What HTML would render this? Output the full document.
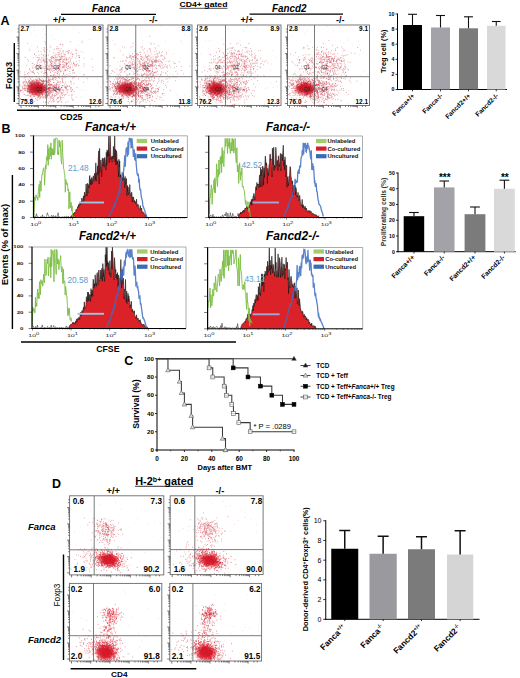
<!DOCTYPE html>
<html><head><meta charset="utf-8"><style>
html,body{margin:0;padding:0;background:#fff;overflow:hidden;}
svg{display:block;}
text{font-family:"Liberation Sans",sans-serif;}
</style></head><body>
<svg width="520" height="678" viewBox="0 0 520 678">
<defs><radialGradient id="rg"><stop offset="0" stop-color="#d0121e" stop-opacity=".95"/><stop offset=".55" stop-color="#d41a26" stop-opacity=".7"/><stop offset="1" stop-color="#e03038" stop-opacity="0"/></radialGradient></defs>
<rect width="520" height="678" fill="#fff"/>
<text x="0.5" y="24.5" font-size="12.5" font-weight="bold" text-anchor="start" fill="#000">A</text>
<text x="92" y="11.8" font-size="11" font-weight="bold" font-style="italic" text-anchor="start" fill="#000" textLength="28.3" lengthAdjust="spacingAndGlyphs">Fanca</text>
<line x1="61" y1="14.3" x2="156" y2="14.3" stroke="#000" stroke-width="1.3"/>
<text x="179.5" y="6.6" font-size="7" font-weight="bold" text-anchor="start" fill="#000" textLength="48" lengthAdjust="spacingAndGlyphs">CD4+ gated</text>
<line x1="179.5" y1="8.3" x2="227.5" y2="8.3" stroke="#000" stroke-width="0.7"/>
<text x="272" y="11.8" font-size="11" font-weight="bold" font-style="italic" text-anchor="start" fill="#000" textLength="34.5" lengthAdjust="spacingAndGlyphs">Fancd2</text>
<line x1="249.6" y1="14.1" x2="343" y2="14.1" stroke="#000" stroke-width="1.3"/>
<text x="53" y="22.5" font-size="9" font-weight="bold" text-anchor="start" fill="#000">+/+</text>
<text x="149" y="22.5" font-size="9" font-weight="bold" text-anchor="start" fill="#000">-/-</text>
<text x="240.5" y="22.5" font-size="9" font-weight="bold" text-anchor="start" fill="#000">+/+</text>
<text x="336" y="22.5" font-size="9" font-weight="bold" text-anchor="start" fill="#000">-/-</text>
<defs><clipPath id="s10"><rect x="19" y="25" width="84" height="80.5"/></clipPath></defs>
<g clip-path="url(#s10)">
<ellipse cx="36.9" cy="88.8" rx="11.5" ry="7.5" fill="url(#rg)" opacity="1.0"/>
<ellipse cx="36.9" cy="88.8" rx="6.5" ry="4.2" fill="url(#rg)" opacity="0.85"/>
<path d="M31.9 85.7h.8M33.4 88.8h.8M35.8 88.7h.8M40.7 91.5h.8M39.0 87.5h.8M33.5 85.7h.8M35.4 88.1h.8M32.5 84.6h.8M38.3 83.2h.8M36.1 89.6h.8M32.5 84.6h.8M33.5 89.9h.8M36.3 82.9h.8M35.0 91.2h.8M41.3 90.9h.8M35.8 82.9h.8M37.7 88.1h.8M37.2 93.1h.8M37.7 89.4h.8M39.6 88.1h.8M33.9 85.9h.8M40.4 90.4h.8M34.7 91.6h.8M37.7 84.7h.8M39.6 88.5h.8M30.9 89.2h.8M35.3 87.1h.8M39.6 82.4h.8M31.2 86.5h.8M38.0 86.7h.8M32.4 84.8h.8M36.4 90.4h.8M30.4 81.5h.8M35.6 87.2h.8M32.8 89.8h.8M40.5 87.3h.8M35.3 90.0h.8M35.0 84.1h.8M36.6 85.8h.8M38.4 87.2h.8M36.0 89.9h.8M36.3 86.6h.8M32.4 93.0h.8M41.9 84.7h.8M32.2 89.6h.8M34.3 88.2h.8M40.6 89.4h.8M36.3 87.0h.8M36.5 89.6h.8M44.7 92.7h.8M36.0 91.1h.8M37.4 84.2h.8M36.4 91.4h.8M34.2 90.9h.8M35.5 88.4h.8M31.5 93.9h.8M38.9 91.7h.8M34.9 83.9h.8M42.4 87.1h.8M44.3 89.0h.8M44.2 87.3h.8M29.0 89.5h.8M36.6 88.5h.8M41.6 86.5h.8M31.1 84.3h.8M29.3 82.2h.8M31.1 84.9h.8M34.8 84.7h.8M36.2 90.6h.8M35.8 89.5h.8M32.6 88.6h.8M38.7 86.6h.8M29.6 86.7h.8M36.4 92.3h.8M34.5 92.5h.8M25.5 85.6h.8M33.9 86.5h.8M33.7 87.4h.8M43.4 88.4h.8M41.3 88.3h.8M36.5 81.0h.8M36.4 89.6h.8M31.0 85.4h.8M32.2 93.4h.8M31.6 85.1h.8M23.9 81.6h.8M36.9 84.2h.8M23.7 85.3h.8M36.4 88.6h.8M37.6 86.2h.8M48.4 87.8h.8M37.9 84.3h.8M33.2 82.9h.8M36.9 86.7h.8M31.5 81.3h.8M38.4 90.4h.8M39.7 88.0h.8M39.1 90.8h.8M38.3 92.3h.8M35.3 88.3h.8M29.3 93.0h.8M32.8 88.4h.8M39.0 86.0h.8M36.0 89.9h.8M35.8 87.1h.8M34.9 85.8h.8M35.5 89.0h.8M38.4 91.5h.8M36.6 86.6h.8M40.1 89.6h.8M40.9 89.3h.8M38.8 89.6h.8M39.7 85.7h.8M36.0 88.6h.8M44.1 89.0h.8M38.5 87.9h.8M27.3 90.6h.8M39.5 92.2h.8M30.4 88.2h.8M37.3 83.7h.8M38.6 86.7h.8M38.7 83.6h.8M32.6 85.6h.8M29.7 87.4h.8M42.3 88.9h.8M39.3 92.8h.8M39.0 87.4h.8M28.0 88.1h.8M35.0 86.7h.8M39.7 90.2h.8M29.5 88.0h.8M35.1 90.5h.8M36.4 90.9h.8M33.6 86.6h.8M34.1 87.4h.8M35.4 91.5h.8M32.1 87.9h.8M31.3 83.3h.8M33.9 83.5h.8M37.3 86.2h.8M34.1 89.2h.8M43.5 87.6h.8M27.8 85.9h.8M36.5 91.5h.8M36.4 85.6h.8M40.7 92.0h.8M35.7 89.0h.8M38.2 96.0h.8M34.0 86.7h.8M36.2 90.4h.8M35.4 89.7h.8M40.7 94.6h.8M36.0 87.4h.8M35.2 82.8h.8M31.5 88.1h.8M37.4 96.0h.8M42.3 91.4h.8M43.3 87.4h.8M34.2 85.9h.8M36.0 94.6h.8M35.6 86.4h.8M36.9 90.9h.8M38.9 91.2h.8M31.4 85.2h.8M35.8 88.6h.8M42.9 85.5h.8M39.7 88.1h.8M39.6 86.9h.8M30.6 91.1h.8M38.1 82.9h.8M39.9 85.9h.8M36.4 88.3h.8M30.8 90.9h.8M34.5 92.9h.8M39.0 90.2h.8M38.0 94.4h.8M32.2 85.5h.8M33.9 91.4h.8M41.5 89.3h.8M38.0 83.8h.8M43.5 88.7h.8M37.4 87.6h.8M39.8 88.2h.8M37.4 88.8h.8M34.6 86.4h.8M38.6 89.8h.8M40.2 93.2h.8M31.3 82.3h.8M35.1 92.0h.8M36.7 83.1h.8M44.0 90.9h.8M30.2 85.2h.8M37.3 86.9h.8M36.3 89.9h.8M36.9 92.6h.8M36.0 92.7h.8M34.3 84.7h.8M27.5 84.7h.8M37.3 91.4h.8M21.5 86.3h.8M32.5 90.0h.8M34.6 89.1h.8M45.0 89.9h.8M36.1 91.3h.8M38.2 88.1h.8M29.7 86.5h.8M29.4 88.1h.8M39.4 89.0h.8M45.1 86.2h.8M38.7 88.8h.8M31.6 89.2h.8M40.5 92.2h.8M36.1 90.2h.8M33.9 92.4h.8M44.9 90.0h.8M37.9 85.5h.8M37.0 87.4h.8M37.9 84.5h.8M44.8 90.1h.8M41.8 90.6h.8M35.6 94.0h.8M41.9 84.8h.8M36.8 87.8h.8M33.3 94.4h.8M31.5 92.2h.8M29.2 91.5h.8M34.6 81.6h.8M38.2 90.1h.8M32.9 91.2h.8M29.4 90.8h.8M39.6 94.1h.8M35.2 90.9h.8M34.4 90.6h.8M38.1 91.1h.8M31.3 89.2h.8M38.7 93.2h.8M35.5 87.9h.8M39.9 90.5h.8M25.7 86.3h.8M40.8 88.1h.8M28.7 86.4h.8M36.9 85.7h.8M37.3 85.4h.8M36.1 88.6h.8M44.9 90.6h.8M42.6 89.9h.8M31.8 84.4h.8M40.4 84.3h.8M29.8 90.2h.8M33.2 84.6h.8M44.3 86.9h.8M39.6 88.7h.8M37.5 88.7h.8M41.4 93.4h.8M32.7 92.4h.8M35.9 87.8h.8M39.9 87.3h.8M32.7 92.3h.8M34.3 81.9h.8M22.1 87.4h.8M36.2 93.4h.8M31.6 84.2h.8M37.0 92.4h.8M43.2 89.4h.8M34.0 88.5h.8M43.7 89.2h.8M34.9 89.5h.8M37.8 88.9h.8M46.2 91.7h.8M37.4 87.6h.8M35.7 89.9h.8M40.2 87.1h.8M34.6 87.4h.8M32.8 91.2h.8M32.9 88.5h.8M41.4 86.3h.8M33.1 87.6h.8M39.2 89.4h.8M37.2 92.2h.8M34.4 86.2h.8M39.9 89.3h.8M41.2 92.3h.8M32.1 81.8h.8M39.5 88.8h.8M38.2 86.1h.8M40.6 88.4h.8M39.4 91.6h.8M37.5 88.4h.8M33.9 96.0h.8M30.9 89.8h.8M30.3 85.3h.8M43.3 87.3h.8M41.7 88.1h.8M40.9 84.9h.8M31.9 92.1h.8M38.4 85.7h.8M34.8 80.1h.8M35.5 84.4h.8M32.5 92.3h.8M34.4 86.3h.8M31.9 89.7h.8M39.3 86.3h.8M29.4 86.8h.8M37.4 82.7h.8M41.9 86.4h.8M37.2 86.2h.8M33.3 90.7h.8M37.2 84.0h.8M38.3 91.0h.8M36.0 91.4h.8M32.6 90.6h.8M37.7 89.0h.8M42.9 91.3h.8M35.3 89.7h.8M33.7 89.5h.8M42.7 92.7h.8M33.6 87.3h.8M39.6 90.5h.8M33.4 88.6h.8M38.5 93.1h.8M37.8 88.3h.8M31.9 83.7h.8M40.9 89.1h.8M34.7 91.0h.8M38.9 88.4h.8M40.0 87.6h.8M40.0 89.9h.8M34.8 87.0h.8M33.5 90.6h.8M36.2 85.3h.8M40.0 90.2h.8M36.8 89.0h.8M35.1 86.5h.8M40.6 85.6h.8M29.9 83.6h.8M40.6 85.7h.8M35.5 86.1h.8M32.1 87.2h.8M36.1 94.0h.8M35.2 88.9h.8M45.7 93.7h.8M39.5 91.4h.8M36.6 90.8h.8M38.0 86.2h.8M44.6 89.5h.8M39.4 87.3h.8M31.4 82.6h.8M22.1 88.2h.8M29.0 85.8h.8M36.8 84.0h.8M34.4 89.2h.8M35.7 89.9h.8M24.9 88.5h.8M40.6 85.0h.8M40.2 87.7h.8M35.6 89.9h.8M30.1 89.9h.8M33.5 90.2h.8M36.4 89.2h.8M33.1 87.8h.8M31.5 85.7h.8M30.5 87.3h.8M32.3 94.6h.8M32.8 81.5h.8M41.7 87.9h.8M38.9 88.8h.8M33.2 86.1h.8M31.9 91.8h.8M39.6 84.9h.8M41.1 90.6h.8M29.4 84.9h.8M38.4 89.4h.8M45.8 89.5h.8M40.9 87.4h.8M36.1 88.2h.8M36.4 88.8h.8M37.0 83.6h.8M39.7 85.4h.8M40.3 90.7h.8M39.7 87.0h.8M39.2 92.0h.8M32.7 80.4h.8M50.7 88.8h.8M33.0 82.8h.8M27.2 73.9h.8M28.4 81.8h.8M30.0 96.8h.8M36.1 86.2h.8M37.7 84.6h.8M47.5 95.7h.8M31.2 92.5h.8M43.3 102.2h.8M47.4 82.9h.8M34.1 92.1h.8M42.0 95.2h.8M36.3 89.6h.8M49.2 92.9h.8M37.2 100.2h.8M36.9 89.3h.8M30.7 89.1h.8M23.7 94.4h.8M19.8 90.6h.8M30.7 89.5h.8M49.5 90.1h.8M41.4 85.9h.8M34.9 94.2h.8M31.5 92.1h.8M38.9 86.7h.8M45.1 84.8h.8M40.0 82.3h.8M35.4 81.9h.8M38.8 93.1h.8M45.4 91.6h.8M39.2 86.5h.8M34.3 83.4h.8M53.8 90.0h.8M36.2 88.9h.8M30.7 95.6h.8M33.7 83.1h.8M51.5 96.1h.8M42.6 86.8h.8M48.9 89.9h.8M39.4 94.3h.8M38.6 86.3h.8M20.0 91.8h.8M19.1 82.2h.8M29.6 84.4h.8M33.3 89.7h.8M33.7 73.7h.8M36.1 81.7h.8M32.7 80.8h.8M34.9 85.9h.8M42.3 90.4h.8M43.6 81.3h.8M47.0 86.4h.8M39.5 91.2h.8M42.2 87.7h.8M25.1 90.3h.8M46.6 94.9h.8M45.8 97.0h.8M44.2 87.0h.8M42.7 83.5h.8M36.4 88.6h.8M45.7 87.7h.8M35.1 85.2h.8M40.6 80.1h.8M18.8 93.9h.8M46.5 92.4h.8M39.6 85.4h.8M24.7 88.6h.8M27.8 91.4h.8M38.7 81.4h.8M38.7 79.7h.8M31.0 91.9h.8M31.1 85.9h.8M31.6 84.8h.8M44.4 91.2h.8M40.9 81.2h.8M35.0 84.4h.8M38.3 83.6h.8M45.0 102.4h.8M38.6 86.0h.8M43.8 81.5h.8M33.4 92.3h.8M34.7 88.1h.8M48.5 91.2h.8M42.2 84.6h.8M54.6 89.0h.8M41.4 89.6h.8M37.4 82.8h.8M35.8 89.1h.8M48.9 91.1h.8M34.6 89.5h.8M39.4 88.7h.8M40.1 97.1h.8M38.1 82.8h.8M33.8 87.0h.8M32.4 89.0h.8M45.5 80.5h.8M29.4 85.6h.8M43.1 80.9h.8M45.9 97.3h.8M47.4 91.3h.8M27.8 85.3h.8M33.0 88.9h.8M45.2 92.7h.8M31.1 92.8h.8M47.4 85.6h.8M30.6 85.8h.8M40.8 84.5h.8M47.5 91.1h.8M44.6 87.2h.8M31.3 90.3h.8M54.5 95.1h.8M49.2 88.6h.8M34.0 88.8h.8M43.4 90.2h.8M29.2 80.6h.8M40.5 88.7h.8M59.8 89.0h.8M30.7 91.5h.8M35.5 88.8h.8M45.8 84.9h.8M34.0 85.0h.8M32.0 84.6h.8M35.0 94.8h.8M36.0 83.4h.8M36.2 85.0h.8M38.0 88.2h.8M31.1 86.2h.8M41.9 95.4h.8M36.6 95.0h.8M45.7 83.1h.8M33.3 72.2h.8M28.6 86.1h.8M30.2 87.6h.8M34.1 89.5h.8M33.1 89.8h.8M38.1 89.6h.8M44.5 85.6h.8M51.5 90.4h.8M40.3 88.2h.8M34.5 81.9h.8M34.1 81.4h.8M27.6 94.8h.8M37.7 87.3h.8M29.6 87.5h.8M37.5 91.5h.8M36.2 89.1h.8M47.0 92.2h.8M45.8 81.6h.8M35.1 94.0h.8M38.7 95.6h.8M35.2 93.9h.8M22.7 83.0h.8M38.8 83.0h.8M21.2 90.5h.8M51.5 91.7h.8M26.8 86.9h.8M26.6 76.9h.8M41.7 91.6h.8M37.9 82.0h.8M16.7 88.5h.8M36.4 93.1h.8M24.1 74.8h.8M44.3 96.6h.8M45.3 92.2h.8M38.1 91.4h.8M31.9 98.0h.8M49.6 80.9h.8M46.6 77.8h.8M39.1 86.5h.8M48.6 90.0h.8M34.8 93.7h.8M30.3 83.2h.8M47.8 91.7h.8M37.8 85.1h.8M35.6 85.9h.8M39.3 89.2h.8M35.7 87.6h.8M48.7 92.8h.8M40.0 87.9h.8M39.2 88.2h.8M38.6 90.4h.8M31.5 84.0h.8M17.1 79.8h.8M37.2 97.9h.8M53.3 88.8h.8M12.3 86.2h.8M39.5 95.3h.8M30.2 85.7h.8M34.5 87.7h.8M26.7 88.5h.8M31.1 87.8h.8M35.9 76.7h.8M38.3 82.1h.8M28.0 81.9h.8M25.3 85.1h.8M14.6 81.5h.8M37.1 89.5h.8M44.8 94.2h.8M44.6 87.9h.8M30.1 78.5h.8M31.8 87.6h.8M33.4 82.8h.8M43.7 98.0h.8M34.5 94.3h.8M41.4 83.9h.8M37.8 85.2h.8M46.7 95.4h.8M40.9 87.2h.8M41.1 90.5h.8M47.1 95.3h.8M43.5 83.0h.8M42.4 94.2h.8M34.2 83.3h.8M43.2 83.1h.8M32.7 86.1h.8M29.0 77.6h.8M51.0 88.2h.8M25.7 95.5h.8M38.4 95.3h.8M49.7 85.5h.8M43.1 92.9h.8M30.2 82.8h.8M46.2 90.5h.8M28.6 83.4h.8M37.2 84.9h.8M52.7 101.2h.8M44.4 87.1h.8M28.6 84.8h.8M57.0 98.3h.8M31.4 86.4h.8M46.9 88.5h.8M35.2 91.5h.8M45.5 90.5h.8M56.7 92.3h.8M36.3 80.1h.8M29.8 87.6h.8M36.6 82.2h.8M60.6 94.6h.8M40.8 88.6h.8M36.7 78.8h.8M38.5 83.8h.8M27.2 95.6h.8M38.2 90.6h.8M37.0 86.4h.8M28.2 91.4h.8M29.8 81.9h.8M28.2 89.5h.8M41.8 92.7h.8M36.7 87.9h.8M48.3 82.9h.8M43.1 90.3h.8M33.7 83.9h.8M25.2 79.7h.8M28.2 85.7h.8M54.0 87.4h.8M36.1 86.2h.8M26.0 82.5h.8M49.5 90.2h.8M25.5 76.9h.8M48.4 88.4h.8M26.6 90.9h.8M35.5 85.1h.8M37.0 95.3h.8M29.9 91.5h.8M38.5 86.0h.8M50.0 88.4h.8M38.8 86.4h.8M27.0 88.8h.8M28.9 96.1h.8M49.9 87.3h.8M32.8 83.9h.8M51.3 84.4h.8M28.5 82.7h.8M30.3 94.9h.8M34.4 89.1h.8M36.0 87.5h.8M53.4 99.4h.8M41.7 85.9h.8M56.1 91.4h.8M30.1 83.6h.8M37.8 92.1h.8M15.0 87.6h.8M36.9 91.1h.8M30.4 92.5h.8M33.6 93.6h.8M56.2 92.2h.8M40.4 90.4h.8M23.9 89.1h.8M25.4 74.6h.8M37.0 91.8h.8M30.6 79.5h.8M48.2 81.9h.8M45.9 88.1h.8M28.3 88.7h.8M17.4 82.2h.8M36.9 87.8h.8M48.0 84.5h.8M41.4 87.9h.8M43.1 90.9h.8M46.2 88.8h.8M48.5 89.8h.8M31.3 87.9h.8M38.4 96.0h.8M28.0 87.4h.8M27.2 91.7h.8M44.4 92.5h.8M26.0 81.7h.8M36.6 90.2h.8M43.1 86.9h.8M38.5 86.8h.8M33.4 86.3h.8M28.7 92.1h.8M48.6 92.8h.8M33.8 95.3h.8M29.7 93.1h.8M45.1 95.4h.8M23.5 88.5h.8M33.4 91.9h.8M38.9 78.3h.8M42.7 98.1h.8M41.4 92.8h.8M39.0 91.4h.8M33.5 96.4h.8M56.4 87.7h.8M41.9 87.5h.8M51.1 91.9h.8M45.1 89.1h.8M47.1 94.2h.8M41.3 92.4h.8M26.8 92.0h.8M30.3 85.4h.8M38.7 92.9h.8M45.4 91.5h.8M40.3 92.9h.8M31.8 88.5h.8M32.9 80.0h.8M28.9 93.2h.8M33.3 80.3h.8M38.2 85.9h.8M34.1 86.7h.8M40.0 90.0h.8M36.6 89.6h.8M37.0 90.4h.8M43.5 89.2h.8M53.6 86.0h.8M34.0 87.5h.8M48.6 95.3h.8M41.3 85.7h.8M42.0 89.5h.8M36.1 95.0h.8M50.7 92.5h.8M33.7 90.0h.8M30.9 81.1h.8M23.8 85.9h.8M35.3 84.7h.8M33.3 86.4h.8M28.8 89.1h.8M49.7 88.8h.8M23.7 86.3h.8M38.7 91.5h.8M45.7 93.4h.8M45.8 89.3h.8M40.4 85.6h.8M33.8 91.9h.8M35.7 81.3h.8M22.1 90.0h.8M34.4 85.5h.8M31.0 89.6h.8M36.5 87.0h.8M34.9 87.2h.8M44.3 90.2h.8M47.5 80.5h.8M31.6 91.6h.8M31.5 86.8h.8M34.4 88.5h.8M39.7 98.1h.8M45.1 90.2h.8M41.5 91.5h.8M37.3 85.5h.8M40.9 92.1h.8M32.0 87.3h.8M40.7 90.8h.8M50.7 89.0h.8M32.0 90.1h.8M29.5 86.5h.8M22.7 88.7h.8M55.4 88.7h.8M34.6 90.9h.8M45.1 81.7h.8M35.4 88.7h.8M37.5 89.8h.8M35.9 87.0h.8M28.6 95.4h.8M37.4 93.8h.8M36.7 88.9h.8M36.1 91.1h.8M37.6 81.1h.8M57.8 92.0h.8M31.8 80.6h.8M31.1 86.5h.8M30.1 90.4h.8M25.6 87.6h.8M39.3 83.8h.8M29.0 83.4h.8M38.2 86.8h.8M34.2 89.3h.8M46.1 86.6h.8M28.1 86.6h.8M36.4 94.2h.8M44.3 90.3h.8M32.2 94.4h.8M33.5 90.8h.8M42.5 94.2h.8M33.6 96.5h.8M46.9 89.5h.8M37.6 80.6h.8M41.4 92.7h.8M32.2 88.8h.8M30.5 100.6h.8M34.1 89.2h.8M42.5 88.1h.8M41.7 94.0h.8M54.0 96.6h.8M56.0 86.1h.8M32.6 83.2h.8M38.2 86.8h.8M34.8 89.0h.8M40.4 85.2h.8M39.2 89.0h.8M36.7 94.7h.8M24.3 84.9h.8M33.7 86.2h.8M34.2 84.8h.8M33.2 90.8h.8M41.6 83.2h.8M23.4 83.8h.8M24.2 87.9h.8M39.6 79.9h.8M41.6 88.5h.8M29.0 92.6h.8M54.9 90.4h.8M39.9 84.3h.8M41.6 87.5h.8M43.1 88.9h.8M40.8 87.0h.8M27.2 89.6h.8M51.9 79.6h.8M40.5 84.7h.8M27.3 88.8h.8M37.3 89.7h.8M41.0 80.5h.8M49.8 97.0h.8M33.2 88.2h.8M28.5 88.8h.8M38.5 90.0h.8M36.0 91.2h.8M38.4 88.0h.8M39.9 91.9h.8M43.1 91.4h.8M48.4 88.5h.8M47.9 88.1h.8M35.0 86.8h.8M45.0 87.7h.8M30.1 89.9h.8M31.8 86.9h.8M37.5 89.0h.8M45.6 89.0h.8M27.4 91.1h.8M31.6 82.5h.8M34.3 91.6h.8M26.9 83.5h.8M45.1 97.7h.8M37.7 92.7h.8M39.3 88.7h.8M29.8 88.3h.8M33.4 86.9h.8M38.3 90.2h.8M30.5 85.2h.8M42.8 96.9h.8M38.1 92.3h.8M43.5 87.1h.8M43.4 86.0h.8M27.2 84.8h.8M40.8 85.3h.8M44.1 86.2h.8M42.1 88.3h.8M48.1 88.4h.8M36.8 88.0h.8M29.8 89.7h.8M30.9 83.8h.8M34.8 86.5h.8M48.3 87.8h.8M48.0 79.4h.8M42.7 88.4h.8M51.4 85.1h.8M37.0 88.7h.8M18.6 85.3h.8" stroke="#c81c2a" stroke-width=".8" stroke-opacity=".6"/>
<path d="M70.3 89.8h.8M49.5 87.3h.8M56.4 84.0h.8M30.3 91.9h.8M27.9 87.3h.8M20.0 90.4h.8M35.8 87.8h.8M42.0 89.4h.8M36.1 83.7h.8M49.2 95.2h.8M24.6 82.2h.8M36.1 83.1h.8M50.7 87.8h.8M37.2 89.5h.8M54.7 75.7h.8M46.1 86.6h.8M36.6 86.8h.8M19.6 85.7h.8M44.2 85.2h.8M27.3 82.3h.8M48.7 98.2h.8M40.9 91.9h.8M54.0 90.5h.8M31.5 89.1h.8M59.0 84.9h.8M36.4 80.1h.8M42.4 81.9h.8M49.6 93.6h.8M35.1 85.4h.8M41.4 81.1h.8M35.0 98.6h.8M41.2 68.0h.8M55.1 88.8h.8M40.9 96.6h.8M55.2 95.7h.8M55.1 77.8h.8M50.3 84.1h.8M39.5 94.0h.8M51.3 90.4h.8M34.9 94.2h.8M37.0 88.6h.8M43.5 90.5h.8M30.4 91.3h.8M46.1 84.6h.8M45.0 95.7h.8M27.9 85.8h.8M31.7 83.9h.8M49.4 86.1h.8M33.4 94.0h.8M46.2 93.1h.8M65.2 87.4h.8M22.5 99.5h.8M41.0 89.0h.8M49.7 91.9h.8M28.2 80.9h.8M30.2 82.8h.8M41.7 91.5h.8M47.8 82.1h.8M40.4 83.3h.8M36.2 91.9h.8M42.5 82.0h.8M46.2 90.9h.8M45.4 87.9h.8M41.9 94.1h.8M38.3 90.3h.8M34.6 92.2h.8M56.3 88.2h.8M43.8 89.8h.8M39.9 97.7h.8M43.3 80.5h.8M51.9 85.3h.8M51.4 75.6h.8M53.1 82.5h.8M37.7 89.1h.8M46.9 81.6h.8M47.7 93.1h.8M41.0 88.2h.8M53.6 85.3h.8M47.5 89.6h.8M40.8 83.8h.8M29.5 90.3h.8M48.0 93.4h.8M39.8 89.4h.8M42.6 90.5h.8M39.9 95.8h.8M36.8 80.0h.8M40.6 85.9h.8M62.5 85.7h.8M30.9 94.7h.8M60.9 102.4h.8M34.7 82.7h.8M70.4 88.4h.8M28.7 91.4h.8M17.7 74.3h.8M37.6 90.9h.8M40.2 89.7h.8M52.6 98.8h.8M32.6 82.8h.8M44.2 85.1h.8M32.7 86.0h.8M29.6 88.1h.8M49.4 87.3h.8M35.1 79.3h.8M32.3 81.7h.8M58.2 101.7h.8M37.7 89.6h.8M64.5 84.0h.8M64.9 86.7h.8M33.3 101.8h.8M36.8 90.4h.8M51.9 89.4h.8M31.9 85.1h.8M50.6 98.4h.8M49.4 79.2h.8M47.7 85.3h.8M56.4 95.1h.8M36.7 82.0h.8M35.8 89.2h.8M49.0 83.7h.8M41.7 97.5h.8M57.1 84.9h.8M59.7 96.6h.8M45.7 94.1h.8M32.7 89.1h.8M46.6 92.8h.8M32.7 95.3h.8M42.6 82.0h.8M60.1 98.5h.8M42.8 84.8h.8M45.9 81.3h.8M20.2 98.7h.8M71.6 94.3h.8M45.6 84.1h.8M29.1 81.1h.8M49.4 88.2h.8M40.7 93.0h.8M38.3 94.2h.8M13.8 85.9h.8M52.5 100.1h.8M48.6 94.6h.8M15.0 89.6h.8M42.1 81.3h.8M41.8 88.3h.8M37.6 91.5h.8M56.5 93.4h.8M48.5 82.8h.8M46.2 89.4h.8M45.6 95.4h.8M43.4 82.4h.8M48.9 84.5h.8M38.9 85.9h.8M41.3 72.3h.8M31.7 86.9h.8M40.7 86.4h.8M42.2 89.8h.8M30.3 96.4h.8M38.9 88.4h.8M38.9 79.2h.8M26.9 85.7h.8M57.6 82.2h.8M43.8 80.9h.8M41.7 81.3h.8M27.6 79.4h.8M32.5 86.4h.8M36.3 82.2h.8M45.7 90.7h.8M39.1 91.6h.8M39.6 80.0h.8M53.0 86.5h.8M36.4 100.0h.8M25.0 81.0h.8M32.3 94.3h.8M49.6 92.8h.8M33.6 83.4h.8M29.7 92.3h.8M31.1 83.4h.8M24.9 90.0h.8M38.1 97.5h.8M46.9 82.7h.8M23.7 78.2h.8M42.0 85.2h.8M36.3 88.2h.8M24.5 77.1h.8M33.2 83.5h.8M24.5 94.3h.8M35.7 76.2h.8M42.3 92.7h.8M66.8 86.1h.8M42.1 81.0h.8M30.9 71.9h.8M36.1 88.4h.8M22.6 92.1h.8M73.9 76.7h.8M42.1 83.9h.8M39.4 85.7h.8M59.8 91.0h.8M45.0 97.7h.8M39.3 98.9h.8M31.7 82.3h.8M43.8 86.7h.8M39.7 85.2h.8M20.5 90.1h.8M37.1 89.2h.8M36.7 88.9h.8M22.5 82.1h.8M35.0 86.7h.8M52.8 92.0h.8M57.7 98.4h.8M39.1 95.4h.8M47.7 76.5h.8M38.6 96.9h.8M61.0 87.3h.8M33.2 90.4h.8M40.9 85.7h.8M44.0 77.2h.8M47.8 94.8h.8M39.0 82.0h.8M43.3 91.3h.8M36.6 89.1h.8M27.9 72.7h.8M47.7 88.9h.8M44.1 73.8h.8M33.1 90.7h.8M23.0 82.0h.8M24.0 90.2h.8M42.4 94.7h.8M19.5 84.3h.8M30.9 98.1h.8M41.5 86.4h.8M36.0 80.7h.8M29.0 83.5h.8M43.3 81.2h.8M55.0 89.8h.8M40.5 92.4h.8M40.1 80.0h.8M64.4 69.1h.8M39.9 91.3h.8M43.0 80.0h.8M34.7 83.0h.8M37.5 84.8h.8M48.6 85.5h.8M29.1 89.7h.8M46.7 97.1h.8M25.5 83.2h.8M29.2 86.5h.8M32.4 92.4h.8M40.6 84.0h.8M47.2 88.2h.8M47.7 102.4h.8M33.1 83.5h.8M57.6 86.9h.8M72.3 99.9h.8M65.5 102.7h.8M50.9 85.9h.8M57.5 89.8h.8M57.5 101.6h.8M70.7 91.2h.8M48.1 78.8h.8M64.8 105.4h.8M61.7 87.7h.8M51.5 84.2h.8M61.1 87.8h.8M67.7 75.3h.8M52.1 93.1h.8M52.1 86.6h.8M57.7 89.7h.8M43.9 88.5h.8M50.0 90.9h.8M41.8 88.3h.8M41.8 78.8h.8M53.3 86.9h.8M71.9 90.0h.8M67.5 101.4h.8M46.1 93.2h.8M56.7 80.4h.8M55.7 85.0h.8M39.3 91.6h.8M58.5 89.2h.8M53.5 89.4h.8M59.5 76.2h.8M62.9 82.6h.8M65.6 88.4h.8M53.4 88.1h.8M71.5 98.7h.8M52.8 88.5h.8M60.2 88.2h.8M55.6 85.3h.8M70.3 81.1h.8M41.3 81.0h.8M50.0 87.8h.8M50.7 97.5h.8M42.8 83.4h.8M66.0 87.6h.8M57.7 97.5h.8M50.4 91.0h.8M49.9 79.2h.8M49.3 88.1h.8M65.6 94.7h.8M61.7 93.3h.8M53.6 89.2h.8M53.2 90.3h.8M73.6 91.5h.8M56.4 94.6h.8M57.5 82.4h.8M54.3 95.6h.8M59.3 88.8h.8M49.9 84.4h.8M52.8 89.5h.8M47.5 91.2h.8M63.8 66.6h.8M66.7 92.4h.8M57.6 93.9h.8M45.3 92.7h.8M44.6 87.9h.8M50.3 93.3h.8M59.1 90.9h.8M60.1 97.7h.8M60.2 89.6h.8M65.8 89.1h.8M51.8 94.5h.8M61.2 97.5h.8M48.0 84.5h.8M52.7 95.5h.8M68.5 95.3h.8M55.0 85.4h.8M49.1 70.1h.8M58.3 77.5h.8M44.8 85.2h.8M65.5 87.5h.8M59.5 100.6h.8M55.9 83.5h.8M64.8 94.7h.8M51.0 102.1h.8M52.1 90.8h.8M58.6 82.3h.8M49.2 88.3h.8M63.4 94.4h.8M59.1 78.0h.8M56.9 89.5h.8M67.2 90.1h.8M71.5 95.5h.8M58.5 86.3h.8M58.1 85.2h.8M62.2 78.4h.8M51.8 88.1h.8M38.7 89.9h.8M61.6 92.6h.8M56.4 84.4h.8M48.5 89.2h.8M62.9 89.9h.8M40.3 86.0h.8M52.5 90.8h.8M48.4 88.6h.8M56.2 87.3h.8M67.4 92.1h.8M62.4 85.7h.8M58.3 76.4h.8M70.3 87.7h.8M62.1 81.6h.8M70.8 81.8h.8M48.9 87.4h.8M53.5 82.5h.8M52.9 97.5h.8M57.9 97.5h.8M66.1 90.1h.8M59.4 91.0h.8M48.3 90.0h.8M61.3 87.4h.8M57.7 81.8h.8M65.7 86.8h.8M44.2 94.7h.8M63.5 90.6h.8M60.7 93.3h.8M55.8 90.9h.8M56.1 99.8h.8M54.3 77.6h.8M53.7 101.1h.8M48.4 80.7h.8M53.5 101.6h.8M45.8 89.3h.8M35.1 87.9h.8M46.5 98.2h.8M41.2 85.8h.8M47.0 96.5h.8M69.4 86.5h.8M57.2 88.9h.8M60.6 83.2h.8M36.2 86.4h.8M49.7 84.4h.8M49.4 80.2h.8M59.2 90.4h.8M53.8 86.5h.8M50.0 81.5h.8M62.6 97.6h.8M46.6 84.5h.8M41.3 89.6h.8M67.7 89.6h.8M63.3 73.9h.8M35.5 97.1h.8M45.9 85.1h.8M50.1 100.1h.8M48.8 80.2h.8M71.9 89.5h.8M55.1 79.5h.8M63.1 92.1h.8M54.2 84.8h.8M62.1 89.9h.8M52.2 78.3h.8M57.4 102.3h.8M54.8 93.4h.8M55.3 88.1h.8M61.6 85.6h.8M48.5 80.4h.8M60.4 99.5h.8M41.9 87.5h.8M49.3 87.5h.8M55.7 88.9h.8M59.6 90.0h.8M59.9 81.8h.8M63.8 85.9h.8M53.7 89.3h.8M52.0 87.8h.8M62.3 95.8h.8M59.5 92.3h.8M43.0 90.0h.8M38.5 78.0h.8M45.0 107.2h.8M53.4 80.2h.8M64.1 95.7h.8M57.9 93.2h.8M46.5 95.3h.8M41.7 83.9h.8M52.3 79.2h.8M49.3 101.5h.8M42.7 96.4h.8M41.4 84.1h.8M71.4 97.1h.8M45.2 96.7h.8M51.8 95.0h.8M61.4 90.2h.8M56.0 86.2h.8M71.0 87.7h.8M46.8 91.7h.8M46.6 87.8h.8M59.0 86.7h.8M47.6 89.1h.8M54.5 86.4h.8M48.0 94.4h.8M65.6 88.3h.8M48.8 87.4h.8M44.8 86.1h.8M54.9 87.2h.8M53.5 86.1h.8M69.0 85.8h.8M48.2 103.2h.8M37.7 96.4h.8M52.2 98.2h.8M75.9 97.2h.8M49.8 85.1h.8M44.6 90.7h.8M65.9 85.0h.8M76.6 87.4h.8M38.8 96.3h.8M61.9 95.2h.8M43.9 89.7h.8M51.9 96.2h.8M64.2 87.3h.8M56.8 76.7h.8M51.9 88.4h.8M59.4 95.9h.8M45.6 88.1h.8M72.9 100.0h.8M67.4 86.4h.8M44.8 88.7h.8M49.9 91.6h.8M60.9 101.3h.8M50.3 96.4h.8M71.2 91.6h.8M56.9 71.6h.8M61.3 93.0h.8" stroke="#c42838" stroke-width=".8" stroke-opacity=".6"/>
<path d="M46.8 69.0h.8M63.6 65.1h.8M64.0 56.7h.8M67.9 62.5h.8M66.3 59.8h.8M60.8 57.9h.8M66.7 68.2h.8M58.4 66.9h.8M55.0 57.6h.8M73.8 72.9h.8M68.0 66.0h.8M67.5 86.3h.8M34.7 67.2h.8M70.0 60.5h.8M58.6 65.0h.8M75.8 61.6h.8M56.8 75.2h.8M61.6 56.8h.8M45.5 80.2h.8M63.4 71.3h.8M59.2 65.8h.8M43.0 73.5h.8M44.4 52.0h.8M48.2 68.8h.8M54.7 77.3h.8M45.0 72.8h.8M56.8 57.3h.8M59.4 69.6h.8M54.4 72.5h.8M62.5 67.0h.8M45.9 58.2h.8M44.5 59.5h.8M66.4 74.6h.8M43.6 47.5h.8M62.6 62.3h.8M47.0 69.6h.8M50.9 57.2h.8M55.3 61.4h.8M74.6 66.1h.8M65.9 58.9h.8M43.4 75.9h.8M78.8 61.0h.8M43.5 49.4h.8M50.4 47.3h.8M75.5 50.3h.8M64.6 62.5h.8M43.2 59.8h.8M68.8 57.6h.8M62.5 51.6h.8M53.4 59.4h.8M56.0 78.2h.8M51.3 56.8h.8M54.6 56.3h.8M62.0 76.7h.8M97.3 76.4h.8M53.2 79.0h.8M39.2 82.5h.8M48.9 59.4h.8M51.6 69.0h.8M50.9 66.3h.8M64.5 62.6h.8M63.0 61.5h.8M83.8 74.6h.8M63.2 53.1h.8M63.8 55.0h.8M50.1 75.5h.8M59.5 54.3h.8M70.9 83.8h.8M42.9 58.0h.8M56.2 68.5h.8M53.2 57.4h.8M49.7 70.1h.8M51.1 67.8h.8M47.0 62.1h.8M41.1 54.1h.8M58.4 63.5h.8M52.8 74.3h.8M73.5 63.4h.8M46.0 55.2h.8M50.8 63.5h.8M63.1 73.7h.8M65.7 76.9h.8M56.2 49.0h.8M53.0 68.5h.8M75.6 65.2h.8M69.4 67.3h.8M81.7 42.4h.8M49.4 60.9h.8M66.3 63.1h.8M50.9 61.9h.8M62.0 60.8h.8M41.5 57.1h.8M48.1 69.7h.8M50.6 64.9h.8M61.3 59.6h.8M61.7 67.0h.8M83.6 58.1h.8M58.6 70.4h.8M53.4 58.2h.8M55.4 72.2h.8M91.5 59.0h.8M36.0 65.7h.8M46.6 49.6h.8M45.3 43.8h.8M78.1 78.8h.8M72.3 73.0h.8M61.6 58.7h.8M45.2 66.1h.8M83.2 82.4h.8M56.5 72.9h.8M57.0 73.5h.8M56.5 54.6h.8M42.6 65.9h.8M65.5 63.4h.8M43.9 51.0h.8M46.3 75.1h.8M33.0 57.8h.8M52.6 61.9h.8M46.1 70.1h.8M59.3 59.2h.8M56.1 61.5h.8M59.3 56.6h.8M38.6 55.3h.8M64.3 58.8h.8M46.5 72.7h.8M44.0 70.9h.8M32.6 65.8h.8M83.5 74.9h.8M51.5 63.3h.8M64.6 70.7h.8M60.3 44.1h.8M63.4 64.3h.8M49.9 61.2h.8M49.0 81.9h.8M48.4 77.2h.8M92.3 67.1h.8M72.4 54.8h.8M83.8 64.0h.8M62.3 67.2h.8M39.0 57.7h.8M72.4 67.0h.8M67.7 52.9h.8M44.3 66.7h.8M59.5 61.0h.8M56.4 57.3h.8M67.6 59.6h.8M60.1 64.3h.8M55.7 68.8h.8M49.6 61.8h.8M71.0 63.1h.8M79.0 57.5h.8M56.3 60.3h.8M53.0 70.6h.8M43.2 55.2h.8M78.5 65.7h.8M79.0 57.0h.8M77.0 63.9h.8M58.9 73.9h.8M57.3 52.7h.8M65.4 52.0h.8M58.2 68.1h.8M64.2 59.6h.8M65.8 64.6h.8M61.5 55.7h.8M49.7 45.9h.8M52.2 57.3h.8M72.9 69.4h.8M54.1 49.4h.8M68.4 52.1h.8M58.0 67.9h.8M60.2 51.1h.8M44.0 48.1h.8M55.8 70.2h.8M58.9 67.7h.8M74.2 64.7h.8M55.3 60.2h.8M51.5 58.0h.8M48.9 65.8h.8M46.1 60.6h.8M68.3 68.2h.8M76.3 56.0h.8M58.2 52.7h.8M52.1 71.4h.8M49.5 60.2h.8M66.0 67.4h.8M35.5 55.8h.8M72.0 78.4h.8M62.1 80.9h.8M66.2 65.3h.8M52.0 61.7h.8M57.5 49.2h.8M55.3 63.9h.8M60.1 59.4h.8M81.3 51.7h.8M46.0 87.8h.8M53.3 66.8h.8M53.7 55.3h.8M51.5 58.4h.8M39.9 67.7h.8M62.9 59.5h.8M59.8 72.0h.8M63.0 66.8h.8M65.3 70.7h.8M58.1 72.2h.8M68.4 50.7h.8M50.1 68.7h.8M60.1 62.2h.8M46.8 76.1h.8M54.2 61.0h.8M62.2 44.5h.8M76.1 64.5h.8M59.2 59.6h.8M66.5 51.2h.8M50.1 75.5h.8M56.6 46.5h.8M57.9 54.4h.8M43.6 68.5h.8M53.0 77.9h.8M49.6 67.9h.8M43.5 50.9h.8M65.5 57.4h.8M62.2 64.6h.8M66.2 63.0h.8M55.7 64.2h.8M62.8 67.2h.8M53.6 77.9h.8M50.7 59.4h.8M36.8 57.6h.8M60.0 71.5h.8M62.0 75.7h.8M69.7 61.6h.8M86.6 78.4h.8M75.5 53.1h.8M68.0 53.2h.8M62.4 80.1h.8M31.8 63.7h.8M70.2 59.0h.8M52.0 56.6h.8M64.5 70.3h.8M73.2 63.3h.8M78.5 57.6h.8M45.5 56.1h.8M42.8 55.1h.8M56.7 69.7h.8M69.4 68.8h.8M67.3 51.4h.8M62.0 82.0h.8M53.6 64.8h.8M58.7 69.3h.8M62.5 45.2h.8M53.1 57.5h.8M61.6 56.8h.8M49.9 64.7h.8M63.4 77.0h.8M50.9 84.9h.8M61.0 78.8h.8M62.0 62.1h.8M67.3 63.7h.8M68.4 58.2h.8M46.1 72.1h.8M34.0 64.7h.8M47.6 67.2h.8M55.4 59.7h.8M56.1 59.3h.8M72.5 70.3h.8M50.5 57.7h.8M78.0 65.4h.8M69.6 64.9h.8M58.7 55.1h.8M72.3 76.9h.8M47.0 68.5h.8M75.6 66.8h.8M54.8 55.9h.8M71.7 64.8h.8M62.9 56.7h.8M38.3 51.3h.8M51.5 64.8h.8M70.2 67.0h.8M56.5 66.5h.8M51.4 63.9h.8M45.5 64.9h.8M43.7 56.9h.8M57.0 66.1h.8M59.0 64.8h.8M63.7 65.4h.8M65.3 66.9h.8M60.7 48.7h.8M73.1 63.7h.8M50.2 72.6h.8M61.5 56.7h.8M54.9 67.3h.8M57.3 73.6h.8M59.7 44.5h.8M70.8 52.9h.8M34.0 54.2h.8M63.0 50.7h.8M49.5 70.0h.8M72.3 70.6h.8M50.9 63.3h.8M69.1 62.9h.8M66.1 64.6h.8M34.0 54.3h.8M66.1 59.5h.8M46.2 67.0h.8M50.3 72.0h.8M48.9 66.3h.8M51.0 70.3h.8M50.1 62.6h.8M51.8 65.8h.8M56.9 67.8h.8M56.6 59.6h.8M70.2 67.9h.8M72.1 56.7h.8M74.4 64.7h.8M55.3 54.0h.8M44.1 63.9h.8M65.9 64.7h.8M65.2 54.7h.8M59.4 61.1h.8M72.1 54.1h.8M44.5 62.3h.8M58.5 60.5h.8M59.5 67.1h.8M52.2 76.8h.8M44.5 68.4h.8M29.3 68.6h.8M47.1 63.7h.8M57.8 55.9h.8M54.6 57.9h.8M52.9 68.8h.8M39.6 66.3h.8M49.1 68.1h.8M60.5 68.2h.8M56.5 65.5h.8M54.8 62.8h.8M63.0 73.0h.8M63.3 60.2h.8M41.4 58.8h.8M58.4 60.9h.8M69.6 73.7h.8M60.7 54.1h.8M60.3 59.6h.8M38.9 59.2h.8M51.6 66.1h.8M37.1 47.0h.8M59.2 75.2h.8M59.0 63.9h.8M59.9 58.8h.8M37.8 60.0h.8M53.1 52.3h.8M78.2 55.7h.8M65.1 82.3h.8M57.0 59.9h.8M51.6 68.4h.8M60.1 64.4h.8M32.5 63.3h.8M54.8 67.4h.8M44.5 61.2h.8M59.4 66.0h.8M64.1 54.3h.8M67.1 69.0h.8M44.4 62.2h.8M59.3 62.6h.8M37.0 63.1h.8M69.2 50.6h.8M62.0 79.2h.8M53.4 75.1h.8M83.4 66.3h.8M69.8 75.6h.8M52.5 65.7h.8M69.2 71.5h.8M58.4 59.9h.8M73.7 83.5h.8M66.6 70.3h.8M48.1 55.0h.8M52.5 68.3h.8M67.8 66.3h.8M53.9 63.1h.8M63.5 61.5h.8M51.0 79.3h.8M46.9 61.8h.8M75.6 65.1h.8M72.7 70.3h.8M51.1 61.1h.8M47.7 66.2h.8M65.6 58.2h.8M65.0 60.1h.8M27.3 43.3h.8M64.6 75.5h.8M78.7 55.3h.8M66.2 63.3h.8M57.3 48.1h.8M67.1 63.7h.8M58.2 70.7h.8M61.2 53.3h.8M75.8 49.7h.8M57.6 59.8h.8M75.3 58.0h.8M40.7 65.4h.8M44.6 41.7h.8M45.6 61.5h.8M47.2 76.8h.8M46.3 55.5h.8M51.2 65.3h.8M66.3 60.1h.8M58.5 48.5h.8M67.7 66.5h.8M59.8 70.4h.8M61.5 56.8h.8M52.0 66.6h.8M69.9 53.7h.8M59.2 52.8h.8M73.7 72.9h.8M46.0 74.0h.8M46.7 59.0h.8M64.7 77.7h.8M45.5 72.4h.8M58.7 59.8h.8M53.9 62.8h.8M55.0 59.7h.8M59.8 59.5h.8M73.6 77.6h.8M64.7 65.8h.8M71.4 58.2h.8M63.7 67.1h.8M76.2 53.7h.8M63.4 74.2h.8M57.7 66.9h.8M58.8 50.8h.8M47.4 65.0h.8M76.5 50.9h.8M54.4 74.7h.8M60.1 65.0h.8M58.9 56.9h.8M38.9 67.1h.8M69.9 82.3h.8M70.3 41.8h.8M60.0 57.2h.8M61.6 70.0h.8M44.6 68.8h.8M60.8 71.4h.8M64.9 69.8h.8M46.2 62.5h.8M67.8 61.7h.8M72.5 54.2h.8M58.8 69.5h.8M73.4 62.2h.8M92.6 70.4h.8M49.4 51.2h.8M47.8 59.8h.8M50.8 60.4h.8M39.7 62.4h.8M29.8 92.7h.8M36.6 80.4h.8M20.1 71.9h.8M34.0 73.3h.8M36.7 66.7h.8M39.0 64.8h.8M41.6 71.3h.8M46.7 68.3h.8M39.4 67.7h.8M37.7 57.5h.8M33.0 70.5h.8M45.0 67.4h.8M44.5 54.8h.8M42.6 67.2h.8M37.4 65.3h.8M35.1 68.2h.8M44.7 72.4h.8M41.7 60.6h.8M28.6 76.0h.8M26.9 59.6h.8M31.9 67.7h.8M36.2 64.8h.8M29.5 50.0h.8M47.2 74.2h.8M36.2 69.4h.8M32.7 72.5h.8M48.4 69.7h.8M25.1 57.4h.8M53.2 75.7h.8M28.7 73.3h.8M26.6 65.3h.8M31.9 71.8h.8M43.5 60.5h.8M38.1 73.7h.8M53.9 70.4h.8M43.3 60.9h.8M37.4 81.8h.8M42.5 68.3h.8M38.7 80.5h.8M37.7 60.3h.8M36.1 69.5h.8M41.2 61.8h.8M44.8 70.5h.8M46.8 69.6h.8M27.9 61.1h.8M43.0 59.4h.8M38.6 59.6h.8M37.6 83.1h.8M24.3 72.2h.8M50.7 65.7h.8M44.4 72.6h.8M37.6 61.3h.8M30.0 70.6h.8M46.6 65.4h.8M32.0 71.9h.8M35.0 66.6h.8M44.5 61.0h.8M40.7 51.5h.8M46.0 68.9h.8M29.0 69.7h.8M38.7 66.9h.8M31.7 77.5h.8M32.6 68.1h.8M40.0 60.0h.8M40.7 69.0h.8M37.1 72.6h.8M36.6 63.0h.8M53.4 67.0h.8" stroke="#c83848" stroke-width=".8" stroke-opacity=".6"/>
<path d="M96.9 79.0h.7M71.3 52.0h.7M97.8 83.2h.7M29.3 48.1h.7M79.8 89.7h.7M53.4 53.6h.7M33.4 96.3h.7M33.7 27.4h.7M83.6 52.8h.7M87.0 79.7h.7M43.1 29.1h.7M89.3 39.5h.7M82.3 40.7h.7M72.9 28.0h.7M58.8 61.7h.7M44.9 41.7h.7M25.5 67.2h.7M42.9 61.0h.7M51.6 54.2h.7M50.3 68.3h.7M20.7 96.3h.7M22.8 89.9h.7M64.6 98.4h.7M51.6 35.2h.7M72.5 50.7h.7M62.3 68.2h.7M95.8 96.4h.7M78.5 45.2h.7M24.3 57.0h.7M33.9 30.6h.7M31.2 98.8h.7M64.1 93.8h.7M100.1 87.4h.7M42.8 37.4h.7M36.0 37.0h.7M45.6 26.2h.7M55.9 48.5h.7M34.2 101.5h.7M29.4 49.8h.7M53.7 39.4h.7M78.9 32.5h.7M50.0 64.5h.7M66.5 34.2h.7M47.9 100.2h.7M39.0 81.8h.7M31.6 45.7h.7M80.8 96.7h.7M81.1 41.4h.7M79.7 71.8h.7M36.9 57.6h.7M52.6 87.2h.7M83.8 90.0h.7M76.3 75.8h.7M31.4 33.4h.7M28.8 80.0h.7M70.3 56.4h.7M45.4 34.6h.7M45.3 57.6h.7M28.8 88.5h.7M57.0 29.1h.7" stroke="#e08080" stroke-width=".7" stroke-opacity=".45"/>
</g>
<rect x="19" y="25" width="84" height="80.5" fill="none" stroke="#6a6a6a" stroke-width="0.9"/>
<line x1="46.4" y1="25" x2="46.4" y2="105.5" stroke="#5a5a5a" stroke-width="0.8"/>
<line x1="19" y1="76.7" x2="103" y2="76.7" stroke="#5a5a5a" stroke-width="0.8"/>
<path d="M19.0 103.5h-2.6M19.0 98.5h-1.5M19.0 95.6h-1.5M19.0 93.5h-1.5M19.0 91.9h-1.5M19.0 90.6h-1.5M19.0 89.4h-1.5M19.0 88.5h-1.5M19.0 87.6h-1.5M19.0 86.9h-2.6M19.0 81.9h-1.5M19.0 78.9h-1.5M19.0 76.9h-1.5M19.0 75.2h-1.5M19.0 73.9h-1.5M19.0 72.8h-1.5M19.0 71.9h-1.5M19.0 71.0h-1.5M19.0 70.2h-2.6M19.0 65.2h-1.5M19.0 62.3h-1.5M19.0 60.2h-1.5M19.0 58.6h-1.5M19.0 57.3h-1.5M19.0 56.2h-1.5M19.0 55.2h-1.5M19.0 54.4h-1.5M19.0 53.6h-2.6M19.0 48.6h-1.5M19.0 45.7h-1.5M19.0 43.6h-1.5M19.0 42.0h-1.5M19.0 40.7h-1.5M19.0 39.6h-1.5M19.0 38.6h-1.5M19.0 37.7h-1.5M19.0 37.0h-2.6M19.0 32.0h-1.5M19.0 29.0h-1.5M21.0 105.5v2.6M26.2 105.5v1.5M29.3 105.5v1.5M31.5 105.5v1.5M33.2 105.5v1.5M34.5 105.5v1.5M35.7 105.5v1.5M36.7 105.5v1.5M37.6 105.5v1.5M38.4 105.5v2.6M43.6 105.5v1.5M46.7 105.5v1.5M48.9 105.5v1.5M50.5 105.5v1.5M51.9 105.5v1.5M53.1 105.5v1.5M54.1 105.5v1.5M55.0 105.5v1.5M55.8 105.5v2.6M61.0 105.5v1.5M64.1 105.5v1.5M66.3 105.5v1.5M67.9 105.5v1.5M69.3 105.5v1.5M70.5 105.5v1.5M71.5 105.5v1.5M72.4 105.5v1.5M73.2 105.5v2.6M78.4 105.5v1.5M81.5 105.5v1.5M83.6 105.5v1.5M85.3 105.5v1.5M86.7 105.5v1.5M87.9 105.5v1.5M88.9 105.5v1.5M89.8 105.5v1.5M90.6 105.5v2.6M95.8 105.5v1.5M98.9 105.5v1.5" stroke="#3a3a3a" stroke-width=".65"/>
<text x="20.5" y="31.1" font-size="6.4" font-weight="bold" text-anchor="start" fill="#000">2.7</text>
<text x="101.5" y="31.1" font-size="6.4" font-weight="bold" text-anchor="end" fill="#000">8.9</text>
<text x="20.5" y="104.0" font-size="6.4" font-weight="bold" text-anchor="start" fill="#000">75.8</text>
<text x="101.5" y="104.0" font-size="6.4" font-weight="bold" text-anchor="end" fill="#000">12.6</text>
<text x="38.699999999999996" y="68.7" font-size="4.6" text-anchor="middle" fill="#222">Q1</text>
<text x="56.4" y="68.7" font-size="4.6" text-anchor="middle" fill="#222">Q2</text>
<text x="38.699999999999996" y="90.5" font-size="4.6" text-anchor="middle" fill="#222">Q3</text>
<text x="56.4" y="90.5" font-size="4.6" text-anchor="middle" fill="#222">Q4</text>
<defs><clipPath id="s11"><rect x="108" y="25" width="84" height="80.5"/></clipPath></defs>
<g clip-path="url(#s11)">
<ellipse cx="126.2" cy="88.8" rx="11.5" ry="7.5" fill="url(#rg)" opacity="1.0"/>
<ellipse cx="126.2" cy="88.8" rx="6.5" ry="4.2" fill="url(#rg)" opacity="0.85"/>
<path d="M126.4 92.5h.8M131.8 87.7h.8M124.9 86.8h.8M128.8 88.7h.8M129.6 83.5h.8M133.3 89.2h.8M129.3 88.5h.8M124.5 89.6h.8M130.0 88.4h.8M125.6 90.4h.8M122.3 83.5h.8M128.0 86.8h.8M117.6 85.0h.8M124.1 84.7h.8M119.5 87.7h.8M130.3 88.4h.8M122.9 89.2h.8M129.5 88.0h.8M128.7 91.9h.8M125.3 86.0h.8M127.8 89.4h.8M131.2 85.4h.8M123.3 85.6h.8M118.4 87.8h.8M128.6 86.6h.8M132.5 91.7h.8M129.1 90.1h.8M130.6 85.2h.8M129.0 90.6h.8M118.3 88.5h.8M125.1 90.6h.8M124.3 88.2h.8M127.8 86.1h.8M128.9 88.6h.8M128.5 87.3h.8M131.1 90.9h.8M125.4 90.3h.8M131.9 94.5h.8M119.2 90.2h.8M128.3 88.5h.8M121.7 91.6h.8M120.6 89.4h.8M132.1 84.6h.8M124.9 84.5h.8M127.3 93.1h.8M135.4 84.5h.8M123.7 90.2h.8M133.4 90.7h.8M122.9 88.9h.8M126.2 87.9h.8M122.9 89.2h.8M127.6 88.4h.8M125.3 84.6h.8M124.1 91.8h.8M125.4 84.2h.8M132.3 90.9h.8M135.7 89.9h.8M124.2 84.0h.8M132.2 96.8h.8M122.6 86.1h.8M128.9 86.4h.8M125.0 87.3h.8M127.1 91.8h.8M126.3 91.2h.8M124.4 89.2h.8M116.6 83.0h.8M129.8 87.2h.8M128.9 90.4h.8M132.2 91.7h.8M130.8 88.8h.8M123.1 85.9h.8M124.1 84.9h.8M123.8 87.9h.8M127.4 87.7h.8M117.6 87.1h.8M127.3 91.8h.8M128.9 87.0h.8M123.0 94.0h.8M129.7 94.3h.8M135.8 87.4h.8M128.0 90.1h.8M128.8 90.4h.8M127.2 89.1h.8M119.5 87.1h.8M122.9 88.4h.8M124.1 90.0h.8M129.9 89.9h.8M127.7 89.0h.8M124.2 87.7h.8M124.0 89.3h.8M126.3 90.2h.8M120.3 90.3h.8M122.8 85.9h.8M125.4 86.7h.8M127.6 87.0h.8M121.4 85.4h.8M132.2 89.4h.8M121.0 87.8h.8M119.2 92.8h.8M119.4 89.0h.8M128.7 84.6h.8M127.6 91.6h.8M128.4 89.5h.8M130.5 89.5h.8M127.8 88.3h.8M129.1 86.1h.8M129.8 87.5h.8M121.3 88.9h.8M133.9 92.3h.8M123.9 90.2h.8M124.2 87.9h.8M126.7 81.7h.8M127.1 85.6h.8M123.1 83.7h.8M119.4 84.8h.8M130.0 93.9h.8M126.1 91.7h.8M125.1 82.7h.8M126.9 89.9h.8M124.3 89.1h.8M128.8 86.3h.8M119.6 87.0h.8M125.3 87.3h.8M130.7 94.2h.8M124.4 90.3h.8M130.5 91.2h.8M131.0 88.0h.8M129.6 94.9h.8M129.9 87.2h.8M129.0 92.6h.8M127.9 87.1h.8M133.2 85.8h.8M128.5 88.8h.8M120.9 91.4h.8M127.8 85.3h.8M129.0 87.6h.8M117.7 85.3h.8M127.4 90.5h.8M127.0 88.7h.8M128.4 88.2h.8M131.5 89.6h.8M127.6 90.3h.8M121.5 85.8h.8M133.1 90.4h.8M125.0 89.3h.8M124.1 89.0h.8M123.3 88.9h.8M119.2 91.5h.8M123.9 83.5h.8M125.2 87.3h.8M126.9 85.2h.8M128.0 99.4h.8M120.5 88.7h.8M124.9 88.9h.8M118.1 84.0h.8M128.3 88.7h.8M133.6 87.4h.8M127.0 97.2h.8M122.8 85.4h.8M126.1 88.3h.8M130.0 89.4h.8M122.8 88.7h.8M138.1 93.8h.8M113.7 86.4h.8M122.3 89.8h.8M125.5 94.1h.8M130.4 91.7h.8M127.1 88.5h.8M127.8 92.5h.8M128.7 87.8h.8M132.0 89.8h.8M125.9 86.1h.8M123.7 86.3h.8M113.7 89.8h.8M128.8 88.2h.8M131.0 90.4h.8M127.9 81.4h.8M125.2 89.9h.8M133.5 94.9h.8M132.7 85.9h.8M116.4 88.9h.8M126.4 91.3h.8M125.7 89.1h.8M119.5 88.9h.8M124.2 89.3h.8M128.3 88.4h.8M127.7 88.7h.8M129.7 90.4h.8M123.8 86.4h.8M134.1 89.2h.8M130.7 90.3h.8M123.7 86.0h.8M126.8 89.3h.8M129.0 85.1h.8M123.6 87.9h.8M133.5 82.5h.8M128.2 87.2h.8M128.2 87.3h.8M127.9 93.3h.8M127.8 90.0h.8M127.9 86.5h.8M128.7 88.2h.8M122.6 87.9h.8M125.2 90.6h.8M126.1 86.9h.8M132.8 92.3h.8M132.0 91.0h.8M125.8 87.2h.8M125.0 91.1h.8M126.8 84.2h.8M126.1 84.3h.8M127.0 85.1h.8M120.6 88.1h.8M125.9 83.6h.8M129.6 95.3h.8M119.6 93.0h.8M123.2 86.6h.8M125.4 84.1h.8M132.1 90.7h.8M122.9 87.2h.8M119.4 86.6h.8M130.5 84.0h.8M124.3 88.7h.8M131.0 93.1h.8M124.2 86.0h.8M128.3 87.7h.8M124.9 91.5h.8M133.9 90.3h.8M125.4 90.1h.8M117.8 87.3h.8M121.5 94.9h.8M129.5 89.3h.8M125.4 81.0h.8M129.5 93.7h.8M123.0 90.1h.8M129.5 84.4h.8M130.5 93.0h.8M127.3 88.5h.8M129.8 84.4h.8M126.7 91.7h.8M120.7 90.7h.8M124.4 82.1h.8M125.8 85.6h.8M127.7 85.2h.8M131.0 87.0h.8M127.9 87.0h.8M124.8 91.8h.8M127.2 87.5h.8M120.6 91.2h.8M129.5 88.0h.8M127.3 85.6h.8M121.7 85.5h.8M127.8 89.6h.8M122.9 90.2h.8M129.8 89.5h.8M130.9 88.3h.8M125.7 89.8h.8M126.1 90.8h.8M120.6 91.9h.8M122.7 87.5h.8M120.1 89.4h.8M132.0 92.4h.8M130.0 84.4h.8M122.7 86.7h.8M122.0 91.2h.8M127.1 88.5h.8M128.4 86.0h.8M122.2 85.4h.8M128.5 89.8h.8M128.9 92.0h.8M120.1 86.0h.8M126.9 84.6h.8M123.9 91.2h.8M131.2 92.3h.8M126.4 87.9h.8M131.1 88.1h.8M127.8 92.6h.8M124.6 86.5h.8M126.2 90.3h.8M128.4 89.2h.8M128.8 84.1h.8M122.4 88.5h.8M122.1 84.0h.8M120.8 85.1h.8M125.4 85.4h.8M127.3 93.6h.8M125.6 92.2h.8M127.5 85.4h.8M125.1 85.5h.8M129.7 85.6h.8M132.2 91.0h.8M117.1 89.6h.8M133.2 87.1h.8M130.7 83.8h.8M127.4 83.8h.8M128.4 83.5h.8M114.4 88.1h.8M136.5 88.1h.8M130.0 89.3h.8M124.8 90.1h.8M133.6 85.9h.8M128.8 89.9h.8M119.8 92.4h.8M135.0 86.9h.8M134.1 89.7h.8M125.5 92.8h.8M127.3 89.6h.8M133.1 93.2h.8M130.3 84.9h.8M119.2 90.9h.8M122.1 88.4h.8M121.4 87.3h.8M120.5 92.5h.8M121.7 87.5h.8M125.4 91.9h.8M119.9 87.6h.8M125.3 89.9h.8M128.4 87.4h.8M127.3 87.5h.8M128.4 88.5h.8M123.3 88.0h.8M127.9 95.4h.8M124.0 89.1h.8M132.8 83.3h.8M118.4 84.0h.8M125.7 95.6h.8M128.0 92.3h.8M125.3 81.1h.8M115.8 90.1h.8M127.1 84.8h.8M131.3 84.6h.8M131.4 93.4h.8M122.8 84.8h.8M130.0 85.8h.8M130.1 85.5h.8M129.9 89.3h.8M124.3 85.6h.8M127.3 83.1h.8M125.0 87.2h.8M129.3 85.2h.8M134.0 88.6h.8M121.1 91.9h.8M133.7 88.9h.8M122.2 88.0h.8M123.1 87.2h.8M133.3 90.6h.8M126.9 89.6h.8M126.0 90.9h.8M130.2 87.9h.8M126.7 95.7h.8M128.1 88.2h.8M135.5 89.8h.8M121.3 89.8h.8M122.2 86.5h.8M127.7 88.3h.8M122.8 86.4h.8M123.6 91.6h.8M123.0 86.4h.8M135.4 88.1h.8M133.0 93.3h.8M125.6 84.2h.8M128.3 90.7h.8M130.6 89.3h.8M131.7 93.3h.8M121.5 92.1h.8M127.0 86.9h.8M124.8 93.8h.8M130.7 83.8h.8M126.6 88.1h.8M125.5 86.9h.8M119.7 90.2h.8M122.0 86.8h.8M123.5 86.0h.8M129.6 90.1h.8M123.2 85.3h.8M124.1 91.1h.8M126.8 89.3h.8M124.8 87.5h.8M127.2 83.2h.8M133.5 87.2h.8M122.2 94.5h.8M128.5 88.9h.8M122.1 80.3h.8M128.2 94.5h.8M119.6 94.3h.8M117.7 83.8h.8M130.8 89.0h.8M132.3 85.6h.8M118.5 78.3h.8M117.1 82.0h.8M115.3 88.6h.8M121.4 78.1h.8M146.6 86.9h.8M116.7 93.3h.8M136.1 84.0h.8M115.0 82.1h.8M135.8 88.1h.8M120.3 87.6h.8M136.4 82.9h.8M123.7 81.3h.8M144.1 99.6h.8M134.4 88.8h.8M132.0 78.9h.8M129.0 82.2h.8M116.2 83.7h.8M123.9 91.0h.8M132.4 90.5h.8M119.2 90.9h.8M125.8 94.2h.8M119.4 74.0h.8M122.9 98.6h.8M130.5 88.0h.8M133.8 91.8h.8M130.4 86.4h.8M127.4 89.6h.8M121.6 82.4h.8M127.9 93.4h.8M131.9 91.6h.8M130.8 101.7h.8M128.8 93.9h.8M142.4 90.7h.8M128.9 93.9h.8M140.3 91.7h.8M129.7 89.3h.8M117.1 92.8h.8M124.7 79.8h.8M125.6 79.9h.8M118.7 87.6h.8M119.4 92.9h.8M115.0 88.4h.8M131.3 96.3h.8M134.2 90.6h.8M127.5 88.3h.8M135.9 86.5h.8M131.0 88.6h.8M128.8 87.5h.8M143.9 87.5h.8M128.9 90.2h.8M131.7 91.4h.8M130.2 93.8h.8M114.8 87.1h.8M117.0 88.5h.8M117.4 82.7h.8M126.4 95.4h.8M131.5 90.6h.8M138.1 85.3h.8M110.1 84.4h.8M124.6 94.3h.8M144.0 84.2h.8M146.7 98.7h.8M133.6 91.2h.8M146.3 91.4h.8M123.1 88.8h.8M115.9 89.5h.8M126.0 90.1h.8M129.7 83.8h.8M137.4 84.9h.8M134.0 81.7h.8M129.8 84.9h.8M127.2 85.4h.8M109.4 80.9h.8M127.4 91.7h.8M115.1 76.7h.8M119.9 86.7h.8M121.8 84.0h.8M133.7 94.2h.8M132.8 84.7h.8M127.5 87.7h.8M115.5 91.5h.8M127.6 86.3h.8M138.2 93.8h.8M133.7 95.3h.8M132.6 83.1h.8M123.8 93.1h.8M120.7 88.0h.8M130.0 96.0h.8M137.3 94.3h.8M125.4 92.9h.8M131.1 88.3h.8M137.7 92.4h.8M120.8 94.0h.8M124.8 91.2h.8M114.7 87.0h.8M119.3 82.9h.8M111.6 97.2h.8M125.6 89.6h.8M135.7 89.1h.8M130.9 82.4h.8M128.4 86.7h.8M130.8 89.9h.8M115.7 78.1h.8M118.7 91.1h.8M130.2 90.9h.8M110.7 73.4h.8M121.8 86.3h.8M122.0 89.7h.8M125.4 82.6h.8M119.8 88.4h.8M127.4 88.2h.8M144.9 89.5h.8M127.7 83.8h.8M123.9 90.7h.8M131.3 88.3h.8M129.9 89.2h.8M111.7 70.6h.8M145.2 94.9h.8M126.3 79.9h.8M116.5 93.9h.8M104.4 84.1h.8M133.7 90.1h.8M132.8 88.6h.8M145.9 85.9h.8M115.9 88.5h.8M138.2 89.7h.8M135.1 86.9h.8M117.3 94.2h.8M139.3 97.6h.8M123.2 82.4h.8M117.4 86.2h.8M131.4 91.6h.8M115.3 88.0h.8M126.9 89.0h.8M126.6 87.5h.8M131.5 89.7h.8M128.6 85.3h.8M129.9 88.3h.8M109.8 88.8h.8M124.6 92.8h.8M125.5 87.9h.8M128.4 88.7h.8M123.2 79.3h.8M141.5 82.6h.8M124.0 91.4h.8M129.8 91.7h.8M132.9 95.5h.8M129.1 103.0h.8M118.6 88.6h.8M123.9 85.5h.8M129.0 95.9h.8M121.1 84.3h.8M132.5 91.9h.8M142.4 95.5h.8M128.6 87.1h.8M128.5 87.9h.8M115.8 87.2h.8M125.3 87.2h.8M123.3 96.4h.8M132.3 93.8h.8M121.9 82.9h.8M124.5 89.4h.8M124.0 87.2h.8M134.4 90.9h.8M118.9 85.4h.8M121.5 88.7h.8M117.4 86.5h.8M132.3 89.3h.8M119.4 84.6h.8M127.7 91.0h.8M133.4 88.6h.8M116.2 94.2h.8M129.1 90.8h.8M129.2 83.7h.8M124.2 89.4h.8M135.0 89.8h.8M101.8 84.2h.8M129.6 95.2h.8M132.4 101.4h.8M138.1 96.5h.8M134.3 82.7h.8M133.5 92.3h.8M122.5 90.8h.8M130.1 86.6h.8M125.8 87.1h.8M128.6 86.7h.8M131.1 79.7h.8M124.5 80.0h.8M122.9 90.5h.8M126.9 88.0h.8M127.3 96.3h.8M117.9 91.7h.8M114.6 84.7h.8M128.1 84.5h.8M128.4 92.3h.8M117.2 86.9h.8M123.7 78.6h.8M125.3 84.4h.8M137.5 85.5h.8M140.3 87.6h.8M142.3 93.1h.8M130.4 92.9h.8M134.0 96.3h.8M140.6 88.5h.8M116.7 74.2h.8M123.7 91.8h.8M129.8 89.4h.8M123.9 85.0h.8M124.5 90.1h.8M112.6 90.3h.8M115.1 86.3h.8M121.7 86.1h.8M118.4 81.8h.8M124.9 82.9h.8M146.4 88.9h.8M121.5 85.1h.8M118.1 75.4h.8M124.6 89.7h.8M114.7 87.0h.8M117.0 87.1h.8M129.6 91.2h.8M130.2 85.4h.8M133.7 87.1h.8M129.5 92.3h.8M124.3 81.9h.8M131.6 83.6h.8M119.6 82.2h.8M133.4 88.5h.8M108.7 89.8h.8M143.2 99.3h.8M122.1 88.3h.8M130.7 93.3h.8M127.0 83.1h.8M132.7 92.2h.8M116.0 85.3h.8M128.8 88.7h.8M130.9 92.9h.8M131.0 88.4h.8M115.9 90.1h.8M137.9 99.5h.8M126.4 88.2h.8M138.2 96.9h.8M129.4 92.3h.8M120.6 90.5h.8M120.0 86.9h.8M125.7 86.0h.8M109.7 82.3h.8M129.3 88.5h.8M123.5 90.1h.8M132.1 93.3h.8M120.2 87.7h.8M124.0 83.8h.8M114.6 86.4h.8M119.6 98.1h.8M125.8 87.2h.8M123.4 97.2h.8M119.1 86.7h.8M120.5 87.0h.8M126.3 93.7h.8M115.3 86.9h.8M139.5 87.5h.8M125.2 83.9h.8M105.7 85.3h.8M136.0 87.3h.8M111.8 87.9h.8M127.2 93.4h.8M133.9 88.0h.8M129.8 80.0h.8M135.5 90.4h.8M135.3 94.7h.8M124.3 87.4h.8M119.6 77.4h.8M125.6 89.0h.8M117.9 90.8h.8M127.4 90.7h.8M120.5 79.0h.8M132.8 92.2h.8M125.7 86.2h.8M124.4 87.5h.8M122.5 78.0h.8M132.9 81.9h.8M124.0 86.6h.8M128.7 80.8h.8M136.3 92.8h.8M132.8 95.4h.8M120.3 72.3h.8M129.3 95.2h.8M136.0 87.0h.8M125.9 89.8h.8M112.2 83.4h.8M121.6 95.6h.8M121.5 95.5h.8M126.8 80.3h.8M144.5 85.9h.8M131.7 97.5h.8M122.5 81.9h.8M135.1 89.9h.8M116.9 82.0h.8M123.6 92.8h.8M124.5 91.4h.8M140.0 96.4h.8M138.3 96.0h.8M113.9 92.9h.8M129.4 88.2h.8M118.1 79.6h.8M117.9 87.3h.8M117.3 83.3h.8M121.8 91.1h.8M124.4 87.5h.8M137.4 88.3h.8M131.5 83.9h.8M129.4 89.4h.8M128.2 86.4h.8M118.5 86.0h.8M123.0 93.1h.8M134.0 83.5h.8M131.8 86.8h.8M130.4 86.6h.8M115.0 92.0h.8M130.4 82.9h.8M111.6 84.0h.8M117.3 85.5h.8M131.7 96.3h.8M123.9 94.9h.8M136.1 87.5h.8M113.4 91.0h.8M131.6 100.6h.8M138.2 93.8h.8M140.3 85.1h.8M128.3 87.4h.8M140.7 93.0h.8M102.3 92.2h.8M119.5 91.4h.8M123.0 89.3h.8M131.9 90.2h.8M119.2 94.5h.8M130.0 88.9h.8M132.5 86.7h.8M142.0 91.6h.8M129.8 90.7h.8M119.6 81.9h.8M128.6 90.6h.8M137.7 92.2h.8M118.2 90.1h.8M133.5 94.4h.8M129.6 83.0h.8M136.2 86.2h.8M131.5 81.5h.8M133.0 85.5h.8M135.6 98.3h.8M136.3 84.1h.8M119.3 83.4h.8M132.2 91.0h.8M128.2 90.3h.8M131.5 92.4h.8M140.4 90.0h.8M128.5 79.7h.8M116.3 83.9h.8M117.4 88.5h.8M135.2 87.5h.8M122.9 85.6h.8M127.9 86.0h.8M130.2 90.4h.8M129.6 92.6h.8M127.0 89.3h.8M140.9 90.1h.8M133.2 89.6h.8M123.1 85.8h.8M120.2 87.7h.8M121.9 85.8h.8M136.5 89.1h.8M135.9 90.9h.8M133.6 86.4h.8M127.9 101.5h.8M133.3 94.2h.8M128.6 92.9h.8M117.4 83.1h.8M130.1 92.9h.8M123.4 87.1h.8M123.8 87.2h.8M117.1 80.2h.8M126.0 79.8h.8M118.8 84.2h.8M118.2 88.5h.8M123.1 87.6h.8M118.5 83.7h.8M130.7 90.7h.8M122.9 89.7h.8M128.1 89.3h.8M139.3 88.0h.8M129.9 90.8h.8M124.6 82.4h.8M132.0 90.3h.8M126.9 88.5h.8M126.6 83.9h.8M128.8 79.7h.8M126.2 80.9h.8M123.6 91.4h.8M124.3 85.6h.8M130.5 87.4h.8M123.1 85.9h.8M138.4 93.0h.8M130.2 82.8h.8M131.3 82.5h.8M130.1 83.2h.8M141.9 81.9h.8M136.1 93.3h.8M112.1 85.2h.8M137.8 95.2h.8M113.0 83.9h.8M116.9 81.9h.8M121.1 96.5h.8M127.3 87.2h.8M123.6 91.1h.8M131.8 84.3h.8M138.0 84.3h.8M124.0 90.0h.8M139.9 88.1h.8M128.5 94.8h.8M131.2 94.3h.8M134.5 90.4h.8M131.3 93.2h.8M126.0 95.9h.8M110.3 81.6h.8M137.8 91.7h.8M121.1 89.3h.8M134.9 86.5h.8M132.4 88.3h.8M125.3 87.7h.8M135.1 83.7h.8M123.3 91.0h.8M116.5 79.2h.8M130.8 88.7h.8M125.1 88.7h.8M118.5 101.4h.8M118.4 85.0h.8M114.9 84.7h.8M138.5 89.7h.8M131.0 86.4h.8M140.7 90.7h.8M116.3 90.7h.8M123.3 90.7h.8M127.4 89.6h.8M127.3 83.8h.8M114.2 91.4h.8M125.2 89.4h.8M122.5 77.7h.8M116.0 93.7h.8M120.0 85.5h.8M114.5 84.1h.8M123.3 86.7h.8M125.6 84.9h.8M121.6 87.5h.8M128.8 87.7h.8M140.2 90.9h.8M127.5 85.0h.8M134.4 84.1h.8M113.3 81.7h.8M131.1 83.1h.8M136.5 89.3h.8M114.1 85.4h.8M140.5 85.7h.8M115.7 89.3h.8M136.6 94.4h.8M123.6 88.7h.8M128.8 94.2h.8M143.4 89.7h.8M136.6 87.7h.8M130.9 84.1h.8M120.1 89.3h.8M119.0 91.5h.8M121.8 87.9h.8M125.5 86.4h.8M127.2 93.5h.8M151.0 85.4h.8M128.6 87.5h.8M118.9 88.6h.8M119.1 86.8h.8M136.1 79.4h.8M128.2 90.5h.8M118.5 89.7h.8M129.0 86.7h.8M135.9 82.9h.8M131.3 87.6h.8M117.7 86.2h.8M123.4 91.7h.8M114.2 85.6h.8M122.5 95.3h.8M117.2 92.1h.8M112.1 88.0h.8M125.1 89.8h.8M120.5 77.8h.8" stroke="#c81c2a" stroke-width=".8" stroke-opacity=".6"/>
<path d="M112.9 94.9h.8M132.2 82.0h.8M139.8 83.2h.8M121.7 79.1h.8M142.8 100.9h.8M119.2 88.6h.8M140.5 101.7h.8M103.4 86.7h.8M136.9 78.2h.8M134.2 88.9h.8M137.7 84.0h.8M134.3 83.7h.8M136.4 88.7h.8M125.6 77.9h.8M147.8 95.6h.8M139.4 83.6h.8M125.8 97.9h.8M137.9 82.3h.8M130.2 88.3h.8M127.5 81.1h.8M143.5 92.0h.8M127.6 77.0h.8M123.3 87.0h.8M139.3 85.5h.8M142.0 89.0h.8M121.6 68.9h.8M116.9 77.0h.8M128.2 89.5h.8M145.2 88.3h.8M117.1 101.9h.8M133.3 86.0h.8M127.0 78.6h.8M136.9 90.3h.8M147.4 95.6h.8M139.5 96.2h.8M126.9 84.5h.8M129.5 79.4h.8M128.5 85.3h.8M137.4 87.9h.8M109.1 86.5h.8M145.7 76.6h.8M121.8 87.2h.8M115.5 83.2h.8M130.8 79.1h.8M133.4 90.5h.8M116.2 87.0h.8M142.1 87.2h.8M135.0 92.1h.8M127.7 93.9h.8M134.5 81.5h.8M136.0 93.6h.8M139.2 84.1h.8M135.4 96.9h.8M132.9 95.6h.8M144.7 88.4h.8M137.7 86.3h.8M142.2 87.9h.8M124.4 87.3h.8M129.7 90.2h.8M135.6 80.6h.8M123.3 89.7h.8M135.8 88.7h.8M159.5 96.8h.8M129.7 92.5h.8M145.3 91.1h.8M111.4 87.4h.8M131.2 101.8h.8M110.5 96.8h.8M129.0 93.9h.8M127.5 88.9h.8M143.2 89.3h.8M142.4 88.2h.8M126.3 86.4h.8M125.3 87.0h.8M145.8 81.4h.8M112.6 86.9h.8M149.4 96.0h.8M145.5 97.1h.8M122.9 88.4h.8M101.7 82.5h.8M137.6 78.5h.8M108.3 78.4h.8M133.4 95.9h.8M159.5 99.1h.8M114.4 72.2h.8M132.8 95.2h.8M113.3 83.8h.8M126.2 88.2h.8M129.3 91.6h.8M142.9 89.5h.8M139.6 101.8h.8M120.1 81.0h.8M137.0 100.8h.8M133.3 95.6h.8M128.1 94.2h.8M124.6 92.5h.8M135.9 91.3h.8M146.8 96.4h.8M125.1 93.9h.8M113.0 93.9h.8M162.0 93.9h.8M137.4 89.4h.8M141.0 86.4h.8M139.3 87.5h.8M127.3 89.3h.8M131.4 77.6h.8M154.9 91.1h.8M113.4 94.7h.8M131.8 90.2h.8M139.9 83.6h.8M99.7 86.3h.8M134.8 95.5h.8M123.8 86.7h.8M136.5 87.1h.8M129.4 90.4h.8M121.2 98.5h.8M122.0 88.5h.8M128.5 84.1h.8M138.0 95.8h.8M148.1 93.6h.8M127.2 94.2h.8M116.2 88.2h.8M137.8 92.8h.8M119.4 78.4h.8M150.3 86.6h.8M113.9 79.7h.8M132.1 96.4h.8M131.9 96.5h.8M134.4 91.9h.8M142.7 86.9h.8M135.1 86.4h.8M124.8 92.5h.8M122.7 88.6h.8M123.0 87.5h.8M125.9 95.3h.8M132.5 89.1h.8M149.7 70.9h.8M119.2 70.0h.8M131.3 91.3h.8M138.5 90.5h.8M121.7 99.1h.8M134.6 86.8h.8M118.9 90.3h.8M125.8 85.1h.8M133.4 89.8h.8M122.1 95.8h.8M120.1 80.3h.8M134.5 89.2h.8M131.8 85.6h.8M131.5 84.6h.8M112.9 91.8h.8M119.8 86.0h.8M139.0 88.8h.8M161.1 80.9h.8M122.7 88.2h.8M145.9 87.4h.8M115.2 94.6h.8M120.8 86.2h.8M140.6 84.3h.8M125.9 90.9h.8M128.6 89.8h.8M120.5 86.7h.8M118.8 77.3h.8M150.2 92.1h.8M140.9 82.4h.8M130.5 86.7h.8M115.2 90.6h.8M122.9 86.3h.8M114.1 93.5h.8M139.1 91.1h.8M120.8 84.0h.8M144.2 87.0h.8M133.7 89.1h.8M118.5 97.2h.8M109.0 88.2h.8M129.8 77.5h.8M134.4 91.6h.8M131.4 82.7h.8M135.7 95.5h.8M133.2 99.3h.8M140.2 93.6h.8M146.1 84.7h.8M125.1 91.0h.8M136.5 98.1h.8M143.4 89.9h.8M133.2 86.4h.8M126.8 84.9h.8M140.8 85.6h.8M127.0 88.9h.8M125.3 86.3h.8M106.9 89.1h.8M127.6 89.2h.8M135.1 76.5h.8M157.6 90.9h.8M133.3 77.0h.8M138.4 91.6h.8M127.8 90.1h.8M146.0 87.5h.8M122.2 96.9h.8M135.2 88.0h.8M157.6 91.6h.8M130.5 90.7h.8M128.0 90.2h.8M134.0 84.9h.8M129.5 90.8h.8M136.5 93.0h.8M140.9 91.1h.8M137.9 86.8h.8M129.4 95.5h.8M110.4 90.0h.8M166.8 78.9h.8M148.5 78.4h.8M135.9 99.4h.8M148.1 83.7h.8M117.3 78.4h.8M139.4 86.4h.8M131.5 90.1h.8M135.9 92.1h.8M132.7 78.1h.8M147.3 71.5h.8M144.9 85.2h.8M129.1 84.8h.8M127.2 87.9h.8M128.1 81.0h.8M140.5 85.1h.8M145.9 88.2h.8M123.4 90.6h.8M140.9 82.9h.8M128.0 97.3h.8M120.2 82.1h.8M133.0 80.5h.8M104.0 75.9h.8M135.3 92.7h.8M137.7 91.2h.8M117.6 91.8h.8M143.8 84.5h.8M141.5 86.5h.8M133.3 90.8h.8M114.8 96.8h.8M121.8 87.1h.8M125.8 90.9h.8M135.9 88.7h.8M146.7 91.0h.8M126.8 69.4h.8M128.1 86.2h.8M121.6 82.2h.8M137.7 95.4h.8M152.0 96.9h.8M123.4 89.5h.8M116.2 92.1h.8M135.8 104.9h.8M137.8 83.8h.8M150.7 86.3h.8M124.0 87.4h.8M136.0 85.3h.8M130.4 82.6h.8M143.2 88.3h.8M134.7 83.9h.8M136.9 89.4h.8M143.1 80.7h.8M150.1 84.4h.8M147.8 82.9h.8M146.9 88.0h.8M144.8 91.9h.8M148.1 89.8h.8M145.7 80.5h.8M143.6 74.5h.8M124.3 85.9h.8M142.2 98.1h.8M150.1 95.9h.8M141.5 91.4h.8M154.6 92.4h.8M147.5 89.5h.8M136.2 82.7h.8M131.7 90.9h.8M142.0 84.3h.8M147.6 85.2h.8M153.7 101.4h.8M148.5 84.5h.8M131.2 101.2h.8M148.5 81.4h.8M154.1 78.5h.8M140.6 87.2h.8M141.3 81.4h.8M165.9 87.1h.8M148.0 89.2h.8M130.3 84.8h.8M146.4 94.9h.8M141.5 91.1h.8M141.6 92.6h.8M122.5 92.0h.8M139.1 85.0h.8M119.2 81.1h.8M150.1 104.0h.8M138.3 84.4h.8M149.0 90.9h.8M139.4 87.7h.8M141.2 92.8h.8M151.8 100.5h.8M152.9 93.5h.8M146.1 95.0h.8M135.9 102.6h.8M147.2 98.2h.8M137.6 95.4h.8M148.3 87.9h.8M138.7 83.1h.8M160.8 97.5h.8M145.8 90.3h.8M138.2 76.9h.8M128.7 84.5h.8M143.4 81.4h.8M151.9 92.6h.8M146.2 77.7h.8M142.8 88.7h.8M133.4 74.4h.8M161.9 93.6h.8M141.3 99.2h.8M154.7 92.3h.8M146.8 94.1h.8M157.9 89.9h.8M142.7 92.7h.8M119.4 88.7h.8M141.1 88.8h.8M143.1 91.1h.8M145.7 89.5h.8M143.6 91.9h.8M140.2 95.2h.8M129.6 89.8h.8M148.8 80.9h.8M140.9 97.5h.8M143.6 83.2h.8M117.9 90.2h.8M145.7 93.0h.8M163.2 89.6h.8M146.0 84.6h.8M144.2 88.8h.8M151.5 92.8h.8M137.9 85.7h.8M157.2 83.2h.8M151.5 99.8h.8M150.6 90.9h.8M157.0 91.7h.8M144.7 87.7h.8M155.1 93.9h.8M158.7 87.3h.8M141.9 86.1h.8M147.3 84.6h.8M153.1 91.5h.8M135.9 69.4h.8M128.3 97.7h.8M144.2 89.9h.8M140.9 91.4h.8M127.4 75.4h.8M130.0 88.9h.8M151.1 92.3h.8M143.6 80.6h.8M151.9 87.4h.8M144.5 88.5h.8M140.5 84.1h.8M139.4 80.4h.8M146.9 87.9h.8M153.9 77.5h.8M155.3 88.9h.8M143.2 83.7h.8M137.4 79.0h.8M152.8 87.9h.8M151.2 94.6h.8M140.2 87.3h.8M141.6 95.5h.8M145.9 90.1h.8M151.2 88.7h.8M163.1 83.6h.8M156.0 98.5h.8M134.5 94.2h.8M147.3 94.7h.8M133.9 90.2h.8M135.9 86.5h.8M157.5 88.6h.8M124.5 79.2h.8M134.5 95.2h.8M138.5 78.7h.8M154.8 91.0h.8M147.8 83.9h.8M157.6 88.7h.8M127.0 81.0h.8M137.2 87.7h.8M151.6 84.5h.8M139.3 103.1h.8M145.5 85.6h.8M145.0 80.9h.8M149.6 95.5h.8M139.5 95.3h.8M142.1 90.8h.8M138.1 83.6h.8M131.3 89.9h.8M142.2 87.3h.8M134.6 81.1h.8M139.1 91.8h.8M147.5 84.7h.8M147.4 100.5h.8M145.7 102.2h.8M148.7 97.8h.8M140.0 96.4h.8M134.1 90.2h.8M141.7 75.9h.8M132.5 95.9h.8M149.2 97.6h.8M146.5 70.2h.8M147.0 85.4h.8M140.2 85.9h.8M137.8 82.5h.8M155.9 92.3h.8M138.8 86.0h.8M153.5 91.8h.8M146.5 81.1h.8M140.8 81.5h.8M127.4 94.1h.8M141.7 86.2h.8M136.0 93.6h.8M163.5 93.4h.8M153.0 81.2h.8M146.3 90.4h.8M158.1 89.5h.8M136.2 88.2h.8M140.8 98.2h.8M150.7 91.4h.8M146.3 94.5h.8M140.2 82.8h.8M127.7 96.0h.8M149.2 93.3h.8M145.0 99.7h.8M135.8 96.4h.8M137.0 85.7h.8M133.7 89.1h.8M142.0 91.6h.8M139.3 79.6h.8M149.7 97.4h.8M151.2 88.8h.8M148.2 78.0h.8M141.5 96.3h.8M148.7 83.5h.8M152.3 88.3h.8M151.1 79.9h.8M139.8 90.8h.8M147.3 92.5h.8M144.4 87.6h.8M148.8 94.6h.8M130.9 86.3h.8M142.7 89.8h.8M153.6 80.6h.8M149.3 77.8h.8M137.8 85.2h.8M142.1 84.8h.8M139.9 86.5h.8M142.1 76.8h.8M132.0 85.6h.8M149.3 95.5h.8M170.1 90.5h.8M137.5 89.8h.8M150.7 90.0h.8M135.1 87.9h.8M144.2 79.7h.8M133.7 96.2h.8M124.6 89.2h.8M142.2 97.7h.8M150.0 83.5h.8M155.8 85.6h.8M162.4 100.2h.8M143.9 93.8h.8M146.2 83.1h.8M154.1 92.0h.8M152.2 96.1h.8M157.3 96.0h.8M143.8 89.5h.8M148.3 88.3h.8M142.6 100.9h.8M149.1 101.3h.8M137.8 88.4h.8M140.8 86.3h.8M142.1 88.1h.8" stroke="#c42838" stroke-width=".8" stroke-opacity=".6"/>
<path d="M152.6 59.5h.8M147.5 62.2h.8M141.7 75.0h.8M182.9 74.0h.8M160.3 66.6h.8M144.9 82.7h.8M144.7 67.4h.8M147.4 69.3h.8M148.2 69.4h.8M134.8 62.5h.8M163.8 56.8h.8M141.4 75.4h.8M153.2 73.8h.8M124.1 63.7h.8M134.7 51.5h.8M153.2 74.8h.8M132.2 53.7h.8M142.3 62.8h.8M134.0 82.4h.8M155.1 61.8h.8M142.9 83.6h.8M173.3 62.1h.8M152.5 75.3h.8M135.6 58.3h.8M163.5 59.6h.8M143.8 52.5h.8M140.2 69.4h.8M139.5 52.4h.8M141.6 78.7h.8M150.4 59.6h.8M150.2 68.1h.8M149.8 48.9h.8M151.7 62.6h.8M157.7 53.3h.8M160.0 60.8h.8M129.5 74.0h.8M142.6 66.8h.8M146.5 73.2h.8M160.5 74.5h.8M156.2 50.9h.8M129.7 64.3h.8M137.7 67.2h.8M150.1 52.1h.8M136.8 53.4h.8M138.4 61.5h.8M155.8 76.0h.8M137.5 58.3h.8M165.5 72.9h.8M150.8 44.2h.8M137.0 64.5h.8M141.7 80.5h.8M149.2 66.5h.8M136.0 54.1h.8M140.8 58.1h.8M145.6 67.0h.8M150.8 72.7h.8M133.2 64.6h.8M150.9 77.7h.8M145.8 66.6h.8M139.1 66.9h.8M152.6 58.9h.8M143.3 63.3h.8M154.7 54.6h.8M158.0 61.9h.8M169.3 78.1h.8M143.7 58.3h.8M175.5 71.5h.8M154.5 60.8h.8M146.8 70.7h.8M155.1 57.4h.8M162.0 67.7h.8M137.6 71.7h.8M146.3 70.5h.8M142.1 66.6h.8M130.2 65.8h.8M131.3 64.1h.8M120.1 61.3h.8M156.3 68.7h.8M161.5 55.8h.8M165.6 79.0h.8M134.9 56.2h.8M141.9 63.3h.8M150.3 43.1h.8M154.8 62.3h.8M136.9 71.2h.8M144.4 73.4h.8M154.1 61.7h.8M161.2 71.8h.8M142.6 49.8h.8M142.1 68.8h.8M145.6 78.8h.8M151.1 65.8h.8M152.7 56.8h.8M146.8 58.2h.8M122.1 46.8h.8M156.4 60.8h.8M146.8 51.2h.8M141.7 70.1h.8M149.3 59.6h.8M165.2 64.7h.8M144.3 73.4h.8M128.9 67.2h.8M135.8 56.3h.8M140.6 64.5h.8M149.4 66.6h.8M150.5 76.1h.8M166.9 71.4h.8M156.6 61.4h.8M136.0 68.1h.8M148.6 71.3h.8M128.0 85.2h.8M134.1 63.2h.8M159.2 53.0h.8M142.1 46.3h.8M132.4 46.2h.8M149.4 66.6h.8M144.7 74.5h.8M163.6 65.1h.8M145.8 61.5h.8M143.2 74.7h.8M150.9 61.4h.8M145.7 68.4h.8M143.8 66.3h.8M147.8 75.5h.8M161.1 52.9h.8M146.5 69.9h.8M143.3 70.5h.8M152.0 69.4h.8M147.6 66.6h.8M154.1 51.9h.8M138.1 54.6h.8M166.9 68.0h.8M152.4 65.8h.8M142.5 57.2h.8M157.7 61.6h.8M165.8 67.1h.8M149.3 62.3h.8M147.5 64.3h.8M165.1 85.2h.8M135.5 65.2h.8M156.1 57.0h.8M141.3 59.6h.8M121.7 67.5h.8M147.8 63.2h.8M149.2 66.3h.8M173.9 67.6h.8M157.6 60.4h.8M152.2 61.7h.8M146.7 56.3h.8M139.3 67.3h.8M156.6 68.7h.8M141.0 66.2h.8M120.4 70.0h.8M148.0 66.4h.8M161.3 61.6h.8M159.0 61.2h.8M154.4 61.2h.8M151.8 76.8h.8M141.3 58.5h.8M144.9 66.5h.8M178.8 61.7h.8M126.0 56.9h.8M131.1 58.1h.8M148.7 56.1h.8M141.0 47.8h.8M150.6 58.1h.8M160.6 74.1h.8M139.0 60.4h.8M149.2 70.8h.8M130.2 62.3h.8M169.2 65.2h.8M151.1 64.5h.8M135.5 71.4h.8M151.6 66.0h.8M156.7 71.7h.8M127.8 66.9h.8M142.3 65.3h.8M140.8 56.5h.8M159.2 65.2h.8M145.6 61.8h.8M149.7 64.4h.8M122.7 55.1h.8M146.2 70.6h.8M163.9 57.8h.8M170.3 67.0h.8M154.3 60.5h.8M142.3 76.3h.8M146.6 63.6h.8M161.8 80.3h.8M132.6 61.8h.8M149.0 80.1h.8M176.3 66.4h.8M153.3 72.5h.8M161.9 63.1h.8M158.7 59.7h.8M119.8 50.9h.8M151.7 71.7h.8M124.4 47.7h.8M149.0 36.3h.8M155.6 74.2h.8M116.6 69.0h.8M147.4 76.9h.8M152.7 63.3h.8M150.9 73.2h.8M151.7 65.7h.8M133.8 68.1h.8M150.1 80.9h.8M149.6 64.5h.8M142.9 70.9h.8M147.5 59.2h.8M167.5 81.8h.8M144.8 56.3h.8M162.3 59.2h.8M181.0 66.6h.8M160.5 55.2h.8M149.5 74.6h.8M154.7 61.2h.8M177.0 73.8h.8M147.4 60.1h.8M146.9 76.7h.8M141.4 65.0h.8M140.9 75.4h.8M148.1 72.6h.8M156.2 61.0h.8M157.7 74.0h.8M137.3 70.4h.8M189.3 66.0h.8M157.0 54.6h.8M155.0 60.8h.8M158.5 65.7h.8M136.9 73.8h.8M147.6 56.6h.8M150.7 57.3h.8M154.3 65.2h.8M145.9 70.8h.8M135.8 72.6h.8M127.7 77.4h.8M152.0 63.4h.8M141.8 69.5h.8M148.2 63.8h.8M161.4 62.6h.8M147.3 68.9h.8M161.9 65.1h.8M151.7 66.0h.8M158.2 78.8h.8M139.6 63.5h.8M149.4 70.5h.8M166.7 66.6h.8M152.3 75.3h.8M136.1 57.8h.8M144.9 65.0h.8M152.5 61.2h.8M169.5 60.9h.8M147.7 74.6h.8M158.5 66.0h.8M154.1 72.7h.8M149.8 70.9h.8M139.7 65.2h.8M131.6 56.3h.8M137.1 75.1h.8M144.7 67.5h.8M139.5 62.8h.8M146.7 57.7h.8M159.3 51.7h.8M156.7 88.6h.8M140.5 64.8h.8M132.2 63.6h.8M130.2 69.0h.8M144.0 48.8h.8M135.0 50.2h.8M146.2 72.0h.8M144.9 54.4h.8M139.9 65.1h.8M121.9 67.7h.8M153.6 43.9h.8M162.3 51.5h.8M146.5 74.5h.8M130.5 47.2h.8M136.3 54.1h.8M147.2 59.8h.8M143.2 59.8h.8M146.7 56.8h.8M152.4 64.6h.8M137.3 79.2h.8M134.4 69.6h.8M140.3 66.9h.8M154.6 72.3h.8M164.7 58.4h.8M180.9 70.5h.8M139.7 52.1h.8M175.2 80.8h.8M148.8 71.2h.8M163.8 66.6h.8M144.3 64.0h.8M158.5 65.6h.8M135.3 70.2h.8M129.7 56.7h.8M163.0 67.8h.8M151.7 65.8h.8M160.7 65.2h.8M127.2 65.1h.8M114.6 44.3h.8M166.9 75.1h.8M143.8 63.6h.8M150.0 73.4h.8M140.4 56.4h.8M142.0 65.3h.8M152.0 61.5h.8M157.6 56.5h.8M148.2 58.6h.8M137.7 74.4h.8M145.4 55.7h.8M149.5 56.0h.8M155.7 72.5h.8M160.6 56.4h.8M147.4 80.5h.8M146.6 75.4h.8M166.2 54.1h.8M162.7 72.3h.8M158.9 80.1h.8M154.3 65.8h.8M156.0 62.3h.8M154.7 47.7h.8M168.5 61.6h.8M155.2 67.9h.8M150.2 65.8h.8M149.8 50.6h.8M142.9 74.5h.8M137.6 54.7h.8M172.8 77.0h.8M166.6 65.9h.8M152.1 71.5h.8M155.4 64.4h.8M132.6 57.0h.8M132.1 76.9h.8M144.5 62.7h.8M152.1 64.9h.8M154.8 59.6h.8M131.8 78.3h.8M140.8 59.8h.8M139.9 59.0h.8M149.0 70.9h.8M136.9 66.0h.8M141.2 74.1h.8M134.9 64.2h.8M156.6 53.3h.8M149.9 65.7h.8M139.7 61.8h.8M159.7 67.2h.8M143.9 62.1h.8M153.5 75.5h.8M157.4 71.2h.8M166.0 52.3h.8M132.5 43.5h.8M157.8 45.3h.8M148.0 70.6h.8M132.9 57.3h.8M145.5 70.1h.8M131.5 65.5h.8M156.1 65.9h.8M150.1 74.9h.8M150.8 64.1h.8M144.6 69.3h.8M145.1 69.4h.8M149.4 73.8h.8M139.6 64.0h.8M152.2 67.9h.8M160.8 68.4h.8M158.3 81.5h.8M157.6 55.8h.8M132.5 68.5h.8M144.1 66.2h.8M146.4 75.0h.8M161.5 55.5h.8M151.3 61.7h.8M133.8 68.4h.8M146.7 67.7h.8M175.6 77.4h.8M160.5 61.5h.8M135.2 73.6h.8M144.9 64.1h.8M144.1 64.5h.8M174.8 63.4h.8M145.2 65.5h.8M151.4 54.1h.8M128.7 57.5h.8M145.9 57.1h.8M137.1 55.1h.8M143.8 62.5h.8M130.1 57.8h.8M152.0 63.1h.8M133.1 59.6h.8M147.8 70.3h.8M130.1 68.2h.8M142.9 65.1h.8M155.5 57.0h.8M139.1 62.1h.8M155.9 59.7h.8M132.4 56.6h.8M152.1 73.8h.8M142.3 60.5h.8M145.9 62.3h.8M137.4 59.1h.8M150.1 64.7h.8M148.0 55.1h.8M141.7 57.1h.8M159.3 76.7h.8M151.5 77.3h.8M144.6 60.9h.8M133.6 64.5h.8M142.8 64.0h.8M153.1 62.0h.8M135.5 62.3h.8M147.0 63.8h.8M155.2 62.4h.8M144.9 78.0h.8M159.6 63.8h.8M137.7 59.2h.8M152.1 71.1h.8M174.2 63.7h.8M149.7 61.0h.8M148.9 60.7h.8M136.4 71.5h.8M149.5 74.8h.8M142.7 65.7h.8M155.3 48.8h.8M133.8 69.1h.8M149.3 48.7h.8M140.2 54.6h.8M143.0 76.5h.8M142.1 80.5h.8M145.6 57.7h.8M165.4 73.3h.8M163.4 81.5h.8M160.0 75.3h.8M129.8 55.9h.8M153.3 66.3h.8M156.4 60.9h.8M160.7 82.1h.8M155.0 71.8h.8M154.2 72.6h.8M151.1 60.4h.8M150.9 65.5h.8M132.2 65.1h.8M149.1 66.2h.8M142.8 68.0h.8M155.6 59.1h.8M152.3 71.2h.8M156.8 57.3h.8M137.6 63.7h.8M124.7 79.5h.8M132.4 61.8h.8M123.9 72.1h.8M131.5 62.8h.8M134.1 57.1h.8M124.5 79.0h.8M109.7 65.6h.8M134.6 66.0h.8M122.3 60.8h.8M113.3 57.8h.8M128.2 63.0h.8M127.7 66.0h.8M129.7 55.5h.8M125.6 64.6h.8M125.6 60.8h.8M112.5 71.4h.8M133.4 83.4h.8M132.8 78.4h.8M131.9 64.4h.8M131.2 58.9h.8M129.4 66.2h.8M120.4 75.5h.8M135.5 70.2h.8M133.4 78.4h.8M126.8 57.6h.8M121.2 71.8h.8M129.4 56.7h.8M136.9 68.5h.8M139.0 74.9h.8M124.8 67.7h.8M122.7 61.2h.8M125.7 70.5h.8M137.3 60.9h.8M132.7 67.4h.8M126.3 74.9h.8M125.4 76.7h.8M125.6 60.7h.8M133.2 57.0h.8M119.7 65.9h.8M127.9 65.3h.8M114.2 57.9h.8M131.5 70.9h.8M120.9 69.1h.8M129.4 74.3h.8M122.9 77.4h.8M125.9 77.3h.8M134.4 60.2h.8M125.8 69.2h.8M135.1 57.6h.8M124.5 71.6h.8M131.3 59.9h.8M121.7 70.2h.8M120.9 68.9h.8M134.4 67.3h.8M109.3 75.4h.8M136.0 77.1h.8M134.0 55.5h.8M137.9 69.6h.8M134.5 66.1h.8M126.3 65.6h.8M139.1 69.2h.8M126.6 58.3h.8M131.3 67.3h.8M129.1 74.1h.8M133.0 67.3h.8M129.5 67.9h.8M133.0 72.1h.8M129.0 61.3h.8M133.9 73.5h.8M120.5 69.9h.8" stroke="#c83848" stroke-width=".8" stroke-opacity=".6"/>
<path d="M165.0 40.9h.7M158.8 46.8h.7M109.1 104.0h.7M154.2 69.1h.7M168.2 50.1h.7M163.6 95.6h.7M126.7 73.9h.7M147.9 49.1h.7M168.3 77.4h.7M183.0 28.0h.7M127.8 67.0h.7M156.0 67.3h.7M114.6 31.4h.7M123.4 77.8h.7M140.1 27.8h.7M110.4 41.2h.7M138.1 84.2h.7M180.4 57.5h.7M133.8 82.6h.7M121.4 68.3h.7M117.6 62.4h.7M154.3 72.5h.7M142.0 27.6h.7M160.3 26.2h.7M142.0 99.6h.7M152.2 80.2h.7M142.2 40.4h.7M132.6 80.4h.7M109.8 98.7h.7M132.2 91.7h.7M169.8 76.4h.7M137.3 67.2h.7M172.3 74.9h.7M112.4 40.3h.7M166.7 61.0h.7M176.7 94.8h.7M129.0 54.5h.7M140.1 47.0h.7M130.7 66.9h.7M144.8 89.8h.7M184.4 95.2h.7M166.1 104.4h.7M117.6 101.7h.7M190.7 34.5h.7M164.7 61.8h.7M175.7 69.4h.7M177.9 79.2h.7M184.4 34.7h.7M172.7 54.6h.7M131.1 55.5h.7M170.2 73.7h.7M163.8 55.0h.7M143.2 50.8h.7M180.3 40.6h.7M110.0 78.0h.7M150.4 50.2h.7M181.5 42.1h.7M152.6 97.5h.7M140.3 56.2h.7M117.9 48.4h.7" stroke="#e08080" stroke-width=".7" stroke-opacity=".45"/>
</g>
<rect x="108" y="25" width="84" height="80.5" fill="none" stroke="#6a6a6a" stroke-width="0.9"/>
<line x1="135.75" y1="25" x2="135.75" y2="105.5" stroke="#5a5a5a" stroke-width="0.8"/>
<line x1="108" y1="76.7" x2="192" y2="76.7" stroke="#5a5a5a" stroke-width="0.8"/>
<path d="M108.0 103.5h-2.6M108.0 98.5h-1.5M108.0 95.6h-1.5M108.0 93.5h-1.5M108.0 91.9h-1.5M108.0 90.6h-1.5M108.0 89.4h-1.5M108.0 88.5h-1.5M108.0 87.6h-1.5M108.0 86.9h-2.6M108.0 81.9h-1.5M108.0 78.9h-1.5M108.0 76.9h-1.5M108.0 75.2h-1.5M108.0 73.9h-1.5M108.0 72.8h-1.5M108.0 71.9h-1.5M108.0 71.0h-1.5M108.0 70.2h-2.6M108.0 65.2h-1.5M108.0 62.3h-1.5M108.0 60.2h-1.5M108.0 58.6h-1.5M108.0 57.3h-1.5M108.0 56.2h-1.5M108.0 55.2h-1.5M108.0 54.4h-1.5M108.0 53.6h-2.6M108.0 48.6h-1.5M108.0 45.7h-1.5M108.0 43.6h-1.5M108.0 42.0h-1.5M108.0 40.7h-1.5M108.0 39.6h-1.5M108.0 38.6h-1.5M108.0 37.7h-1.5M108.0 37.0h-2.6M108.0 32.0h-1.5M108.0 29.0h-1.5M110.0 105.5v2.6M115.2 105.5v1.5M118.3 105.5v1.5M120.5 105.5v1.5M122.2 105.5v1.5M123.5 105.5v1.5M124.7 105.5v1.5M125.7 105.5v1.5M126.6 105.5v1.5M127.4 105.5v2.6M132.6 105.5v1.5M135.7 105.5v1.5M137.9 105.5v1.5M139.5 105.5v1.5M140.9 105.5v1.5M142.1 105.5v1.5M143.1 105.5v1.5M144.0 105.5v1.5M144.8 105.5v2.6M150.0 105.5v1.5M153.1 105.5v1.5M155.3 105.5v1.5M156.9 105.5v1.5M158.3 105.5v1.5M159.5 105.5v1.5M160.5 105.5v1.5M161.4 105.5v1.5M162.2 105.5v2.6M167.4 105.5v1.5M170.5 105.5v1.5M172.6 105.5v1.5M174.3 105.5v1.5M175.7 105.5v1.5M176.9 105.5v1.5M177.9 105.5v1.5M178.8 105.5v1.5M179.6 105.5v2.6M184.8 105.5v1.5M187.9 105.5v1.5" stroke="#3a3a3a" stroke-width=".65"/>
<text x="109.5" y="31.1" font-size="6.4" font-weight="bold" text-anchor="start" fill="#000">2.8</text>
<text x="190.5" y="31.1" font-size="6.4" font-weight="bold" text-anchor="end" fill="#000">8.8</text>
<text x="109.5" y="104.0" font-size="6.4" font-weight="bold" text-anchor="start" fill="#000">76.6</text>
<text x="190.5" y="104.0" font-size="6.4" font-weight="bold" text-anchor="end" fill="#000">11.8</text>
<text x="128.05" y="68.7" font-size="4.6" text-anchor="middle" fill="#222">Q1</text>
<text x="145.75" y="68.7" font-size="4.6" text-anchor="middle" fill="#222">Q2</text>
<text x="128.05" y="90.5" font-size="4.6" text-anchor="middle" fill="#222">Q3</text>
<text x="145.75" y="90.5" font-size="4.6" text-anchor="middle" fill="#222">Q4</text>
<defs><clipPath id="s12"><rect x="197.5" y="25" width="83.5" height="80.5"/></clipPath></defs>
<g clip-path="url(#s12)">
<ellipse cx="216.0" cy="88.8" rx="11.5" ry="7.5" fill="url(#rg)" opacity="1.0"/>
<ellipse cx="216.0" cy="88.8" rx="6.5" ry="4.2" fill="url(#rg)" opacity="0.85"/>
<path d="M216.0 91.6h.8M219.3 91.1h.8M223.3 85.9h.8M213.2 84.2h.8M215.5 91.4h.8M215.9 89.9h.8M207.4 87.8h.8M211.9 93.2h.8M220.0 91.8h.8M215.7 90.3h.8M219.0 87.9h.8M213.8 87.9h.8M213.3 86.4h.8M214.7 86.2h.8M219.4 84.3h.8M219.7 87.2h.8M213.5 84.2h.8M215.4 87.7h.8M216.9 87.0h.8M216.4 93.9h.8M217.8 87.1h.8M220.3 88.7h.8M218.7 90.7h.8M214.2 82.6h.8M214.4 89.9h.8M214.3 89.6h.8M220.4 87.5h.8M221.5 94.0h.8M220.9 92.6h.8M220.9 95.8h.8M216.8 88.6h.8M218.7 86.2h.8M209.0 85.0h.8M217.7 90.1h.8M209.1 82.0h.8M214.6 87.8h.8M215.8 90.4h.8M221.5 89.9h.8M218.8 85.6h.8M210.7 88.5h.8M219.0 91.0h.8M218.7 91.2h.8M219.6 83.8h.8M212.7 89.4h.8M218.7 84.4h.8M221.3 87.9h.8M215.0 89.2h.8M219.4 84.7h.8M220.5 89.3h.8M212.5 87.2h.8M206.2 85.3h.8M216.8 86.5h.8M214.5 87.9h.8M216.2 91.5h.8M215.9 87.7h.8M218.4 94.9h.8M214.5 89.8h.8M208.9 91.5h.8M219.0 92.8h.8M215.7 85.4h.8M220.0 91.2h.8M212.1 83.7h.8M218.0 88.3h.8M227.8 88.3h.8M213.6 87.9h.8M208.5 84.9h.8M223.4 89.1h.8M213.3 84.4h.8M218.6 90.8h.8M217.2 87.5h.8M217.4 89.8h.8M212.9 89.9h.8M206.5 83.4h.8M214.6 88.0h.8M210.8 88.8h.8M220.8 90.5h.8M217.0 91.1h.8M217.8 85.4h.8M215.1 92.2h.8M210.9 88.0h.8M214.2 85.6h.8M211.4 88.2h.8M217.4 89.6h.8M209.5 86.8h.8M217.6 91.5h.8M219.0 91.3h.8M220.9 91.6h.8M212.3 88.2h.8M212.8 81.1h.8M208.4 93.6h.8M211.0 81.2h.8M213.4 92.6h.8M215.8 89.7h.8M214.8 88.1h.8M221.7 91.6h.8M215.6 91.1h.8M220.8 88.5h.8M217.2 89.4h.8M213.0 91.5h.8M215.2 86.6h.8M208.5 83.8h.8M222.9 86.1h.8M217.9 87.7h.8M218.3 90.6h.8M212.5 87.2h.8M216.4 88.9h.8M215.9 87.6h.8M218.8 92.7h.8M218.4 86.6h.8M217.8 88.9h.8M218.1 94.2h.8M215.0 88.3h.8M212.0 87.1h.8M213.4 92.9h.8M217.4 87.0h.8M224.7 85.8h.8M219.9 92.0h.8M218.6 88.1h.8M215.4 87.4h.8M219.5 82.1h.8M213.7 88.6h.8M213.4 82.8h.8M214.9 86.1h.8M219.6 93.1h.8M216.3 82.9h.8M215.1 85.7h.8M219.1 93.9h.8M217.4 94.7h.8M222.8 91.5h.8M212.1 88.6h.8M210.0 91.1h.8M217.1 93.0h.8M217.9 83.4h.8M219.5 92.1h.8M224.1 87.2h.8M212.5 88.7h.8M211.9 84.3h.8M211.7 96.0h.8M213.8 85.6h.8M214.5 88.6h.8M222.3 92.4h.8M220.0 89.5h.8M217.2 87.1h.8M209.7 93.9h.8M214.4 91.6h.8M215.0 88.4h.8M215.7 84.7h.8M216.1 89.9h.8M220.2 90.8h.8M221.0 90.3h.8M216.4 83.0h.8M214.0 93.1h.8M216.9 91.2h.8M215.4 86.7h.8M225.6 91.1h.8M223.1 91.3h.8M215.0 82.0h.8M216.8 84.2h.8M206.4 91.1h.8M219.6 91.1h.8M216.6 88.7h.8M218.3 89.5h.8M216.7 91.0h.8M205.3 89.9h.8M213.5 90.9h.8M221.6 87.0h.8M219.9 91.5h.8M213.0 86.7h.8M216.7 82.1h.8M214.1 88.8h.8M214.1 83.6h.8M214.3 92.8h.8M222.0 89.0h.8M212.4 88.0h.8M216.1 86.5h.8M214.5 90.2h.8M220.2 81.9h.8M220.4 89.5h.8M221.2 89.1h.8M218.0 93.6h.8M202.6 91.4h.8M216.9 83.3h.8M204.0 87.8h.8M211.4 90.8h.8M217.0 88.2h.8M220.5 89.7h.8M219.4 91.4h.8M217.5 91.0h.8M219.6 85.0h.8M214.8 88.0h.8M214.3 83.6h.8M213.5 89.2h.8M216.9 93.1h.8M213.3 86.9h.8M213.4 87.2h.8M213.3 82.6h.8M217.6 91.6h.8M221.0 86.0h.8M215.1 93.8h.8M215.5 89.5h.8M215.3 91.4h.8M220.4 95.9h.8M218.3 90.1h.8M210.5 86.6h.8M212.8 87.1h.8M210.1 91.3h.8M211.3 88.7h.8M210.3 88.8h.8M223.5 87.1h.8M217.6 88.5h.8M217.3 89.9h.8M213.1 87.6h.8M213.3 85.7h.8M210.5 90.6h.8M212.7 90.0h.8M218.5 85.9h.8M220.7 86.6h.8M218.8 93.2h.8M212.8 85.3h.8M211.8 94.7h.8M214.3 84.6h.8M219.7 88.5h.8M215.8 85.5h.8M206.0 85.0h.8M211.3 83.1h.8M211.1 85.0h.8M219.6 91.0h.8M218.3 87.2h.8M210.3 88.6h.8M218.0 91.7h.8M215.8 88.1h.8M217.3 85.9h.8M212.3 89.9h.8M210.3 87.5h.8M219.5 89.6h.8M217.9 85.5h.8M215.4 87.6h.8M218.7 90.1h.8M216.1 94.1h.8M218.5 88.0h.8M213.3 88.1h.8M213.5 93.0h.8M218.6 88.0h.8M213.1 85.0h.8M214.9 92.3h.8M219.9 88.9h.8M216.7 83.2h.8M219.5 88.4h.8M222.3 88.9h.8M214.0 89.0h.8M213.3 92.2h.8M217.5 89.9h.8M217.7 87.8h.8M218.4 89.5h.8M224.1 89.9h.8M217.9 87.6h.8M214.6 87.6h.8M222.1 89.8h.8M220.7 88.6h.8M214.7 82.9h.8M220.1 95.4h.8M215.4 92.9h.8M220.2 87.3h.8M219.9 86.7h.8M215.1 92.3h.8M217.2 85.5h.8M222.8 86.5h.8M215.7 87.7h.8M215.7 86.3h.8M209.1 93.3h.8M212.2 85.7h.8M205.5 87.6h.8M222.2 93.7h.8M228.9 94.9h.8M218.3 89.2h.8M222.9 89.6h.8M217.4 86.2h.8M216.9 94.7h.8M216.2 90.0h.8M205.7 91.4h.8M218.1 93.2h.8M217.5 86.5h.8M210.3 89.5h.8M216.2 85.9h.8M216.0 86.8h.8M219.5 87.9h.8M210.7 87.6h.8M213.6 92.6h.8M214.0 84.4h.8M215.8 87.7h.8M217.2 89.2h.8M211.3 87.6h.8M215.4 84.8h.8M213.3 88.6h.8M208.6 84.2h.8M213.6 87.7h.8M218.0 84.6h.8M217.0 90.2h.8M222.6 87.9h.8M211.5 83.1h.8M218.1 92.3h.8M212.5 89.1h.8M219.5 91.6h.8M213.9 90.0h.8M215.6 85.6h.8M217.1 89.7h.8M211.7 89.2h.8M225.0 85.3h.8M219.2 91.7h.8M216.3 89.6h.8M214.9 92.4h.8M211.8 87.6h.8M207.3 88.3h.8M217.6 83.8h.8M212.0 89.3h.8M213.7 84.5h.8M204.6 87.9h.8M224.5 88.2h.8M217.7 89.8h.8M215.4 88.5h.8M216.3 85.8h.8M227.0 97.8h.8M217.2 93.8h.8M212.1 87.2h.8M220.9 85.6h.8M209.9 88.5h.8M206.9 92.2h.8M219.2 89.5h.8M218.9 86.1h.8M211.7 90.3h.8M220.2 89.4h.8M215.7 86.9h.8M222.2 84.9h.8M212.1 86.4h.8M209.1 83.7h.8M211.3 90.8h.8M224.1 90.6h.8M208.7 85.7h.8M215.4 87.6h.8M214.3 89.8h.8M207.3 85.6h.8M217.0 90.7h.8M217.3 88.8h.8M215.4 86.5h.8M216.5 88.0h.8M212.9 91.7h.8M221.5 88.2h.8M218.9 92.5h.8M217.4 89.2h.8M218.4 84.1h.8M209.8 89.3h.8M217.4 92.8h.8M214.0 91.6h.8M221.0 95.1h.8M212.6 87.1h.8M217.5 89.6h.8M211.7 86.4h.8M210.4 94.7h.8M215.9 88.6h.8M213.5 88.4h.8M219.8 88.2h.8M216.1 95.0h.8M220.4 89.9h.8M214.3 88.4h.8M212.9 89.0h.8M213.2 86.1h.8M214.4 85.2h.8M217.0 96.1h.8M213.3 83.3h.8M220.4 88.8h.8M224.9 90.8h.8M220.2 86.8h.8M208.8 87.0h.8M218.9 86.3h.8M208.7 85.7h.8M213.8 87.1h.8M215.7 95.3h.8M215.9 86.9h.8M210.9 90.0h.8M208.6 91.6h.8M215.9 80.8h.8M217.5 87.7h.8M225.7 82.0h.8M217.6 88.2h.8M223.3 83.4h.8M209.7 96.9h.8M220.4 81.4h.8M218.5 84.5h.8M210.4 81.4h.8M223.7 86.4h.8M217.5 88.6h.8M203.8 82.9h.8M222.0 81.1h.8M217.9 87.8h.8M221.0 92.0h.8M222.5 89.2h.8M218.0 84.9h.8M211.6 91.9h.8M211.2 92.5h.8M223.9 85.2h.8M220.4 84.7h.8M218.7 84.7h.8M218.7 89.3h.8M207.7 97.1h.8M223.7 81.3h.8M218.8 86.4h.8M232.4 90.0h.8M219.2 87.7h.8M221.2 86.2h.8M209.0 84.9h.8M212.8 90.9h.8M216.9 86.2h.8M212.9 83.4h.8M217.2 78.5h.8M214.4 93.8h.8M213.3 84.7h.8M216.6 83.8h.8M210.2 90.9h.8M211.2 97.2h.8M220.5 88.3h.8M211.3 86.4h.8M198.1 87.2h.8M223.3 92.0h.8M212.8 90.9h.8M221.3 88.3h.8M219.0 93.7h.8M219.9 86.9h.8M216.3 89.1h.8M203.4 87.4h.8M215.2 77.6h.8M202.6 95.4h.8M217.1 95.0h.8M213.3 95.5h.8M220.8 85.6h.8M218.5 96.3h.8M235.4 93.3h.8M212.8 83.7h.8M221.8 94.4h.8M217.5 88.0h.8M223.0 91.7h.8M219.6 81.4h.8M213.8 97.4h.8M216.4 100.4h.8M219.6 87.5h.8M218.8 91.7h.8M210.8 89.0h.8M213.2 95.2h.8M212.9 88.6h.8M204.5 80.3h.8M215.8 83.9h.8M214.2 89.4h.8M221.0 82.2h.8M215.0 91.6h.8M211.1 81.4h.8M211.0 95.8h.8M216.7 96.2h.8M214.1 94.0h.8M205.0 85.8h.8M217.2 97.2h.8M220.3 94.5h.8M213.2 86.1h.8M226.7 96.8h.8M226.4 95.6h.8M212.4 98.6h.8M217.9 94.9h.8M222.6 80.7h.8M201.0 78.8h.8M216.2 94.0h.8M214.6 92.4h.8M206.7 84.3h.8M209.4 87.8h.8M207.3 86.9h.8M221.3 86.9h.8M209.4 85.4h.8M206.8 82.2h.8M223.0 91.0h.8M205.0 85.7h.8M220.2 92.9h.8M221.7 94.0h.8M216.2 88.4h.8M214.6 93.7h.8M223.4 98.1h.8M225.5 85.7h.8M204.7 80.2h.8M209.4 90.7h.8M205.3 77.2h.8M215.1 92.3h.8M222.7 97.5h.8M216.2 85.7h.8M214.0 81.6h.8M211.0 94.0h.8M233.2 96.7h.8M218.7 87.5h.8M218.3 79.3h.8M220.9 92.8h.8M215.2 88.3h.8M202.7 90.5h.8M222.6 75.5h.8M211.6 89.4h.8M229.6 85.7h.8M215.9 95.5h.8M220.1 87.7h.8M212.7 88.1h.8M209.9 92.5h.8M209.4 90.3h.8M223.9 95.4h.8M217.5 88.8h.8M219.5 89.5h.8M225.8 89.5h.8M232.5 104.6h.8M211.9 90.3h.8M207.8 91.5h.8M220.4 88.3h.8M208.7 88.0h.8M233.2 98.8h.8M220.1 86.2h.8M216.8 84.9h.8M206.1 82.8h.8M221.8 90.9h.8M218.3 83.5h.8M205.5 92.3h.8M213.9 94.2h.8M210.8 92.8h.8M218.7 86.8h.8M213.3 97.7h.8M224.3 88.3h.8M218.1 81.2h.8M230.6 97.3h.8M213.5 90.6h.8M194.6 90.7h.8M220.6 90.5h.8M223.4 91.0h.8M208.9 84.2h.8M215.2 92.8h.8M216.8 85.3h.8M219.4 82.8h.8M233.2 92.1h.8M208.6 88.3h.8M225.1 92.2h.8M232.9 83.5h.8M229.3 90.0h.8M223.6 97.8h.8M206.8 80.3h.8M213.4 79.9h.8M200.3 86.9h.8M225.9 87.3h.8M220.6 107.1h.8M219.2 87.4h.8M215.2 90.5h.8M214.3 91.7h.8M218.3 93.3h.8M217.8 88.3h.8M209.1 80.8h.8M214.3 86.4h.8M218.9 88.5h.8M213.5 99.3h.8M219.2 94.9h.8M208.4 92.5h.8M226.0 92.0h.8M209.5 93.9h.8M210.8 80.2h.8M203.6 87.3h.8M212.6 92.0h.8M222.0 96.0h.8M219.3 89.5h.8M216.6 84.7h.8M209.9 84.1h.8M218.4 84.6h.8M215.8 93.8h.8M197.3 81.8h.8M208.5 87.4h.8M204.4 83.6h.8M234.8 84.0h.8M215.6 89.3h.8M213.9 82.1h.8M224.3 79.9h.8M208.5 86.2h.8M211.1 93.4h.8M213.5 97.2h.8M215.9 95.7h.8M219.3 87.2h.8M213.5 92.8h.8M211.4 87.2h.8M209.4 77.1h.8M220.1 91.6h.8M206.0 89.1h.8M213.8 78.3h.8M208.2 90.3h.8M224.1 90.9h.8M238.3 92.5h.8M209.8 80.0h.8M227.9 87.2h.8M212.9 83.7h.8M209.4 85.5h.8M219.8 91.3h.8M218.9 93.3h.8M212.3 82.8h.8M215.8 78.1h.8M223.2 91.7h.8M220.6 83.6h.8M212.4 88.0h.8M208.2 82.0h.8M214.7 88.9h.8M211.0 92.8h.8M234.2 93.5h.8M214.9 86.7h.8M229.4 91.6h.8M221.3 90.2h.8M211.9 95.3h.8M214.5 89.0h.8M199.2 97.0h.8M222.5 88.7h.8M210.0 84.6h.8M202.7 89.0h.8M209.4 89.6h.8M220.0 98.3h.8M218.2 90.1h.8M220.5 85.9h.8M214.5 89.9h.8M225.9 93.4h.8M214.5 94.3h.8M213.6 80.8h.8M229.3 90.4h.8M213.1 82.4h.8M213.4 96.6h.8M216.5 99.7h.8M217.2 94.5h.8M217.3 86.7h.8M213.7 87.2h.8M207.4 81.6h.8M220.0 95.5h.8M218.4 89.4h.8M209.8 93.7h.8M225.6 84.4h.8M217.8 87.5h.8M205.2 95.5h.8M226.8 91.8h.8M228.6 88.0h.8M219.5 96.0h.8M214.9 90.3h.8M209.5 91.3h.8M226.6 85.4h.8M210.8 87.9h.8M228.4 87.9h.8M210.4 87.6h.8M226.2 82.5h.8M215.6 95.1h.8M216.7 87.4h.8M223.8 83.7h.8M233.4 93.2h.8M213.8 88.8h.8M216.3 87.2h.8M206.9 86.2h.8M202.9 93.6h.8M207.6 83.8h.8M210.2 91.3h.8M214.9 95.4h.8M212.8 88.8h.8M216.0 86.8h.8M225.5 95.7h.8M227.0 83.0h.8M219.3 83.3h.8M207.3 78.5h.8M208.9 90.5h.8M227.6 98.4h.8M209.2 84.5h.8M218.4 89.5h.8M218.2 80.1h.8M215.0 91.2h.8M218.6 88.2h.8M210.7 87.3h.8M229.3 92.5h.8M224.9 97.7h.8M207.8 90.7h.8M220.1 95.4h.8M214.5 87.1h.8M211.1 88.6h.8M214.1 87.3h.8M219.0 86.8h.8M208.9 85.4h.8M211.9 89.9h.8M226.2 87.9h.8M196.7 88.7h.8M215.7 83.6h.8M214.2 97.1h.8M204.3 81.1h.8M215.7 72.9h.8M212.5 92.6h.8M220.5 90.6h.8M213.5 87.1h.8M238.1 92.1h.8M227.0 83.5h.8M218.1 90.3h.8M217.4 77.8h.8M212.8 95.0h.8M220.6 85.0h.8M223.2 79.9h.8M220.8 90.5h.8M211.3 82.6h.8M202.9 85.5h.8M230.0 94.2h.8M219.4 93.2h.8M211.4 90.2h.8M192.8 82.9h.8M212.3 87.4h.8M214.7 90.9h.8M211.1 92.1h.8M214.1 92.2h.8M217.0 92.4h.8M219.7 85.6h.8M217.5 81.9h.8M216.4 90.0h.8M213.7 87.0h.8M223.8 95.0h.8M227.3 86.7h.8M212.5 91.5h.8M223.1 80.1h.8M231.8 95.7h.8M206.0 92.5h.8M212.7 87.1h.8M208.2 83.2h.8M213.0 88.3h.8M207.2 86.8h.8M210.4 84.9h.8M209.0 84.3h.8M228.9 81.9h.8M205.6 86.6h.8M212.1 82.6h.8M219.4 82.9h.8M216.1 92.8h.8M220.6 87.3h.8M216.1 89.0h.8M220.9 84.1h.8M226.2 93.1h.8M231.0 94.2h.8M224.3 74.8h.8M212.5 96.9h.8M219.2 86.3h.8M221.6 89.3h.8M219.3 85.1h.8M220.3 96.2h.8M218.0 90.6h.8M210.5 89.9h.8M212.8 81.1h.8M212.7 86.6h.8M220.5 93.4h.8M214.5 86.2h.8M221.2 84.4h.8M213.3 86.7h.8M214.7 85.1h.8M229.1 94.5h.8M214.7 81.0h.8M212.0 90.6h.8M200.4 98.4h.8M215.4 87.8h.8M221.1 81.8h.8M216.6 88.2h.8M221.8 83.9h.8M221.1 94.7h.8M218.5 85.8h.8M209.3 78.6h.8M211.5 90.1h.8M228.1 94.8h.8M225.7 87.1h.8M212.7 80.2h.8M210.7 82.0h.8M214.1 91.3h.8M215.2 86.5h.8M221.6 96.3h.8M224.8 81.0h.8M230.1 87.8h.8M204.6 85.0h.8M224.2 76.2h.8M226.6 90.6h.8M220.7 82.1h.8M211.7 82.1h.8M225.6 85.6h.8M219.2 85.4h.8M202.8 90.9h.8M225.7 96.9h.8M211.7 87.9h.8M221.7 90.6h.8M217.9 99.9h.8M212.8 92.2h.8M211.9 94.7h.8M214.1 83.2h.8M222.2 89.3h.8M213.1 86.8h.8M211.2 90.2h.8M218.8 96.8h.8M210.7 94.6h.8M220.6 81.9h.8M228.3 81.1h.8M220.3 79.6h.8M218.4 86.8h.8M214.1 78.6h.8M210.1 93.4h.8M221.4 88.7h.8M215.4 85.2h.8M228.2 89.8h.8M225.4 82.4h.8M204.2 93.8h.8M209.7 86.8h.8M220.6 93.7h.8M221.9 92.1h.8M229.9 91.7h.8M224.2 89.9h.8M218.2 98.3h.8M214.9 76.1h.8M217.5 89.8h.8M231.7 88.8h.8M207.6 88.2h.8M231.8 88.9h.8M227.1 92.5h.8M222.0 85.2h.8M217.3 84.7h.8M216.7 85.1h.8M225.5 87.0h.8M214.5 77.2h.8M208.4 99.4h.8M213.1 79.9h.8M216.1 87.1h.8M212.1 86.2h.8M212.3 92.4h.8M206.4 88.1h.8M222.9 84.6h.8M234.4 90.8h.8M215.3 85.3h.8M222.4 81.1h.8M220.8 99.7h.8M218.9 92.8h.8M208.9 91.3h.8M210.1 85.5h.8M216.4 97.9h.8M211.7 78.3h.8M217.6 92.5h.8M221.9 90.4h.8M227.7 94.4h.8M223.5 87.4h.8M205.0 95.2h.8M209.8 94.2h.8M226.4 84.2h.8M211.7 90.2h.8M224.8 85.1h.8M214.6 83.4h.8M207.1 88.0h.8M213.0 78.3h.8M220.1 87.2h.8M213.6 81.7h.8M222.6 90.9h.8M219.2 88.7h.8M219.6 96.9h.8M218.2 90.0h.8M213.1 91.5h.8M214.8 84.9h.8M225.9 89.0h.8M209.8 84.3h.8M212.5 82.8h.8M228.5 93.1h.8M205.8 93.1h.8M213.8 89.6h.8M213.7 90.4h.8M219.9 92.8h.8M223.4 76.8h.8M212.5 87.9h.8M214.7 81.0h.8M213.2 87.0h.8M199.6 81.8h.8M221.8 85.1h.8M214.4 87.8h.8M219.9 92.1h.8M224.4 89.7h.8M217.6 87.7h.8M217.7 87.9h.8M222.2 92.5h.8M205.1 75.7h.8M219.7 86.1h.8M203.8 91.4h.8M228.3 84.2h.8M208.5 83.9h.8" stroke="#c81c2a" stroke-width=".8" stroke-opacity=".6"/>
<path d="M211.1 86.3h.8M207.5 86.7h.8M215.4 94.1h.8M218.7 93.3h.8M236.4 91.9h.8M227.0 84.8h.8M219.9 102.4h.8M235.0 88.7h.8M215.4 86.3h.8M231.9 74.9h.8M222.5 79.1h.8M235.5 79.1h.8M229.9 86.2h.8M219.9 98.3h.8M219.7 92.0h.8M224.1 80.3h.8M219.4 93.9h.8M223.7 89.1h.8M212.0 97.3h.8M213.7 99.0h.8M222.1 92.4h.8M204.3 87.5h.8M209.5 87.6h.8M233.5 90.8h.8M222.9 94.3h.8M206.9 87.7h.8M213.5 94.6h.8M212.5 98.0h.8M243.0 75.5h.8M218.7 77.5h.8M234.2 83.1h.8M227.5 90.5h.8M210.2 77.5h.8M233.0 84.9h.8M223.6 97.5h.8M220.3 86.1h.8M209.2 90.4h.8M211.5 76.5h.8M214.1 83.6h.8M202.5 85.4h.8M229.6 92.3h.8M243.1 96.8h.8M223.5 74.9h.8M223.1 96.2h.8M217.6 97.3h.8M210.4 89.3h.8M230.0 99.8h.8M220.2 101.0h.8M216.8 76.1h.8M219.5 97.2h.8M216.9 98.8h.8M218.4 100.5h.8M195.9 101.8h.8M197.7 86.3h.8M207.3 89.4h.8M218.2 86.0h.8M227.8 94.9h.8M216.9 96.1h.8M201.0 79.8h.8M205.1 90.3h.8M230.9 85.8h.8M213.3 79.6h.8M228.2 96.1h.8M214.2 86.4h.8M215.9 87.6h.8M225.7 73.5h.8M214.4 93.1h.8M210.2 95.9h.8M236.6 82.7h.8M211.6 96.3h.8M201.9 79.9h.8M202.1 87.1h.8M224.6 91.6h.8M223.8 78.9h.8M234.0 88.4h.8M216.1 99.3h.8M222.0 90.5h.8M230.1 102.1h.8M220.4 92.6h.8M193.9 79.9h.8M244.0 102.7h.8M218.7 81.9h.8M204.9 79.0h.8M213.9 76.0h.8M219.2 86.7h.8M206.3 78.4h.8M207.0 83.9h.8M217.9 91.6h.8M200.4 84.4h.8M220.7 90.1h.8M230.1 85.8h.8M234.5 104.1h.8M225.5 98.7h.8M231.6 91.7h.8M218.2 89.7h.8M244.0 90.0h.8M212.0 84.3h.8M229.6 84.5h.8M231.2 93.7h.8M223.5 99.5h.8M206.1 83.7h.8M218.9 90.8h.8M205.6 83.5h.8M235.6 86.4h.8M231.2 87.2h.8M212.1 91.0h.8M235.4 88.6h.8M205.7 81.9h.8M215.3 85.9h.8M209.7 91.9h.8M208.3 93.7h.8M208.4 80.7h.8M233.0 93.4h.8M216.4 83.6h.8M217.7 88.0h.8M223.1 95.0h.8M210.9 87.4h.8M221.0 78.8h.8M233.5 99.8h.8M220.2 76.2h.8M211.0 93.5h.8M197.2 73.1h.8M214.3 90.5h.8M229.4 95.0h.8M193.2 82.2h.8M208.9 80.4h.8M228.7 90.9h.8M211.6 88.6h.8M222.3 96.2h.8M213.8 91.5h.8M212.0 90.1h.8M219.7 89.5h.8M220.1 97.7h.8M212.6 81.4h.8M214.3 90.7h.8M228.6 88.3h.8M213.5 85.2h.8M213.3 91.1h.8M220.8 89.8h.8M221.7 88.9h.8M233.6 86.0h.8M225.6 91.5h.8M213.1 98.3h.8M223.4 81.2h.8M231.2 92.4h.8M228.4 87.3h.8M216.9 88.9h.8M206.0 88.3h.8M221.4 93.8h.8M218.4 91.8h.8M205.3 82.3h.8M229.0 97.8h.8M230.2 79.1h.8M209.4 83.5h.8M233.8 84.9h.8M223.0 91.1h.8M225.4 87.4h.8M224.0 93.6h.8M222.3 87.8h.8M229.0 98.1h.8M247.1 82.4h.8M223.6 88.9h.8M208.8 85.6h.8M213.3 81.4h.8M214.0 91.6h.8M209.4 84.0h.8M219.0 81.6h.8M207.2 77.1h.8M212.2 96.3h.8M202.0 92.1h.8M210.3 81.3h.8M228.5 91.8h.8M227.0 88.1h.8M229.4 84.3h.8M223.9 94.1h.8M219.7 82.3h.8M238.1 87.4h.8M209.6 91.2h.8M233.9 92.2h.8M207.4 87.5h.8M223.6 92.1h.8M205.0 78.9h.8M222.4 88.1h.8M225.2 95.5h.8M205.6 79.8h.8M213.9 97.1h.8M218.0 93.9h.8M194.6 87.7h.8M230.2 97.4h.8M212.7 100.3h.8M211.6 96.8h.8M239.1 88.7h.8M206.2 101.3h.8M224.9 80.8h.8M226.1 81.7h.8M222.6 81.2h.8M195.9 90.9h.8M212.9 86.7h.8M221.6 86.9h.8M212.8 89.8h.8M227.0 89.8h.8M216.7 88.0h.8M237.0 96.8h.8M218.1 92.0h.8M227.4 92.5h.8M221.8 91.7h.8M217.8 92.9h.8M227.3 93.4h.8M228.8 92.7h.8M213.1 80.7h.8M223.1 86.3h.8M229.5 85.0h.8M216.4 79.7h.8M220.1 85.9h.8M233.7 89.6h.8M236.5 84.6h.8M204.1 94.4h.8M226.8 98.9h.8M214.2 77.2h.8M238.7 91.7h.8M215.6 102.3h.8M222.7 83.9h.8M226.5 86.1h.8M213.4 91.3h.8M222.8 88.0h.8M221.2 80.5h.8M230.1 101.8h.8M225.5 97.5h.8M243.9 89.1h.8M215.0 82.6h.8M217.2 93.9h.8M220.7 96.6h.8M215.4 99.3h.8M218.9 88.4h.8M223.0 87.7h.8M221.0 92.8h.8M221.0 91.8h.8M213.6 83.5h.8M206.9 92.7h.8M213.0 91.2h.8M223.1 89.8h.8M219.5 92.4h.8M227.3 99.7h.8M219.6 86.5h.8M209.1 102.1h.8M214.5 93.7h.8M230.3 81.8h.8M215.2 93.2h.8M221.9 80.8h.8M223.3 98.6h.8M243.7 87.0h.8M214.9 78.9h.8M225.8 86.6h.8M240.5 89.0h.8M236.6 97.7h.8M219.7 89.7h.8M239.9 97.3h.8M253.9 96.2h.8M224.5 92.2h.8M226.4 91.2h.8M228.5 85.1h.8M236.6 84.8h.8M234.9 88.4h.8M239.0 85.1h.8M223.7 76.8h.8M238.4 93.0h.8M224.7 76.3h.8M240.4 89.2h.8M241.3 89.3h.8M245.6 91.8h.8M233.6 95.2h.8M224.2 88.2h.8M235.4 86.9h.8M237.2 86.4h.8M219.4 100.9h.8M234.1 87.1h.8M221.6 88.6h.8M232.5 79.6h.8M244.8 95.4h.8M218.0 93.4h.8M227.7 93.8h.8M239.2 95.8h.8M239.6 98.8h.8M231.7 86.9h.8M231.8 86.2h.8M254.2 91.0h.8M246.3 91.3h.8M234.1 95.3h.8M229.1 93.5h.8M246.4 90.5h.8M236.5 86.9h.8M241.2 95.7h.8M244.6 87.2h.8M235.2 84.0h.8M238.5 94.0h.8M236.1 88.8h.8M238.4 91.2h.8M238.9 84.8h.8M227.3 85.7h.8M226.6 90.8h.8M252.4 90.3h.8M220.1 83.4h.8M225.7 91.9h.8M236.5 100.4h.8M235.4 88.1h.8M245.6 83.3h.8M234.3 96.3h.8M236.7 91.8h.8M226.3 78.8h.8M231.8 95.3h.8M229.6 81.8h.8M220.6 100.6h.8M220.5 84.5h.8M224.1 92.9h.8M219.3 79.4h.8M236.2 78.6h.8M239.1 96.7h.8M235.5 72.7h.8M228.7 87.1h.8M246.5 99.3h.8M243.6 89.7h.8M232.4 88.3h.8M228.9 86.0h.8M229.3 88.7h.8M246.0 80.8h.8M251.2 93.7h.8M242.7 89.1h.8M234.1 97.0h.8M231.1 83.0h.8M234.1 85.4h.8M246.7 90.6h.8M239.6 89.8h.8M234.8 96.8h.8M237.8 99.1h.8M218.7 91.8h.8M243.1 89.4h.8M219.1 88.7h.8M232.6 97.8h.8M245.8 96.8h.8M237.6 92.1h.8M237.9 97.0h.8M236.4 94.4h.8M244.1 90.2h.8M238.0 86.2h.8M226.6 86.1h.8M229.8 80.1h.8M237.5 95.8h.8M244.3 100.2h.8M234.1 104.6h.8M233.1 91.5h.8M248.1 80.3h.8M239.8 92.7h.8M255.3 87.1h.8M237.8 74.6h.8M236.1 80.0h.8M224.6 93.6h.8M229.9 81.0h.8M242.1 91.0h.8M231.8 79.5h.8M228.7 80.7h.8M232.5 86.9h.8M233.7 84.9h.8M232.2 94.9h.8M230.3 94.7h.8M241.7 94.3h.8M218.8 93.6h.8M235.7 91.9h.8M232.1 87.1h.8M224.5 80.7h.8M237.0 83.2h.8M229.9 94.6h.8M246.0 88.4h.8M216.6 90.4h.8M242.8 89.8h.8M231.3 81.8h.8M236.2 107.0h.8M240.5 87.4h.8M226.7 91.9h.8M222.6 85.6h.8M232.7 87.5h.8M238.7 89.2h.8M224.2 75.4h.8M236.0 72.0h.8M222.2 102.1h.8M228.1 98.2h.8M228.9 91.2h.8M240.9 96.8h.8M232.2 81.6h.8M234.5 79.2h.8M221.2 95.1h.8M226.9 96.7h.8M245.1 84.2h.8M230.8 87.5h.8M244.1 89.8h.8M245.8 89.8h.8M245.6 88.9h.8M247.6 95.8h.8M248.0 96.9h.8M220.9 101.8h.8M237.3 80.9h.8M230.7 83.9h.8M241.6 88.0h.8M235.9 96.3h.8M222.1 79.9h.8M237.3 80.0h.8M243.0 82.3h.8M226.5 94.3h.8M249.1 89.7h.8M231.0 80.2h.8M231.8 86.2h.8M224.8 85.7h.8M242.5 90.2h.8M211.9 98.9h.8M244.6 81.4h.8M245.8 81.8h.8M239.7 90.4h.8M226.2 91.2h.8M236.1 90.6h.8M223.3 93.7h.8M232.7 98.0h.8M242.5 94.0h.8M225.3 101.8h.8M238.2 89.3h.8M229.9 89.0h.8M244.8 76.6h.8M239.2 81.4h.8M226.9 92.0h.8M239.7 87.9h.8M238.0 99.1h.8M236.1 82.5h.8M232.1 86.9h.8M247.7 87.5h.8M219.9 80.2h.8M245.8 93.0h.8M224.8 79.8h.8M241.8 81.3h.8M232.7 94.2h.8M240.4 83.2h.8M239.4 78.8h.8M236.6 85.2h.8M217.3 96.4h.8M232.3 91.6h.8M230.1 107.0h.8M248.3 88.0h.8M252.3 95.6h.8M249.2 76.3h.8M237.1 82.1h.8M233.2 86.5h.8M236.9 75.9h.8M231.1 79.4h.8M243.7 91.0h.8M240.0 95.6h.8M241.2 85.0h.8M235.0 76.7h.8M230.1 86.2h.8M232.0 90.9h.8M234.2 100.1h.8M243.0 89.7h.8M232.0 85.5h.8M245.5 84.5h.8M242.9 82.2h.8M233.8 80.8h.8M238.7 90.6h.8M230.1 78.5h.8M210.0 84.5h.8M243.5 83.0h.8M236.4 82.8h.8M239.9 83.0h.8M245.7 83.4h.8M231.7 99.9h.8M237.0 89.7h.8M233.3 91.7h.8M225.7 81.5h.8M248.0 89.6h.8M236.6 89.1h.8M235.8 96.9h.8M236.6 88.6h.8M229.2 90.2h.8M245.1 86.3h.8M231.1 97.0h.8" stroke="#c42838" stroke-width=".8" stroke-opacity=".6"/>
<path d="M243.1 70.0h.8M253.1 84.1h.8M239.6 60.0h.8M238.5 61.0h.8M224.4 62.5h.8M228.7 74.4h.8M237.7 43.0h.8M227.6 66.8h.8M232.2 57.1h.8M232.3 56.7h.8M244.6 60.6h.8M228.0 70.1h.8M225.0 64.7h.8M226.8 59.3h.8M232.2 53.8h.8M231.1 75.4h.8M225.3 79.3h.8M246.4 77.4h.8M232.1 72.2h.8M239.7 80.9h.8M232.8 73.7h.8M231.1 74.9h.8M233.6 53.9h.8M222.6 57.6h.8M254.3 53.8h.8M229.1 61.9h.8M237.7 65.5h.8M255.0 63.1h.8M221.5 68.5h.8M232.8 61.3h.8M238.9 77.1h.8M251.1 65.1h.8M233.8 67.2h.8M229.3 48.1h.8M230.3 71.4h.8M230.2 58.9h.8M253.7 77.4h.8M254.1 58.6h.8M243.4 75.8h.8M249.2 61.6h.8M235.6 57.4h.8M232.0 66.6h.8M242.0 56.9h.8M245.1 66.1h.8M252.1 60.5h.8M240.4 45.2h.8M246.4 69.5h.8M247.4 65.1h.8M238.4 63.6h.8M251.7 57.0h.8M237.1 69.2h.8M234.3 56.1h.8M235.0 66.6h.8M255.5 61.2h.8M214.6 71.0h.8M238.3 69.3h.8M237.1 63.8h.8M217.1 67.2h.8M226.0 68.5h.8M217.1 72.2h.8M235.9 44.2h.8M238.9 64.6h.8M238.7 54.4h.8M261.9 61.3h.8M248.4 43.5h.8M244.2 68.2h.8M237.2 73.9h.8M230.9 66.8h.8M236.8 65.8h.8M226.8 68.2h.8M243.5 66.6h.8M240.9 60.6h.8M231.0 61.3h.8M241.7 53.9h.8M236.6 76.7h.8M245.6 56.6h.8M251.3 50.8h.8M235.7 73.0h.8M245.2 67.5h.8M226.7 49.4h.8M243.7 66.7h.8M256.2 60.4h.8M225.9 58.3h.8M217.8 59.1h.8M236.9 62.0h.8M257.0 80.6h.8M233.8 58.6h.8M251.3 73.6h.8M224.1 56.4h.8M229.0 52.2h.8M231.3 52.6h.8M245.7 68.3h.8M218.9 56.8h.8M231.1 74.9h.8M230.6 70.5h.8M255.3 57.7h.8M243.5 65.1h.8M247.5 53.1h.8M233.8 49.6h.8M245.8 48.0h.8M238.7 50.7h.8M229.7 56.4h.8M238.7 68.6h.8M250.6 76.5h.8M238.4 54.8h.8M251.6 54.6h.8M238.1 58.2h.8M231.3 65.2h.8M225.6 62.3h.8M237.1 72.9h.8M250.6 71.7h.8M238.8 78.8h.8M249.0 54.4h.8M241.7 68.4h.8M229.1 65.7h.8M234.8 56.4h.8M239.0 59.1h.8M224.9 63.4h.8M217.9 72.3h.8M234.5 64.7h.8M248.9 73.0h.8M235.1 66.8h.8M249.0 77.0h.8M229.6 66.1h.8M226.3 55.7h.8M237.3 62.3h.8M226.1 55.5h.8M237.1 51.7h.8M239.6 53.9h.8M253.3 66.5h.8M245.9 61.3h.8M249.9 69.1h.8M246.0 65.4h.8M244.7 63.5h.8M244.5 61.8h.8M234.3 64.9h.8M239.0 63.5h.8M229.3 60.9h.8M248.2 65.8h.8M241.6 59.8h.8M253.2 63.3h.8M243.9 64.2h.8M251.1 51.5h.8M215.0 59.1h.8M210.0 54.8h.8M229.5 60.7h.8M244.7 52.6h.8M243.2 74.6h.8M255.4 55.5h.8M233.7 79.7h.8M226.7 72.7h.8M242.0 69.0h.8M219.4 50.4h.8M228.1 68.4h.8M246.9 57.8h.8M241.2 65.4h.8M227.2 53.7h.8M216.2 52.2h.8M228.3 73.2h.8M246.6 62.4h.8M240.6 56.3h.8M211.1 63.2h.8M243.2 56.9h.8M250.2 73.0h.8M245.9 47.6h.8M237.3 68.4h.8M227.2 57.8h.8M246.3 81.3h.8M246.0 65.9h.8M231.5 53.6h.8M227.7 65.8h.8M231.8 74.4h.8M222.5 52.5h.8M236.8 65.3h.8M238.8 54.5h.8M229.5 71.2h.8M233.7 59.5h.8M245.0 68.0h.8M238.1 78.4h.8M223.1 66.1h.8M231.4 72.0h.8M227.5 68.8h.8M233.7 85.3h.8M240.7 83.0h.8M230.7 58.4h.8M242.1 49.9h.8M227.8 76.0h.8M250.3 63.2h.8M250.5 69.0h.8M243.3 56.4h.8M248.8 60.1h.8M254.6 56.6h.8M265.8 60.6h.8M223.1 53.4h.8M242.4 66.9h.8M230.6 70.0h.8M259.6 66.9h.8M246.7 72.4h.8M247.6 50.3h.8M255.0 65.3h.8M240.0 74.8h.8M209.3 69.1h.8M241.9 79.0h.8M242.9 76.5h.8M250.8 55.5h.8M238.2 58.5h.8M238.1 57.1h.8M222.0 62.2h.8M235.1 68.2h.8M256.9 62.8h.8M236.1 74.6h.8M249.3 51.7h.8M238.1 51.4h.8M228.6 59.0h.8M236.2 61.2h.8M240.0 66.6h.8M255.0 71.8h.8M225.9 74.3h.8M241.1 54.1h.8M226.8 63.2h.8M238.6 66.7h.8M220.8 59.5h.8M260.4 50.7h.8M222.7 62.7h.8M240.6 58.9h.8M239.0 62.7h.8M228.0 62.4h.8M233.8 66.1h.8M244.8 56.4h.8M236.2 54.4h.8M233.3 64.1h.8M245.0 57.3h.8M244.2 63.1h.8M234.4 61.2h.8M230.7 65.8h.8M223.5 66.1h.8M231.3 75.2h.8M231.7 65.6h.8M245.1 70.5h.8M254.4 78.6h.8M236.0 59.7h.8M253.3 68.5h.8M236.7 64.1h.8M247.6 71.6h.8M214.9 55.7h.8M232.2 55.1h.8M250.5 75.5h.8M236.8 76.2h.8M235.1 75.9h.8M247.5 67.4h.8M245.0 61.4h.8M251.8 63.1h.8M245.8 59.2h.8M231.3 66.0h.8M241.5 76.5h.8M237.9 68.4h.8M244.1 82.7h.8M241.6 56.3h.8M223.7 60.7h.8M239.9 55.0h.8M225.9 55.4h.8M237.8 69.0h.8M230.0 56.2h.8M251.4 79.4h.8M243.4 59.2h.8M231.1 68.8h.8M218.4 48.5h.8M247.3 51.9h.8M228.5 79.7h.8M231.6 74.0h.8M233.9 53.8h.8M241.8 62.7h.8M246.2 51.6h.8M242.8 65.7h.8M246.1 66.5h.8M226.8 73.9h.8M247.5 72.2h.8M244.4 67.3h.8M231.5 48.4h.8M220.6 61.0h.8M213.0 56.3h.8M246.6 56.3h.8M258.0 50.9h.8M244.6 47.6h.8M240.9 77.5h.8M233.7 52.5h.8M224.7 67.7h.8M246.5 67.3h.8M231.6 53.6h.8M227.8 53.6h.8M219.5 70.6h.8M250.7 75.1h.8M255.6 58.9h.8M216.5 63.2h.8M233.7 53.2h.8M241.4 59.4h.8M243.8 66.7h.8M227.2 62.0h.8M230.7 65.1h.8M235.7 54.4h.8M240.9 61.0h.8M234.5 63.4h.8M260.5 67.7h.8M234.1 57.0h.8M218.2 61.0h.8M236.5 58.0h.8M244.4 66.7h.8M243.8 61.2h.8M253.0 69.0h.8M229.8 62.5h.8M247.7 58.5h.8M250.7 60.6h.8M217.1 67.5h.8M231.3 62.9h.8M235.2 71.8h.8M236.8 70.2h.8M227.4 62.8h.8M230.3 62.3h.8M260.3 58.2h.8M240.8 60.2h.8M241.2 56.1h.8M230.6 47.9h.8M249.9 64.2h.8M239.2 52.0h.8M252.6 73.1h.8M232.5 64.7h.8M233.5 70.3h.8M212.7 62.5h.8M239.3 70.0h.8M225.4 55.7h.8M225.0 69.7h.8M241.3 72.2h.8M245.7 69.3h.8M224.6 60.7h.8M251.6 67.4h.8M227.0 55.8h.8M232.8 61.3h.8M238.9 64.0h.8M242.7 72.9h.8M244.7 55.9h.8M260.0 63.8h.8M230.7 72.5h.8M253.0 69.2h.8M252.2 63.9h.8M236.7 55.0h.8M249.5 66.8h.8M256.3 63.3h.8M250.8 66.5h.8M257.1 66.4h.8M254.2 57.7h.8M234.6 60.2h.8M250.4 48.5h.8M226.6 65.7h.8M238.5 64.4h.8M243.5 63.2h.8M246.0 75.9h.8M228.8 74.3h.8M230.4 53.1h.8M237.6 63.3h.8M241.2 54.9h.8M236.9 59.0h.8M249.5 65.2h.8M231.1 54.7h.8M237.5 79.7h.8M219.2 56.7h.8M250.8 73.1h.8M235.4 62.5h.8M233.0 56.0h.8M234.6 67.9h.8M241.7 51.8h.8M235.6 58.3h.8M251.0 53.6h.8M225.5 51.8h.8M276.2 81.4h.8M235.8 72.0h.8M219.6 60.8h.8M263.1 64.8h.8M223.9 57.9h.8M231.7 62.3h.8M236.4 59.9h.8M221.8 62.4h.8M237.7 50.7h.8M244.1 63.0h.8M256.8 69.5h.8M231.0 56.1h.8M257.4 75.4h.8M244.2 71.9h.8M223.7 73.0h.8M237.0 64.1h.8M249.9 70.2h.8M222.2 69.0h.8M237.0 74.5h.8M241.1 70.3h.8M228.9 57.5h.8M227.4 67.2h.8M229.7 62.1h.8M263.6 75.6h.8M267.4 62.9h.8M232.2 62.8h.8M248.9 61.0h.8M264.0 61.7h.8M257.1 60.1h.8M232.7 69.5h.8M241.4 64.1h.8M236.3 68.7h.8M234.9 81.7h.8M249.5 71.3h.8M230.0 89.3h.8M243.9 60.6h.8M230.1 43.6h.8M232.7 47.6h.8M223.0 74.8h.8M234.9 57.2h.8M257.1 60.3h.8M260.9 63.7h.8M242.7 61.6h.8M232.3 65.7h.8M253.6 66.5h.8M227.6 48.9h.8M251.9 59.5h.8M226.9 67.6h.8M244.0 70.1h.8M232.0 48.0h.8M244.8 64.7h.8M238.1 56.9h.8M244.5 65.5h.8M241.7 75.1h.8M236.0 61.4h.8M234.9 50.5h.8M234.0 72.1h.8M246.6 59.9h.8M224.5 66.6h.8M238.2 65.2h.8M254.0 63.2h.8M250.0 67.3h.8M247.0 58.5h.8M236.9 66.3h.8M236.0 64.2h.8M234.6 78.7h.8M213.0 68.6h.8M238.8 54.2h.8M230.8 50.6h.8M244.3 70.5h.8M242.4 78.1h.8M219.2 51.5h.8M232.9 69.5h.8M242.9 55.2h.8M238.0 70.3h.8M221.5 67.1h.8M247.7 73.6h.8M219.5 75.1h.8M210.7 62.3h.8M210.7 70.4h.8M207.4 71.3h.8M217.8 71.0h.8M223.9 74.4h.8M201.8 72.0h.8M226.0 65.0h.8M223.0 72.2h.8M223.5 60.3h.8M227.5 58.8h.8M222.2 72.7h.8M222.7 71.4h.8M229.5 73.5h.8M221.9 76.9h.8M209.3 65.7h.8M210.8 59.6h.8M225.9 69.5h.8M229.5 72.9h.8M197.7 65.5h.8M214.9 62.9h.8M229.8 63.6h.8M225.4 66.7h.8M216.9 63.0h.8M229.9 67.1h.8M210.6 68.3h.8M207.7 76.5h.8M209.3 62.5h.8M219.2 60.1h.8M228.0 67.0h.8M218.5 67.8h.8M217.6 68.1h.8M231.5 65.7h.8M210.7 76.1h.8M224.6 64.2h.8M214.7 76.3h.8M218.9 66.9h.8M216.8 62.7h.8M222.1 57.6h.8M209.5 54.4h.8M213.3 59.1h.8M219.4 61.9h.8M216.2 71.5h.8M218.0 62.4h.8M213.8 61.7h.8M217.9 67.7h.8M227.0 72.4h.8M220.3 62.9h.8M220.1 59.9h.8M204.2 70.5h.8M223.5 44.4h.8M224.3 55.1h.8M209.9 69.9h.8M215.6 66.1h.8M209.4 75.3h.8M216.0 65.1h.8M228.8 66.8h.8M221.5 72.5h.8M217.5 57.7h.8M221.6 62.3h.8M226.8 75.0h.8M195.9 81.4h.8M208.6 68.9h.8M220.5 66.7h.8M220.1 76.6h.8M219.9 66.0h.8M218.5 67.0h.8M216.7 66.9h.8M217.0 74.1h.8M213.6 60.2h.8" stroke="#c83848" stroke-width=".8" stroke-opacity=".6"/>
<path d="M228.8 95.9h.7M260.1 59.8h.7M238.0 70.5h.7M225.8 46.6h.7M275.0 57.6h.7M237.4 72.8h.7M218.8 72.8h.7M272.7 87.5h.7M271.1 64.2h.7M235.6 104.5h.7M241.4 73.8h.7M270.3 70.4h.7M208.3 48.4h.7M205.2 40.3h.7M279.9 58.7h.7M239.5 40.6h.7M200.6 53.8h.7M273.3 99.8h.7M219.2 77.5h.7M212.0 40.1h.7M238.4 80.8h.7M270.6 82.8h.7M246.8 26.2h.7M268.5 26.3h.7M246.7 59.8h.7M272.3 50.6h.7M229.7 91.2h.7M227.4 29.7h.7M228.4 28.1h.7M203.3 94.2h.7M209.3 40.9h.7M227.0 81.3h.7M220.3 57.2h.7M222.7 70.1h.7M211.3 89.6h.7M203.8 66.9h.7M249.4 98.4h.7M223.8 54.4h.7M221.9 39.1h.7M276.8 86.7h.7M242.9 29.9h.7M216.6 103.7h.7M243.2 31.6h.7M273.7 96.4h.7M206.6 86.0h.7M202.3 80.5h.7M264.4 104.2h.7M200.0 82.6h.7M256.7 28.7h.7M239.5 90.9h.7M243.5 47.2h.7M234.3 81.9h.7M245.6 91.5h.7M267.1 87.9h.7M234.7 89.1h.7M264.9 88.3h.7M234.5 100.8h.7M209.8 95.1h.7M258.8 83.6h.7M249.0 95.3h.7" stroke="#e08080" stroke-width=".7" stroke-opacity=".45"/>
</g>
<rect x="197.5" y="25" width="83.5" height="80.5" fill="none" stroke="#6a6a6a" stroke-width="0.9"/>
<line x1="225.5" y1="25" x2="225.5" y2="105.5" stroke="#5a5a5a" stroke-width="0.8"/>
<line x1="197.5" y1="76.7" x2="281" y2="76.7" stroke="#5a5a5a" stroke-width="0.8"/>
<path d="M197.5 103.5h-2.6M197.5 98.5h-1.5M197.5 95.6h-1.5M197.5 93.5h-1.5M197.5 91.9h-1.5M197.5 90.6h-1.5M197.5 89.4h-1.5M197.5 88.5h-1.5M197.5 87.6h-1.5M197.5 86.9h-2.6M197.5 81.9h-1.5M197.5 78.9h-1.5M197.5 76.9h-1.5M197.5 75.2h-1.5M197.5 73.9h-1.5M197.5 72.8h-1.5M197.5 71.9h-1.5M197.5 71.0h-1.5M197.5 70.2h-2.6M197.5 65.2h-1.5M197.5 62.3h-1.5M197.5 60.2h-1.5M197.5 58.6h-1.5M197.5 57.3h-1.5M197.5 56.2h-1.5M197.5 55.2h-1.5M197.5 54.4h-1.5M197.5 53.6h-2.6M197.5 48.6h-1.5M197.5 45.7h-1.5M197.5 43.6h-1.5M197.5 42.0h-1.5M197.5 40.7h-1.5M197.5 39.6h-1.5M197.5 38.6h-1.5M197.5 37.7h-1.5M197.5 37.0h-2.6M197.5 32.0h-1.5M197.5 29.0h-1.5M199.5 105.5v2.6M204.7 105.5v1.5M207.7 105.5v1.5M209.9 105.5v1.5M211.6 105.5v1.5M212.9 105.5v1.5M214.1 105.5v1.5M215.1 105.5v1.5M216.0 105.5v1.5M216.8 105.5v2.6M222.0 105.5v1.5M225.0 105.5v1.5M227.2 105.5v1.5M228.9 105.5v1.5M230.2 105.5v1.5M231.4 105.5v1.5M232.4 105.5v1.5M233.3 105.5v1.5M234.1 105.5v2.6M239.3 105.5v1.5M242.3 105.5v1.5M244.5 105.5v1.5M246.1 105.5v1.5M247.5 105.5v1.5M248.7 105.5v1.5M249.7 105.5v1.5M250.6 105.5v1.5M251.3 105.5v2.6M256.6 105.5v1.5M259.6 105.5v1.5M261.8 105.5v1.5M263.4 105.5v1.5M264.8 105.5v1.5M266.0 105.5v1.5M267.0 105.5v1.5M267.8 105.5v1.5M268.6 105.5v2.6M273.8 105.5v1.5M276.9 105.5v1.5" stroke="#3a3a3a" stroke-width=".65"/>
<text x="199.0" y="31.1" font-size="6.4" font-weight="bold" text-anchor="start" fill="#000">2.6</text>
<text x="279.5" y="31.1" font-size="6.4" font-weight="bold" text-anchor="end" fill="#000">8.9</text>
<text x="199.0" y="104.0" font-size="6.4" font-weight="bold" text-anchor="start" fill="#000">76.2</text>
<text x="279.5" y="104.0" font-size="6.4" font-weight="bold" text-anchor="end" fill="#000">12.3</text>
<text x="217.8" y="68.7" font-size="4.6" text-anchor="middle" fill="#222">Q1</text>
<text x="235.5" y="68.7" font-size="4.6" text-anchor="middle" fill="#222">Q2</text>
<text x="217.8" y="90.5" font-size="4.6" text-anchor="middle" fill="#222">Q3</text>
<text x="235.5" y="90.5" font-size="4.6" text-anchor="middle" fill="#222">Q4</text>
<defs><clipPath id="s13"><rect x="287.5" y="25" width="82.0" height="80.5"/></clipPath></defs>
<g clip-path="url(#s13)">
<ellipse cx="305.0" cy="88.8" rx="11.5" ry="7.5" fill="url(#rg)" opacity="1.0"/>
<ellipse cx="305.0" cy="88.8" rx="6.5" ry="4.2" fill="url(#rg)" opacity="0.85"/>
<path d="M313.2 80.5h.8M309.3 89.3h.8M310.9 90.4h.8M313.2 89.7h.8M302.7 89.9h.8M306.9 87.7h.8M303.9 90.5h.8M308.2 87.5h.8M303.3 83.0h.8M312.6 88.8h.8M311.0 90.5h.8M313.7 94.2h.8M306.4 93.0h.8M300.7 91.6h.8M298.3 88.6h.8M309.8 89.8h.8M303.3 85.9h.8M303.5 91.4h.8M309.0 88.3h.8M299.4 89.7h.8M298.5 86.1h.8M301.7 90.2h.8M306.1 90.0h.8M306.2 86.7h.8M307.4 93.0h.8M304.8 90.3h.8M304.4 91.4h.8M308.0 91.5h.8M306.6 93.5h.8M303.4 87.3h.8M302.3 89.9h.8M302.2 86.2h.8M308.3 92.4h.8M307.6 81.0h.8M300.7 84.8h.8M299.6 86.6h.8M313.2 88.7h.8M301.7 90.1h.8M305.3 88.9h.8M301.9 88.1h.8M307.0 83.1h.8M297.8 90.7h.8M308.8 87.5h.8M300.4 87.3h.8M299.6 86.8h.8M312.4 89.9h.8M310.2 88.5h.8M306.7 92.8h.8M299.0 86.7h.8M304.3 89.2h.8M312.0 91.4h.8M298.3 86.8h.8M301.0 85.3h.8M314.1 86.6h.8M306.1 86.5h.8M308.9 90.1h.8M305.6 88.4h.8M310.1 86.4h.8M301.7 84.8h.8M311.0 88.4h.8M300.3 86.6h.8M316.2 89.7h.8M308.8 90.4h.8M304.9 86.5h.8M303.5 87.3h.8M295.1 94.8h.8M309.2 89.4h.8M304.1 86.1h.8M309.3 88.5h.8M307.2 84.7h.8M306.7 94.6h.8M303.7 90.7h.8M305.2 91.8h.8M309.8 89.3h.8M302.5 89.0h.8M305.2 86.7h.8M307.1 90.0h.8M301.0 87.6h.8M318.1 92.7h.8M305.4 95.9h.8M303.0 80.9h.8M296.4 82.9h.8M306.2 91.5h.8M295.2 90.5h.8M299.5 88.5h.8M307.1 90.0h.8M305.0 89.0h.8M299.9 88.6h.8M309.4 91.8h.8M316.8 93.3h.8M308.3 93.8h.8M306.1 84.9h.8M294.9 90.9h.8M307.6 91.3h.8M303.5 89.3h.8M313.5 90.6h.8M300.0 86.6h.8M311.2 86.1h.8M293.4 80.2h.8M299.0 90.0h.8M305.4 86.3h.8M299.2 87.4h.8M304.3 86.7h.8M303.9 86.1h.8M313.1 82.6h.8M305.5 85.6h.8M308.2 88.2h.8M306.6 90.3h.8M305.9 91.5h.8M298.7 90.5h.8M304.0 89.5h.8M312.0 92.7h.8M313.9 83.1h.8M300.7 90.8h.8M299.9 87.3h.8M312.7 92.1h.8M300.7 89.3h.8M307.9 89.1h.8M304.5 88.9h.8M298.2 88.0h.8M300.6 89.1h.8M306.9 86.1h.8M307.8 89.9h.8M304.8 90.6h.8M303.6 87.5h.8M305.4 88.4h.8M310.1 82.2h.8M303.6 82.4h.8M302.6 88.9h.8M304.9 91.2h.8M306.3 80.5h.8M299.8 92.3h.8M311.8 89.6h.8M297.8 93.8h.8M295.3 87.9h.8M304.5 89.0h.8M299.4 86.4h.8M309.5 87.4h.8M298.4 87.3h.8M305.0 87.9h.8M301.1 89.3h.8M304.0 84.7h.8M305.6 88.2h.8M305.3 83.3h.8M301.1 89.1h.8M308.8 89.8h.8M305.4 90.5h.8M309.1 94.1h.8M306.9 86.9h.8M306.9 82.9h.8M305.1 87.1h.8M304.8 89.8h.8M305.1 84.2h.8M303.3 85.9h.8M304.8 89.5h.8M300.6 90.0h.8M310.8 88.5h.8M308.2 84.6h.8M302.5 91.0h.8M297.0 85.9h.8M300.9 91.3h.8M310.1 87.3h.8M305.5 80.9h.8M308.8 90.0h.8M310.9 82.3h.8M306.5 87.7h.8M293.2 84.9h.8M304.6 90.8h.8M305.9 87.1h.8M307.0 88.4h.8M302.0 85.1h.8M305.6 89.0h.8M313.3 88.3h.8M312.2 90.5h.8M310.3 86.5h.8M301.0 87.1h.8M309.0 89.5h.8M308.4 89.9h.8M309.6 89.7h.8M302.6 89.7h.8M305.4 93.7h.8M304.3 88.7h.8M303.6 91.7h.8M308.9 90.9h.8M299.4 83.3h.8M306.2 90.8h.8M311.7 84.1h.8M304.2 83.4h.8M300.7 87.3h.8M309.3 87.5h.8M301.8 87.1h.8M310.7 96.4h.8M298.1 86.8h.8M303.1 91.7h.8M307.0 93.3h.8M300.4 87.9h.8M303.0 85.0h.8M304.3 84.9h.8M314.8 91.0h.8M300.4 86.1h.8M312.8 88.1h.8M308.1 90.6h.8M309.9 91.0h.8M304.1 86.6h.8M297.0 87.3h.8M305.6 87.5h.8M304.4 84.8h.8M314.8 88.3h.8M300.3 86.1h.8M304.2 90.6h.8M294.1 88.6h.8M302.2 87.6h.8M309.6 91.4h.8M301.9 87.8h.8M313.4 93.6h.8M308.9 89.1h.8M309.3 90.3h.8M302.5 85.2h.8M307.4 90.0h.8M310.5 87.8h.8M311.3 88.3h.8M310.7 90.9h.8M302.4 85.4h.8M304.5 87.7h.8M309.2 87.0h.8M298.4 87.6h.8M313.7 94.5h.8M302.2 87.3h.8M306.5 86.8h.8M303.9 87.6h.8M300.3 86.1h.8M302.8 88.9h.8M299.7 88.1h.8M300.6 85.5h.8M300.0 99.6h.8M310.7 93.2h.8M308.7 88.3h.8M305.3 89.4h.8M307.0 90.5h.8M311.9 80.7h.8M302.5 90.2h.8M303.4 87.8h.8M311.7 90.0h.8M313.0 89.4h.8M306.1 85.5h.8M296.1 86.1h.8M305.3 87.5h.8M298.9 89.6h.8M305.3 88.6h.8M301.5 92.9h.8M311.7 90.3h.8M304.5 89.2h.8M312.6 97.8h.8M305.1 87.3h.8M296.8 95.6h.8M300.0 90.4h.8M307.3 92.7h.8M301.1 83.2h.8M305.7 89.8h.8M310.2 84.2h.8M303.0 87.5h.8M298.9 87.2h.8M308.6 88.9h.8M298.5 88.7h.8M308.9 90.6h.8M308.6 84.1h.8M307.1 90.6h.8M303.3 88.1h.8M301.5 91.7h.8M303.7 85.6h.8M305.9 89.0h.8M308.0 86.5h.8M302.0 89.2h.8M315.1 91.2h.8M298.9 88.2h.8M301.5 82.6h.8M301.9 86.4h.8M306.9 92.6h.8M310.1 91.6h.8M303.1 88.7h.8M304.8 92.6h.8M302.1 86.5h.8M311.8 91.1h.8M303.0 88.7h.8M305.7 89.2h.8M308.6 90.1h.8M304.2 86.9h.8M297.2 86.2h.8M310.2 89.9h.8M302.1 87.4h.8M301.2 88.9h.8M314.1 95.0h.8M310.4 91.5h.8M304.0 84.7h.8M305.1 87.2h.8M308.8 89.5h.8M302.5 89.5h.8M318.2 87.6h.8M310.2 91.0h.8M304.6 86.3h.8M305.2 89.2h.8M308.5 91.1h.8M306.5 86.7h.8M306.4 87.4h.8M300.4 90.6h.8M302.1 84.6h.8M305.4 82.9h.8M304.8 89.8h.8M303.2 89.0h.8M314.8 94.0h.8M309.2 90.9h.8M302.7 87.8h.8M303.7 88.4h.8M305.6 86.2h.8M312.3 86.4h.8M306.7 91.8h.8M304.9 86.5h.8M305.2 94.2h.8M307.8 88.0h.8M307.6 88.3h.8M296.6 88.1h.8M309.7 92.5h.8M304.7 84.3h.8M310.4 88.8h.8M308.3 92.3h.8M306.5 88.5h.8M302.2 86.8h.8M305.1 87.1h.8M306.6 83.0h.8M300.4 87.8h.8M301.8 86.5h.8M299.8 89.8h.8M312.3 86.5h.8M310.1 84.9h.8M305.6 82.6h.8M307.1 88.8h.8M305.5 92.1h.8M307.6 88.7h.8M301.2 88.1h.8M301.8 86.8h.8M311.5 91.9h.8M306.2 90.4h.8M298.4 87.8h.8M297.2 85.4h.8M306.5 89.7h.8M308.0 89.2h.8M305.0 88.4h.8M311.1 93.0h.8M298.2 87.8h.8M310.6 88.3h.8M305.7 86.7h.8M299.3 87.9h.8M302.8 87.5h.8M298.1 83.9h.8M304.0 86.8h.8M307.0 85.3h.8M307.7 90.2h.8M304.9 90.0h.8M304.0 87.4h.8M304.2 84.2h.8M304.2 90.3h.8M297.1 89.0h.8M301.4 86.5h.8M304.7 88.7h.8M310.4 88.3h.8M312.0 89.1h.8M306.5 90.2h.8M301.3 84.3h.8M304.8 90.1h.8M308.2 87.5h.8M312.3 88.7h.8M301.4 91.1h.8M310.1 86.1h.8M308.4 85.1h.8M304.9 95.0h.8M310.7 91.3h.8M307.8 86.4h.8M306.5 90.0h.8M300.4 88.5h.8M307.5 89.5h.8M309.1 88.0h.8M296.8 87.7h.8M290.4 83.3h.8M314.5 98.6h.8M309.1 77.4h.8M316.5 92.8h.8M304.4 92.3h.8M310.3 83.5h.8M295.5 92.6h.8M287.6 89.5h.8M308.5 93.9h.8M319.9 97.1h.8M318.4 94.5h.8M310.1 94.7h.8M306.0 84.5h.8M305.5 81.0h.8M301.7 98.5h.8M310.2 88.6h.8M301.3 79.6h.8M301.7 84.6h.8M306.0 89.3h.8M305.4 79.4h.8M317.5 92.4h.8M306.0 87.2h.8M309.4 95.3h.8M310.7 83.7h.8M295.8 75.9h.8M306.8 92.3h.8M315.4 90.5h.8M312.2 84.9h.8M309.8 88.5h.8M300.2 79.6h.8M314.8 78.6h.8M310.5 85.2h.8M310.3 86.4h.8M311.5 88.2h.8M297.1 84.9h.8M292.6 88.2h.8M313.8 91.6h.8M306.3 94.9h.8M296.1 90.0h.8M305.5 86.2h.8M309.9 83.4h.8M304.4 90.0h.8M296.2 86.2h.8M309.7 93.7h.8M297.9 91.9h.8M303.1 88.6h.8M301.1 91.8h.8M299.8 89.2h.8M308.5 92.6h.8M297.2 91.2h.8M305.7 95.6h.8M302.7 85.3h.8M305.0 86.9h.8M304.1 82.1h.8M288.8 79.2h.8M300.7 90.0h.8M302.9 83.4h.8M304.2 88.6h.8M327.5 97.5h.8M306.9 81.5h.8M304.0 86.8h.8M309.9 99.4h.8M304.9 78.7h.8M304.5 80.1h.8M312.1 94.7h.8M308.1 81.5h.8M304.0 94.2h.8M297.4 84.6h.8M307.5 91.2h.8M306.1 90.2h.8M307.1 85.9h.8M304.8 89.8h.8M296.8 88.4h.8M306.3 90.9h.8M308.3 83.7h.8M295.4 88.5h.8M304.3 88.8h.8M301.0 81.7h.8M307.6 88.1h.8M310.4 94.5h.8M314.2 94.4h.8M297.8 77.2h.8M300.6 81.9h.8M294.9 90.4h.8M292.6 91.3h.8M314.2 102.6h.8M313.7 99.8h.8M300.3 84.5h.8M313.3 83.0h.8M314.6 88.3h.8M289.7 95.6h.8M296.5 99.6h.8M293.6 82.8h.8M307.2 88.7h.8M292.8 87.4h.8M306.9 90.9h.8M292.6 83.9h.8M304.6 92.3h.8M306.8 86.9h.8M302.1 95.2h.8M298.9 89.1h.8M288.1 94.6h.8M309.1 80.3h.8M310.3 95.9h.8M312.0 89.7h.8M312.2 85.7h.8M303.4 86.5h.8M306.1 83.4h.8M316.5 89.2h.8M296.8 86.3h.8M308.4 89.1h.8M314.3 87.8h.8M299.3 90.2h.8M315.7 85.0h.8M292.8 83.7h.8M304.8 83.3h.8M306.7 84.4h.8M312.6 83.5h.8M298.1 87.9h.8M310.8 93.6h.8M299.9 87.8h.8M309.7 95.9h.8M298.3 81.4h.8M309.2 87.7h.8M316.2 89.9h.8M308.0 84.9h.8M307.6 94.7h.8M303.4 82.3h.8M312.4 87.8h.8M305.8 84.9h.8M312.9 85.7h.8M301.5 87.9h.8M303.7 77.2h.8M309.1 83.1h.8M307.4 86.7h.8M304.3 84.6h.8M296.8 88.0h.8M307.0 93.5h.8M309.6 85.5h.8M314.7 100.3h.8M311.0 88.1h.8M297.6 87.8h.8M293.8 90.8h.8M302.3 85.1h.8M307.3 82.5h.8M291.4 84.5h.8M315.0 85.4h.8M312.2 80.2h.8M304.7 90.8h.8M319.5 81.5h.8M304.7 83.8h.8M307.7 85.9h.8M306.1 84.7h.8M300.8 89.7h.8M317.2 90.8h.8M306.2 86.2h.8M317.8 80.4h.8M289.3 82.5h.8M308.8 93.4h.8M309.8 92.5h.8M306.5 86.2h.8M296.8 89.4h.8M297.7 89.4h.8M311.2 86.0h.8M301.7 85.2h.8M310.7 89.7h.8M299.9 88.9h.8M317.2 91.2h.8M306.2 86.5h.8M297.8 87.4h.8M305.8 86.9h.8M314.7 88.3h.8M304.0 89.1h.8M309.5 80.1h.8M307.3 94.7h.8M296.4 89.1h.8M301.2 83.0h.8M307.4 88.1h.8M288.7 83.4h.8M311.7 86.3h.8M299.4 85.8h.8M301.8 91.5h.8M298.5 81.8h.8M308.7 93.6h.8M310.9 93.1h.8M300.2 80.6h.8M299.7 87.6h.8M291.9 85.2h.8M309.9 85.6h.8M321.1 94.0h.8M295.7 81.7h.8M299.7 91.1h.8M309.0 86.1h.8M306.7 92.4h.8M309.5 81.1h.8M296.7 82.9h.8M291.7 90.8h.8M300.3 84.6h.8M298.7 89.0h.8M309.8 92.2h.8M315.2 85.1h.8M318.2 102.0h.8M301.2 86.1h.8M310.1 95.0h.8M303.2 84.2h.8M321.9 88.0h.8M283.6 88.3h.8M313.3 97.7h.8M319.5 105.2h.8M301.0 83.1h.8M293.9 95.3h.8M302.0 79.8h.8M289.0 87.0h.8M302.0 89.6h.8M298.6 84.0h.8M309.2 87.9h.8M310.0 88.4h.8M303.2 89.9h.8M302.8 89.0h.8M309.0 86.4h.8M304.5 88.8h.8M310.8 90.3h.8M307.4 91.0h.8M302.9 89.9h.8M299.6 78.8h.8M308.7 79.3h.8M304.2 95.8h.8M311.2 84.2h.8M311.3 90.3h.8M298.8 87.1h.8M301.2 86.4h.8M308.1 81.2h.8M312.1 99.1h.8M304.2 83.5h.8M302.2 94.0h.8M301.4 90.3h.8M323.6 87.2h.8M306.3 85.8h.8M302.5 88.7h.8M299.6 90.0h.8M306.9 94.4h.8M311.0 91.1h.8M317.5 89.1h.8M310.6 86.0h.8M317.0 86.5h.8M313.4 86.1h.8M307.5 83.7h.8M299.7 83.3h.8M309.3 91.8h.8M311.9 91.5h.8M304.3 91.9h.8M318.4 88.6h.8M300.2 91.0h.8M322.4 90.6h.8M303.6 83.8h.8M300.5 83.8h.8M298.6 93.2h.8M316.4 90.8h.8M307.2 93.2h.8M306.5 89.7h.8M311.2 89.6h.8M316.7 106.3h.8M306.5 90.6h.8M299.9 86.2h.8M307.2 91.4h.8M305.0 83.3h.8M309.6 87.1h.8M309.8 88.6h.8M305.5 88.8h.8M289.7 93.2h.8M299.3 90.1h.8M311.0 87.1h.8M295.8 90.7h.8M299.0 87.9h.8M310.2 87.4h.8M292.9 84.2h.8M310.4 85.7h.8M313.4 82.6h.8M298.7 79.6h.8M298.7 95.5h.8M310.8 88.3h.8M301.2 93.9h.8M305.1 84.0h.8M318.4 84.0h.8M307.5 92.2h.8M313.6 99.4h.8M312.6 86.3h.8M315.1 91.4h.8M296.2 82.3h.8M299.4 77.4h.8M309.2 91.9h.8M309.7 85.1h.8M305.3 94.4h.8M308.7 88.3h.8M299.8 87.7h.8M315.9 90.0h.8M324.0 102.7h.8M311.4 81.4h.8M303.6 94.6h.8M301.2 84.7h.8M305.8 101.7h.8M301.9 78.6h.8M307.9 90.8h.8M311.6 89.7h.8M308.4 86.6h.8M313.3 89.4h.8M309.7 85.5h.8M316.7 91.2h.8M302.2 88.4h.8M296.8 84.5h.8M312.2 92.3h.8M312.3 92.9h.8M303.3 88.8h.8M320.7 89.9h.8M293.3 86.9h.8M302.2 87.5h.8M305.6 83.4h.8M308.8 88.0h.8M310.1 85.5h.8M297.4 85.2h.8M318.5 81.1h.8M313.9 89.1h.8M314.4 87.5h.8M308.2 90.4h.8M322.1 89.7h.8M307.0 84.7h.8M307.5 84.8h.8M304.1 89.9h.8M309.5 84.3h.8M298.0 93.0h.8M300.8 88.5h.8M302.8 80.2h.8M304.2 87.5h.8M319.2 80.7h.8M300.8 90.7h.8M300.8 77.1h.8M310.0 89.6h.8M298.3 82.5h.8M299.6 88.4h.8M303.6 84.8h.8M307.7 93.6h.8M300.2 95.1h.8M305.2 91.1h.8M308.3 90.9h.8M306.8 77.3h.8M297.3 91.4h.8M296.5 87.5h.8M292.4 83.4h.8M317.0 90.7h.8M297.9 84.0h.8M291.3 88.5h.8M302.7 91.2h.8M310.9 87.2h.8M297.0 81.0h.8M301.3 87.4h.8M315.4 84.4h.8M308.0 83.1h.8M299.8 90.9h.8M308.5 85.6h.8M299.2 92.4h.8M302.9 86.0h.8M296.0 98.8h.8M319.0 92.1h.8M322.2 92.4h.8M301.9 90.2h.8M316.0 83.9h.8M314.6 95.0h.8M316.8 91.9h.8M313.8 80.8h.8M304.6 93.2h.8M309.5 90.1h.8M295.3 86.2h.8M291.4 85.4h.8M307.9 86.1h.8M309.1 88.8h.8M312.4 87.5h.8M292.5 80.6h.8M299.2 87.6h.8M306.1 84.9h.8M306.2 85.3h.8M310.5 82.6h.8M314.7 91.0h.8M302.3 82.9h.8M310.0 86.2h.8M310.8 98.2h.8M307.1 90.1h.8M310.2 86.7h.8M321.4 89.8h.8M311.6 91.3h.8M301.6 95.2h.8M309.4 86.4h.8M301.4 79.3h.8M298.1 92.4h.8M313.5 85.7h.8M311.8 94.8h.8M313.0 96.4h.8M291.7 88.6h.8M299.3 91.9h.8M301.0 89.3h.8M313.8 82.7h.8M301.6 85.4h.8M306.4 81.7h.8M312.9 99.5h.8M304.3 91.4h.8M285.2 80.6h.8M311.5 91.1h.8M311.5 96.1h.8M306.9 87.8h.8M302.3 88.9h.8M289.1 93.9h.8M288.6 78.9h.8M306.3 93.3h.8M310.1 96.5h.8M302.2 85.0h.8M310.0 83.7h.8M307.3 91.3h.8M307.9 78.9h.8M303.7 78.3h.8M312.3 87.2h.8M313.4 95.9h.8M294.7 91.6h.8M308.6 96.2h.8M295.4 81.0h.8M299.2 78.7h.8M306.5 85.1h.8M307.0 90.3h.8M312.1 82.8h.8M311.3 92.7h.8M297.5 84.4h.8M293.8 92.9h.8M316.0 85.6h.8M304.5 90.2h.8M310.9 88.7h.8M318.4 85.4h.8M312.1 89.6h.8M307.6 85.0h.8M291.5 84.1h.8M309.0 84.7h.8M291.8 85.8h.8M305.1 83.4h.8M304.3 90.2h.8M306.9 93.0h.8M314.7 89.3h.8M298.8 79.0h.8M313.2 91.0h.8M313.3 85.3h.8M306.2 84.5h.8M298.1 80.3h.8M303.4 90.4h.8M311.4 90.2h.8M303.0 97.8h.8M317.5 94.8h.8M306.4 94.6h.8M299.2 81.3h.8M310.2 89.8h.8M313.6 85.5h.8M307.6 83.5h.8M302.5 90.2h.8M304.7 83.6h.8M293.7 85.0h.8M297.9 80.3h.8M305.9 83.9h.8M315.4 99.7h.8M314.2 103.1h.8M295.5 78.7h.8M304.1 79.6h.8M306.4 92.8h.8M311.5 93.9h.8M303.6 87.8h.8M307.2 88.3h.8M312.7 87.3h.8M304.9 84.9h.8M312.9 89.9h.8M306.3 86.1h.8M291.1 84.3h.8M288.0 85.8h.8M295.4 93.3h.8M300.1 87.3h.8M301.3 82.2h.8M292.9 74.5h.8M300.0 77.7h.8M314.1 83.1h.8M300.3 87.5h.8M303.9 93.8h.8M304.6 85.8h.8M304.2 95.6h.8M311.4 79.5h.8M303.6 83.6h.8M305.3 91.4h.8M305.3 91.2h.8M318.6 81.5h.8M304.9 88.5h.8M308.8 89.2h.8M312.6 89.1h.8M308.7 81.2h.8M306.8 82.6h.8M309.9 97.5h.8M304.9 90.4h.8" stroke="#c81c2a" stroke-width=".8" stroke-opacity=".6"/>
<path d="M317.4 97.2h.8M318.0 96.4h.8M303.7 87.2h.8M293.5 101.3h.8M296.6 93.2h.8M311.3 88.9h.8M296.8 87.0h.8M310.5 90.8h.8M305.9 89.4h.8M299.1 95.2h.8M302.5 110.9h.8M306.2 83.8h.8M311.7 87.4h.8M321.7 96.8h.8M303.1 83.6h.8M301.8 90.9h.8M320.7 93.3h.8M308.5 88.5h.8M317.4 96.9h.8M309.8 96.0h.8M306.5 89.5h.8M322.5 83.6h.8M291.3 80.2h.8M308.6 81.7h.8M308.7 97.1h.8M306.2 96.7h.8M319.6 82.1h.8M320.6 94.5h.8M320.8 90.4h.8M313.1 85.0h.8M300.5 87.5h.8M317.9 85.0h.8M328.0 86.7h.8M313.8 80.1h.8M327.3 94.3h.8M324.6 81.7h.8M326.3 92.7h.8M303.9 85.8h.8M294.3 86.7h.8M320.5 83.9h.8M314.9 81.3h.8M281.6 85.9h.8M326.9 97.4h.8M303.3 96.4h.8M322.0 91.8h.8M306.6 94.7h.8M309.4 85.9h.8M321.8 84.7h.8M317.7 98.5h.8M302.7 89.1h.8M316.0 77.4h.8M304.6 84.4h.8M304.0 82.3h.8M324.0 83.2h.8M308.6 91.9h.8M326.9 78.8h.8M295.4 80.4h.8M306.3 93.9h.8M308.1 89.0h.8M326.5 87.0h.8M311.5 101.0h.8M318.3 84.7h.8M302.6 95.0h.8M297.2 81.7h.8M318.6 97.4h.8M328.2 83.0h.8M315.5 67.1h.8M300.6 106.7h.8M327.1 94.0h.8M299.9 79.7h.8M322.3 88.1h.8M301.2 92.6h.8M317.7 84.4h.8M305.4 102.5h.8M299.5 94.4h.8M302.5 82.5h.8M298.8 87.0h.8M310.0 93.3h.8M302.1 90.7h.8M304.1 83.4h.8M317.2 91.8h.8M293.5 88.5h.8M290.1 80.3h.8M327.9 97.9h.8M307.9 92.1h.8M323.9 100.3h.8M328.8 84.4h.8M309.3 88.9h.8M283.1 81.7h.8M314.0 86.9h.8M303.0 80.1h.8M303.2 87.5h.8M306.0 95.2h.8M318.5 80.2h.8M319.8 88.8h.8M317.9 84.2h.8M319.4 84.0h.8M320.7 88.5h.8M306.7 79.3h.8M291.8 92.5h.8M297.2 79.7h.8M313.9 88.4h.8M315.9 79.9h.8M286.2 80.8h.8M320.4 88.4h.8M314.3 91.6h.8M311.3 89.2h.8M307.2 89.3h.8M313.0 84.0h.8M316.1 88.4h.8M308.6 86.9h.8M319.2 87.6h.8M322.6 82.3h.8M315.8 78.4h.8M310.1 84.8h.8M304.5 81.0h.8M309.2 91.5h.8M289.4 86.0h.8M311.5 92.0h.8M313.4 81.3h.8M320.4 83.0h.8M314.9 89.5h.8M303.1 81.7h.8M307.1 97.1h.8M316.4 84.7h.8M317.4 99.1h.8M333.1 78.3h.8M317.4 93.8h.8M300.6 75.4h.8M323.3 85.8h.8M291.7 80.0h.8M317.5 102.5h.8M319.7 83.1h.8M323.4 76.8h.8M320.4 94.6h.8M329.2 95.5h.8M322.1 89.5h.8M305.9 88.1h.8M330.8 85.7h.8M309.1 85.1h.8M317.1 91.7h.8M332.1 103.5h.8M322.2 94.7h.8M308.3 78.5h.8M311.6 88.6h.8M297.4 88.9h.8M320.5 83.1h.8M319.6 91.5h.8M303.9 88.6h.8M318.1 87.5h.8M309.2 96.7h.8M316.0 92.1h.8M304.3 92.5h.8M326.4 83.1h.8M291.7 81.9h.8M308.4 81.6h.8M291.1 97.8h.8M305.2 82.6h.8M278.0 92.2h.8M292.6 95.7h.8M316.0 89.9h.8M307.4 94.3h.8M303.5 90.2h.8M304.2 85.8h.8M327.1 96.4h.8M299.4 81.9h.8M310.2 87.3h.8M315.2 86.0h.8M298.2 92.8h.8M307.3 92.5h.8M299.7 97.4h.8M312.8 90.0h.8M313.9 78.1h.8M317.5 85.2h.8M297.2 89.9h.8M328.9 84.7h.8M326.9 74.7h.8M313.0 84.4h.8M312.5 102.3h.8M317.2 78.8h.8M326.0 82.1h.8M303.3 81.8h.8M311.1 87.5h.8M327.9 91.5h.8M317.5 87.6h.8M322.3 82.1h.8M293.6 93.1h.8M318.2 89.0h.8M334.9 83.8h.8M325.7 99.2h.8M296.1 91.1h.8M318.7 87.9h.8M308.5 87.8h.8M300.3 78.7h.8M318.7 90.3h.8M310.3 91.8h.8M301.0 83.5h.8M319.0 88.8h.8M315.4 95.7h.8M329.4 83.5h.8M303.6 78.5h.8M302.2 91.1h.8M303.9 102.2h.8M305.1 76.3h.8M299.9 101.3h.8M299.9 87.2h.8M300.7 80.5h.8M322.8 81.2h.8M289.9 82.2h.8M302.5 90.7h.8M311.1 96.4h.8M307.5 90.9h.8M315.4 95.2h.8M296.3 85.3h.8M279.5 81.2h.8M296.3 81.7h.8M327.0 95.9h.8M293.0 98.9h.8M324.0 90.2h.8M308.6 87.2h.8M309.3 92.4h.8M306.7 94.4h.8M306.0 83.4h.8M308.1 90.1h.8M314.2 88.2h.8M292.7 78.2h.8M290.5 85.1h.8M317.1 88.6h.8M309.0 84.8h.8M305.7 83.4h.8M321.3 80.6h.8M299.7 90.6h.8M305.5 92.1h.8M304.4 90.5h.8M312.1 79.8h.8M315.7 96.6h.8M302.2 86.8h.8M316.7 98.5h.8M313.6 103.5h.8M305.3 100.4h.8M301.5 87.5h.8M299.7 94.0h.8M316.8 77.3h.8M280.8 100.4h.8M306.5 77.1h.8M299.8 84.6h.8M327.2 92.0h.8M310.2 82.0h.8M317.1 77.2h.8M322.1 95.2h.8M325.9 78.6h.8M335.2 86.3h.8M334.9 99.7h.8M313.7 102.2h.8M324.5 75.0h.8M326.2 90.8h.8M339.7 77.6h.8M296.1 87.6h.8M319.1 82.6h.8M323.5 100.7h.8M323.1 95.1h.8M317.0 80.1h.8M319.4 101.0h.8M335.9 94.7h.8M320.7 91.4h.8M329.3 79.4h.8M321.0 101.7h.8M311.3 90.2h.8M319.2 86.7h.8M332.5 84.1h.8M330.7 89.1h.8M333.7 83.8h.8M334.4 89.3h.8M318.7 84.0h.8M305.2 94.8h.8M316.4 96.7h.8M344.8 79.0h.8M326.0 84.3h.8M324.3 91.9h.8M311.8 95.3h.8M321.6 99.6h.8M323.5 90.2h.8M323.6 107.6h.8M319.0 73.1h.8M332.2 89.9h.8M331.3 97.1h.8M337.4 91.1h.8M327.7 96.6h.8M336.3 80.4h.8M341.0 82.3h.8M325.6 96.8h.8M319.0 85.5h.8M337.5 99.4h.8M310.6 88.3h.8M327.2 98.8h.8M327.5 95.4h.8M327.8 94.6h.8M347.8 94.4h.8M328.3 79.5h.8M314.3 79.7h.8M323.2 87.0h.8M316.9 93.4h.8M309.5 89.8h.8M322.0 83.6h.8M315.3 85.5h.8M330.7 95.4h.8M309.7 88.9h.8M317.3 95.1h.8M334.7 95.2h.8M328.5 93.7h.8M307.6 91.5h.8M326.4 88.1h.8M316.9 80.9h.8M316.1 84.8h.8M299.6 87.5h.8M325.5 99.6h.8M338.5 92.9h.8M324.4 89.4h.8M331.8 96.4h.8M309.6 93.8h.8M319.5 89.0h.8M320.6 91.5h.8M314.6 89.1h.8M310.3 95.4h.8M331.4 87.0h.8M322.8 85.1h.8M330.2 93.1h.8M319.9 87.9h.8M326.2 84.4h.8M326.5 92.7h.8M346.0 92.4h.8M317.9 97.4h.8M327.1 86.8h.8M331.8 86.1h.8M337.2 95.0h.8M321.4 89.3h.8M343.0 88.5h.8M320.8 94.1h.8M326.0 88.6h.8M330.4 76.9h.8M325.2 98.9h.8M336.5 85.1h.8M324.4 94.8h.8M321.9 92.9h.8M328.6 78.2h.8M330.9 90.0h.8M323.0 87.5h.8M304.5 88.0h.8M332.8 98.4h.8M325.6 88.4h.8M320.6 97.7h.8M343.0 90.4h.8M300.8 90.3h.8M338.1 81.2h.8M316.8 79.1h.8M325.9 104.5h.8M333.3 79.2h.8M312.0 92.4h.8M321.2 78.1h.8M326.7 83.7h.8M327.9 93.0h.8M326.5 82.3h.8M316.0 87.6h.8M318.2 95.6h.8M334.0 90.7h.8M331.7 99.2h.8M315.0 86.2h.8M341.0 88.6h.8M318.8 89.2h.8M328.0 79.6h.8M323.8 95.4h.8M319.8 85.8h.8M332.1 84.1h.8M312.2 87.4h.8M329.7 87.2h.8M299.4 83.1h.8M326.7 100.0h.8M322.4 105.0h.8M314.1 84.9h.8M324.1 94.0h.8M320.6 93.0h.8M320.7 92.0h.8M328.5 90.2h.8M325.4 87.4h.8M317.2 108.0h.8M315.6 97.9h.8M333.3 89.8h.8M323.5 84.5h.8M325.8 82.1h.8M323.9 102.4h.8M334.7 80.8h.8M325.4 86.9h.8M311.6 96.3h.8M307.8 92.0h.8M340.9 100.4h.8M313.0 87.5h.8M322.5 89.0h.8M332.5 94.1h.8M340.4 86.3h.8M328.2 98.0h.8M329.1 78.0h.8M325.7 91.3h.8M325.1 83.8h.8M331.2 90.6h.8M317.2 92.7h.8M323.5 86.2h.8M318.3 82.5h.8M324.6 85.8h.8M333.7 89.2h.8M330.7 84.4h.8M319.6 89.5h.8M330.4 95.4h.8M325.0 90.8h.8M329.0 94.5h.8M333.1 78.8h.8M331.6 89.1h.8M324.7 84.4h.8M330.8 97.4h.8M334.6 85.7h.8M310.1 97.3h.8M320.1 78.1h.8M332.5 75.9h.8M333.0 86.3h.8M340.7 90.2h.8M318.4 89.7h.8M316.2 85.1h.8M327.6 89.6h.8M312.8 86.1h.8M340.0 81.1h.8M328.9 105.7h.8M316.6 93.9h.8M324.2 83.0h.8M331.0 94.0h.8M323.4 84.2h.8M332.5 93.3h.8M321.1 83.3h.8M321.1 85.8h.8M318.4 97.0h.8M322.6 98.4h.8M334.3 95.9h.8M328.3 88.8h.8M323.1 102.1h.8M333.8 87.2h.8M330.2 86.0h.8M323.6 82.8h.8M315.3 82.0h.8M326.9 96.7h.8M323.7 91.6h.8M321.3 85.7h.8M326.3 81.6h.8M333.2 94.5h.8M327.0 89.3h.8M318.8 99.4h.8M321.8 85.3h.8M314.6 84.1h.8M321.9 86.7h.8M329.6 86.4h.8M316.3 92.3h.8M316.8 100.5h.8M312.0 87.7h.8M316.4 90.9h.8M335.7 86.5h.8M309.3 90.5h.8M324.3 93.3h.8M316.2 84.6h.8M316.7 85.2h.8M322.8 98.0h.8M327.6 86.8h.8M310.5 98.0h.8M329.6 98.4h.8M298.6 103.7h.8M314.8 81.6h.8M317.1 85.3h.8M335.9 74.5h.8M329.0 97.8h.8M333.9 93.9h.8M332.3 86.9h.8M317.1 84.6h.8M307.5 94.8h.8M323.1 91.4h.8" stroke="#c42838" stroke-width=".8" stroke-opacity=".6"/>
<path d="M322.0 51.0h.8M320.3 62.6h.8M349.3 80.3h.8M320.1 57.1h.8M312.1 66.2h.8M321.2 69.6h.8M327.9 59.6h.8M316.1 49.7h.8M333.6 53.4h.8M334.9 50.7h.8M299.1 62.0h.8M320.6 71.4h.8M327.1 63.5h.8M336.7 59.3h.8M334.2 85.5h.8M329.7 56.6h.8M326.8 57.4h.8M323.5 78.0h.8M316.4 53.0h.8M333.0 61.3h.8M325.5 58.9h.8M330.0 76.9h.8M334.4 61.3h.8M323.5 56.3h.8M317.7 71.5h.8M333.3 68.7h.8M332.9 59.5h.8M327.3 68.8h.8M345.1 68.0h.8M328.3 57.9h.8M338.9 63.2h.8M330.4 68.0h.8M319.1 66.3h.8M340.0 58.0h.8M322.0 57.2h.8M328.7 82.2h.8M331.2 75.3h.8M330.3 61.2h.8M327.8 66.6h.8M325.6 63.9h.8M328.6 59.4h.8M344.3 69.5h.8M326.4 59.7h.8M331.7 58.4h.8M314.1 60.4h.8M341.3 63.9h.8M329.6 56.6h.8M333.2 60.4h.8M321.4 57.5h.8M326.1 55.5h.8M323.1 62.5h.8M317.1 47.3h.8M332.3 54.3h.8M306.2 62.8h.8M326.9 73.6h.8M341.4 47.0h.8M321.2 66.1h.8M312.8 72.8h.8M331.2 59.0h.8M321.7 66.6h.8M350.4 82.2h.8M311.8 68.2h.8M311.4 62.0h.8M316.6 61.1h.8M322.6 67.0h.8M319.2 69.6h.8M326.1 56.6h.8M343.3 68.3h.8M325.1 64.9h.8M335.1 63.8h.8M320.8 62.6h.8M321.4 59.4h.8M345.0 72.2h.8M341.9 61.2h.8M308.2 59.6h.8M333.1 60.6h.8M329.4 56.5h.8M332.8 61.1h.8M327.4 69.9h.8M319.4 54.8h.8M318.5 68.4h.8M323.7 72.9h.8M333.1 74.0h.8M329.3 74.5h.8M335.3 48.8h.8M342.8 72.8h.8M323.0 53.9h.8M307.2 64.0h.8M318.1 53.9h.8M316.7 49.9h.8M337.7 57.9h.8M327.2 65.7h.8M331.5 63.4h.8M336.5 60.0h.8M350.7 52.9h.8M335.0 83.4h.8M317.0 75.5h.8M349.8 62.3h.8M344.2 60.9h.8M330.8 62.8h.8M316.9 54.4h.8M321.2 51.3h.8M329.5 65.7h.8M339.6 68.8h.8M325.7 61.6h.8M354.5 53.5h.8M312.9 82.2h.8M339.3 66.9h.8M333.5 73.4h.8M311.5 60.6h.8M335.5 70.8h.8M339.9 67.6h.8M323.8 59.3h.8M334.6 65.1h.8M333.1 77.0h.8M341.5 55.2h.8M340.7 57.6h.8M310.0 81.3h.8M331.2 60.1h.8M323.5 72.3h.8M350.2 77.8h.8M325.8 55.1h.8M327.0 73.6h.8M333.8 54.4h.8M329.7 70.4h.8M318.1 71.8h.8M344.4 74.1h.8M319.0 62.1h.8M327.6 62.1h.8M337.8 66.6h.8M328.4 67.9h.8M323.5 53.5h.8M329.6 62.4h.8M335.6 67.6h.8M325.4 74.0h.8M328.1 54.3h.8M345.2 76.1h.8M328.0 51.8h.8M317.3 72.3h.8M327.3 62.0h.8M333.1 60.5h.8M322.6 74.7h.8M333.9 71.9h.8M334.7 74.3h.8M337.3 59.1h.8M326.2 78.7h.8M330.2 79.8h.8M325.0 53.3h.8M329.3 61.0h.8M320.8 58.3h.8M306.3 67.9h.8M326.7 57.2h.8M310.6 69.2h.8M328.5 70.7h.8M332.3 71.6h.8M327.8 52.8h.8M329.9 72.6h.8M312.7 60.0h.8M343.7 55.8h.8M342.6 58.2h.8M310.2 59.0h.8M321.1 71.9h.8M304.8 54.7h.8M317.2 54.4h.8M328.1 59.4h.8M326.7 61.6h.8M338.4 59.2h.8M326.9 70.8h.8M332.2 64.3h.8M335.7 68.1h.8M331.8 65.0h.8M337.8 73.9h.8M321.0 68.5h.8M332.2 70.6h.8M319.9 54.1h.8M325.6 73.7h.8M317.0 72.1h.8M328.3 66.4h.8M330.1 62.2h.8M325.5 70.0h.8M344.7 67.8h.8M332.8 58.4h.8M326.8 73.7h.8M340.1 63.6h.8M327.6 61.3h.8M318.9 68.4h.8M323.5 77.0h.8M304.4 47.9h.8M313.8 63.6h.8M325.4 57.4h.8M292.7 62.9h.8M309.4 74.3h.8M328.5 58.0h.8M324.2 77.2h.8M323.2 54.2h.8M299.0 60.4h.8M318.6 72.8h.8M328.5 73.1h.8M322.3 56.5h.8M337.3 63.4h.8M319.0 62.5h.8M338.0 59.5h.8M348.2 69.9h.8M314.0 53.9h.8M326.4 61.1h.8M322.9 62.5h.8M329.9 62.1h.8M321.2 47.7h.8M344.9 66.4h.8M333.2 66.0h.8M340.9 65.3h.8M340.6 60.4h.8M324.5 68.3h.8M333.5 74.5h.8M320.8 67.5h.8M321.4 51.7h.8M337.7 64.3h.8M316.3 56.9h.8M332.7 64.4h.8M325.7 69.4h.8M326.6 48.9h.8M336.0 60.6h.8M322.9 43.5h.8M291.5 61.5h.8M321.7 63.4h.8M329.8 71.5h.8M341.3 75.2h.8M316.1 56.5h.8M328.2 75.9h.8M339.2 60.6h.8M314.0 65.4h.8M325.0 69.5h.8M335.7 67.5h.8M317.5 53.2h.8M324.1 67.9h.8M326.4 69.9h.8M322.8 72.9h.8M331.0 61.8h.8M319.3 62.4h.8M328.2 77.5h.8M328.3 69.9h.8M305.0 70.8h.8M326.5 56.5h.8M302.7 55.3h.8M344.9 72.5h.8M335.9 60.9h.8M334.0 69.9h.8M330.9 56.8h.8M320.7 61.1h.8M360.1 50.2h.8M345.1 77.2h.8M329.6 71.2h.8M331.2 69.1h.8M320.8 47.2h.8M356.5 81.1h.8M311.9 72.5h.8M322.8 67.7h.8M315.9 54.3h.8M347.5 61.8h.8M326.2 69.9h.8M343.3 61.3h.8M333.9 71.0h.8M320.6 58.8h.8M333.8 63.6h.8M344.3 50.4h.8M332.8 63.3h.8M311.9 62.0h.8M311.6 60.1h.8M339.0 59.1h.8M333.8 67.1h.8M321.7 61.4h.8M329.5 67.0h.8M321.7 62.4h.8M335.6 56.4h.8M314.3 65.8h.8M332.2 45.2h.8M328.3 75.9h.8M336.2 61.8h.8M331.3 50.7h.8M334.1 67.2h.8M336.7 63.6h.8M334.5 61.1h.8M339.0 68.9h.8M307.7 48.8h.8M333.1 72.9h.8M341.2 61.0h.8M329.6 61.9h.8M320.2 61.7h.8M340.9 61.6h.8M346.9 54.9h.8M323.8 68.5h.8M333.1 65.9h.8M309.3 60.7h.8M343.0 71.2h.8M333.3 68.5h.8M326.5 64.1h.8M321.2 75.4h.8M332.4 68.1h.8M329.3 62.5h.8M311.7 63.0h.8M320.0 59.1h.8M329.6 75.6h.8M316.2 63.6h.8M344.9 55.3h.8M333.2 61.1h.8M335.6 78.3h.8M326.7 72.6h.8M331.0 80.8h.8M290.3 54.0h.8M326.4 65.3h.8M345.9 75.5h.8M323.6 52.1h.8M340.4 67.8h.8M324.8 71.6h.8M347.3 69.1h.8M343.4 50.7h.8M337.3 85.2h.8M341.3 60.8h.8M315.6 67.0h.8M318.6 59.6h.8M308.7 54.8h.8M333.9 58.6h.8M318.5 52.5h.8M325.8 67.2h.8M328.5 40.5h.8M327.3 56.2h.8M326.1 54.8h.8M339.6 81.2h.8M337.3 79.7h.8M329.9 62.1h.8M304.9 57.0h.8M322.4 77.0h.8M316.8 64.0h.8M334.3 65.3h.8M327.1 73.2h.8M317.8 63.8h.8M329.9 78.0h.8M342.4 70.3h.8M336.8 47.3h.8M330.6 60.1h.8M310.5 68.5h.8M322.7 58.0h.8M308.1 64.0h.8M340.5 66.4h.8M335.1 73.0h.8M326.8 60.8h.8M320.2 60.9h.8M320.9 64.0h.8M321.6 72.8h.8M317.3 76.7h.8M321.8 59.6h.8M334.2 58.3h.8M306.3 69.3h.8M342.6 48.8h.8M332.6 59.6h.8M324.4 76.9h.8M311.9 58.3h.8M340.6 67.0h.8M331.9 58.7h.8M318.1 56.7h.8M329.3 60.3h.8M331.5 86.3h.8M307.3 64.5h.8M325.7 54.7h.8M328.8 56.4h.8M311.8 62.6h.8M343.9 63.2h.8M331.2 58.4h.8M318.4 50.7h.8M326.3 67.5h.8M307.4 45.9h.8M332.0 58.1h.8M308.8 67.5h.8M323.8 59.6h.8M326.0 57.7h.8M357.2 47.5h.8M320.5 67.6h.8M330.5 53.6h.8M322.5 62.2h.8M341.2 78.3h.8M344.4 66.5h.8M341.7 69.8h.8M324.3 61.1h.8M334.7 67.4h.8M321.2 55.7h.8M316.6 75.1h.8M324.4 64.9h.8M343.3 78.4h.8M336.9 68.6h.8M322.3 64.3h.8M330.0 70.3h.8M320.6 70.5h.8M338.5 68.1h.8M312.1 47.4h.8M334.7 50.1h.8M329.3 88.2h.8M325.7 52.6h.8M336.8 61.1h.8M326.1 49.5h.8M320.0 75.0h.8M324.1 57.8h.8M326.5 65.5h.8M337.4 70.3h.8M337.3 53.8h.8M323.0 47.3h.8M343.4 60.0h.8M322.6 78.6h.8M336.3 61.9h.8M324.0 60.1h.8M336.1 89.8h.8M311.5 74.9h.8M340.5 61.0h.8M330.3 66.5h.8M319.1 58.1h.8M342.9 69.1h.8M322.9 56.4h.8M326.2 64.6h.8M336.4 78.1h.8M327.8 56.8h.8M331.5 66.0h.8M321.4 70.0h.8M326.4 67.2h.8M327.4 68.3h.8M334.0 56.7h.8M337.4 65.4h.8M309.3 60.2h.8M341.0 77.6h.8M320.7 66.4h.8M313.6 67.3h.8M303.2 48.3h.8M332.1 69.0h.8M320.5 68.0h.8M344.7 64.6h.8M334.0 58.2h.8M313.2 78.3h.8M329.1 59.3h.8M308.6 68.1h.8M337.2 76.9h.8M325.1 72.0h.8M328.0 56.8h.8M327.0 59.4h.8M317.7 58.3h.8M336.9 65.6h.8M319.2 62.4h.8M325.8 63.2h.8M329.4 58.2h.8M342.9 56.0h.8M320.9 52.3h.8M323.1 59.6h.8M329.8 52.2h.8M317.1 76.8h.8M310.6 61.4h.8M294.1 73.2h.8M294.7 65.0h.8M305.6 61.7h.8M307.3 73.4h.8M316.7 63.9h.8M296.9 65.4h.8M298.9 59.9h.8M308.1 74.6h.8M307.5 68.8h.8M314.5 71.4h.8M298.3 62.8h.8M303.5 77.0h.8M297.0 65.5h.8M286.8 63.0h.8M299.7 59.6h.8M310.6 60.5h.8M315.6 67.7h.8M304.2 59.0h.8M318.2 67.5h.8M318.7 84.1h.8M306.5 72.2h.8M316.2 67.2h.8M295.1 74.2h.8M302.8 58.9h.8M302.2 77.0h.8M299.5 63.0h.8M298.9 75.7h.8M311.7 78.8h.8M313.7 71.1h.8M317.4 75.0h.8M309.1 72.8h.8M321.2 72.6h.8M295.3 52.5h.8M300.3 75.2h.8M310.6 73.0h.8M306.4 66.3h.8M303.3 66.1h.8M306.0 65.8h.8M298.3 56.9h.8M315.4 67.8h.8M309.2 62.4h.8M306.2 70.0h.8M303.5 60.2h.8M309.8 70.6h.8M296.9 59.4h.8M314.4 59.7h.8M299.1 59.8h.8M306.9 65.0h.8M311.1 58.1h.8M300.9 66.1h.8M305.1 59.0h.8M302.9 60.3h.8M303.9 57.6h.8M313.0 64.4h.8M303.0 47.3h.8M300.4 68.6h.8M311.9 57.8h.8M318.4 82.1h.8M300.4 74.2h.8M299.1 69.1h.8M308.7 73.6h.8M308.5 64.9h.8M307.2 71.6h.8M303.1 71.9h.8M301.8 68.7h.8M313.4 62.8h.8M308.8 48.8h.8M302.6 81.8h.8" stroke="#c83848" stroke-width=".8" stroke-opacity=".6"/>
<path d="M337.3 47.4h.7M305.0 78.4h.7M314.9 32.1h.7M346.9 103.6h.7M321.3 88.0h.7M292.8 26.8h.7M358.4 41.4h.7M313.6 73.3h.7M292.4 78.8h.7M316.6 68.3h.7M348.3 90.5h.7M344.3 59.6h.7M311.3 93.0h.7M301.7 75.9h.7M293.0 55.5h.7M347.2 40.3h.7M337.6 65.7h.7M295.2 70.9h.7M304.2 89.0h.7M321.2 77.0h.7M337.6 77.3h.7M326.9 26.5h.7M359.6 44.7h.7M315.0 88.5h.7M364.3 71.3h.7M359.4 54.5h.7M339.5 89.9h.7M310.3 41.7h.7M346.9 38.1h.7M315.5 59.9h.7M359.7 75.2h.7M306.6 30.9h.7M344.7 90.1h.7M342.1 51.9h.7M338.7 90.6h.7M324.7 93.6h.7M341.8 58.5h.7M346.0 54.8h.7M359.6 61.3h.7M307.4 55.2h.7M342.1 72.3h.7M360.5 83.8h.7M293.0 92.8h.7M292.3 36.5h.7M301.0 48.9h.7M303.8 33.2h.7M332.9 30.7h.7M352.5 45.0h.7M360.9 97.9h.7M332.9 37.4h.7M339.8 100.4h.7M312.6 65.8h.7M308.4 54.6h.7M335.7 81.6h.7M366.8 74.5h.7M343.6 43.4h.7M302.3 92.4h.7M308.4 85.4h.7M363.1 51.9h.7M324.9 91.5h.7" stroke="#e08080" stroke-width=".7" stroke-opacity=".45"/>
</g>
<rect x="287.5" y="25" width="82.0" height="80.5" fill="none" stroke="#6a6a6a" stroke-width="0.9"/>
<line x1="314.5" y1="25" x2="314.5" y2="105.5" stroke="#5a5a5a" stroke-width="0.8"/>
<line x1="287.5" y1="76.7" x2="369.5" y2="76.7" stroke="#5a5a5a" stroke-width="0.8"/>
<path d="M287.5 103.5h-2.6M287.5 98.5h-1.5M287.5 95.6h-1.5M287.5 93.5h-1.5M287.5 91.9h-1.5M287.5 90.6h-1.5M287.5 89.4h-1.5M287.5 88.5h-1.5M287.5 87.6h-1.5M287.5 86.9h-2.6M287.5 81.9h-1.5M287.5 78.9h-1.5M287.5 76.9h-1.5M287.5 75.2h-1.5M287.5 73.9h-1.5M287.5 72.8h-1.5M287.5 71.9h-1.5M287.5 71.0h-1.5M287.5 70.2h-2.6M287.5 65.2h-1.5M287.5 62.3h-1.5M287.5 60.2h-1.5M287.5 58.6h-1.5M287.5 57.3h-1.5M287.5 56.2h-1.5M287.5 55.2h-1.5M287.5 54.4h-1.5M287.5 53.6h-2.6M287.5 48.6h-1.5M287.5 45.7h-1.5M287.5 43.6h-1.5M287.5 42.0h-1.5M287.5 40.7h-1.5M287.5 39.6h-1.5M287.5 38.6h-1.5M287.5 37.7h-1.5M287.5 37.0h-2.6M287.5 32.0h-1.5M287.5 29.0h-1.5M289.5 105.5v2.6M294.6 105.5v1.5M297.6 105.5v1.5M299.7 105.5v1.5M301.4 105.5v1.5M302.7 105.5v1.5M303.8 105.5v1.5M304.8 105.5v1.5M305.7 105.5v1.5M306.5 105.5v2.6M311.6 105.5v1.5M314.5 105.5v1.5M316.7 105.5v1.5M318.3 105.5v1.5M319.7 105.5v1.5M320.8 105.5v1.5M321.8 105.5v1.5M322.6 105.5v1.5M323.4 105.5v2.6M328.5 105.5v1.5M331.5 105.5v1.5M333.6 105.5v1.5M335.3 105.5v1.5M336.6 105.5v1.5M337.7 105.5v1.5M338.7 105.5v1.5M339.6 105.5v1.5M340.4 105.5v2.6M345.5 105.5v1.5M348.5 105.5v1.5M350.6 105.5v1.5M352.2 105.5v1.5M353.6 105.5v1.5M354.7 105.5v1.5M355.7 105.5v1.5M356.6 105.5v1.5M357.3 105.5v2.6M362.4 105.5v1.5M365.4 105.5v1.5" stroke="#3a3a3a" stroke-width=".65"/>
<text x="289.0" y="31.1" font-size="6.4" font-weight="bold" text-anchor="start" fill="#000">2.8</text>
<text x="368.0" y="31.1" font-size="6.4" font-weight="bold" text-anchor="end" fill="#000">9.1</text>
<text x="289.0" y="104.0" font-size="6.4" font-weight="bold" text-anchor="start" fill="#000">76.0</text>
<text x="368.0" y="104.0" font-size="6.4" font-weight="bold" text-anchor="end" fill="#000">12.1</text>
<text x="306.8" y="68.7" font-size="4.6" text-anchor="middle" fill="#222">Q1</text>
<text x="324.5" y="68.7" font-size="4.6" text-anchor="middle" fill="#222">Q2</text>
<text x="306.8" y="90.5" font-size="4.6" text-anchor="middle" fill="#222">Q3</text>
<text x="324.5" y="90.5" font-size="4.6" text-anchor="middle" fill="#222">Q4</text>
<text transform="translate(12,75.5) rotate(-90)" font-size="8.8" font-weight="bold" text-anchor="middle" fill="#000" textLength="27.5" lengthAdjust="spacingAndGlyphs">Foxp3</text>
<line x1="14.3" y1="43" x2="14.3" y2="102" stroke="#000" stroke-width="1.4"/>
<line x1="17" y1="110.3" x2="121" y2="110.3" stroke="#000" stroke-width="1.4"/>
<text x="60" y="119.5" font-size="9" font-weight="bold" text-anchor="start" fill="#000" textLength="22.5" lengthAdjust="spacingAndGlyphs">CD25</text>
<line x1="397.5" y1="13.5" x2="397.5" y2="90.1" stroke="#000" stroke-width="1.0"/>
<line x1="397.0" y1="89.5" x2="507" y2="89.5" stroke="#000" stroke-width="1.0"/>
<line x1="395.5" y1="89.5" x2="397.5" y2="89.5" stroke="#000" stroke-width="0.8"/>
<text x="394.3" y="91.372" font-size="5.2" font-weight="bold" text-anchor="end" fill="#000">0</text>
<line x1="395.5" y1="74.4" x2="397.5" y2="74.4" stroke="#000" stroke-width="0.8"/>
<text x="394.3" y="76.272" font-size="5.2" font-weight="bold" text-anchor="end" fill="#000">2</text>
<line x1="395.5" y1="59.3" x2="397.5" y2="59.3" stroke="#000" stroke-width="0.8"/>
<text x="394.3" y="61.172" font-size="5.2" font-weight="bold" text-anchor="end" fill="#000">4</text>
<line x1="395.5" y1="44.2" x2="397.5" y2="44.2" stroke="#000" stroke-width="0.8"/>
<text x="394.3" y="46.072" font-size="5.2" font-weight="bold" text-anchor="end" fill="#000">6</text>
<line x1="395.5" y1="29.099999999999994" x2="397.5" y2="29.099999999999994" stroke="#000" stroke-width="0.8"/>
<text x="394.3" y="30.971999999999994" font-size="5.2" font-weight="bold" text-anchor="end" fill="#000">8</text>
<line x1="395.5" y1="14.0" x2="397.5" y2="14.0" stroke="#000" stroke-width="0.8"/>
<text x="394.3" y="15.872" font-size="5.2" font-weight="bold" text-anchor="end" fill="#000">10</text>
<rect x="403" y="25" width="19" height="64.5" fill="#000" stroke="none" stroke-width="1"/>
<line x1="412.5" y1="25" x2="412.5" y2="14.3" stroke="#111" stroke-width="1.1"/>
<line x1="408.035" y1="14.3" x2="416.965" y2="14.3" stroke="#111" stroke-width="1.1"/>
<line x1="412.5" y1="89.5" x2="412.5" y2="91.3" stroke="#000" stroke-width="0.8"/>
<rect x="431" y="27.5" width="19" height="62.0" fill="#a2a2a8" stroke="none" stroke-width="1"/>
<line x1="440.5" y1="27.5" x2="440.5" y2="15.5" stroke="#111" stroke-width="1.1"/>
<line x1="436.035" y1="15.5" x2="444.965" y2="15.5" stroke="#111" stroke-width="1.1"/>
<line x1="440.5" y1="89.5" x2="440.5" y2="91.3" stroke="#000" stroke-width="0.8"/>
<rect x="459" y="28.3" width="19" height="61.2" fill="#7b7b7b" stroke="none" stroke-width="1"/>
<line x1="468.5" y1="28.3" x2="468.5" y2="16.8" stroke="#111" stroke-width="1.1"/>
<line x1="464.035" y1="16.8" x2="472.965" y2="16.8" stroke="#111" stroke-width="1.1"/>
<line x1="468.5" y1="89.5" x2="468.5" y2="91.3" stroke="#000" stroke-width="0.8"/>
<rect x="487" y="25.8" width="18.5" height="63.7" fill="#d9d9d9" stroke="none" stroke-width="1"/>
<line x1="496.25" y1="25.8" x2="496.25" y2="21.5" stroke="#111" stroke-width="1.1"/>
<line x1="491.9025" y1="21.5" x2="500.5975" y2="21.5" stroke="#111" stroke-width="1.1"/>
<line x1="496.25" y1="89.5" x2="496.25" y2="91.3" stroke="#000" stroke-width="0.8"/>
<text transform="translate(385.6,51.3) rotate(-90)" font-size="7.4" font-weight="bold" text-anchor="middle" fill="#000" textLength="43.5" lengthAdjust="spacingAndGlyphs">Treg cell (%)</text>
<text transform="translate(415.0,96.2) rotate(-45)" font-size="6.6" font-weight="bold" text-anchor="end" fill="#000">Fanca+/+</text>
<text transform="translate(443.0,96.2) rotate(-45)" font-size="6.6" font-weight="bold" text-anchor="end" fill="#000">Fanca-/-</text>
<text transform="translate(471.0,96.2) rotate(-45)" font-size="6.6" font-weight="bold" text-anchor="end" fill="#000">Fancd2+/+</text>
<text transform="translate(498.8,96.2) rotate(-45)" font-size="6.6" font-weight="bold" text-anchor="end" fill="#000">Fancd2-/-</text>
<text x="1.5" y="133" font-size="12.5" font-weight="bold" text-anchor="start" fill="#000">B</text>
<defs><clipPath id="c1"><rect x="33.5" y="135.8" width="153.9" height="82.19999999999999"/></clipPath></defs>
<g clip-path="url(#c1)">
<polyline points="33.5,217.1 34.1,216.6 34.7,217.1 35.3,216.1 35.9,216.5 36.5,213.7 37.1,216.9 37.7,216.9 38.3,217.1 38.9,217.2 39.5,217.5 40.1,216.9 40.7,216.7 41.3,217.3 41.9,217.0 42.5,214.8 43.1,217.5 43.7,217.2 44.3,216.7 44.9,217.2 45.5,217.5 46.1,217.2 46.7,216.1 47.3,212.8 47.9,214.6 48.5,215.5 49.1,217.3 49.7,217.1 50.3,217.3 50.9,217.3 51.5,215.3 52.1,216.3 52.7,217.1 53.3,215.3 53.9,216.8 54.5,216.8 55.1,217.0 55.7,215.7 56.3,217.3 56.9,217.4 57.5,216.2 58.1,212.7 58.7,217.4 59.3,216.5 59.9,217.4 60.5,217.4 61.1,217.5 61.7,217.0 62.3,216.9 62.9,216.6 63.5,217.2 64.1,216.6 64.7,216.7 65.3,217.0 65.9,216.6 66.5,216.4 67.1,216.5 67.7,217.5 68.3,216.2 68.9,217.2 69.5,217.4 70.1,217.2 70.7,216.5 71.3,216.3 71.9,217.3 72.5,217.0 73.1,217.2 73.7,216.7 74.3,215.7" fill="none" stroke="#222" stroke-width=".5"/>
<polygon points="70.6,217.5 70.6,216.7 71.0,216.6 71.4,215.8 71.9,215.7 72.3,214.9 72.7,215.0 73.1,213.6 73.5,214.2 74.0,212.9 74.4,213.2 74.8,212.0 75.2,212.4 75.6,211.4 76.1,209.5 76.5,210.1 76.9,209.0 77.3,208.5 77.7,206.6 78.2,207.6 78.6,204.6 79.0,206.3 79.4,203.3 79.8,203.2 80.3,201.8 80.7,204.7 81.1,202.7 81.5,200.7 81.9,198.0 82.4,200.7 82.8,203.1 83.2,197.7 83.6,195.8 84.0,200.5 84.5,192.2 84.9,197.1 85.3,196.1 85.7,193.1 86.1,184.0 86.6,191.0 87.0,196.0 87.4,183.2 87.8,190.8 88.2,193.0 88.7,184.4 89.1,188.1 89.5,176.0 89.9,175.5 90.3,184.4 90.8,179.1 91.2,185.1 91.6,177.5 92.0,177.9 92.4,183.8 92.9,178.0 93.3,175.8 93.7,179.3 94.1,181.4 94.5,173.4 95.0,173.7 95.4,179.4 95.8,162.9 96.2,181.1 96.6,172.7 97.1,171.7 97.5,165.8 97.9,175.1 98.3,159.1 98.7,150.9 99.2,184.1 99.6,148.4 100.0,172.3 100.4,171.8 100.8,160.0 101.3,166.1 101.7,176.8 102.1,160.1 102.5,157.9 102.9,166.0 103.4,164.2 103.8,158.3 104.2,167.2 104.6,157.5 105.0,158.8 105.5,164.5 105.9,170.0 106.3,152.3 106.7,165.5 107.1,149.8 107.6,156.7 108.0,150.7 108.4,155.9 108.8,135.8 109.2,162.6 109.7,150.1 110.1,135.8 110.5,146.0 110.9,159.6 111.3,156.5 111.8,160.4 112.2,162.0 112.6,156.0 113.0,159.1 113.4,146.4 113.9,157.5 114.3,156.7 114.7,135.8 115.1,161.9 115.5,149.3 116.0,164.8 116.4,150.7 116.8,153.7 117.2,164.5 117.6,160.8 118.1,165.4 118.5,176.9 118.9,159.3 119.3,167.1 119.7,160.9 120.2,177.0 120.6,174.8 121.0,174.9 121.4,180.6 121.8,180.8 122.3,177.2 122.7,180.9 123.1,173.1 123.5,173.2 123.9,179.6 124.4,178.6 124.8,187.7 125.2,176.5 125.6,184.2 126.0,182.7 126.5,178.5 126.9,195.5 127.3,185.3 127.7,191.4 128.1,186.9 128.6,194.6 129.0,192.6 129.4,191.1 129.8,184.6 130.2,192.5 130.7,196.3 131.1,196.5 131.5,192.2 131.9,192.8 132.3,202.0 132.8,196.9 133.2,198.7 133.6,197.2 134.0,202.0 134.4,200.3 134.9,202.9 135.3,201.6 135.7,203.9 136.1,202.4 136.5,199.2 137.0,206.2 137.4,205.8 137.8,204.1 138.2,204.6 138.6,207.3 139.1,208.9 139.5,208.9 139.9,208.4 140.3,205.5 140.7,210.0 141.2,209.8 141.6,208.0 142.0,212.3 142.4,212.7 142.8,211.6 143.3,212.4 143.7,213.1 144.1,213.2 144.5,214.7 144.9,214.5 145.4,214.9 145.8,215.0 146.2,216.4 146.6,215.6 146.6,217.5" fill="#dc2229" stroke="none"/>
<polyline points="70.6,216.7 71.0,216.6 71.4,215.8 71.9,215.7 72.3,214.9 72.7,215.0 73.1,213.6 73.5,214.2 74.0,212.9 74.4,213.2 74.8,212.0 75.2,212.4 75.6,211.4 76.1,209.5 76.5,210.1 76.9,209.0 77.3,208.5 77.7,206.6 78.2,207.6 78.6,204.6 79.0,206.3 79.4,203.3 79.8,203.2 80.3,201.8 80.7,204.7 81.1,202.7 81.5,200.7 81.9,198.0 82.4,200.7 82.8,203.1 83.2,197.7 83.6,195.8 84.0,200.5 84.5,192.2 84.9,197.1 85.3,196.1 85.7,193.1 86.1,184.0 86.6,191.0 87.0,196.0 87.4,183.2 87.8,190.8 88.2,193.0 88.7,184.4 89.1,188.1 89.5,176.0 89.9,175.5 90.3,184.4 90.8,179.1 91.2,185.1 91.6,177.5 92.0,177.9 92.4,183.8 92.9,178.0 93.3,175.8 93.7,179.3 94.1,181.4 94.5,173.4 95.0,173.7 95.4,179.4 95.8,162.9 96.2,181.1 96.6,172.7 97.1,171.7 97.5,165.8 97.9,175.1 98.3,159.1 98.7,150.9 99.2,184.1 99.6,148.4 100.0,172.3 100.4,171.8 100.8,160.0 101.3,166.1 101.7,176.8 102.1,160.1 102.5,157.9 102.9,166.0 103.4,164.2 103.8,158.3 104.2,167.2 104.6,157.5 105.0,158.8 105.5,164.5 105.9,170.0 106.3,152.3 106.7,165.5 107.1,149.8 107.6,156.7 108.0,150.7 108.4,155.9 108.8,135.8 109.2,162.6 109.7,150.1 110.1,135.8 110.5,146.0 110.9,159.6 111.3,156.5 111.8,160.4 112.2,162.0 112.6,156.0 113.0,159.1 113.4,146.4 113.9,157.5 114.3,156.7 114.7,135.8 115.1,161.9 115.5,149.3 116.0,164.8 116.4,150.7 116.8,153.7 117.2,164.5 117.6,160.8 118.1,165.4 118.5,176.9 118.9,159.3 119.3,167.1 119.7,160.9 120.2,177.0 120.6,174.8 121.0,174.9 121.4,180.6 121.8,180.8 122.3,177.2 122.7,180.9 123.1,173.1 123.5,173.2 123.9,179.6 124.4,178.6 124.8,187.7 125.2,176.5 125.6,184.2 126.0,182.7 126.5,178.5 126.9,195.5 127.3,185.3 127.7,191.4 128.1,186.9 128.6,194.6 129.0,192.6 129.4,191.1 129.8,184.6 130.2,192.5 130.7,196.3 131.1,196.5 131.5,192.2 131.9,192.8 132.3,202.0 132.8,196.9 133.2,198.7 133.6,197.2 134.0,202.0 134.4,200.3 134.9,202.9 135.3,201.6 135.7,203.9 136.1,202.4 136.5,199.2 137.0,206.2 137.4,205.8 137.8,204.1 138.2,204.6 138.6,207.3 139.1,208.9 139.5,208.9 139.9,208.4 140.3,205.5 140.7,210.0 141.2,209.8 141.6,208.0 142.0,212.3 142.4,212.7 142.8,211.6 143.3,212.4 143.7,213.1 144.1,213.2 144.5,214.7 144.9,214.5 145.4,214.9 145.8,215.0 146.2,216.4 146.6,215.6" fill="none" stroke="#111" stroke-width=".6"/>
<polyline points="33.8,217.5 34.2,212.6 34.7,196.7 35.2,200.5 35.6,197.4 36.1,194.9 36.5,196.7 37.0,198.2 37.4,197.2 37.9,200.3 38.3,190.9 38.8,187.8 39.2,184.2 39.7,197.5 40.1,180.8 40.6,184.2 41.0,191.3 41.5,180.5 41.9,174.5 42.4,174.8 42.8,171.9 43.3,168.9 43.7,167.7 44.2,172.4 44.6,185.1 45.1,174.3 45.5,164.8 46.0,169.2 46.4,159.0 46.9,156.5 47.3,160.5 47.8,144.7 48.2,165.4 48.7,148.6 49.1,158.3 49.6,159.3 50.0,146.9 50.5,156.1 50.9,142.9 51.4,159.2 51.8,148.2 52.3,155.0 52.7,149.0 53.2,149.4 53.6,155.2 54.1,138.7 54.5,154.7 55.0,151.6 55.4,138.3 55.9,138.3 56.3,138.3 56.8,138.3 57.2,138.3 57.7,154.3 58.1,151.5 58.6,155.0 59.0,140.1 59.5,146.8 59.9,141.3 60.4,144.0 60.8,155.3 61.3,161.5 61.7,164.2 62.2,140.3 62.6,152.7 63.1,158.4 63.5,168.0 64.0,169.7 64.4,173.4 64.9,175.9 65.3,192.2 65.8,179.5 66.2,184.0 66.7,182.2 67.1,185.1 67.6,183.7 68.0,191.0 68.5,189.0 68.9,208.9 69.4,203.5 69.8,191.8 70.3,207.8 70.7,205.0 71.2,202.3 71.6,211.1 72.1,205.9 72.5,216.6 73.0,217.5 73.4,217.5 73.9,217.5 74.3,216.6 74.8,217.5" fill="none" stroke="#7cbd45" stroke-width=".9"/>
<polyline points="108.6,217.5 109.0,216.7 109.5,215.3 110.0,214.8 110.4,213.8 110.9,212.7 111.3,212.1 111.8,211.4 112.2,210.1 112.7,208.6 113.1,207.8 113.6,206.6 114.0,207.0 114.5,206.3 114.9,202.6 115.4,204.0 115.8,202.2 116.3,200.8 116.7,197.8 117.2,199.9 117.6,196.6 118.1,194.6 118.5,192.4 119.0,195.1 119.4,188.0 119.9,193.1 120.3,183.0 120.8,180.3 121.2,178.0 121.7,181.6 122.1,172.3 122.6,175.9 123.0,174.7 123.5,171.3 123.9,168.2 124.4,161.2 124.8,155.4 125.3,166.8 125.7,156.6 126.2,147.8 126.6,150.0 127.1,147.0 127.5,156.7 128.0,141.7 128.4,154.7 128.9,143.2 129.3,138.3 129.8,138.3 130.2,140.0 130.7,138.4 131.1,147.6 131.6,147.3 132.0,138.3 132.5,145.5 132.9,148.0 133.4,157.0 133.8,150.6 134.3,150.2 134.7,159.5 135.2,160.1 135.6,153.2 136.1,162.6 136.5,167.4 137.0,173.5 137.4,174.3 137.9,175.8 138.3,173.5 138.8,182.6 139.2,178.8 139.7,188.6 140.1,189.7 140.6,189.6 141.0,194.3 141.5,197.8 141.9,199.1 142.4,200.8 142.8,205.8 143.3,206.5 143.7,207.7 144.2,209.3 144.6,209.9 145.1,212.0 145.5,213.2 146.0,214.4 146.4,215.7 146.9,217.1" fill="none" stroke="#3c6cc0" stroke-width="1.3" stroke-opacity=".85"/>
</g>
<line x1="33.5" y1="135.8" x2="187.4" y2="135.8" stroke="#8a8a8a" stroke-width="0.7"/>
<line x1="187.4" y1="135.8" x2="187.4" y2="217.5" stroke="#8a8a8a" stroke-width="0.7"/>
<line x1="33.5" y1="135.5" x2="33.5" y2="218.0" stroke="#000" stroke-width="1.2"/>
<line x1="33.0" y1="217.5" x2="187.4" y2="217.5" stroke="#000" stroke-width="1.0"/>
<path d="M30.0 217.5h3.5M30.0 201.2h3.5M30.0 184.8h3.5M30.0 168.5h3.5M30.0 152.1h3.5M30.0 135.8h3.5M34.5 217.5v2M45.9 217.5v1M52.6 217.5v1M57.4 217.5v1M61.1 217.5v1M64.1 217.5v1M66.6 217.5v1M68.8 217.5v1M70.8 217.5v1M72.5 217.5v2M83.9 217.5v1M90.6 217.5v1M95.4 217.5v1M99.1 217.5v1M102.1 217.5v1M104.6 217.5v1M106.8 217.5v1M108.8 217.5v1M110.5 217.5v2M121.9 217.5v1M128.6 217.5v1M133.4 217.5v1M137.1 217.5v1M140.1 217.5v1M142.6 217.5v1M144.8 217.5v1M146.8 217.5v1M148.5 217.5v2M159.9 217.5v1M166.6 217.5v1M171.4 217.5v1M175.1 217.5v1M178.1 217.5v1M180.6 217.5v1M182.8 217.5v1M184.8 217.5v1" stroke="#000" stroke-width=".5"/>
<text x="25.0" y="218.9" font-size="4" font-weight="bold" text-anchor="end" fill="#222" textLength="3.4" lengthAdjust="spacingAndGlyphs">0</text>
<text x="25.0" y="202.6" font-size="4" font-weight="bold" text-anchor="end" fill="#222" textLength="6.8" lengthAdjust="spacingAndGlyphs">20</text>
<text x="25.0" y="186.2" font-size="4" font-weight="bold" text-anchor="end" fill="#222" textLength="6.8" lengthAdjust="spacingAndGlyphs">40</text>
<text x="25.0" y="169.9" font-size="4" font-weight="bold" text-anchor="end" fill="#222" textLength="6.8" lengthAdjust="spacingAndGlyphs">60</text>
<text x="25.0" y="153.5" font-size="4" font-weight="bold" text-anchor="end" fill="#222" textLength="6.8" lengthAdjust="spacingAndGlyphs">80</text>
<text x="25.0" y="137.2" font-size="4" font-weight="bold" text-anchor="end" fill="#222" textLength="10.2" lengthAdjust="spacingAndGlyphs">100</text>
<text x="30.3" y="225.8" font-size="4.4" fill="#222" textLength="11" lengthAdjust="spacingAndGlyphs">10<tspan dy="-2.2" font-size="3.6">0</tspan></text>
<text x="68.3" y="225.8" font-size="4.4" fill="#222" textLength="11" lengthAdjust="spacingAndGlyphs">10<tspan dy="-2.2" font-size="3.6">1</tspan></text>
<text x="106.3" y="225.8" font-size="4.4" fill="#222" textLength="11" lengthAdjust="spacingAndGlyphs">10<tspan dy="-2.2" font-size="3.6">2</tspan></text>
<text x="144.3" y="225.8" font-size="4.4" fill="#222" textLength="11" lengthAdjust="spacingAndGlyphs">10<tspan dy="-2.2" font-size="3.6">3</tspan></text>
<text x="67.9" y="171.2" font-size="8.3" text-anchor="start" fill="#5d9ccf">21.48</text>
<line x1="79" y1="202.5" x2="104" y2="202.5" stroke="#9cc6e4" stroke-width="1.9"/>
<rect x="136.7" y="138.9" width="10.5" height="4.2" fill="#a3cd6b" stroke="none" stroke-width="1"/>
<text x="150.8" y="143.05" font-size="5.85" font-weight="bold" text-anchor="start" fill="#111">Unlabeled</text>
<rect x="136.7" y="146.5" width="10.5" height="4.2" fill="#d21f2a" stroke="none" stroke-width="1"/>
<text x="150.8" y="150.65" font-size="5.85" font-weight="bold" text-anchor="start" fill="#111">Co-cultured</text>
<rect x="136.7" y="154.1" width="10.5" height="4.2" fill="#3b6bb6" stroke="none" stroke-width="1"/>
<text x="150.8" y="158.25" font-size="5.85" font-weight="bold" text-anchor="start" fill="#111">Uncultured</text>
<defs><clipPath id="c2"><rect x="208.75" y="136" width="153.75" height="82.0"/></clipPath></defs>
<g clip-path="url(#c2)">
<polyline points="208.8,217.3 209.3,216.9 209.9,217.1 210.5,214.9 211.1,215.6 211.7,216.3 212.3,217.2 212.9,214.2 213.5,217.2 214.1,216.9 214.7,216.5 215.3,217.2 215.9,217.2 216.5,216.7 217.1,217.0 217.7,217.4 218.3,216.9 218.9,216.9 219.5,217.4 220.1,216.6 220.7,216.6 221.3,217.3 221.9,217.1 222.5,214.8 223.1,216.4 223.7,216.7 224.3,215.3 224.9,214.1 225.5,215.7 226.1,212.1 226.7,216.6 227.3,217.4 227.9,213.2 228.5,216.7 229.1,217.3 229.7,217.2 230.3,212.6 230.9,216.6 231.5,216.3 232.1,217.1 232.7,213.3 233.3,215.6 233.9,216.7 234.5,216.4 235.1,216.9 235.7,216.5 236.3,217.3 236.9,216.1 237.5,215.5 238.1,213.4 238.7,216.4 239.3,216.0 239.9,217.3 240.5,212.2 241.1,217.4 241.7,216.4 242.3,215.0" fill="none" stroke="#222" stroke-width=".5"/>
<polygon points="238.4,217.5 238.4,216.8 238.8,214.7 239.2,214.8 239.6,214.0 240.1,213.1 240.5,212.9 240.9,214.0 241.3,212.2 241.7,212.5 242.2,213.1 242.6,210.9 243.0,212.6 243.4,210.4 243.8,210.0 244.3,211.8 244.7,209.3 245.1,208.0 245.5,208.4 245.9,208.1 246.4,208.0 246.8,206.2 247.2,207.9 247.6,209.1 248.0,206.5 248.5,206.8 248.9,207.7 249.3,205.9 249.7,205.0 250.1,201.7 250.6,203.1 251.0,204.6 251.4,199.5 251.8,205.2 252.2,198.9 252.7,200.6 253.1,196.0 253.5,195.8 253.9,193.4 254.3,195.4 254.8,200.0 255.2,196.4 255.6,188.9 256.0,186.4 256.4,190.0 256.9,182.5 257.3,185.5 257.7,184.1 258.1,184.7 258.5,184.2 259.0,187.6 259.4,176.9 259.8,174.9 260.2,186.8 260.6,167.5 261.1,175.8 261.5,169.6 261.9,186.7 262.3,173.9 262.7,166.1 263.2,170.2 263.6,185.1 264.0,167.6 264.4,177.6 264.8,167.6 265.3,156.1 265.7,159.8 266.1,165.1 266.5,162.9 266.9,165.8 267.4,183.4 267.8,168.3 268.2,173.0 268.6,175.6 269.0,165.3 269.5,163.5 269.9,154.4 270.3,154.0 270.7,160.2 271.1,159.0 271.6,172.9 272.0,176.9 272.4,148.2 272.8,157.7 273.2,164.6 273.7,147.2 274.1,170.6 274.5,165.0 274.9,166.5 275.3,168.3 275.8,147.3 276.2,153.7 276.6,166.2 277.0,165.9 277.4,160.3 277.9,170.6 278.3,155.8 278.7,156.1 279.1,161.4 279.5,166.5 280.0,162.9 280.4,153.3 280.8,170.8 281.2,166.0 281.6,154.2 282.1,154.3 282.5,160.6 282.9,151.0 283.3,145.2 283.7,165.6 284.2,159.9 284.6,170.0 285.0,156.8 285.4,164.0 285.8,177.0 286.3,165.3 286.7,165.2 287.1,187.3 287.5,177.5 287.9,176.6 288.4,185.8 288.8,182.0 289.2,175.8 289.6,175.5 290.0,166.6 290.5,167.4 290.9,176.2 291.3,178.0 291.7,183.4 292.1,183.9 292.6,180.8 293.0,194.8 293.4,191.4 293.8,185.7 294.2,184.9 294.7,189.4 295.1,185.4 295.5,194.9 295.9,187.5 296.3,189.8 296.8,197.2 297.2,195.7 297.6,196.8 298.0,192.3 298.4,195.8 298.9,200.6 299.3,199.3 299.7,195.3 300.1,199.6 300.5,204.6 301.0,205.2 301.4,205.9 301.8,203.6 302.2,199.4 302.6,208.1 303.1,204.6 303.5,206.0 303.9,206.1 304.3,207.7 304.7,208.9 305.2,206.2 305.6,210.1 306.0,209.9 306.4,208.0 306.8,210.6 307.3,211.6 307.7,211.7 308.1,210.3 308.5,211.9 308.9,211.6 309.4,212.4 309.8,210.4 310.2,212.3 310.6,212.1 311.0,211.2 311.5,213.1 311.9,214.3 312.3,214.5 312.7,213.0 313.1,213.4 313.6,213.8 314.0,214.3 314.4,214.6 314.8,214.6 315.2,214.6 315.7,215.4 316.1,214.7 316.5,215.9 316.9,215.7 317.3,216.2 317.8,215.9 318.2,216.8 318.6,216.8 319.0,215.5 319.0,217.5" fill="#dc2229" stroke="none"/>
<polyline points="238.4,216.8 238.8,214.7 239.2,214.8 239.6,214.0 240.1,213.1 240.5,212.9 240.9,214.0 241.3,212.2 241.7,212.5 242.2,213.1 242.6,210.9 243.0,212.6 243.4,210.4 243.8,210.0 244.3,211.8 244.7,209.3 245.1,208.0 245.5,208.4 245.9,208.1 246.4,208.0 246.8,206.2 247.2,207.9 247.6,209.1 248.0,206.5 248.5,206.8 248.9,207.7 249.3,205.9 249.7,205.0 250.1,201.7 250.6,203.1 251.0,204.6 251.4,199.5 251.8,205.2 252.2,198.9 252.7,200.6 253.1,196.0 253.5,195.8 253.9,193.4 254.3,195.4 254.8,200.0 255.2,196.4 255.6,188.9 256.0,186.4 256.4,190.0 256.9,182.5 257.3,185.5 257.7,184.1 258.1,184.7 258.5,184.2 259.0,187.6 259.4,176.9 259.8,174.9 260.2,186.8 260.6,167.5 261.1,175.8 261.5,169.6 261.9,186.7 262.3,173.9 262.7,166.1 263.2,170.2 263.6,185.1 264.0,167.6 264.4,177.6 264.8,167.6 265.3,156.1 265.7,159.8 266.1,165.1 266.5,162.9 266.9,165.8 267.4,183.4 267.8,168.3 268.2,173.0 268.6,175.6 269.0,165.3 269.5,163.5 269.9,154.4 270.3,154.0 270.7,160.2 271.1,159.0 271.6,172.9 272.0,176.9 272.4,148.2 272.8,157.7 273.2,164.6 273.7,147.2 274.1,170.6 274.5,165.0 274.9,166.5 275.3,168.3 275.8,147.3 276.2,153.7 276.6,166.2 277.0,165.9 277.4,160.3 277.9,170.6 278.3,155.8 278.7,156.1 279.1,161.4 279.5,166.5 280.0,162.9 280.4,153.3 280.8,170.8 281.2,166.0 281.6,154.2 282.1,154.3 282.5,160.6 282.9,151.0 283.3,145.2 283.7,165.6 284.2,159.9 284.6,170.0 285.0,156.8 285.4,164.0 285.8,177.0 286.3,165.3 286.7,165.2 287.1,187.3 287.5,177.5 287.9,176.6 288.4,185.8 288.8,182.0 289.2,175.8 289.6,175.5 290.0,166.6 290.5,167.4 290.9,176.2 291.3,178.0 291.7,183.4 292.1,183.9 292.6,180.8 293.0,194.8 293.4,191.4 293.8,185.7 294.2,184.9 294.7,189.4 295.1,185.4 295.5,194.9 295.9,187.5 296.3,189.8 296.8,197.2 297.2,195.7 297.6,196.8 298.0,192.3 298.4,195.8 298.9,200.6 299.3,199.3 299.7,195.3 300.1,199.6 300.5,204.6 301.0,205.2 301.4,205.9 301.8,203.6 302.2,199.4 302.6,208.1 303.1,204.6 303.5,206.0 303.9,206.1 304.3,207.7 304.7,208.9 305.2,206.2 305.6,210.1 306.0,209.9 306.4,208.0 306.8,210.6 307.3,211.6 307.7,211.7 308.1,210.3 308.5,211.9 308.9,211.6 309.4,212.4 309.8,210.4 310.2,212.3 310.6,212.1 311.0,211.2 311.5,213.1 311.9,214.3 312.3,214.5 312.7,213.0 313.1,213.4 313.6,213.8 314.0,214.3 314.4,214.6 314.8,214.6 315.2,214.6 315.7,215.4 316.1,214.7 316.5,215.9 316.9,215.7 317.3,216.2 317.8,215.9 318.2,216.8 318.6,216.8 319.0,215.5" fill="none" stroke="#111" stroke-width=".6"/>
<polyline points="209.1,214.4 209.5,211.7 209.9,198.2 210.4,196.9 210.8,192.3 211.3,184.8 211.7,188.5 212.2,204.3 212.6,189.3 213.1,189.6 213.5,186.8 214.0,179.8 214.4,192.5 214.9,177.9 215.3,193.1 215.8,181.2 216.2,177.6 216.7,163.8 217.1,181.5 217.6,186.6 218.0,169.3 218.5,176.9 218.9,160.0 219.4,174.3 219.8,174.0 220.3,157.2 220.7,164.1 221.2,155.7 221.6,172.5 222.1,147.5 222.5,163.2 223.0,150.6 223.4,163.6 223.9,166.6 224.3,154.6 224.8,149.6 225.2,138.4 225.7,146.4 226.1,142.6 226.6,142.3 227.0,138.4 227.5,153.5 227.9,138.4 228.4,146.3 228.8,142.0 229.3,148.4 229.7,138.4 230.2,153.3 230.6,153.3 231.1,142.5 231.5,150.9 232.0,138.4 232.4,138.4 232.9,151.2 233.3,139.2 233.8,153.1 234.2,149.2 234.7,150.1 235.1,138.4 235.6,153.0 236.0,161.7 236.5,163.1 236.9,147.7 237.4,171.9 237.8,164.7 238.3,166.1 238.7,183.4 239.2,171.0 239.6,162.8 240.1,170.4 240.5,180.3 241.0,171.9 241.4,175.1 241.9,167.8 242.3,187.0 242.8,186.8 243.2,186.2 243.7,189.2 244.1,190.0 244.6,193.0 245.0,198.0 245.5,204.3 245.9,200.4 246.4,206.1 246.8,205.9 247.3,205.0 247.7,201.7 248.2,201.9 248.6,211.9 249.1,208.1 249.5,208.5 250.0,214.2 250.4,217.5" fill="none" stroke="#7cbd45" stroke-width=".9"/>
<polyline points="283.4,217.5 283.9,216.3 284.3,215.1 284.8,214.1 285.2,213.5 285.7,211.3 286.1,210.2 286.6,209.8 287.0,208.8 287.5,209.1 287.9,205.8 288.4,206.9 288.8,203.5 289.3,202.3 289.7,201.9 290.2,198.9 290.6,200.3 291.1,197.9 291.5,196.4 292.0,196.1 292.4,196.2 292.9,192.1 293.3,191.9 293.8,191.2 294.2,189.2 294.7,186.5 295.1,178.9 295.6,182.6 296.0,181.6 296.5,182.2 296.9,181.0 297.4,181.5 297.8,172.2 298.3,171.0 298.7,173.1 299.2,173.2 299.6,166.7 300.1,165.7 300.5,167.5 301.0,158.2 301.4,157.0 301.9,156.1 302.3,150.0 302.8,155.5 303.2,142.8 303.7,154.3 304.1,144.9 304.6,143.2 305.0,147.4 305.5,142.9 305.9,151.5 306.4,152.0 306.8,144.8 307.3,149.2 307.7,142.9 308.2,147.4 308.6,145.5 309.1,148.5 309.5,150.5 310.0,152.4 310.4,156.3 310.9,159.3 311.3,150.2 311.8,170.0 312.2,165.6 312.7,163.4 313.1,168.5 313.6,167.6 314.0,173.4 314.5,181.9 314.9,181.5 315.4,186.9 315.8,183.0 316.3,184.5 316.7,191.4 317.2,191.8 317.6,196.1 318.1,200.1 318.5,200.9 319.0,204.4 319.4,204.5 319.9,205.0 320.3,206.0 320.8,207.0 321.2,209.6 321.7,210.7 322.1,212.0 322.6,213.4 323.0,215.5 323.5,216.4" fill="none" stroke="#3c6cc0" stroke-width="1.3" stroke-opacity=".85"/>
</g>
<line x1="208.75" y1="136" x2="362.5" y2="136" stroke="#8a8a8a" stroke-width="0.7"/>
<line x1="362.5" y1="136" x2="362.5" y2="217.5" stroke="#8a8a8a" stroke-width="0.7"/>
<line x1="208.75" y1="135.7" x2="208.75" y2="218.0" stroke="#000" stroke-width="1.2"/>
<line x1="208.25" y1="217.5" x2="362.5" y2="217.5" stroke="#000" stroke-width="1.0"/>
<path d="M205.2 217.5h3.5M205.2 201.2h3.5M205.2 184.9h3.5M205.2 168.6h3.5M205.2 152.3h3.5M205.2 136.0h3.5M209.5 217.5v2M221.1 217.5v1M227.9 217.5v1M232.7 217.5v1M236.4 217.5v1M239.5 217.5v1M242.0 217.5v1M244.3 217.5v1M246.2 217.5v1M248.0 217.5v2M259.6 217.5v1M266.4 217.5v1M271.2 217.5v1M274.9 217.5v1M278.0 217.5v1M280.5 217.5v1M282.8 217.5v1M284.7 217.5v1M286.5 217.5v2M298.1 217.5v1M304.9 217.5v1M309.7 217.5v1M313.4 217.5v1M316.5 217.5v1M319.0 217.5v1M321.3 217.5v1M323.2 217.5v1M325.0 217.5v2M336.6 217.5v1M343.4 217.5v1M348.2 217.5v1M351.9 217.5v1M355.0 217.5v1M357.5 217.5v1M359.8 217.5v1M361.7 217.5v1" stroke="#000" stroke-width=".5"/>
<text x="205.3" y="225.8" font-size="4.4" fill="#222" textLength="11" lengthAdjust="spacingAndGlyphs">10<tspan dy="-2.2" font-size="3.6">0</tspan></text>
<text x="243.8" y="225.8" font-size="4.4" fill="#222" textLength="11" lengthAdjust="spacingAndGlyphs">10<tspan dy="-2.2" font-size="3.6">1</tspan></text>
<text x="282.3" y="225.8" font-size="4.4" fill="#222" textLength="11" lengthAdjust="spacingAndGlyphs">10<tspan dy="-2.2" font-size="3.6">2</tspan></text>
<text x="320.8" y="225.8" font-size="4.4" fill="#222" textLength="11" lengthAdjust="spacingAndGlyphs">10<tspan dy="-2.2" font-size="3.6">3</tspan></text>
<text x="241.4" y="168.2" font-size="8.3" text-anchor="start" fill="#5d9ccf">42.52</text>
<line x1="252.5" y1="202.5" x2="279" y2="202.5" stroke="#a3a7d6" stroke-width="1.9"/>
<rect x="316" y="138.9" width="10.5" height="4.2" fill="#a3cd6b" stroke="none" stroke-width="1"/>
<text x="327.5" y="143.05" font-size="5.85" font-weight="bold" text-anchor="start" fill="#111">Unlabeled</text>
<rect x="316" y="146.5" width="10.5" height="4.2" fill="#d21f2a" stroke="none" stroke-width="1"/>
<text x="327.5" y="150.65" font-size="5.85" font-weight="bold" text-anchor="start" fill="#111">Co-cultured</text>
<rect x="316" y="154.1" width="10.5" height="4.2" fill="#3b6bb6" stroke="none" stroke-width="1"/>
<text x="327.5" y="158.25" font-size="5.85" font-weight="bold" text-anchor="start" fill="#111">Uncultured</text>
<defs><clipPath id="c3"><rect x="32" y="247" width="154" height="82.0"/></clipPath></defs>
<g clip-path="url(#c3)">
<polyline points="32.0,326.3 32.6,325.8 33.2,325.8 33.8,327.9 34.4,328.0 35.0,328.3 35.6,326.4 36.2,328.3 36.8,327.6 37.4,325.0 38.0,328.3 38.6,328.1 39.2,328.2 39.8,327.8 40.4,327.4 41.0,328.1 41.6,328.0 42.2,324.9 42.8,327.5 43.4,328.3 44.0,328.5 44.6,326.9 45.2,327.9 45.8,328.0 46.4,328.3 47.0,327.9 47.6,326.4 48.2,328.2 48.8,328.2 49.4,327.4 50.0,327.6 50.6,328.2 51.2,325.1 51.8,327.9 52.4,328.4 53.0,327.8 53.6,325.5 54.2,327.4 54.8,327.5 55.4,326.7 56.0,328.2 56.6,327.8 57.2,328.0 57.8,327.4 58.4,328.5 59.0,328.4 59.6,327.0 60.2,327.7 60.8,328.3 61.4,327.3 62.0,328.3 62.6,327.5 63.2,327.9 63.8,327.9 64.4,328.3 65.0,327.7 65.6,328.3 66.2,325.9 66.8,327.8 67.4,328.0 68.0,326.8 68.6,328.4 69.2,327.5 69.8,327.7 70.4,326.3 71.0,327.5 71.6,327.7 72.2,327.3 72.8,326.2" fill="none" stroke="#222" stroke-width=".5"/>
<polygon points="69.2,328.5 69.2,328.4 69.6,325.7 70.0,325.6 70.4,324.9 70.9,324.2 71.3,325.2 71.7,324.3 72.1,324.0 72.5,322.5 73.0,323.9 73.4,322.3 73.8,323.6 74.2,323.1 74.6,322.7 75.1,324.2 75.5,321.3 75.9,323.2 76.3,319.8 76.7,318.9 77.2,321.8 77.6,318.4 78.0,319.3 78.4,319.8 78.8,317.3 79.3,317.4 79.7,319.6 80.1,315.1 80.5,312.3 80.9,314.2 81.4,315.7 81.8,311.5 82.2,310.4 82.6,313.8 83.0,310.4 83.5,307.3 83.9,309.5 84.3,301.9 84.7,306.2 85.1,308.5 85.6,307.6 86.0,304.6 86.4,296.7 86.8,298.7 87.2,301.7 87.7,292.0 88.1,301.0 88.5,292.3 88.9,300.9 89.3,296.0 89.8,294.3 90.2,294.9 90.6,301.6 91.0,288.6 91.4,296.3 91.9,290.1 92.3,290.4 92.7,296.4 93.1,279.3 93.5,280.1 94.0,288.1 94.4,283.8 94.8,286.2 95.2,274.8 95.6,284.2 96.1,283.4 96.5,286.4 96.9,274.5 97.3,272.6 97.7,282.8 98.2,284.6 98.6,271.8 99.0,270.0 99.4,281.5 99.8,280.7 100.3,279.4 100.7,270.0 101.1,279.1 101.5,273.3 101.9,268.3 102.4,281.1 102.8,263.6 103.2,269.5 103.6,276.5 104.0,269.4 104.5,281.4 104.9,274.5 105.3,254.6 105.7,261.3 106.1,247.0 106.6,266.6 107.0,247.0 107.4,264.5 107.8,261.6 108.2,269.9 108.7,262.8 109.1,272.9 109.5,275.0 109.9,260.6 110.3,268.7 110.8,277.4 111.2,270.4 111.6,251.0 112.0,269.2 112.4,247.0 112.9,255.3 113.3,267.2 113.7,278.6 114.1,279.8 114.5,257.7 115.0,265.7 115.4,271.3 115.8,269.6 116.2,277.8 116.6,274.0 117.1,279.5 117.5,272.6 117.9,286.7 118.3,275.9 118.7,274.9 119.2,287.2 119.6,286.9 120.0,277.8 120.4,282.7 120.8,259.5 121.3,278.7 121.7,288.1 122.1,269.3 122.5,284.2 122.9,283.8 123.4,278.0 123.8,294.0 124.2,299.1 124.6,289.2 125.0,290.5 125.5,279.5 125.9,298.2 126.3,302.2 126.7,291.2 127.1,303.6 127.6,298.8 128.0,293.3 128.4,301.5 128.8,295.7 129.2,298.4 129.7,302.3 130.1,307.8 130.5,304.8 130.9,305.4 131.3,301.2 131.8,310.2 132.2,311.6 132.6,309.3 133.0,312.1 133.4,311.6 133.9,312.9 134.3,310.7 134.7,315.7 135.1,316.3 135.5,317.1 136.0,318.3 136.4,314.8 136.8,317.0 137.2,319.5 137.6,319.2 138.1,318.0 138.5,320.3 138.9,321.5 139.3,320.2 139.7,321.5 140.2,319.7 140.6,323.2 141.0,322.6 141.4,323.9 141.8,324.1 142.3,325.3 142.7,324.5 143.1,324.4 143.5,325.1 143.9,324.1 144.4,326.4 144.8,325.6 145.2,326.4 145.6,326.8 146.0,327.5 146.5,327.5 146.9,326.9 147.3,327.5 147.7,327.4 148.1,328.4 148.1,328.5" fill="#dc2229" stroke="none"/>
<polyline points="69.2,328.4 69.6,325.7 70.0,325.6 70.4,324.9 70.9,324.2 71.3,325.2 71.7,324.3 72.1,324.0 72.5,322.5 73.0,323.9 73.4,322.3 73.8,323.6 74.2,323.1 74.6,322.7 75.1,324.2 75.5,321.3 75.9,323.2 76.3,319.8 76.7,318.9 77.2,321.8 77.6,318.4 78.0,319.3 78.4,319.8 78.8,317.3 79.3,317.4 79.7,319.6 80.1,315.1 80.5,312.3 80.9,314.2 81.4,315.7 81.8,311.5 82.2,310.4 82.6,313.8 83.0,310.4 83.5,307.3 83.9,309.5 84.3,301.9 84.7,306.2 85.1,308.5 85.6,307.6 86.0,304.6 86.4,296.7 86.8,298.7 87.2,301.7 87.7,292.0 88.1,301.0 88.5,292.3 88.9,300.9 89.3,296.0 89.8,294.3 90.2,294.9 90.6,301.6 91.0,288.6 91.4,296.3 91.9,290.1 92.3,290.4 92.7,296.4 93.1,279.3 93.5,280.1 94.0,288.1 94.4,283.8 94.8,286.2 95.2,274.8 95.6,284.2 96.1,283.4 96.5,286.4 96.9,274.5 97.3,272.6 97.7,282.8 98.2,284.6 98.6,271.8 99.0,270.0 99.4,281.5 99.8,280.7 100.3,279.4 100.7,270.0 101.1,279.1 101.5,273.3 101.9,268.3 102.4,281.1 102.8,263.6 103.2,269.5 103.6,276.5 104.0,269.4 104.5,281.4 104.9,274.5 105.3,254.6 105.7,261.3 106.1,247.0 106.6,266.6 107.0,247.0 107.4,264.5 107.8,261.6 108.2,269.9 108.7,262.8 109.1,272.9 109.5,275.0 109.9,260.6 110.3,268.7 110.8,277.4 111.2,270.4 111.6,251.0 112.0,269.2 112.4,247.0 112.9,255.3 113.3,267.2 113.7,278.6 114.1,279.8 114.5,257.7 115.0,265.7 115.4,271.3 115.8,269.6 116.2,277.8 116.6,274.0 117.1,279.5 117.5,272.6 117.9,286.7 118.3,275.9 118.7,274.9 119.2,287.2 119.6,286.9 120.0,277.8 120.4,282.7 120.8,259.5 121.3,278.7 121.7,288.1 122.1,269.3 122.5,284.2 122.9,283.8 123.4,278.0 123.8,294.0 124.2,299.1 124.6,289.2 125.0,290.5 125.5,279.5 125.9,298.2 126.3,302.2 126.7,291.2 127.1,303.6 127.6,298.8 128.0,293.3 128.4,301.5 128.8,295.7 129.2,298.4 129.7,302.3 130.1,307.8 130.5,304.8 130.9,305.4 131.3,301.2 131.8,310.2 132.2,311.6 132.6,309.3 133.0,312.1 133.4,311.6 133.9,312.9 134.3,310.7 134.7,315.7 135.1,316.3 135.5,317.1 136.0,318.3 136.4,314.8 136.8,317.0 137.2,319.5 137.6,319.2 138.1,318.0 138.5,320.3 138.9,321.5 139.3,320.2 139.7,321.5 140.2,319.7 140.6,323.2 141.0,322.6 141.4,323.9 141.8,324.1 142.3,325.3 142.7,324.5 143.1,324.4 143.5,325.1 143.9,324.1 144.4,326.4 144.8,325.6 145.2,326.4 145.6,326.8 146.0,327.5 146.5,327.5 146.9,326.9 147.3,327.5 147.7,327.4 148.1,328.4" fill="none" stroke="#111" stroke-width=".6"/>
<polyline points="32.3,325.6 32.8,307.2 33.2,311.3 33.7,310.2 34.1,308.7 34.6,312.8 35.0,312.9 35.5,297.1 35.9,306.6 36.4,303.2 36.8,306.2 37.3,293.2 37.7,288.9 38.2,298.6 38.6,292.7 39.1,298.7 39.5,281.7 40.0,285.1 40.4,294.7 40.9,279.7 41.3,283.8 41.8,281.8 42.2,280.6 42.7,286.2 43.1,283.9 43.6,274.2 44.0,277.5 44.5,282.6 44.9,259.1 45.4,274.4 45.8,275.6 46.3,275.3 46.7,263.0 47.2,259.2 47.6,263.5 48.1,257.2 48.5,275.9 49.0,266.1 49.4,266.3 49.9,261.8 50.3,257.1 50.8,277.7 51.2,249.4 51.7,266.7 52.1,255.9 52.6,251.1 53.0,250.3 53.5,254.9 53.9,281.7 54.4,265.3 54.8,249.4 55.3,262.7 55.7,263.4 56.2,274.4 56.6,249.4 57.1,250.5 57.5,264.1 58.0,258.8 58.4,259.9 58.9,269.7 59.3,264.0 59.8,261.0 60.2,259.9 60.7,255.6 61.1,266.9 61.6,272.1 62.0,266.7 62.5,276.6 62.9,283.8 63.4,268.9 63.8,282.5 64.3,281.6 64.7,280.8 65.2,295.0 65.6,286.4 66.1,290.4 66.5,296.5 67.0,296.4 67.4,305.6 67.9,316.0 68.3,308.4 68.8,314.2 69.2,308.3 69.7,314.0 70.1,320.3 70.6,320.4 71.0,317.8 71.5,321.6" fill="none" stroke="#7cbd45" stroke-width=".9"/>
<polyline points="106.6,328.5 107.1,327.2 107.5,326.1 108.0,324.8 108.4,323.3 108.9,322.4 109.3,320.9 109.8,320.6 110.2,319.9 110.7,318.9 111.1,316.6 111.6,313.5 112.0,312.3 112.5,313.7 112.9,313.3 113.4,308.8 113.8,308.0 114.3,309.8 114.7,303.7 115.2,303.3 115.6,298.9 116.1,298.9 116.5,295.6 117.0,295.0 117.4,296.5 117.9,292.5 118.3,292.0 118.8,285.2 119.2,289.4 119.7,289.5 120.1,279.5 120.6,275.4 121.0,271.8 121.5,270.8 121.9,279.9 122.4,274.3 122.8,271.5 123.3,266.8 123.7,275.6 124.2,262.9 124.6,260.4 125.1,266.1 125.5,259.4 126.0,252.4 126.4,257.8 126.9,251.1 127.3,250.3 127.8,252.9 128.2,252.6 128.7,256.7 129.1,249.4 129.6,256.7 130.0,257.7 130.5,249.4 130.9,257.3 131.4,250.3 131.8,249.4 132.3,257.1 132.7,259.3 133.2,257.3 133.6,260.7 134.1,274.5 134.5,275.4 135.0,265.5 135.4,272.2 135.9,285.1 136.3,284.5 136.8,281.9 137.2,288.1 137.7,285.9 138.1,290.0 138.6,291.6 139.0,298.8 139.5,296.7 139.9,296.3 140.4,304.8 140.8,303.2 141.3,306.5 141.7,309.6 142.2,313.1 142.6,316.7 143.1,318.3 143.5,318.1 144.0,319.3 144.4,320.4 144.9,321.9 145.3,323.2 145.8,324.9 146.2,326.2 146.7,327.2 147.1,328.4" fill="none" stroke="#3c6cc0" stroke-width="1.3" stroke-opacity=".85"/>
</g>
<line x1="32" y1="247" x2="186" y2="247" stroke="#8a8a8a" stroke-width="0.7"/>
<line x1="186" y1="247" x2="186" y2="328.5" stroke="#8a8a8a" stroke-width="0.7"/>
<line x1="32" y1="246.7" x2="32" y2="329.0" stroke="#000" stroke-width="1.2"/>
<line x1="31.5" y1="328.5" x2="186" y2="328.5" stroke="#000" stroke-width="1.0"/>
<path d="M28.5 328.5h3.5M28.5 312.2h3.5M28.5 295.9h3.5M28.5 279.6h3.5M28.5 263.3h3.5M28.5 247.0h3.5M32.5 328.5v2M44.1 328.5v1M50.9 328.5v1M55.7 328.5v1M59.5 328.5v1M62.5 328.5v1M65.1 328.5v1M67.4 328.5v1M69.3 328.5v1M71.1 328.5v2M82.7 328.5v1M89.5 328.5v1M94.3 328.5v1M98.1 328.5v1M101.1 328.5v1M103.7 328.5v1M106.0 328.5v1M107.9 328.5v1M109.7 328.5v2M121.3 328.5v1M128.1 328.5v1M132.9 328.5v1M136.7 328.5v1M139.7 328.5v1M142.3 328.5v1M144.6 328.5v1M146.5 328.5v1M148.3 328.5v2M159.9 328.5v1M166.7 328.5v1M171.5 328.5v1M175.3 328.5v1M178.3 328.5v1M180.9 328.5v1M183.2 328.5v1M185.1 328.5v1" stroke="#000" stroke-width=".5"/>
<text x="23.5" y="329.9" font-size="4" font-weight="bold" text-anchor="end" fill="#222" textLength="3.4" lengthAdjust="spacingAndGlyphs">0</text>
<text x="23.5" y="313.6" font-size="4" font-weight="bold" text-anchor="end" fill="#222" textLength="6.8" lengthAdjust="spacingAndGlyphs">20</text>
<text x="23.5" y="297.3" font-size="4" font-weight="bold" text-anchor="end" fill="#222" textLength="6.8" lengthAdjust="spacingAndGlyphs">40</text>
<text x="23.5" y="281.0" font-size="4" font-weight="bold" text-anchor="end" fill="#222" textLength="6.8" lengthAdjust="spacingAndGlyphs">60</text>
<text x="23.5" y="264.7" font-size="4" font-weight="bold" text-anchor="end" fill="#222" textLength="6.8" lengthAdjust="spacingAndGlyphs">80</text>
<text x="23.5" y="248.4" font-size="4" font-weight="bold" text-anchor="end" fill="#222" textLength="10.2" lengthAdjust="spacingAndGlyphs">100</text>
<text x="28.3" y="336.8" font-size="4.4" fill="#222" textLength="11" lengthAdjust="spacingAndGlyphs">10<tspan dy="-2.2" font-size="3.6">0</tspan></text>
<text x="66.9" y="336.8" font-size="4.4" fill="#222" textLength="11" lengthAdjust="spacingAndGlyphs">10<tspan dy="-2.2" font-size="3.6">1</tspan></text>
<text x="105.5" y="336.8" font-size="4.4" fill="#222" textLength="11" lengthAdjust="spacingAndGlyphs">10<tspan dy="-2.2" font-size="3.6">2</tspan></text>
<text x="144.1" y="336.8" font-size="4.4" fill="#222" textLength="11" lengthAdjust="spacingAndGlyphs">10<tspan dy="-2.2" font-size="3.6">3</tspan></text>
<text x="67.4" y="283.2" font-size="8.3" text-anchor="start" fill="#5d9ccf">20.58</text>
<line x1="77.5" y1="313.8" x2="104" y2="313.8" stroke="#9cc6e4" stroke-width="1.9"/>
<rect x="137" y="249.4" width="10.5" height="4.2" fill="#a3cd6b" stroke="none" stroke-width="1"/>
<text x="150.3" y="253.55" font-size="5.85" font-weight="bold" text-anchor="start" fill="#111">Unlabeled</text>
<rect x="137" y="257.0" width="10.5" height="4.2" fill="#d21f2a" stroke="none" stroke-width="1"/>
<text x="150.3" y="261.15000000000003" font-size="5.85" font-weight="bold" text-anchor="start" fill="#111">Co-cultured</text>
<rect x="137" y="264.59999999999997" width="10.5" height="4.2" fill="#3b6bb6" stroke="none" stroke-width="1"/>
<text x="150.3" y="268.75" font-size="5.85" font-weight="bold" text-anchor="start" fill="#111">Uncultured</text>
<defs><clipPath id="c4"><rect x="207.6" y="247.5" width="155.1" height="81.80000000000001"/></clipPath></defs>
<g clip-path="url(#c4)">
<polyline points="207.6,328.1 208.2,328.6 208.8,327.0 209.4,328.1 210.0,327.1 210.6,326.0 211.2,328.1 211.8,328.6 212.4,327.1 213.0,328.5 213.6,326.6 214.2,327.1 214.8,328.5 215.4,328.3 216.0,327.2 216.6,326.4 217.2,326.8 217.8,327.6 218.4,328.5 219.0,327.9 219.6,328.1 220.2,328.1 220.8,325.5 221.4,328.7 222.0,323.1 222.6,326.9 223.2,328.8 223.8,327.9 224.4,328.0 225.0,326.6 225.6,328.4 226.2,328.6 226.8,327.2 227.4,327.8 228.0,328.6 228.6,327.7 229.2,327.8 229.8,327.8 230.4,328.0 231.0,328.6 231.6,328.0 232.2,327.9 232.8,328.0 233.4,328.2 234.0,328.0 234.6,328.2 235.2,328.5 235.8,328.7 236.4,326.6 237.0,328.3 237.6,323.6 238.2,328.3 238.8,327.8 239.4,328.4 240.0,328.8 240.6,328.0 241.2,327.4 241.8,327.4 242.4,328.4 243.0,328.6 243.6,327.9 244.2,328.1" fill="none" stroke="#222" stroke-width=".5"/>
<polygon points="240.8,328.8 240.8,328.3 241.2,326.5 241.6,325.4 242.0,324.6 242.4,324.0 242.8,323.6 243.3,323.6 243.7,322.7 244.1,323.4 244.5,323.0 244.9,321.3 245.4,322.2 245.8,319.6 246.2,318.6 246.6,318.4 247.0,318.7 247.5,316.1 247.9,313.9 248.3,315.5 248.7,319.8 249.1,312.5 249.6,316.3 250.0,316.1 250.4,313.9 250.8,316.4 251.2,316.8 251.7,312.5 252.1,309.5 252.5,310.9 252.9,305.5 253.3,310.6 253.8,303.0 254.2,306.4 254.6,302.9 255.0,299.2 255.4,303.1 255.9,296.5 256.3,294.5 256.7,299.0 257.1,300.8 257.5,295.3 258.0,300.3 258.4,286.7 258.8,295.0 259.2,292.9 259.6,283.1 260.1,287.6 260.5,295.6 260.9,291.2 261.3,280.3 261.7,273.8 262.2,286.2 262.6,274.2 263.0,284.7 263.4,281.7 263.8,291.6 264.3,274.0 264.7,278.1 265.1,271.1 265.5,272.9 265.9,275.5 266.4,275.0 266.8,266.5 267.2,275.4 267.6,261.2 268.0,272.2 268.5,266.0 268.9,265.1 269.3,247.5 269.7,270.5 270.1,260.2 270.6,274.6 271.0,265.2 271.4,268.6 271.8,256.2 272.2,264.0 272.7,273.0 273.1,264.4 273.5,266.2 273.9,271.3 274.3,271.8 274.8,276.4 275.2,248.1 275.6,268.1 276.0,262.3 276.4,270.9 276.9,277.3 277.3,271.0 277.7,270.2 278.1,253.9 278.5,277.1 279.0,265.6 279.4,257.7 279.8,259.6 280.2,263.0 280.6,277.5 281.1,267.6 281.5,267.7 281.9,257.2 282.3,276.4 282.7,270.7 283.2,263.7 283.6,274.6 284.0,273.4 284.4,264.4 284.8,278.9 285.3,268.7 285.7,270.4 286.1,257.5 286.5,266.5 286.9,267.6 287.4,262.1 287.8,279.6 288.2,277.5 288.6,293.5 289.0,269.4 289.5,284.6 289.9,288.0 290.3,284.3 290.7,277.9 291.1,276.2 291.6,280.4 292.0,283.1 292.4,286.6 292.8,284.4 293.2,285.8 293.7,288.1 294.1,282.8 294.5,283.0 294.9,298.2 295.3,290.5 295.8,298.2 296.2,297.9 296.6,293.5 297.0,287.8 297.4,303.5 297.9,301.1 298.3,290.0 298.7,300.2 299.1,305.5 299.5,298.7 300.0,303.4 300.4,307.7 300.8,310.5 301.2,310.6 301.6,312.5 302.1,313.1 302.5,311.2 302.9,312.3 303.3,315.8 303.7,317.1 304.2,314.2 304.6,317.0 305.0,317.0 305.4,315.9 305.8,319.1 306.3,320.0 306.7,317.5 307.1,320.1 307.5,319.5 307.9,320.4 308.4,319.4 308.8,320.7 309.2,323.2 309.6,322.1 310.0,323.4 310.5,324.5 310.9,324.0 311.3,325.6 311.7,323.0 312.1,325.4 312.6,325.9 313.0,326.0 313.4,326.4 313.8,325.4 314.2,326.0 314.7,327.4 315.1,326.0 315.5,327.8 315.9,327.9 316.3,327.8 316.3,328.8" fill="#dc2229" stroke="none"/>
<polyline points="240.8,328.3 241.2,326.5 241.6,325.4 242.0,324.6 242.4,324.0 242.8,323.6 243.3,323.6 243.7,322.7 244.1,323.4 244.5,323.0 244.9,321.3 245.4,322.2 245.8,319.6 246.2,318.6 246.6,318.4 247.0,318.7 247.5,316.1 247.9,313.9 248.3,315.5 248.7,319.8 249.1,312.5 249.6,316.3 250.0,316.1 250.4,313.9 250.8,316.4 251.2,316.8 251.7,312.5 252.1,309.5 252.5,310.9 252.9,305.5 253.3,310.6 253.8,303.0 254.2,306.4 254.6,302.9 255.0,299.2 255.4,303.1 255.9,296.5 256.3,294.5 256.7,299.0 257.1,300.8 257.5,295.3 258.0,300.3 258.4,286.7 258.8,295.0 259.2,292.9 259.6,283.1 260.1,287.6 260.5,295.6 260.9,291.2 261.3,280.3 261.7,273.8 262.2,286.2 262.6,274.2 263.0,284.7 263.4,281.7 263.8,291.6 264.3,274.0 264.7,278.1 265.1,271.1 265.5,272.9 265.9,275.5 266.4,275.0 266.8,266.5 267.2,275.4 267.6,261.2 268.0,272.2 268.5,266.0 268.9,265.1 269.3,247.5 269.7,270.5 270.1,260.2 270.6,274.6 271.0,265.2 271.4,268.6 271.8,256.2 272.2,264.0 272.7,273.0 273.1,264.4 273.5,266.2 273.9,271.3 274.3,271.8 274.8,276.4 275.2,248.1 275.6,268.1 276.0,262.3 276.4,270.9 276.9,277.3 277.3,271.0 277.7,270.2 278.1,253.9 278.5,277.1 279.0,265.6 279.4,257.7 279.8,259.6 280.2,263.0 280.6,277.5 281.1,267.6 281.5,267.7 281.9,257.2 282.3,276.4 282.7,270.7 283.2,263.7 283.6,274.6 284.0,273.4 284.4,264.4 284.8,278.9 285.3,268.7 285.7,270.4 286.1,257.5 286.5,266.5 286.9,267.6 287.4,262.1 287.8,279.6 288.2,277.5 288.6,293.5 289.0,269.4 289.5,284.6 289.9,288.0 290.3,284.3 290.7,277.9 291.1,276.2 291.6,280.4 292.0,283.1 292.4,286.6 292.8,284.4 293.2,285.8 293.7,288.1 294.1,282.8 294.5,283.0 294.9,298.2 295.3,290.5 295.8,298.2 296.2,297.9 296.6,293.5 297.0,287.8 297.4,303.5 297.9,301.1 298.3,290.0 298.7,300.2 299.1,305.5 299.5,298.7 300.0,303.4 300.4,307.7 300.8,310.5 301.2,310.6 301.6,312.5 302.1,313.1 302.5,311.2 302.9,312.3 303.3,315.8 303.7,317.1 304.2,314.2 304.6,317.0 305.0,317.0 305.4,315.9 305.8,319.1 306.3,320.0 306.7,317.5 307.1,320.1 307.5,319.5 307.9,320.4 308.4,319.4 308.8,320.7 309.2,323.2 309.6,322.1 310.0,323.4 310.5,324.5 310.9,324.0 311.3,325.6 311.7,323.0 312.1,325.4 312.6,325.9 313.0,326.0 313.4,326.4 313.8,325.4 314.2,326.0 314.7,327.4 315.1,326.0 315.5,327.8 315.9,327.9 316.3,327.8" fill="none" stroke="#111" stroke-width=".6"/>
<polyline points="207.9,308.2 208.3,300.9 208.8,301.7 209.2,301.5 209.7,292.3 210.1,288.1 210.6,307.9 211.0,294.6 211.5,303.4 211.9,305.9 212.4,299.7 212.8,289.2 213.3,296.1 213.7,296.0 214.2,282.9 214.6,287.3 215.1,289.9 215.5,276.3 216.0,283.7 216.4,290.6 216.9,292.0 217.3,286.3 217.8,281.0 218.2,274.4 218.7,273.9 219.1,277.9 219.6,285.9 220.0,269.1 220.5,273.8 220.9,281.4 221.4,281.2 221.8,268.5 222.3,266.1 222.7,260.9 223.2,275.9 223.6,249.9 224.1,278.3 224.5,262.1 225.0,249.9 225.4,250.6 225.9,267.4 226.3,253.4 226.8,249.9 227.2,251.3 227.7,265.9 228.1,249.9 228.6,270.8 229.0,255.6 229.5,265.1 229.9,258.9 230.4,257.6 230.8,249.9 231.3,265.2 231.7,251.4 232.2,249.9 232.6,253.4 233.1,250.4 233.5,252.5 234.0,263.9 234.4,261.7 234.9,259.2 235.3,256.6 235.8,249.9 236.2,249.9 236.7,267.8 237.1,268.6 237.6,274.4 238.0,285.9 238.5,257.9 238.9,265.2 239.4,285.8 239.8,271.5 240.3,254.5 240.7,270.0 241.2,271.0 241.6,274.7 242.1,284.2 242.5,289.3 243.0,289.1 243.4,284.7 243.9,289.6 244.3,285.9 244.8,281.7 245.2,291.4 245.7,292.5 246.1,301.8 246.6,309.4 247.0,292.7 247.5,302.9 247.9,302.5 248.4,312.4 248.8,320.6 249.3,307.9 249.7,326.0 250.2,318.7 250.6,322.1 251.1,321.0 251.5,321.0 252.0,323.4" fill="none" stroke="#7cbd45" stroke-width=".9"/>
<polyline points="283.6,328.8 284.1,327.1 284.5,326.2 285.0,323.9 285.4,322.8 285.9,321.8 286.3,319.9 286.8,319.2 287.2,316.5 287.7,313.8 288.1,312.4 288.6,311.8 289.0,308.6 289.5,307.9 289.9,303.4 290.4,304.7 290.8,305.3 291.3,303.2 291.7,302.4 292.2,299.3 292.6,296.9 293.1,292.6 293.5,290.1 294.0,290.2 294.4,286.9 294.9,288.8 295.3,286.2 295.8,291.5 296.2,283.2 296.7,280.1 297.1,264.9 297.6,280.3 298.0,272.5 298.5,272.8 298.9,277.4 299.4,266.9 299.8,266.7 300.3,272.8 300.7,276.1 301.2,262.5 301.6,268.6 302.1,255.3 302.5,259.5 303.0,254.0 303.4,258.1 303.9,249.9 304.3,250.5 304.8,249.9 305.2,252.9 305.7,260.9 306.1,264.2 306.6,259.8 307.0,256.2 307.5,262.5 307.9,249.9 308.4,261.4 308.8,259.6 309.3,262.7 309.7,270.8 310.2,259.7 310.6,263.0 311.1,263.6 311.5,275.2 312.0,273.7 312.4,276.8 312.9,274.9 313.3,287.7 313.8,283.0 314.2,284.1 314.7,292.4 315.1,296.1 315.6,292.9 316.0,298.5 316.5,299.3 316.9,302.9 317.4,305.2 317.8,310.0 318.3,315.2 318.7,314.4 319.2,318.1 319.6,318.0 320.1,319.9 320.5,319.5 321.0,321.7 321.4,322.2 321.9,323.1 322.3,324.6 322.8,325.5 323.2,326.6 323.7,327.7 324.1,328.6" fill="none" stroke="#3c6cc0" stroke-width="1.3" stroke-opacity=".85"/>
</g>
<line x1="207.6" y1="247.5" x2="362.7" y2="247.5" stroke="#8a8a8a" stroke-width="0.7"/>
<line x1="362.7" y1="247.5" x2="362.7" y2="328.8" stroke="#8a8a8a" stroke-width="0.7"/>
<line x1="207.6" y1="247.2" x2="207.6" y2="329.3" stroke="#000" stroke-width="1.2"/>
<line x1="207.1" y1="328.8" x2="362.7" y2="328.8" stroke="#000" stroke-width="1.0"/>
<path d="M204.1 328.8h3.5M204.1 312.5h3.5M204.1 296.3h3.5M204.1 280.0h3.5M204.1 263.8h3.5M204.1 247.5h3.5M207.6 328.8v2M219.3 328.8v1M226.2 328.8v1M231.1 328.8v1M234.9 328.8v1M237.9 328.8v1M240.6 328.8v1M242.8 328.8v1M244.8 328.8v1M246.6 328.8v2M258.3 328.8v1M265.2 328.8v1M270.1 328.8v1M273.9 328.8v1M276.9 328.8v1M279.6 328.8v1M281.8 328.8v1M283.8 328.8v1M285.6 328.8v2M297.3 328.8v1M304.2 328.8v1M309.1 328.8v1M312.9 328.8v1M315.9 328.8v1M318.6 328.8v1M320.8 328.8v1M322.8 328.8v1M324.6 328.8v2M336.3 328.8v1M343.2 328.8v1M348.1 328.8v1M351.9 328.8v1M354.9 328.8v1M357.6 328.8v1M359.8 328.8v1M361.8 328.8v1" stroke="#000" stroke-width=".5"/>
<text x="203.4" y="337.1" font-size="4.4" fill="#222" textLength="11" lengthAdjust="spacingAndGlyphs">10<tspan dy="-2.2" font-size="3.6">0</tspan></text>
<text x="242.4" y="337.1" font-size="4.4" fill="#222" textLength="11" lengthAdjust="spacingAndGlyphs">10<tspan dy="-2.2" font-size="3.6">1</tspan></text>
<text x="281.4" y="337.1" font-size="4.4" fill="#222" textLength="11" lengthAdjust="spacingAndGlyphs">10<tspan dy="-2.2" font-size="3.6">2</tspan></text>
<text x="320.4" y="337.1" font-size="4.4" fill="#222" textLength="11" lengthAdjust="spacingAndGlyphs">10<tspan dy="-2.2" font-size="3.6">3</tspan></text>
<text x="244.4" y="281.7" font-size="8.3" text-anchor="start" fill="#5d9ccf">43.12</text>
<line x1="252.6" y1="314.3" x2="279.6" y2="314.3" stroke="#a3a7d6" stroke-width="1.9"/>
<rect x="313.5" y="249.4" width="10.5" height="4.2" fill="#a3cd6b" stroke="none" stroke-width="1"/>
<text x="325.3" y="253.55" font-size="5.85" font-weight="bold" text-anchor="start" fill="#111">Unlabeled</text>
<rect x="313.5" y="257.0" width="10.5" height="4.2" fill="#d21f2a" stroke="none" stroke-width="1"/>
<text x="325.3" y="261.15000000000003" font-size="5.85" font-weight="bold" text-anchor="start" fill="#111">Co-cultured</text>
<rect x="313.5" y="264.59999999999997" width="10.5" height="4.2" fill="#3b6bb6" stroke="none" stroke-width="1"/>
<text x="325.3" y="268.75" font-size="5.85" font-weight="bold" text-anchor="start" fill="#111">Uncultured</text>
<text x="85" y="131.3" font-size="12" font-weight="bold" font-style="italic" text-anchor="start" fill="#000" textLength="51" lengthAdjust="spacingAndGlyphs">Fanca+/+</text>
<text x="266" y="131.3" font-size="12" font-weight="bold" font-style="italic" text-anchor="start" fill="#000" textLength="44" lengthAdjust="spacingAndGlyphs">Fanca-/-</text>
<text x="79" y="240.3" font-size="12" font-weight="bold" font-style="italic" text-anchor="start" fill="#000" textLength="57" lengthAdjust="spacingAndGlyphs">Fancd2+/+</text>
<text x="266" y="239.8" font-size="12" font-weight="bold" font-style="italic" text-anchor="start" fill="#000" textLength="53.5" lengthAdjust="spacingAndGlyphs">Fancd2-/-</text>
<text transform="translate(8.2,244.6) rotate(-90)" font-size="8.6" font-weight="bold" text-anchor="middle" fill="#000" textLength="81.5" lengthAdjust="spacingAndGlyphs">Events (% of max)</text>
<line x1="12.4" y1="175" x2="12.4" y2="329" stroke="#000" stroke-width="1.4"/>
<line x1="21" y1="342" x2="236" y2="342" stroke="#000" stroke-width="1.4"/>
<text x="96.2" y="351.8" font-size="9.8" font-weight="bold" text-anchor="start" fill="#000" textLength="23.3" lengthAdjust="spacingAndGlyphs">CFSE</text>
<line x1="398" y1="172.5" x2="398" y2="252.29999999999998" stroke="#000" stroke-width="1.0"/>
<line x1="397.5" y1="251.7" x2="515.7" y2="251.7" stroke="#000" stroke-width="1.0"/>
<line x1="396" y1="251.7" x2="398" y2="251.7" stroke="#000" stroke-width="0.8"/>
<text x="394.8" y="253.572" font-size="5.2" font-weight="bold" text-anchor="end" fill="#000">0</text>
<line x1="396" y1="235.95999999999998" x2="398" y2="235.95999999999998" stroke="#000" stroke-width="0.8"/>
<text x="394.8" y="237.832" font-size="5.2" font-weight="bold" text-anchor="end" fill="#000">10</text>
<line x1="396" y1="220.22" x2="398" y2="220.22" stroke="#000" stroke-width="0.8"/>
<text x="394.8" y="222.09199999999998" font-size="5.2" font-weight="bold" text-anchor="end" fill="#000">20</text>
<line x1="396" y1="204.48" x2="398" y2="204.48" stroke="#000" stroke-width="0.8"/>
<text x="394.8" y="206.35199999999998" font-size="5.2" font-weight="bold" text-anchor="end" fill="#000">30</text>
<line x1="396" y1="188.74" x2="398" y2="188.74" stroke="#000" stroke-width="0.8"/>
<text x="394.8" y="190.61200000000002" font-size="5.2" font-weight="bold" text-anchor="end" fill="#000">40</text>
<line x1="396" y1="173.0" x2="398" y2="173.0" stroke="#000" stroke-width="0.8"/>
<text x="394.8" y="174.872" font-size="5.2" font-weight="bold" text-anchor="end" fill="#000">50</text>
<rect x="403.7" y="216.2" width="20.5" height="35.5" fill="#000" stroke="none" stroke-width="1"/>
<line x1="413.95" y1="216.2" x2="413.95" y2="212.5" stroke="#111" stroke-width="1.1"/>
<line x1="409.1325" y1="212.5" x2="418.7675" y2="212.5" stroke="#111" stroke-width="1.1"/>
<line x1="413.95" y1="251.7" x2="413.95" y2="253.5" stroke="#000" stroke-width="0.8"/>
<rect x="434" y="187.4" width="20.5" height="64.29999999999998" fill="#a2a2a8" stroke="none" stroke-width="1"/>
<line x1="444.25" y1="187.4" x2="444.25" y2="181" stroke="#111" stroke-width="1.1"/>
<line x1="439.4325" y1="181" x2="449.0675" y2="181" stroke="#111" stroke-width="1.1"/>
<line x1="444.25" y1="251.7" x2="444.25" y2="253.5" stroke="#000" stroke-width="0.8"/>
<rect x="464.6" y="214.2" width="20.799999999999955" height="37.5" fill="#7b7b7b" stroke="none" stroke-width="1"/>
<line x1="475.0" y1="214.2" x2="475.0" y2="207" stroke="#111" stroke-width="1.1"/>
<line x1="470.112" y1="207" x2="479.888" y2="207" stroke="#111" stroke-width="1.1"/>
<line x1="475.0" y1="251.7" x2="475.0" y2="253.5" stroke="#000" stroke-width="0.8"/>
<rect x="494" y="188.8" width="20.799999999999955" height="62.89999999999998" fill="#d9d9d9" stroke="none" stroke-width="1"/>
<line x1="504.4" y1="188.8" x2="504.4" y2="180.2" stroke="#111" stroke-width="1.1"/>
<line x1="499.512" y1="180.2" x2="509.28799999999995" y2="180.2" stroke="#111" stroke-width="1.1"/>
<line x1="504.4" y1="251.7" x2="504.4" y2="253.5" stroke="#000" stroke-width="0.8"/>
<text x="444.8" y="180.8" font-size="10" font-weight="bold" text-anchor="middle" fill="#000">***</text>
<text x="504.8" y="180.8" font-size="10" font-weight="bold" text-anchor="middle" fill="#000">**</text>
<text transform="translate(385.8,212) rotate(-90)" font-size="7.2" font-weight="bold" text-anchor="middle" fill="#333" textLength="68.5" lengthAdjust="spacingAndGlyphs">Proliferating cells  (%)</text>
<text transform="translate(415,257.8) rotate(-45)" font-size="6.8" font-weight="bold" text-anchor="end" fill="#000">Fanca+/+</text>
<text transform="translate(445.2,257.8) rotate(-45)" font-size="6.8" font-weight="bold" text-anchor="end" fill="#000">Fanca-/-</text>
<text transform="translate(476,257.8) rotate(-45)" font-size="6.8" font-weight="bold" text-anchor="end" fill="#000">Fancd2+/+</text>
<text transform="translate(505.4,257.8) rotate(-45)" font-size="6.8" font-weight="bold" text-anchor="end" fill="#000">Fancd2-/-</text>
<text x="124.3" y="365.2" font-size="12.5" font-weight="bold" text-anchor="start" fill="#000">C</text>
<line x1="157" y1="358" x2="157" y2="450.6" stroke="#000" stroke-width="1.0"/>
<line x1="156.5" y1="450" x2="294.5" y2="450" stroke="#000" stroke-width="1.0"/>
<line x1="155" y1="450.0" x2="157" y2="450.0" stroke="#000" stroke-width="0.8"/>
<text x="154" y="452.2" font-size="6.2" font-weight="bold" text-anchor="end" fill="#000">0</text>
<line x1="157.0" y1="450" x2="157.0" y2="452" stroke="#000" stroke-width="0.8"/>
<text x="157.0" y="460.6" font-size="6.4" font-weight="bold" text-anchor="middle" fill="#000">0</text>
<line x1="155" y1="431.75" x2="157" y2="431.75" stroke="#000" stroke-width="0.8"/>
<text x="154" y="433.95" font-size="6.2" font-weight="bold" text-anchor="end" fill="#000">20</text>
<line x1="184.4" y1="450" x2="184.4" y2="452" stroke="#000" stroke-width="0.8"/>
<text x="184.4" y="460.6" font-size="6.4" font-weight="bold" text-anchor="middle" fill="#000">20</text>
<line x1="155" y1="413.5" x2="157" y2="413.5" stroke="#000" stroke-width="0.8"/>
<text x="154" y="415.7" font-size="6.2" font-weight="bold" text-anchor="end" fill="#000">40</text>
<line x1="211.8" y1="450" x2="211.8" y2="452" stroke="#000" stroke-width="0.8"/>
<text x="211.8" y="460.6" font-size="6.4" font-weight="bold" text-anchor="middle" fill="#000">40</text>
<line x1="155" y1="395.25" x2="157" y2="395.25" stroke="#000" stroke-width="0.8"/>
<text x="154" y="397.45" font-size="6.2" font-weight="bold" text-anchor="end" fill="#000">60</text>
<line x1="239.2" y1="450" x2="239.2" y2="452" stroke="#000" stroke-width="0.8"/>
<text x="239.2" y="460.6" font-size="6.4" font-weight="bold" text-anchor="middle" fill="#000">60</text>
<line x1="155" y1="377.0" x2="157" y2="377.0" stroke="#000" stroke-width="0.8"/>
<text x="154" y="379.2" font-size="6.2" font-weight="bold" text-anchor="end" fill="#000">80</text>
<line x1="266.6" y1="450" x2="266.6" y2="452" stroke="#000" stroke-width="0.8"/>
<text x="266.6" y="460.6" font-size="6.4" font-weight="bold" text-anchor="middle" fill="#000">80</text>
<line x1="155" y1="358.75" x2="157" y2="358.75" stroke="#000" stroke-width="0.8"/>
<text x="154" y="360.95" font-size="6.2" font-weight="bold" text-anchor="end" fill="#000">100</text>
<line x1="294.0" y1="450" x2="294.0" y2="452" stroke="#000" stroke-width="0.8"/>
<text x="294.0" y="460.6" font-size="6.4" font-weight="bold" text-anchor="middle" fill="#000">100</text>
<line x1="170.7" y1="450" x2="170.7" y2="451.3" stroke="#000" stroke-width="0.6"/>
<line x1="198.1" y1="450" x2="198.1" y2="451.3" stroke="#000" stroke-width="0.6"/>
<line x1="225.5" y1="450" x2="225.5" y2="451.3" stroke="#000" stroke-width="0.6"/>
<line x1="252.9" y1="450" x2="252.9" y2="451.3" stroke="#000" stroke-width="0.6"/>
<line x1="280.3" y1="450" x2="280.3" y2="451.3" stroke="#000" stroke-width="0.6"/>
<text x="197.5" y="470.3" font-size="6.6" font-weight="bold" text-anchor="start" fill="#000" textLength="54.5" lengthAdjust="spacingAndGlyphs">Days after BMT</text>
<text transform="translate(139,404.1) rotate(-90)" font-size="9" font-weight="bold" text-anchor="middle" fill="#000" textLength="49.5" lengthAdjust="spacingAndGlyphs">Survival (%)</text>
<line x1="157.0" y1="358.75" x2="294.0" y2="358.75" stroke="#383838" stroke-width="1.05"/>
<polygon points="294.00,356.35 291.70,360.35 296.30,360.35" fill="#111" stroke="#555" stroke-width=".55"/>
<polyline points="157.00,358.75 167.96,358.75 167.96,370.16 179.47,370.16 179.47,381.56 181.39,381.56 181.39,392.97 184.40,392.97 184.40,404.38 191.25,404.38 191.25,415.78 192.62,415.78 192.62,427.19 222.49,427.19 222.49,438.59 225.50,438.59 225.50,450.00 225.50,450.00" fill="none" stroke="#383838" stroke-width="1.05"/>
<polygon points="167.96,367.76 165.66,371.76 170.26,371.76" fill="#ddd" stroke="#555" stroke-width=".55"/>
<polygon points="179.47,379.16 177.17,383.16 181.77,383.16" fill="#ddd" stroke="#555" stroke-width=".55"/>
<polygon points="181.39,390.57 179.09,394.57 183.69,394.57" fill="#ddd" stroke="#555" stroke-width=".55"/>
<polygon points="184.40,401.98 182.10,405.98 186.70,405.98" fill="#ddd" stroke="#555" stroke-width=".55"/>
<polygon points="191.25,413.38 188.95,417.38 193.55,417.38" fill="#ddd" stroke="#555" stroke-width=".55"/>
<polygon points="192.62,424.79 190.32,428.79 194.92,428.79" fill="#ddd" stroke="#555" stroke-width=".55"/>
<polygon points="222.49,436.19 220.19,440.19 224.79,440.19" fill="#ddd" stroke="#555" stroke-width=".55"/>
<polygon points="225.50,447.60 223.20,451.60 227.80,451.60" fill="#ddd" stroke="#555" stroke-width=".55"/>
<polygon points="225.50,447.60 223.20,451.60 227.80,451.60" fill="#ddd" stroke="#555" stroke-width=".55"/>
<polyline points="157.00,358.75 209.06,358.75 209.06,367.88 212.76,367.88 212.76,377.00 224.13,377.00 224.13,386.12 226.32,386.12 226.32,395.25 231.80,395.25 231.80,404.38 233.45,404.38 233.45,413.50 238.79,413.50 238.79,422.62 250.16,422.62 250.16,431.75 294.00,431.75" fill="none" stroke="#383838" stroke-width="1.05"/>
<rect x="207.16" y="365.98" width="3.8" height="3.8" fill="#fff" stroke="#555" stroke-width=".6"/>
<line x1="207.16" y1="367.875" x2="210.96" y2="367.875" stroke="#777" stroke-width="0.4"/>
<rect x="210.86" y="375.10" width="3.8" height="3.8" fill="#fff" stroke="#555" stroke-width=".6"/>
<line x1="210.859" y1="377.0" x2="214.65900000000002" y2="377.0" stroke="#777" stroke-width="0.4"/>
<rect x="222.23" y="384.23" width="3.8" height="3.8" fill="#fff" stroke="#555" stroke-width=".6"/>
<line x1="222.23" y1="386.125" x2="226.03" y2="386.125" stroke="#777" stroke-width="0.4"/>
<rect x="224.42" y="393.35" width="3.8" height="3.8" fill="#fff" stroke="#555" stroke-width=".6"/>
<line x1="224.422" y1="395.25" x2="228.222" y2="395.25" stroke="#777" stroke-width="0.4"/>
<rect x="229.90" y="402.48" width="3.8" height="3.8" fill="#fff" stroke="#555" stroke-width=".6"/>
<line x1="229.90200000000002" y1="404.375" x2="233.70200000000003" y2="404.375" stroke="#777" stroke-width="0.4"/>
<rect x="231.55" y="411.60" width="3.8" height="3.8" fill="#fff" stroke="#555" stroke-width=".6"/>
<line x1="231.546" y1="413.5" x2="235.346" y2="413.5" stroke="#777" stroke-width="0.4"/>
<rect x="236.89" y="420.73" width="3.8" height="3.8" fill="#fff" stroke="#555" stroke-width=".6"/>
<line x1="236.889" y1="422.625" x2="240.68900000000002" y2="422.625" stroke="#777" stroke-width="0.4"/>
<rect x="248.26" y="429.85" width="3.8" height="3.8" fill="#fff" stroke="#555" stroke-width=".6"/>
<line x1="248.26000000000002" y1="431.75" x2="252.06000000000003" y2="431.75" stroke="#777" stroke-width="0.4"/>
<rect x="292.10" y="429.85" width="3.8" height="3.8" fill="#fff" stroke="#555" stroke-width=".6"/>
<line x1="292.1" y1="431.75" x2="295.9" y2="431.75" stroke="#777" stroke-width="0.4"/>
<polyline points="157.00,358.75 233.17,358.75 233.17,367.88 247.97,367.88 247.97,377.00 260.44,377.00 260.44,386.12 271.81,386.12 271.81,395.25 282.49,395.25 282.49,404.38 294.00,404.38" fill="none" stroke="#383838" stroke-width="1.05"/>
<rect x="231.27" y="365.98" width="3.8" height="3.8" fill="#000" stroke="#000" stroke-width=".6"/>
<rect x="246.07" y="375.10" width="3.8" height="3.8" fill="#000" stroke="#000" stroke-width=".6"/>
<rect x="258.54" y="384.23" width="3.8" height="3.8" fill="#000" stroke="#000" stroke-width=".6"/>
<rect x="269.91" y="393.35" width="3.8" height="3.8" fill="#000" stroke="#000" stroke-width=".6"/>
<rect x="280.59" y="402.48" width="3.8" height="3.8" fill="#000" stroke="#000" stroke-width=".6"/>
<rect x="292.10" y="402.48" width="3.8" height="3.8" fill="#000" stroke="#000" stroke-width=".6"/>
<text x="253.5" y="428.6" font-size="7" text-anchor="start" fill="#000" textLength="37.5" lengthAdjust="spacingAndGlyphs">* P = .0289</text>
<line x1="300.5" y1="365.5" x2="310.5" y2="365.5" stroke="#333" stroke-width="0.9"/>
<polygon points="305.50,363.10 303.20,367.10 307.80,367.10" fill="#111" stroke="#555" stroke-width=".55"/>
<text x="316.2" y="367.8" font-size="6.4" font-weight="bold" text-anchor="start" fill="#000">TCD</text>
<line x1="300.5" y1="375.5" x2="310.5" y2="375.5" stroke="#333" stroke-width="0.9"/>
<polygon points="305.50,373.10 303.20,377.10 307.80,377.10" fill="#ddd" stroke="#555" stroke-width=".55"/>
<text x="316.2" y="377.8" font-size="6.4" font-weight="bold" text-anchor="start" fill="#000">TCD + Teff</text>
<line x1="300.5" y1="386.25" x2="310.5" y2="386.25" stroke="#333" stroke-width="0.9"/>
<rect x="303.60" y="384.35" width="3.8" height="3.8" fill="#000" stroke="#000" stroke-width=".6"/>
<text x="316.2" y="388.55" font-size="6.4" font-weight="bold" text-anchor="start" fill="#000">TCD + Teff+<tspan font-style="italic">Fanca</tspan>+/+ Treg</text>
<line x1="300.5" y1="397" x2="310.5" y2="397" stroke="#333" stroke-width="0.9"/>
<rect x="303.60" y="395.10" width="3.8" height="3.8" fill="#fff" stroke="#555" stroke-width=".6"/>
<line x1="303.6" y1="397" x2="307.4" y2="397" stroke="#777" stroke-width="0.4"/>
<text x="316.2" y="399.3" font-size="6.4" font-weight="bold" text-anchor="start" fill="#000">TCD + Teff+<tspan font-style="italic">Fanca</tspan>-/- Treg</text>
<text x="52" y="488.3" font-size="12.5" font-weight="bold" text-anchor="start" fill="#000">D</text>
<text x="135.2" y="485" font-size="10" font-weight="bold" fill="#000" textLength="58.3" lengthAdjust="spacingAndGlyphs">H-2<tspan dy="-3.5" font-size="6.5">b+</tspan><tspan dy="3.5"> gated</tspan></text>
<line x1="135" y1="486.3" x2="193" y2="486.3" stroke="#000" stroke-width="0.8"/>
<text x="106.5" y="493.5" font-size="9.3" font-weight="bold" text-anchor="start" fill="#000">+/+</text>
<text x="215.5" y="493.5" font-size="9.3" font-weight="bold" text-anchor="start" fill="#000">-/-</text>
<defs><clipPath id="s30"><rect x="69.6" y="495.8" width="94.20000000000002" height="79.09999999999997"/></clipPath></defs>
<g clip-path="url(#s30)">
<ellipse cx="108.2" cy="559.6" rx="10" ry="6.5" fill="url(#rg)" opacity="0.9"/>
<ellipse cx="108.2" cy="559.6" rx="5.5" ry="3.6" fill="url(#rg)" opacity="0.7"/>
<path d="M113.7 562.2h.8M104.8 558.6h.8M107.2 565.2h.8M104.9 562.5h.8M108.6 562.2h.8M108.2 560.6h.8M109.9 560.1h.8M110.5 560.8h.8M112.5 564.6h.8M107.9 559.1h.8M109.6 555.7h.8M109.3 558.5h.8M105.3 555.3h.8M107.4 560.7h.8M106.4 557.1h.8M106.2 558.9h.8M104.1 557.7h.8M104.4 558.8h.8M114.3 560.9h.8M115.2 558.9h.8M104.2 558.3h.8M108.5 560.6h.8M109.6 559.0h.8M111.3 559.8h.8M110.7 561.0h.8M109.1 560.3h.8M105.7 560.6h.8M110.2 558.7h.8M117.1 561.3h.8M103.7 555.1h.8M105.2 553.8h.8M109.6 557.2h.8M109.6 556.4h.8M109.0 562.3h.8M110.2 555.6h.8M108.4 558.7h.8M112.3 561.2h.8M114.8 561.1h.8M104.5 557.0h.8M112.5 557.9h.8M108.9 565.0h.8M108.3 557.6h.8M111.4 561.1h.8M104.2 561.0h.8M109.0 561.6h.8M106.1 562.2h.8M106.6 562.5h.8M104.5 559.9h.8M109.5 556.7h.8M101.7 557.0h.8M105.5 557.7h.8M107.8 565.1h.8M109.0 563.8h.8M109.6 562.6h.8M110.4 560.2h.8M110.1 565.3h.8M102.6 559.5h.8M110.6 557.1h.8M110.3 560.5h.8M112.7 561.9h.8M108.3 560.4h.8M100.8 563.6h.8M109.2 556.4h.8M104.8 558.6h.8M106.2 559.8h.8M105.8 560.5h.8M106.5 559.1h.8M103.3 557.0h.8M107.6 557.1h.8M107.2 558.5h.8M102.5 561.3h.8M103.2 562.9h.8M111.5 561.3h.8M107.8 557.3h.8M113.7 565.2h.8M105.6 563.6h.8M112.1 562.3h.8M110.0 559.2h.8M107.9 560.1h.8M112.9 557.1h.8M109.0 557.1h.8M108.5 559.0h.8M105.6 560.7h.8M110.6 556.9h.8M105.6 560.4h.8M106.4 560.1h.8M98.5 557.2h.8M107.0 560.1h.8M115.9 560.0h.8M107.6 563.0h.8M107.7 563.5h.8M110.8 555.6h.8M108.8 563.6h.8M109.0 560.4h.8M108.8 560.0h.8M112.6 561.6h.8M109.1 565.5h.8M103.1 557.3h.8M107.1 558.5h.8M102.2 565.3h.8M107.9 560.8h.8M108.1 556.7h.8M116.3 560.5h.8M108.7 559.6h.8M109.2 563.2h.8M108.0 551.3h.8M105.9 556.6h.8M110.2 558.9h.8M109.9 560.3h.8M106.3 561.2h.8M107.2 556.5h.8M102.8 556.4h.8M99.0 558.1h.8M108.9 556.7h.8M100.0 555.6h.8M111.3 559.5h.8M108.4 560.1h.8M108.0 559.0h.8M110.3 561.3h.8M105.5 557.4h.8M107.7 560.3h.8M110.1 559.5h.8M107.5 556.6h.8M112.3 560.2h.8M110.8 559.2h.8M104.4 557.7h.8M106.1 560.5h.8M106.8 562.0h.8M110.1 566.0h.8M102.3 562.2h.8M106.3 559.3h.8M109.2 562.5h.8M108.5 558.6h.8M114.2 558.8h.8M111.7 559.7h.8M112.5 560.2h.8M105.4 556.5h.8M105.8 561.0h.8M113.2 560.5h.8M109.4 556.2h.8M107.6 562.2h.8M111.9 557.1h.8M106.7 558.0h.8M109.2 558.0h.8M108.3 562.9h.8M108.8 558.8h.8M108.8 556.2h.8M107.9 559.8h.8M114.0 558.0h.8M111.9 561.5h.8M114.5 564.3h.8M110.0 559.4h.8M113.9 565.0h.8M107.8 564.0h.8M109.0 562.2h.8M105.0 560.8h.8M108.7 559.8h.8M106.2 558.2h.8M110.5 559.4h.8M102.1 556.3h.8M113.1 560.5h.8M107.8 563.6h.8M101.9 556.2h.8M110.7 562.8h.8M109.4 557.0h.8M111.8 560.7h.8M105.2 553.9h.8M108.3 557.8h.8M104.8 557.1h.8M106.8 558.0h.8M108.5 563.0h.8M100.4 556.1h.8M108.2 559.7h.8M110.0 559.3h.8M107.5 560.2h.8M111.8 561.6h.8M106.8 561.2h.8M109.6 557.9h.8M111.2 561.9h.8M104.8 561.6h.8M107.3 564.4h.8M104.7 559.0h.8M107.6 557.0h.8M106.3 559.8h.8M106.8 560.0h.8M106.2 560.1h.8M109.0 557.2h.8M98.7 559.1h.8M104.5 547.6h.8M111.5 559.3h.8M110.6 562.1h.8M119.4 562.1h.8M111.7 563.5h.8M114.6 560.4h.8M109.0 561.7h.8M103.3 560.4h.8M113.7 560.8h.8M111.7 558.1h.8M111.5 556.1h.8M107.1 562.3h.8M105.7 560.7h.8M104.5 559.3h.8M108.6 558.9h.8M105.1 558.2h.8M104.5 556.9h.8M104.0 558.3h.8M112.3 566.2h.8M110.1 560.9h.8M105.2 557.5h.8M111.1 562.9h.8M105.4 558.1h.8M112.5 563.3h.8M111.6 559.0h.8M106.6 559.5h.8M99.8 559.2h.8M111.4 560.3h.8M109.3 557.2h.8M109.5 560.6h.8M106.2 559.7h.8M103.9 557.0h.8M108.0 557.5h.8M104.4 556.1h.8M109.4 562.3h.8M112.6 560.3h.8M107.5 559.5h.8M111.4 557.6h.8M108.0 559.9h.8M106.9 562.4h.8M108.8 558.5h.8M113.1 557.3h.8M106.8 558.7h.8M105.1 561.6h.8M103.6 558.8h.8M104.2 557.7h.8M111.7 557.3h.8M104.6 560.4h.8M105.8 560.4h.8M113.8 560.5h.8M109.6 561.3h.8M109.5 552.3h.8M104.3 563.6h.8M109.6 558.1h.8M109.2 561.4h.8M106.0 560.9h.8M114.4 562.2h.8M110.7 560.4h.8M111.0 558.4h.8M113.4 561.6h.8M112.8 565.1h.8M104.9 559.2h.8M103.9 564.4h.8M106.5 557.1h.8M110.2 560.3h.8M112.0 558.2h.8M112.3 563.2h.8M102.5 558.0h.8M104.4 556.4h.8M104.3 557.4h.8M106.1 557.1h.8M116.3 557.2h.8M106.4 557.8h.8M99.4 559.5h.8M110.2 560.2h.8M103.0 559.0h.8M103.1 558.3h.8M108.0 560.1h.8M107.2 560.2h.8M109.6 559.6h.8M105.5 560.6h.8M110.6 562.5h.8M108.2 561.9h.8M105.8 559.0h.8M108.9 563.9h.8M106.5 559.0h.8M106.1 562.0h.8M110.8 559.6h.8M103.0 560.7h.8M103.9 561.0h.8M102.7 560.6h.8M106.0 555.7h.8M109.9 560.0h.8M100.3 561.7h.8M107.2 555.2h.8M108.4 560.9h.8M108.9 558.2h.8M110.9 558.6h.8M104.2 561.5h.8M106.4 558.1h.8M113.3 557.8h.8M113.4 559.9h.8M108.8 559.7h.8M106.3 560.1h.8M112.4 557.6h.8M104.8 559.6h.8M106.7 564.0h.8M109.6 559.4h.8M104.8 559.5h.8M105.8 561.6h.8M103.2 558.9h.8M110.5 557.1h.8M104.9 556.8h.8M110.7 560.6h.8M101.7 558.9h.8M108.8 560.9h.8M112.7 556.1h.8M111.6 556.5h.8M105.7 557.7h.8M107.0 558.4h.8M107.7 561.0h.8M111.5 561.6h.8M107.7 557.7h.8M111.3 561.6h.8M110.1 560.4h.8M110.6 555.1h.8M111.2 561.4h.8M106.0 561.5h.8M106.1 557.1h.8M109.1 563.0h.8M109.3 555.9h.8M105.8 560.8h.8M109.9 558.1h.8M109.3 563.3h.8M106.4 561.9h.8M109.0 558.7h.8M107.3 559.5h.8M112.8 561.1h.8M109.1 557.5h.8M107.3 557.3h.8M105.0 561.9h.8M109.5 556.2h.8M110.0 561.7h.8M104.8 557.9h.8M106.9 561.1h.8M110.8 559.9h.8M108.0 559.7h.8M102.2 554.4h.8M111.6 559.8h.8M107.5 556.7h.8M104.9 555.5h.8M111.3 559.1h.8M109.7 558.2h.8M106.6 563.1h.8M110.3 558.1h.8M104.6 557.3h.8M107.4 555.7h.8M114.6 562.1h.8M109.7 551.4h.8M101.0 563.7h.8M110.4 563.6h.8M114.1 565.9h.8M119.6 562.2h.8M109.6 562.6h.8M113.3 558.7h.8M105.6 560.3h.8M101.6 550.4h.8M117.8 562.5h.8M117.9 565.3h.8M115.1 564.2h.8M113.0 564.0h.8M102.5 557.0h.8M115.4 558.8h.8M101.4 564.9h.8M95.4 559.8h.8M106.1 561.1h.8M106.2 557.8h.8M108.5 561.4h.8M102.7 557.8h.8M105.7 566.9h.8M101.9 562.8h.8M98.8 554.4h.8M115.7 557.7h.8M117.2 568.0h.8M110.2 561.3h.8M99.1 556.0h.8M111.9 552.9h.8M114.5 559.5h.8M106.8 563.6h.8M99.7 556.2h.8M113.1 558.4h.8M104.1 562.4h.8M107.5 553.4h.8M106.1 560.5h.8M110.2 562.4h.8M119.8 557.2h.8M106.5 563.5h.8M106.5 560.4h.8M113.1 561.1h.8M110.5 561.9h.8M110.8 553.7h.8M112.2 560.3h.8M103.5 553.5h.8M108.9 556.7h.8M110.9 557.1h.8M112.2 556.9h.8M104.6 556.6h.8M114.6 563.2h.8M109.2 558.1h.8M111.6 566.5h.8M108.2 563.4h.8M110.6 556.6h.8M101.0 557.8h.8M101.9 559.2h.8M111.1 549.6h.8M106.7 565.0h.8M100.2 552.7h.8M103.3 555.8h.8M114.1 558.3h.8M119.2 562.5h.8M103.7 559.8h.8M117.7 560.3h.8M109.1 554.4h.8M104.7 561.6h.8M103.6 569.4h.8M109.3 555.3h.8M102.1 561.3h.8M106.9 554.4h.8M114.2 559.4h.8M106.7 556.9h.8M100.7 552.8h.8M113.4 565.6h.8M111.8 556.5h.8M107.2 563.5h.8M105.0 561.5h.8M101.0 560.7h.8M114.0 563.6h.8M104.8 558.4h.8M101.4 556.5h.8M110.4 555.9h.8M111.3 554.6h.8M104.1 562.8h.8M100.3 558.7h.8M114.2 560.8h.8M102.7 558.2h.8M111.8 565.3h.8M105.4 559.7h.8M109.9 556.0h.8M111.1 561.1h.8M99.1 557.8h.8M107.6 556.8h.8M112.0 562.9h.8M109.4 556.1h.8M102.8 562.3h.8M96.3 556.3h.8M102.4 558.0h.8M102.9 557.2h.8M113.9 556.4h.8M117.1 557.1h.8M109.4 555.5h.8M118.0 559.4h.8M112.3 562.6h.8M111.5 562.4h.8M110.7 561.4h.8M110.3 555.9h.8M108.5 560.8h.8M106.2 557.5h.8M101.0 562.1h.8M105.7 566.2h.8M118.1 558.8h.8M106.8 559.7h.8M120.6 561.3h.8M109.1 562.2h.8M117.9 560.6h.8M101.0 561.7h.8M115.9 563.1h.8M116.4 560.0h.8M107.5 565.2h.8M101.9 554.5h.8M116.4 556.7h.8M115.8 557.9h.8M114.9 569.6h.8M116.6 563.3h.8M109.9 562.9h.8M109.4 558.5h.8M114.0 558.8h.8M111.3 557.5h.8M102.4 564.8h.8M106.7 563.5h.8M107.1 557.1h.8M102.0 551.9h.8M104.4 556.6h.8M116.8 558.3h.8M109.3 561.1h.8M105.9 567.4h.8M121.6 564.0h.8M102.0 555.1h.8M111.7 560.5h.8M108.7 563.0h.8M108.4 556.9h.8M101.0 559.0h.8M105.5 559.8h.8M103.8 558.7h.8M112.2 554.4h.8M111.4 563.2h.8M100.2 554.8h.8M108.0 557.1h.8M120.4 555.6h.8M107.6 558.2h.8M114.7 561.3h.8M109.3 559.9h.8M111.4 563.1h.8M103.3 557.1h.8M114.1 558.3h.8M109.5 561.1h.8M98.7 562.8h.8M108.3 559.0h.8M114.4 558.7h.8M111.1 559.1h.8M101.5 556.8h.8M107.1 559.2h.8M93.6 560.8h.8M104.8 548.0h.8M116.3 559.3h.8M107.3 554.3h.8M108.7 561.4h.8M110.0 565.3h.8M117.4 561.2h.8M104.3 556.4h.8M102.8 566.1h.8M105.5 557.3h.8M109.2 556.8h.8M107.0 557.3h.8M111.0 560.1h.8M105.8 559.4h.8M113.9 559.2h.8M97.0 560.4h.8M106.2 556.0h.8M109.6 555.6h.8M127.2 559.5h.8M113.9 563.3h.8M112.5 564.5h.8M99.5 565.8h.8M102.3 556.7h.8M101.5 561.7h.8M109.0 557.8h.8M125.5 561.8h.8M117.0 558.5h.8M116.6 560.6h.8M109.7 554.8h.8M121.3 553.5h.8M105.9 558.1h.8M109.4 556.1h.8M119.1 560.5h.8M99.2 565.5h.8M102.8 556.8h.8M107.2 563.3h.8M120.9 561.1h.8M103.3 557.0h.8M118.1 565.4h.8M106.6 563.4h.8M102.8 560.1h.8M109.6 563.7h.8M112.1 562.3h.8M106.9 560.9h.8M109.8 561.5h.8M104.0 553.5h.8M116.1 554.0h.8M117.0 560.6h.8M95.1 564.2h.8M109.5 559.1h.8M117.6 565.9h.8M101.4 557.9h.8M98.9 557.6h.8M112.0 562.1h.8M109.9 561.1h.8M107.0 559.2h.8M110.0 562.6h.8M106.9 559.7h.8M112.1 556.5h.8M104.2 563.9h.8M105.4 554.8h.8M113.7 561.9h.8M119.7 564.5h.8M114.4 559.8h.8M102.5 559.6h.8M111.5 553.9h.8M107.8 563.0h.8M109.6 564.1h.8M103.4 558.0h.8M115.0 566.6h.8M108.3 551.2h.8M109.2 558.4h.8M114.1 564.3h.8M113.8 565.7h.8M104.6 558.1h.8M104.1 557.0h.8M101.0 558.0h.8M106.8 552.3h.8M114.2 559.6h.8M117.2 565.1h.8M108.1 558.0h.8M105.5 561.3h.8M89.9 553.0h.8M103.8 565.4h.8M114.9 563.0h.8M104.5 559.7h.8M98.5 557.9h.8M107.9 565.9h.8M111.8 554.1h.8M114.8 561.0h.8M109.9 558.2h.8M108.3 566.7h.8M112.3 561.7h.8M118.4 563.7h.8M101.9 556.5h.8M96.7 564.8h.8M110.4 565.5h.8M114.9 560.0h.8M101.4 557.8h.8M98.5 561.3h.8M95.1 556.9h.8M94.0 552.4h.8M110.2 560.7h.8M106.6 560.0h.8M106.0 562.5h.8M112.3 556.5h.8M108.8 559.1h.8M118.5 563.2h.8M113.5 558.9h.8M112.6 562.4h.8M107.5 562.1h.8M111.1 562.4h.8M108.4 559.6h.8M97.0 562.5h.8M103.3 562.4h.8M111.7 561.9h.8M110.8 560.0h.8M101.6 556.6h.8M108.1 561.2h.8M105.0 557.6h.8M101.3 566.4h.8M116.0 563.0h.8M116.5 561.8h.8M107.8 558.2h.8M113.2 562.3h.8M105.6 562.8h.8M117.0 568.7h.8M107.9 568.0h.8M108.0 557.8h.8M117.1 566.4h.8M112.3 562.1h.8M115.4 565.3h.8M107.2 557.1h.8M95.4 552.1h.8M110.7 556.7h.8M109.4 559.2h.8M106.2 559.7h.8M117.1 558.5h.8M106.9 562.0h.8M93.2 562.9h.8M106.8 560.1h.8M100.7 549.6h.8M107.2 550.9h.8M111.9 563.5h.8M103.0 554.5h.8M105.1 559.7h.8M112.0 564.5h.8M117.6 553.0h.8M109.7 562.1h.8M111.1 564.7h.8M97.7 557.2h.8M112.6 564.5h.8M111.5 559.1h.8M110.0 558.2h.8M104.2 560.4h.8M101.9 565.5h.8M101.2 559.2h.8M103.6 560.8h.8M107.3 555.8h.8M104.1 559.5h.8M101.2 562.2h.8M112.8 563.3h.8M111.7 564.9h.8M91.5 550.8h.8M111.5 553.5h.8M102.4 557.6h.8M105.2 559.0h.8M112.4 562.1h.8M112.0 564.0h.8M107.9 551.0h.8M110.2 557.6h.8M106.7 560.5h.8M116.1 566.6h.8M106.8 560.7h.8M104.9 559.8h.8M107.8 560.3h.8M107.3 565.0h.8M111.9 562.1h.8M108.2 560.0h.8M100.0 557.3h.8M103.7 559.8h.8M111.6 565.7h.8M104.3 555.0h.8M110.9 560.5h.8M104.7 557.2h.8M113.0 564.2h.8M110.3 562.8h.8M108.2 560.8h.8M104.0 560.6h.8M116.5 561.4h.8M117.6 559.2h.8M112.0 563.0h.8M109.8 558.5h.8M105.8 558.8h.8M111.7 557.9h.8M114.4 561.2h.8M104.0 554.6h.8M101.4 550.0h.8M109.3 554.3h.8M107.0 554.8h.8M120.9 556.1h.8M118.7 557.0h.8M94.1 561.0h.8M108.7 557.5h.8M103.2 552.8h.8M109.4 559.1h.8M108.9 560.7h.8M106.7 551.5h.8M109.3 557.5h.8M115.8 561.5h.8M109.9 558.2h.8M116.6 564.0h.8M111.8 562.0h.8M105.7 550.3h.8M96.3 557.0h.8M98.2 558.8h.8M102.2 554.7h.8M107.6 560.6h.8M112.8 555.7h.8M114.5 558.5h.8M109.1 554.3h.8M117.7 567.0h.8M110.1 562.3h.8M106.0 570.6h.8M92.8 559.9h.8M103.8 551.1h.8M114.0 560.2h.8M104.0 558.4h.8M108.6 556.1h.8M107.3 566.4h.8M112.1 558.5h.8M108.8 561.9h.8M109.0 562.6h.8M105.7 556.9h.8M111.2 557.0h.8M123.7 564.3h.8M101.7 557.8h.8M106.7 553.4h.8M110.6 558.5h.8M113.8 555.1h.8M103.8 550.7h.8M102.2 557.7h.8M108.6 549.6h.8M98.1 564.8h.8M96.9 562.3h.8M107.7 566.0h.8M109.8 558.5h.8M106.8 560.9h.8M90.0 559.7h.8M113.8 559.3h.8M118.2 558.1h.8M105.7 560.7h.8M112.4 554.5h.8M103.1 562.3h.8M99.6 557.8h.8M113.3 558.4h.8M113.4 561.3h.8M113.0 562.3h.8M98.0 555.3h.8M109.5 559.6h.8M105.6 554.5h.8M97.9 566.4h.8M112.4 557.4h.8M114.0 562.2h.8M94.8 557.8h.8M110.8 564.1h.8M100.0 555.2h.8M106.5 563.0h.8M101.8 551.9h.8M105.3 564.9h.8M96.2 561.9h.8M110.3 564.1h.8M108.3 554.7h.8M112.2 562.6h.8M105.0 558.0h.8M106.2 558.0h.8M107.2 562.3h.8M110.3 558.1h.8M98.1 556.7h.8M110.7 555.4h.8M99.8 557.6h.8M105.6 563.2h.8M114.4 559.5h.8M112.1 564.7h.8M113.0 558.9h.8M109.7 561.6h.8M104.7 564.1h.8M110.4 557.1h.8M107.7 562.1h.8M101.5 558.1h.8M112.2 561.5h.8M114.9 558.3h.8M102.7 561.0h.8M103.5 564.0h.8M115.3 563.5h.8M114.7 565.4h.8M108.7 563.5h.8M118.9 565.9h.8M92.8 557.7h.8M106.2 557.2h.8M106.4 555.8h.8M103.6 561.3h.8M107.5 561.7h.8M104.3 558.4h.8M108.8 562.1h.8M112.4 551.7h.8M101.7 564.2h.8M111.5 559.5h.8M112.2 562.5h.8M107.7 557.2h.8M112.9 563.5h.8M111.7 555.4h.8M105.9 561.9h.8M104.3 559.5h.8M107.6 558.5h.8M106.1 558.1h.8M102.2 553.9h.8M110.7 555.4h.8M105.2 563.4h.8M112.2 554.7h.8M105.2 563.1h.8M113.1 559.3h.8M105.9 557.2h.8M106.7 566.2h.8M103.9 565.2h.8M95.5 557.7h.8M115.3 561.2h.8M113.2 563.9h.8M115.3 560.3h.8M103.5 561.7h.8M109.3 554.8h.8M99.1 554.5h.8M107.8 558.9h.8M98.0 562.5h.8M96.9 558.8h.8M99.5 561.6h.8M113.2 564.0h.8M105.6 557.7h.8M101.2 564.6h.8M102.6 559.3h.8M97.2 553.6h.8M103.6 556.7h.8M113.4 560.7h.8M115.9 559.0h.8M112.7 562.9h.8M109.2 560.4h.8M103.4 554.8h.8M110.2 552.8h.8M101.8 557.3h.8M107.3 559.9h.8M109.9 567.3h.8M109.2 558.3h.8M120.7 562.0h.8M108.2 553.9h.8M109.7 560.9h.8M104.8 558.2h.8M113.6 555.9h.8M109.7 566.6h.8M112.4 560.2h.8M104.8 563.0h.8M108.4 561.0h.8M111.8 562.8h.8M116.7 559.5h.8M111.8 559.9h.8M105.2 560.7h.8M95.1 557.6h.8M111.9 556.0h.8M107.1 556.9h.8M106.7 555.2h.8M99.2 560.5h.8M108.7 565.7h.8M97.8 559.3h.8M102.9 560.0h.8M114.9 556.9h.8M103.1 557.4h.8M101.8 562.4h.8M114.2 563.4h.8M111.1 558.8h.8M110.6 565.4h.8M95.9 552.3h.8M115.1 561.3h.8M110.9 572.1h.8M104.4 559.5h.8M111.8 558.9h.8M96.9 555.4h.8M101.1 555.6h.8M98.2 558.9h.8M106.5 562.1h.8M109.2 559.4h.8M114.9 558.6h.8M106.4 562.8h.8M105.5 567.4h.8M118.5 560.2h.8M114.0 561.0h.8M117.6 569.8h.8M96.0 565.4h.8M104.6 560.1h.8M109.2 567.2h.8M108.6 567.5h.8M98.2 563.4h.8M83.5 557.0h.8M126.6 565.9h.8M103.5 552.7h.8M101.3 557.8h.8M115.6 561.0h.8M108.4 555.5h.8M92.0 564.4h.8M106.0 560.1h.8M111.3 562.0h.8M111.8 566.0h.8M109.9 559.7h.8M107.7 576.2h.8M109.0 554.6h.8M116.8 554.4h.8M96.1 554.4h.8M110.5 564.9h.8M93.7 554.7h.8M100.0 552.1h.8M107.6 564.4h.8M100.0 562.9h.8M120.0 557.8h.8M107.3 548.1h.8M120.1 558.4h.8M105.9 561.1h.8M111.9 560.7h.8M117.9 561.8h.8M112.7 555.5h.8M97.5 565.5h.8M121.3 577.7h.8M101.8 561.5h.8M108.4 563.4h.8M114.8 563.9h.8M110.1 554.8h.8M110.7 558.2h.8M120.1 564.0h.8M95.3 550.3h.8M130.8 557.9h.8M96.3 558.2h.8M104.4 557.7h.8M102.7 561.2h.8M105.8 559.1h.8M96.8 560.6h.8M115.5 551.1h.8M90.3 554.4h.8M122.6 567.0h.8M121.4 559.3h.8M99.0 563.0h.8M117.8 555.6h.8M136.7 567.4h.8M109.1 565.9h.8M108.8 559.6h.8M126.8 567.8h.8M116.3 562.7h.8M106.9 559.1h.8M115.9 576.9h.8M102.6 560.7h.8M118.3 549.3h.8M112.6 556.5h.8M113.7 565.7h.8M123.6 563.1h.8M122.4 561.6h.8M112.5 563.0h.8M110.7 551.1h.8M110.5 556.5h.8M109.1 563.6h.8M118.8 565.2h.8M123.2 556.2h.8M111.0 563.0h.8M111.2 562.4h.8M108.1 557.3h.8M97.0 556.4h.8M120.1 558.0h.8M111.0 557.5h.8M100.0 560.8h.8M107.0 566.4h.8M104.2 563.3h.8M101.1 564.9h.8M104.1 561.7h.8M114.4 560.2h.8M103.6 559.0h.8M119.8 563.9h.8M121.7 561.4h.8M107.1 564.8h.8M107.0 563.3h.8M108.6 556.4h.8M110.8 566.0h.8M109.7 559.2h.8M101.0 565.5h.8M95.9 569.6h.8M118.1 563.6h.8M111.6 558.0h.8M112.1 552.0h.8M106.5 562.0h.8M116.1 554.5h.8M112.4 562.2h.8M122.3 558.6h.8M97.2 557.9h.8M105.8 560.6h.8M109.6 561.0h.8M115.9 553.5h.8M110.4 561.3h.8M115.0 556.7h.8M108.1 560.6h.8M108.7 555.5h.8M116.3 558.9h.8M119.6 554.4h.8M98.6 558.3h.8M111.3 564.0h.8M90.2 561.2h.8M114.9 566.3h.8M92.9 560.9h.8M106.5 553.1h.8M98.4 562.7h.8M100.0 560.2h.8M117.0 570.6h.8M101.3 562.5h.8M121.8 559.4h.8M120.7 547.8h.8M124.4 560.1h.8M114.6 556.0h.8M84.8 549.2h.8M87.7 551.6h.8M111.4 563.8h.8M116.3 559.4h.8M98.0 559.9h.8M112.6 561.7h.8M105.8 564.4h.8M99.1 557.0h.8M107.1 551.9h.8M97.0 549.8h.8M108.8 563.6h.8M85.7 570.2h.8M111.9 566.8h.8M100.3 563.2h.8M104.3 564.0h.8M92.7 554.1h.8M106.6 558.3h.8M113.6 560.0h.8M99.8 559.4h.8M99.1 556.9h.8M118.9 570.6h.8M106.6 557.4h.8M115.5 565.2h.8M89.2 555.7h.8M111.5 559.7h.8M110.7 552.4h.8M99.7 554.4h.8M116.1 563.2h.8M111.3 561.6h.8M116.8 568.9h.8M110.5 563.5h.8M101.8 552.8h.8M114.0 566.8h.8M109.8 555.2h.8M110.0 557.1h.8M110.1 554.1h.8M112.5 561.6h.8M100.8 561.3h.8M108.8 560.5h.8M109.2 565.8h.8M114.2 556.9h.8M130.5 576.8h.8M118.6 554.9h.8M95.5 563.4h.8M96.3 556.2h.8M105.7 560.2h.8M109.0 556.2h.8M120.5 565.5h.8M110.1 560.5h.8M111.0 554.7h.8M105.5 562.9h.8M98.7 564.5h.8M110.6 559.0h.8M113.4 567.9h.8M115.4 563.7h.8M104.7 563.3h.8M107.5 559.0h.8M124.4 566.5h.8M80.3 556.4h.8M111.7 566.4h.8M109.8 566.7h.8M100.5 556.5h.8M113.0 557.2h.8M105.9 561.5h.8M116.7 564.6h.8M109.1 560.4h.8M102.8 562.5h.8M116.3 561.0h.8M113.2 560.6h.8M113.0 562.0h.8M105.9 562.7h.8M104.7 558.0h.8M101.6 554.3h.8M113.5 559.9h.8M95.9 552.7h.8M102.0 563.2h.8M115.2 557.3h.8M112.5 562.3h.8M100.8 570.5h.8M103.0 553.5h.8M126.5 557.7h.8M114.1 558.6h.8M117.7 556.1h.8M84.1 556.5h.8M102.9 566.0h.8M98.6 551.8h.8M117.9 567.8h.8M117.4 557.4h.8M90.4 557.8h.8M110.2 561.6h.8M106.3 564.9h.8M121.8 553.6h.8M118.8 566.3h.8M100.1 556.6h.8M97.8 558.4h.8M118.0 562.4h.8M110.7 566.3h.8M127.7 570.4h.8M103.2 554.8h.8M117.4 564.6h.8M90.5 557.8h.8M123.1 557.9h.8M94.8 559.8h.8M114.8 567.9h.8M99.5 555.7h.8M107.9 555.4h.8M111.3 553.1h.8M113.3 564.4h.8M95.2 558.3h.8M109.7 555.9h.8M113.2 567.9h.8M102.1 565.8h.8M101.0 562.5h.8M111.4 562.1h.8M103.6 567.8h.8M116.2 556.5h.8M103.9 552.8h.8M121.4 556.7h.8M100.4 554.1h.8M108.2 555.1h.8M93.8 566.1h.8M104.2 560.5h.8M103.2 563.2h.8M90.5 567.2h.8M101.1 564.4h.8M115.2 556.9h.8M100.0 554.0h.8M102.2 563.2h.8M117.3 564.9h.8M100.0 560.3h.8M104.5 554.9h.8M113.8 565.9h.8M106.7 557.5h.8M99.3 557.1h.8M107.4 558.1h.8M110.7 558.9h.8M111.1 555.8h.8M128.3 569.9h.8M122.4 565.4h.8M109.0 552.1h.8M120.1 564.8h.8M105.2 564.9h.8M106.8 562.7h.8M121.3 561.1h.8M97.0 550.6h.8M120.3 572.7h.8M106.1 555.8h.8M91.0 556.1h.8M103.3 560.2h.8M112.7 563.7h.8M123.4 555.2h.8" stroke="#d82030" stroke-width=".8" stroke-opacity=".72"/>
<path d="M105.3 531.3h.8M92.9 518.7h.8M107.2 540.0h.8M114.7 526.5h.8M108.0 529.6h.8M94.4 526.5h.8M99.3 525.8h.8M111.6 534.6h.8M108.1 528.6h.8M102.0 533.5h.8M108.1 531.9h.8M113.1 535.1h.8M107.5 538.1h.8M100.5 525.9h.8M100.5 522.6h.8M106.9 527.6h.8M107.0 535.9h.8M119.7 529.5h.8M111.8 530.4h.8M110.9 531.1h.8M108.5 520.1h.8M103.3 534.2h.8M104.9 523.0h.8M107.7 534.1h.8M94.4 536.0h.8M107.9 534.7h.8M100.9 529.6h.8M105.2 530.7h.8M106.2 535.5h.8M107.6 529.2h.8M97.0 532.8h.8M103.3 530.7h.8M110.6 527.4h.8M94.6 530.4h.8M107.1 532.1h.8M109.4 529.4h.8M100.0 521.7h.8M103.3 534.2h.8M108.0 529.9h.8M113.7 530.3h.8M103.2 527.0h.8M105.4 522.7h.8M101.8 524.8h.8M107.5 525.7h.8M103.7 532.1h.8M98.5 527.3h.8M110.6 533.0h.8M112.3 527.7h.8M111.2 536.5h.8M106.6 524.9h.8M112.7 520.3h.8M101.8 529.4h.8M110.0 537.7h.8M108.3 525.1h.8M104.8 532.0h.8M105.9 525.8h.8M102.3 526.5h.8M104.5 531.2h.8M106.1 529.4h.8M98.8 532.3h.8M108.5 543.8h.8M102.4 529.3h.8M113.5 526.8h.8M105.4 527.6h.8M113.9 528.2h.8M109.5 540.1h.8M103.2 539.0h.8M105.4 539.4h.8M108.4 527.2h.8M97.0 525.2h.8M118.0 534.3h.8M103.6 528.6h.8M108.6 526.6h.8M83.9 518.0h.8M99.9 524.9h.8M110.7 531.5h.8M104.3 526.2h.8M111.8 524.2h.8M97.4 526.7h.8M91.8 532.5h.8M102.2 531.5h.8M103.8 544.9h.8M104.9 531.9h.8M96.6 534.9h.8M96.3 531.1h.8M89.1 522.3h.8M104.9 534.4h.8M117.9 530.3h.8M120.8 530.7h.8M113.3 529.2h.8M112.8 531.7h.8M104.2 534.1h.8M110.8 535.5h.8M97.0 540.0h.8M97.7 530.6h.8M120.8 529.1h.8M103.2 523.5h.8M108.7 530.1h.8M107.8 527.6h.8M107.0 527.5h.8M97.0 530.9h.8M111.5 527.9h.8M101.3 527.1h.8M105.8 525.2h.8M105.4 518.9h.8M112.2 530.0h.8M98.4 525.4h.8M111.2 532.6h.8M106.2 523.1h.8M113.0 537.0h.8M100.9 542.2h.8M96.2 530.5h.8M104.9 523.8h.8M107.3 531.1h.8M97.1 528.5h.8M102.5 528.6h.8M103.5 538.7h.8M108.5 534.4h.8M108.6 527.1h.8M117.8 546.6h.8M107.3 540.1h.8M106.6 534.0h.8M105.5 533.1h.8M105.9 525.0h.8M106.2 524.3h.8M103.0 536.4h.8M103.6 518.8h.8M120.6 529.1h.8M109.5 530.4h.8M90.8 540.2h.8M113.9 540.6h.8M107.6 534.3h.8M101.7 527.4h.8M107.6 542.7h.8M87.4 524.9h.8M106.0 524.1h.8M97.6 522.9h.8M115.8 536.4h.8M107.1 531.8h.8M107.8 529.5h.8M101.4 518.9h.8M105.6 529.3h.8M113.3 525.7h.8M102.8 531.2h.8M102.9 525.8h.8M97.2 524.2h.8M96.1 523.3h.8M105.8 541.4h.8M93.8 524.1h.8M99.3 537.3h.8M107.8 528.4h.8M99.4 524.1h.8M99.0 533.4h.8M100.7 521.7h.8M109.7 539.3h.8M105.8 539.4h.8M118.3 522.9h.8M107.2 542.0h.8M92.2 522.2h.8M106.1 534.2h.8M102.7 523.8h.8M106.6 526.8h.8M103.7 535.2h.8M105.1 524.2h.8M113.9 534.5h.8M104.8 526.9h.8M106.3 534.1h.8M94.9 537.0h.8M110.6 528.0h.8M97.9 531.9h.8M97.0 520.4h.8M109.4 543.6h.8M102.5 542.7h.8M110.1 521.6h.8M110.6 534.1h.8M110.0 524.6h.8M104.9 525.0h.8M98.9 521.2h.8M105.3 537.5h.8M99.1 535.0h.8M98.4 531.8h.8M96.8 520.2h.8M107.9 531.4h.8M94.7 536.7h.8M106.2 526.5h.8M106.5 527.3h.8M109.3 539.8h.8M100.0 532.7h.8M96.5 524.4h.8M112.6 533.9h.8M109.8 540.7h.8M107.8 544.7h.8M104.9 535.8h.8M104.7 537.8h.8M111.7 532.9h.8M100.9 536.1h.8M109.3 541.1h.8M113.8 534.7h.8M103.9 533.7h.8M107.1 525.2h.8M106.1 549.7h.8M110.9 525.5h.8M117.5 553.6h.8M98.9 542.7h.8M103.1 521.8h.8M101.3 530.7h.8M105.3 529.5h.8M102.8 538.9h.8M97.6 526.6h.8M101.7 534.0h.8M102.0 531.0h.8M102.5 525.7h.8M102.0 540.2h.8M102.0 533.4h.8M97.5 550.7h.8M109.4 542.3h.8M112.0 537.4h.8M98.5 531.1h.8M96.8 539.8h.8M122.4 534.0h.8M107.6 534.7h.8M105.6 534.6h.8M104.5 523.8h.8M112.9 530.3h.8M107.1 535.3h.8M98.9 538.6h.8M99.7 534.9h.8M110.9 520.7h.8M103.4 529.2h.8M100.9 519.5h.8M108.0 561.7h.8M107.6 536.1h.8M109.6 531.0h.8M94.7 531.2h.8M100.2 533.4h.8M107.6 531.8h.8M108.1 534.8h.8M102.2 531.0h.8M107.8 527.9h.8M104.7 533.4h.8M95.7 548.6h.8M106.4 540.2h.8M103.2 525.7h.8M105.8 524.9h.8M113.4 527.8h.8M100.3 540.4h.8M104.3 540.1h.8M101.3 519.9h.8M105.9 556.0h.8M112.9 529.6h.8M86.4 561.8h.8M84.3 562.8h.8M77.3 563.1h.8M85.6 560.3h.8M92.7 547.3h.8M84.1 549.2h.8M87.5 553.6h.8M93.6 563.6h.8M76.0 554.7h.8M90.9 567.5h.8M91.6 565.8h.8M82.5 557.7h.8M83.8 553.1h.8M85.6 558.2h.8M90.5 556.0h.8M83.6 561.4h.8M85.9 552.9h.8M88.7 564.1h.8M91.4 548.3h.8M90.1 565.1h.8M80.2 549.1h.8M85.7 554.5h.8M89.5 550.9h.8M78.4 549.9h.8M88.8 569.2h.8M86.9 560.4h.8M81.6 550.3h.8M85.0 555.6h.8M70.6 569.1h.8M83.3 551.4h.8M96.4 562.2h.8M97.2 556.8h.8M89.3 563.3h.8M74.6 559.5h.8M76.7 564.3h.8M82.5 567.3h.8M91.9 555.7h.8M78.3 555.2h.8M86.6 567.7h.8M89.3 571.6h.8" stroke="#cc3040" stroke-width=".8" stroke-opacity=".6"/>
<path d="M144.2 552.4h.7M75.8 545.4h.7M145.5 511.3h.7M148.4 523.9h.7M90.0 511.1h.7M117.0 548.9h.7M160.2 523.3h.7M141.0 510.1h.7M98.2 557.7h.7M114.0 498.5h.7M115.7 502.8h.7M74.2 531.7h.7M151.8 536.2h.7M120.1 509.0h.7M79.9 527.2h.7M127.7 527.6h.7M160.7 537.5h.7M98.4 556.6h.7M71.3 509.6h.7M94.8 518.3h.7M117.2 547.7h.7M137.0 518.1h.7M129.2 565.1h.7M104.5 553.9h.7M130.9 565.4h.7M131.6 552.7h.7M121.8 553.3h.7M82.0 534.0h.7M139.6 561.7h.7M99.1 504.7h.7M159.8 562.8h.7M78.4 501.0h.7M129.8 542.7h.7M152.0 568.8h.7M82.7 515.1h.7M117.6 567.2h.7M119.5 553.7h.7M154.3 522.2h.7M97.9 554.0h.7M92.5 534.3h.7" stroke="#e08080" stroke-width=".7" stroke-opacity=".45"/>
</g>
<rect x="69.6" y="495.8" width="94.20000000000002" height="79.09999999999997" fill="none" stroke="#6a6a6a" stroke-width="0.9"/>
<line x1="94.2" y1="495.8" x2="94.2" y2="574.9" stroke="#5a5a5a" stroke-width="0.8"/>
<line x1="69.6" y1="549.8" x2="163.8" y2="549.8" stroke="#5a5a5a" stroke-width="0.8"/>
<path d="M69.6 572.9h-2.6M69.6 568.0h-1.5M69.6 565.1h-1.5M69.6 563.1h-1.5M69.6 561.5h-1.5M69.6 560.2h-1.5M69.6 559.1h-1.5M69.6 558.2h-1.5M69.6 557.3h-1.5M69.6 556.6h-2.6M69.6 551.7h-1.5M69.6 548.8h-1.5M69.6 546.7h-1.5M69.6 545.2h-1.5M69.6 543.9h-1.5M69.6 542.8h-1.5M69.6 541.8h-1.5M69.6 541.0h-1.5M69.6 540.2h-2.6M69.6 535.3h-1.5M69.6 532.5h-1.5M69.6 530.4h-1.5M69.6 528.8h-1.5M69.6 527.5h-1.5M69.6 526.5h-1.5M69.6 525.5h-1.5M69.6 524.7h-1.5M69.6 523.9h-2.6M69.6 519.0h-1.5M69.6 516.1h-1.5M69.6 514.1h-1.5M69.6 512.5h-1.5M69.6 511.2h-1.5M69.6 510.1h-1.5M69.6 509.2h-1.5M69.6 508.3h-1.5M69.6 507.6h-2.6M69.6 502.7h-1.5M69.6 499.8h-1.5M71.6 574.9v2.6M77.5 574.9v1.5M81.0 574.9v1.5M83.4 574.9v1.5M85.3 574.9v1.5M86.9 574.9v1.5M88.2 574.9v1.5M89.3 574.9v1.5M90.3 574.9v1.5M91.2 574.9v2.6M97.1 574.9v1.5M100.6 574.9v1.5M103.0 574.9v1.5M104.9 574.9v1.5M106.5 574.9v1.5M107.8 574.9v1.5M108.9 574.9v1.5M109.9 574.9v1.5M110.8 574.9v2.6M116.7 574.9v1.5M120.2 574.9v1.5M122.6 574.9v1.5M124.5 574.9v1.5M126.1 574.9v1.5M127.4 574.9v1.5M128.5 574.9v1.5M129.5 574.9v1.5M130.4 574.9v2.6M136.3 574.9v1.5M139.8 574.9v1.5M142.2 574.9v1.5M144.1 574.9v1.5M145.7 574.9v1.5M147.0 574.9v1.5M148.1 574.9v1.5M149.1 574.9v1.5M150.0 574.9v2.6M155.9 574.9v1.5M159.4 574.9v1.5" stroke="#3a3a3a" stroke-width=".65"/>
<text x="72.69999999999999" y="503.8" font-size="8.2" font-weight="bold" text-anchor="start" fill="#000">0.6</text>
<text x="162.0" y="503.8" font-size="8.2" font-weight="bold" text-anchor="end" fill="#000">7.3</text>
<text x="73.6" y="571.5" font-size="8.2" font-weight="bold" text-anchor="start" fill="#000">1.9</text>
<text x="159.4" y="571.5" font-size="8.2" font-weight="bold" text-anchor="end" fill="#000">90.2</text>
<defs><clipPath id="s31"><rect x="170.2" y="495.8" width="92.90000000000003" height="78.80000000000001"/></clipPath></defs>
<g clip-path="url(#s31)">
<ellipse cx="209.3" cy="560.2" rx="10" ry="6.5" fill="url(#rg)" opacity="0.9"/>
<ellipse cx="209.3" cy="560.2" rx="5.5" ry="3.6" fill="url(#rg)" opacity="0.7"/>
<path d="M207.9 560.6h.8M211.4 558.1h.8M212.0 561.2h.8M212.0 561.3h.8M213.4 558.5h.8M215.5 564.0h.8M207.2 561.5h.8M210.9 556.1h.8M211.4 559.1h.8M208.4 558.6h.8M207.8 560.2h.8M209.6 556.4h.8M208.4 556.8h.8M204.9 558.7h.8M212.3 562.2h.8M207.2 558.2h.8M206.4 560.1h.8M212.6 560.7h.8M211.7 561.3h.8M214.6 556.0h.8M201.8 558.6h.8M211.5 559.5h.8M210.8 557.5h.8M204.9 557.8h.8M212.2 562.3h.8M206.8 560.3h.8M207.0 559.9h.8M205.4 559.5h.8M206.7 559.7h.8M207.0 557.9h.8M209.7 559.4h.8M209.4 559.2h.8M211.4 558.5h.8M212.0 563.8h.8M208.4 564.3h.8M216.4 562.3h.8M204.5 555.6h.8M208.7 564.5h.8M211.3 562.3h.8M208.4 558.3h.8M210.6 557.7h.8M208.6 561.4h.8M209.4 561.5h.8M207.7 561.4h.8M210.7 556.4h.8M205.7 557.9h.8M211.6 561.3h.8M210.3 560.8h.8M211.5 562.8h.8M207.4 556.0h.8M211.6 560.0h.8M209.5 559.8h.8M205.4 555.9h.8M212.7 563.4h.8M212.6 561.2h.8M210.2 559.3h.8M209.5 559.2h.8M207.4 560.4h.8M215.2 556.4h.8M211.4 562.2h.8M205.0 560.4h.8M209.7 559.1h.8M207.6 556.5h.8M215.3 566.8h.8M214.9 560.3h.8M210.3 561.3h.8M206.5 559.2h.8M211.2 559.4h.8M203.1 556.2h.8M210.2 559.5h.8M208.3 563.4h.8M209.6 558.5h.8M209.1 565.5h.8M205.4 564.0h.8M214.3 560.5h.8M208.1 563.5h.8M210.2 559.0h.8M215.7 561.5h.8M210.5 560.5h.8M208.2 560.4h.8M208.0 561.3h.8M213.0 563.4h.8M213.5 564.5h.8M212.0 559.1h.8M212.7 556.6h.8M206.8 560.6h.8M203.4 563.0h.8M205.7 556.0h.8M206.6 557.9h.8M209.2 559.8h.8M212.9 560.3h.8M209.9 557.9h.8M211.0 558.6h.8M202.5 562.4h.8M205.6 557.0h.8M206.2 561.4h.8M204.0 558.5h.8M211.3 565.1h.8M208.3 560.2h.8M206.3 564.6h.8M208.8 560.0h.8M209.8 558.0h.8M209.3 557.1h.8M214.5 560.6h.8M208.7 563.0h.8M205.0 563.0h.8M214.6 559.1h.8M211.7 560.3h.8M212.4 560.7h.8M206.1 561.3h.8M208.5 560.5h.8M212.7 563.7h.8M211.5 557.0h.8M211.7 559.8h.8M213.1 560.3h.8M214.3 562.2h.8M209.3 560.9h.8M203.1 560.7h.8M209.7 557.6h.8M210.7 561.2h.8M210.6 560.1h.8M212.1 562.6h.8M209.6 560.1h.8M207.7 558.5h.8M211.4 559.2h.8M204.4 560.1h.8M213.2 560.1h.8M212.3 561.8h.8M205.8 560.5h.8M208.9 561.8h.8M199.6 560.8h.8M211.9 558.3h.8M213.0 560.4h.8M209.9 562.4h.8M214.0 561.3h.8M211.7 561.6h.8M206.8 563.9h.8M212.0 561.0h.8M213.1 562.1h.8M207.4 562.4h.8M209.6 561.8h.8M212.7 563.1h.8M215.9 561.7h.8M208.8 558.4h.8M207.2 561.6h.8M210.9 558.4h.8M207.3 558.9h.8M214.9 558.8h.8M210.7 556.5h.8M208.6 563.6h.8M205.1 562.5h.8M202.8 559.5h.8M205.6 559.7h.8M208.6 562.2h.8M210.4 560.9h.8M207.5 561.1h.8M206.6 558.3h.8M207.2 561.4h.8M217.3 561.3h.8M216.2 558.8h.8M207.3 561.3h.8M211.6 562.5h.8M215.0 560.6h.8M213.2 561.5h.8M199.6 556.5h.8M207.6 560.3h.8M211.3 559.9h.8M214.0 558.6h.8M209.4 562.6h.8M205.5 562.8h.8M212.8 560.4h.8M209.5 560.1h.8M209.5 563.4h.8M211.3 557.2h.8M204.1 561.0h.8M200.3 555.2h.8M207.3 560.0h.8M214.2 561.4h.8M221.7 562.6h.8M212.4 563.2h.8M209.0 562.6h.8M211.5 561.2h.8M207.2 558.9h.8M212.2 560.6h.8M210.8 561.5h.8M210.4 560.5h.8M211.5 562.6h.8M214.2 562.2h.8M207.4 558.4h.8M211.6 556.9h.8M207.6 562.6h.8M208.3 558.5h.8M213.7 554.4h.8M209.1 559.1h.8M207.7 562.3h.8M214.6 563.8h.8M211.6 561.4h.8M208.6 560.2h.8M203.8 558.2h.8M211.5 560.3h.8M212.3 556.9h.8M207.5 557.6h.8M213.1 560.2h.8M208.4 557.2h.8M207.7 557.6h.8M207.4 565.3h.8M205.4 559.1h.8M206.3 563.0h.8M206.0 557.7h.8M210.7 564.5h.8M210.2 559.0h.8M200.5 550.2h.8M209.1 560.3h.8M213.5 562.0h.8M208.5 563.3h.8M215.4 559.5h.8M212.6 563.6h.8M206.7 561.3h.8M209.3 563.1h.8M213.2 555.6h.8M208.6 563.5h.8M211.1 558.0h.8M207.7 557.4h.8M210.5 557.2h.8M213.6 562.9h.8M215.2 563.7h.8M212.9 563.0h.8M211.4 555.8h.8M211.3 558.6h.8M201.0 563.0h.8M209.4 556.3h.8M210.5 561.5h.8M210.1 564.0h.8M205.5 561.9h.8M206.0 561.0h.8M211.7 559.4h.8M218.2 557.1h.8M204.2 558.4h.8M206.3 562.6h.8M207.4 563.3h.8M207.9 562.0h.8M212.2 561.0h.8M211.9 561.5h.8M216.8 567.2h.8M208.2 561.3h.8M213.5 562.3h.8M216.3 567.8h.8M202.5 558.0h.8M214.1 562.3h.8M206.9 559.4h.8M209.9 564.4h.8M206.1 560.4h.8M214.6 563.6h.8M209.0 559.6h.8M203.2 555.2h.8M206.3 561.9h.8M212.3 563.9h.8M212.6 562.6h.8M210.0 558.4h.8M213.7 560.0h.8M203.1 560.5h.8M209.7 566.3h.8M208.5 561.0h.8M205.4 561.4h.8M210.3 558.4h.8M210.2 557.2h.8M211.4 559.4h.8M210.6 558.2h.8M206.6 559.4h.8M212.3 561.0h.8M201.0 560.7h.8M208.9 561.7h.8M213.4 562.8h.8M206.8 559.0h.8M211.1 563.0h.8M206.6 558.3h.8M205.8 560.7h.8M206.8 565.6h.8M212.2 563.5h.8M211.5 559.1h.8M200.4 562.5h.8M210.4 555.7h.8M219.3 563.5h.8M215.0 560.4h.8M203.1 557.4h.8M212.1 555.4h.8M207.5 562.8h.8M213.1 561.0h.8M200.3 558.3h.8M213.9 563.0h.8M207.9 561.0h.8M211.4 559.5h.8M206.7 558.1h.8M206.4 559.6h.8M209.2 561.6h.8M211.4 560.2h.8M201.8 560.5h.8M206.2 564.1h.8M208.3 565.6h.8M211.6 564.7h.8M210.1 561.6h.8M207.9 558.9h.8M207.7 561.9h.8M205.4 562.2h.8M208.4 561.7h.8M205.9 559.9h.8M203.4 557.8h.8M208.6 557.6h.8M208.5 560.4h.8M209.8 555.3h.8M208.2 559.5h.8M206.3 557.4h.8M216.0 563.2h.8M212.8 563.6h.8M206.0 559.1h.8M203.1 559.8h.8M202.6 557.5h.8M211.9 561.9h.8M205.9 557.5h.8M213.9 561.9h.8M207.5 560.3h.8M209.7 557.6h.8M207.4 554.8h.8M210.1 560.5h.8M212.9 563.2h.8M207.7 563.9h.8M206.7 562.1h.8M207.5 558.4h.8M204.9 559.4h.8M217.2 561.7h.8M211.0 559.6h.8M211.1 562.0h.8M211.0 563.8h.8M209.2 561.2h.8M214.7 562.5h.8M206.7 563.0h.8M211.6 558.6h.8M206.6 558.9h.8M212.2 561.5h.8M212.8 566.8h.8M215.4 561.4h.8M207.0 563.3h.8M206.9 558.0h.8M208.9 560.9h.8M208.5 560.8h.8M199.9 558.0h.8M209.5 562.0h.8M210.6 559.9h.8M218.1 563.9h.8M211.5 561.3h.8M212.2 557.4h.8M203.3 560.4h.8M199.9 561.3h.8M207.1 562.8h.8M210.1 557.1h.8M205.2 558.1h.8M217.2 566.7h.8M208.3 560.7h.8M204.6 565.2h.8M210.9 557.9h.8M201.5 561.3h.8M220.6 562.1h.8M204.0 556.2h.8M206.0 550.9h.8M214.8 558.7h.8M198.4 547.3h.8M211.4 561.3h.8M217.9 565.3h.8M206.8 553.1h.8M210.5 558.1h.8M209.8 554.0h.8M207.5 559.1h.8M201.6 552.3h.8M196.0 558.7h.8M216.5 561.0h.8M193.8 557.9h.8M199.2 559.8h.8M219.7 562.9h.8M193.7 562.2h.8M211.3 567.8h.8M212.3 563.3h.8M198.5 564.3h.8M201.8 551.3h.8M212.3 563.5h.8M218.0 565.9h.8M211.5 561.8h.8M214.5 562.3h.8M212.0 552.6h.8M208.6 558.7h.8M212.4 557.5h.8M214.9 563.9h.8M202.5 559.4h.8M212.6 556.4h.8M194.8 557.3h.8M210.8 560.5h.8M215.8 562.2h.8M219.0 559.3h.8M219.2 560.4h.8M212.3 553.2h.8M204.6 564.2h.8M209.7 560.3h.8M202.1 562.4h.8M203.3 565.1h.8M213.0 558.5h.8M204.4 557.5h.8M211.6 561.5h.8M199.6 560.3h.8M202.9 566.6h.8M198.0 562.4h.8M202.1 560.7h.8M216.4 563.0h.8M202.2 553.2h.8M218.2 558.2h.8M214.0 565.5h.8M199.3 566.6h.8M208.5 559.3h.8M203.4 560.3h.8M212.2 564.7h.8M215.6 565.1h.8M208.6 559.8h.8M210.1 561.1h.8M216.9 564.8h.8M208.3 556.5h.8M197.8 557.8h.8M209.4 552.9h.8M207.1 560.9h.8M210.6 554.8h.8M205.3 553.9h.8M214.4 562.0h.8M225.0 559.9h.8M218.4 561.5h.8M209.8 564.4h.8M197.7 554.0h.8M218.5 565.4h.8M220.6 563.9h.8M206.4 563.2h.8M206.7 559.6h.8M208.6 556.7h.8M222.0 564.7h.8M210.1 561.9h.8M205.9 558.3h.8M210.0 561.6h.8M196.3 563.6h.8M197.0 554.8h.8M200.9 559.5h.8M198.7 562.7h.8M213.4 564.4h.8M214.1 559.5h.8M210.8 556.6h.8M206.7 561.5h.8M201.7 558.0h.8M206.3 563.3h.8M212.5 558.9h.8M214.1 568.4h.8M215.9 561.4h.8M210.1 556.5h.8M206.0 560.9h.8M211.6 554.9h.8M201.8 554.4h.8M202.3 556.7h.8M208.3 555.4h.8M205.0 551.8h.8M207.8 560.8h.8M205.9 553.5h.8M223.5 558.7h.8M211.6 551.8h.8M204.5 559.9h.8M208.5 560.5h.8M209.3 557.1h.8M203.6 558.5h.8M205.0 557.1h.8M211.4 561.1h.8M206.2 563.8h.8M208.5 558.9h.8M213.9 561.5h.8M199.4 560.4h.8M199.3 557.4h.8M210.6 562.7h.8M203.5 557.7h.8M213.6 568.4h.8M220.7 564.8h.8M218.9 559.2h.8M207.6 562.9h.8M213.8 554.6h.8M216.0 557.6h.8M208.4 555.4h.8M206.9 563.9h.8M201.3 556.5h.8M209.1 562.3h.8M219.3 561.9h.8M215.4 554.8h.8M205.9 550.3h.8M216.0 558.7h.8M212.7 556.4h.8M202.5 555.2h.8M204.8 558.2h.8M198.8 559.0h.8M212.4 553.3h.8M199.7 554.2h.8M203.5 566.0h.8M213.4 555.6h.8M225.3 565.3h.8M201.4 552.3h.8M211.3 553.7h.8M209.9 563.5h.8M203.9 556.3h.8M203.9 564.4h.8M212.9 562.4h.8M214.1 560.5h.8M205.1 560.7h.8M214.5 560.1h.8M207.7 556.1h.8M217.4 564.1h.8M210.4 561.0h.8M211.4 560.7h.8M215.1 561.7h.8M213.8 561.0h.8M205.8 564.2h.8M216.3 567.2h.8M206.7 557.4h.8M198.1 558.9h.8M204.3 564.2h.8M202.3 563.0h.8M201.9 558.7h.8M216.9 559.4h.8M211.6 563.3h.8M201.2 568.0h.8M201.2 557.9h.8M210.5 562.0h.8M215.3 565.7h.8M201.3 558.5h.8M196.8 559.6h.8M205.3 561.0h.8M199.0 554.4h.8M212.3 563.4h.8M207.3 558.1h.8M205.9 557.4h.8M205.7 569.8h.8M213.6 554.5h.8M206.7 555.8h.8M210.2 568.7h.8M216.8 561.8h.8M211.7 560.0h.8M203.2 557.0h.8M216.0 554.9h.8M217.0 570.4h.8M209.7 564.7h.8M210.5 559.3h.8M197.1 555.7h.8M218.7 561.8h.8M207.4 566.2h.8M208.9 552.5h.8M206.1 565.7h.8M216.3 559.9h.8M214.3 560.5h.8M224.2 565.2h.8M216.7 563.3h.8M216.2 564.0h.8M210.3 558.9h.8M207.7 559.8h.8M214.4 563.8h.8M218.2 561.1h.8M211.0 552.5h.8M205.6 557.4h.8M209.7 561.0h.8M206.8 561.6h.8M206.8 560.0h.8M205.8 560.7h.8M206.0 559.0h.8M204.7 554.4h.8M217.2 558.4h.8M215.8 559.8h.8M209.2 560.5h.8M204.1 552.9h.8M214.0 561.7h.8M199.5 556.1h.8M205.5 564.0h.8M212.4 560.5h.8M215.9 562.7h.8M204.9 554.1h.8M215.1 554.3h.8M216.4 554.1h.8M205.3 564.4h.8M214.6 565.4h.8M200.3 557.8h.8M208.9 558.5h.8M205.7 560.8h.8M209.2 556.4h.8M205.8 558.6h.8M209.0 559.1h.8M200.0 559.2h.8M212.2 566.7h.8M206.2 563.3h.8M205.9 564.7h.8M208.5 560.5h.8M208.1 560.7h.8M210.4 555.0h.8M213.3 556.8h.8M208.3 563.8h.8M208.1 557.5h.8M219.5 567.1h.8M217.9 565.6h.8M212.4 561.6h.8M200.8 555.5h.8M204.4 563.9h.8M224.0 565.4h.8M208.3 565.6h.8M209.1 559.4h.8M209.1 564.7h.8M217.0 562.5h.8M203.2 562.9h.8M204.7 556.0h.8M205.9 555.6h.8M205.0 566.5h.8M203.4 559.1h.8M200.2 555.8h.8M207.1 560.3h.8M209.9 560.0h.8M205.0 565.5h.8M213.6 558.6h.8M207.9 558.2h.8M209.2 557.7h.8M213.7 564.5h.8M208.5 561.5h.8M205.8 564.7h.8M206.9 561.9h.8M211.5 556.8h.8M198.4 555.8h.8M203.0 556.8h.8M208.8 559.8h.8M206.0 566.6h.8M201.9 562.9h.8M213.7 557.5h.8M221.3 567.0h.8M211.3 562.3h.8M209.7 562.8h.8M206.3 564.4h.8M215.5 559.6h.8M200.4 563.6h.8M210.5 556.9h.8M218.1 562.3h.8M200.2 562.8h.8M202.3 551.8h.8M204.8 558.8h.8M198.0 568.0h.8M211.0 561.2h.8M208.1 561.2h.8M204.3 558.4h.8M216.3 560.0h.8M210.6 559.5h.8M220.8 566.6h.8M212.0 563.7h.8M211.6 561.8h.8M226.1 553.7h.8M208.4 560.3h.8M215.2 555.0h.8M205.4 561.4h.8M197.7 560.9h.8M222.7 558.3h.8M196.9 561.3h.8M207.7 568.4h.8M206.9 557.4h.8M216.6 566.4h.8M216.1 570.3h.8M213.1 561.0h.8M206.2 559.4h.8M206.6 557.7h.8M202.8 550.0h.8M212.1 562.3h.8M199.0 562.4h.8M192.3 556.0h.8M210.2 558.9h.8M213.9 565.7h.8M216.8 561.7h.8M219.3 560.1h.8M206.0 557.2h.8M204.9 558.0h.8M201.2 552.6h.8M218.9 563.9h.8M215.4 562.5h.8M202.9 564.6h.8M213.9 556.0h.8M214.0 552.5h.8M215.6 557.7h.8M215.6 557.7h.8M216.0 562.6h.8M213.1 561.9h.8M212.6 563.4h.8M214.2 551.8h.8M207.0 557.8h.8M207.5 559.4h.8M221.7 564.1h.8M200.6 557.2h.8M215.3 556.6h.8M210.7 558.0h.8M211.5 559.7h.8M209.1 559.1h.8M204.2 564.5h.8M211.6 561.0h.8M218.8 562.6h.8M209.1 561.0h.8M206.9 556.7h.8M220.7 558.5h.8M217.0 563.1h.8M202.3 558.3h.8M204.6 559.3h.8M214.4 557.3h.8M203.9 554.7h.8M218.3 561.9h.8M211.4 561.1h.8M202.3 565.9h.8M202.4 550.5h.8M213.8 557.2h.8M215.4 563.8h.8M210.0 563.0h.8M213.9 558.8h.8M204.6 554.4h.8M206.7 556.8h.8M202.6 556.3h.8M224.8 564.8h.8M200.8 565.7h.8M198.1 558.2h.8M202.6 555.0h.8M206.1 561.6h.8M216.2 553.7h.8M206.5 556.3h.8M212.5 563.8h.8M201.4 555.7h.8M204.3 562.4h.8M206.3 556.4h.8M204.9 556.5h.8M209.7 567.3h.8M198.4 555.7h.8M211.5 551.4h.8M211.5 561.9h.8M209.3 554.6h.8M220.1 562.3h.8M207.5 564.5h.8M199.6 555.6h.8M197.5 557.7h.8M209.7 558.8h.8M207.6 562.5h.8M204.9 558.2h.8M201.1 561.3h.8M207.2 566.3h.8M205.5 561.7h.8M211.3 555.3h.8M213.7 562.6h.8M215.2 564.5h.8M207.4 566.2h.8M211.7 563.6h.8M196.8 550.7h.8M198.4 558.3h.8M209.2 562.5h.8M209.7 553.5h.8M206.4 565.6h.8M215.9 554.8h.8M207.3 554.1h.8M211.6 564.5h.8M214.2 556.5h.8M206.1 559.1h.8M219.8 562.8h.8M210.0 560.8h.8M210.6 557.0h.8M202.4 557.1h.8M207.5 557.4h.8M213.5 560.8h.8M213.9 557.9h.8M194.3 556.1h.8M214.6 561.6h.8M193.7 555.8h.8M204.8 558.4h.8M205.0 559.2h.8M205.5 557.7h.8M214.8 561.9h.8M208.1 554.4h.8M203.9 557.0h.8M211.7 553.9h.8M210.6 565.8h.8M210.5 554.8h.8M215.2 561.1h.8M213.1 564.4h.8M213.3 560.2h.8M203.9 568.3h.8M204.3 563.1h.8M203.9 564.6h.8M221.1 565.3h.8M205.0 558.4h.8M218.4 567.5h.8M213.4 561.8h.8M219.1 563.8h.8M211.6 564.2h.8M211.9 565.4h.8M218.7 563.6h.8M195.4 558.6h.8M206.8 555.5h.8M206.6 565.2h.8M200.9 557.8h.8M205.1 553.8h.8M200.4 561.2h.8M201.4 566.5h.8M208.2 561.5h.8M212.8 554.5h.8M215.8 561.8h.8M209.0 562.4h.8M210.4 560.6h.8M201.9 558.8h.8M213.2 557.6h.8M214.2 559.6h.8M212.7 560.9h.8M203.2 558.6h.8M206.0 556.6h.8M204.3 551.2h.8M207.4 559.3h.8M202.9 553.0h.8M213.1 562.1h.8M215.9 565.2h.8M203.4 559.4h.8M208.4 563.5h.8M203.5 555.8h.8M216.8 556.9h.8M209.9 561.0h.8M200.4 556.2h.8M204.1 557.4h.8M202.8 562.9h.8M207.4 563.6h.8M214.4 554.1h.8M214.4 558.7h.8M213.6 564.6h.8M217.1 565.1h.8M208.6 557.8h.8M210.0 561.3h.8M209.6 559.4h.8M212.8 559.2h.8M211.0 561.1h.8M216.1 558.8h.8M205.8 556.4h.8M214.0 562.4h.8M207.8 566.8h.8M203.9 562.8h.8M211.7 559.0h.8M203.0 556.4h.8M214.4 555.3h.8M207.7 556.7h.8M209.4 557.2h.8M206.4 554.5h.8M210.2 556.9h.8M209.4 553.2h.8M201.6 557.6h.8M204.5 558.6h.8M205.3 562.3h.8M212.1 564.7h.8M213.0 565.1h.8M216.0 562.3h.8M206.5 559.5h.8M210.1 557.3h.8M206.8 563.8h.8M213.6 557.8h.8M203.4 557.3h.8M199.4 562.8h.8M211.7 555.9h.8M207.6 557.2h.8M216.9 556.2h.8M205.1 565.9h.8M219.2 567.7h.8M211.3 558.7h.8M204.2 562.5h.8M204.6 559.1h.8M208.3 564.0h.8M205.2 563.5h.8M205.9 557.8h.8M202.7 560.3h.8M208.3 560.4h.8M207.4 560.3h.8M219.2 563.4h.8M215.4 560.9h.8M209.2 564.8h.8M225.5 560.2h.8M212.3 558.8h.8M212.5 561.5h.8M206.1 553.8h.8M199.7 564.1h.8M209.8 560.4h.8M212.9 560.5h.8M222.1 562.5h.8M215.5 561.9h.8M200.7 561.3h.8M211.1 558.8h.8M217.7 564.0h.8M214.4 556.2h.8M206.7 553.4h.8M213.1 565.0h.8M205.9 569.0h.8M203.0 560.4h.8M196.8 550.8h.8M211.6 561.1h.8M221.6 562.9h.8M217.4 558.4h.8M213.2 566.4h.8M210.0 565.9h.8M219.5 563.4h.8M200.4 555.6h.8M194.7 564.3h.8M223.3 564.1h.8M213.4 549.4h.8M219.6 553.8h.8M204.6 571.6h.8M214.0 556.7h.8M202.0 561.1h.8M219.9 563.2h.8M210.7 563.5h.8M216.1 552.3h.8M193.2 565.9h.8M203.0 546.9h.8M205.0 558.7h.8M206.4 566.9h.8M199.4 558.6h.8M196.4 570.8h.8M198.7 549.1h.8M215.7 562.3h.8M197.9 562.1h.8M216.2 558.6h.8M214.3 566.4h.8M215.5 558.2h.8M208.7 557.4h.8M205.5 559.3h.8M205.1 558.6h.8M208.0 558.7h.8M214.1 553.9h.8M201.5 555.6h.8M201.6 562.0h.8M211.4 560.1h.8M206.8 563.0h.8M216.7 566.4h.8M207.3 560.3h.8M194.2 556.8h.8M228.4 558.5h.8M217.7 564.9h.8M200.6 548.4h.8M202.0 566.7h.8M218.6 565.1h.8M205.6 563.7h.8M199.1 563.9h.8M213.1 564.8h.8M236.7 580.3h.8M201.7 560.6h.8M209.2 562.2h.8M230.7 556.5h.8M208.6 568.1h.8M204.2 569.2h.8M210.4 560.0h.8M215.1 559.7h.8M218.5 571.8h.8M187.5 563.6h.8M192.1 547.2h.8M216.9 563.5h.8M212.9 555.6h.8M204.3 557.8h.8M194.6 561.2h.8M207.1 563.3h.8M187.3 542.1h.8M203.9 558.0h.8M213.9 557.7h.8M201.9 553.5h.8M217.5 561.9h.8M224.7 561.7h.8M212.8 560.0h.8M206.5 561.8h.8M198.6 555.8h.8M212.8 556.2h.8M189.9 554.2h.8M198.8 561.1h.8M197.7 553.1h.8M209.8 557.5h.8M214.1 561.4h.8M207.2 563.4h.8M211.8 557.0h.8M217.7 561.0h.8M213.1 560.2h.8M212.7 557.0h.8M213.0 561.6h.8M207.8 560.2h.8M206.4 562.9h.8M223.2 557.4h.8M207.2 551.4h.8M206.3 559.7h.8M212.7 553.3h.8M202.9 559.4h.8M235.4 564.5h.8M210.3 556.1h.8M205.8 545.4h.8M202.8 554.7h.8M205.9 557.1h.8M227.8 568.2h.8M208.2 548.7h.8M224.7 558.8h.8M201.2 558.2h.8M207.7 568.1h.8M209.9 562.9h.8M214.6 569.7h.8M215.3 560.1h.8M205.5 551.4h.8M200.3 541.1h.8M218.6 556.9h.8M204.1 563.6h.8M206.0 561.2h.8M203.2 557.5h.8M209.3 569.6h.8M194.6 553.0h.8M212.3 564.0h.8M206.1 559.5h.8M208.2 564.1h.8M195.9 557.5h.8M221.2 567.7h.8M203.4 561.9h.8M199.5 561.8h.8M212.8 560.7h.8M212.3 559.2h.8M219.2 566.7h.8M215.3 567.6h.8M219.7 562.4h.8M215.0 560.7h.8M194.0 565.2h.8M208.0 559.5h.8M227.4 561.7h.8M206.4 549.3h.8M212.3 561.4h.8M203.6 565.8h.8M205.4 552.1h.8M203.4 557.9h.8M207.3 559.9h.8M199.0 553.2h.8M192.3 556.9h.8M222.5 567.7h.8M196.0 554.8h.8M220.1 559.0h.8M205.0 551.4h.8M225.1 568.3h.8M199.5 564.3h.8M200.6 559.5h.8M220.0 556.2h.8M201.0 552.8h.8M208.4 564.8h.8M216.5 570.6h.8M225.6 566.1h.8M195.3 552.3h.8M213.7 561.9h.8M207.5 556.4h.8M212.7 551.8h.8M206.8 561.9h.8M220.6 569.1h.8M202.7 551.7h.8M208.9 562.0h.8M195.3 549.0h.8M202.4 558.1h.8M211.3 559.1h.8M208.3 565.2h.8M205.9 557.3h.8M194.9 559.8h.8M217.9 564.8h.8M201.2 565.4h.8M206.3 569.9h.8M211.3 567.3h.8M211.0 561.1h.8M202.0 554.7h.8M219.0 555.7h.8M223.4 551.5h.8M208.5 556.8h.8M224.5 559.1h.8M204.9 554.5h.8M215.0 559.6h.8M208.5 550.8h.8M205.9 557.7h.8M202.9 569.3h.8M230.7 562.3h.8M204.5 563.4h.8M216.1 555.5h.8M214.3 557.5h.8M205.3 558.5h.8M217.1 561.9h.8M212.5 561.5h.8M193.0 565.8h.8M208.4 556.8h.8M200.4 550.8h.8M211.2 566.6h.8M208.5 558.0h.8M212.4 541.7h.8M210.4 557.8h.8M215.3 567.5h.8M206.7 552.8h.8M215.6 561.2h.8M214.8 565.5h.8M209.2 556.1h.8M212.0 561.1h.8M221.8 562.8h.8M220.3 567.1h.8M211.2 546.9h.8M199.3 563.2h.8M217.5 557.0h.8M194.6 572.3h.8M207.9 548.7h.8M213.9 569.8h.8M189.7 558.0h.8M204.9 559.5h.8M215.2 555.2h.8M199.1 551.5h.8M218.2 568.0h.8M199.2 565.7h.8M203.4 559.7h.8M205.1 558.0h.8M222.4 563.1h.8M201.9 569.0h.8M226.9 563.3h.8M224.4 573.2h.8M203.7 549.7h.8M197.8 550.2h.8M204.9 570.8h.8M205.4 556.4h.8M223.4 560.8h.8M213.8 573.4h.8M196.1 551.6h.8M206.8 561.1h.8M210.3 563.4h.8M198.6 556.4h.8M198.1 557.9h.8M214.0 564.3h.8M211.4 567.0h.8M196.4 558.1h.8M212.7 551.5h.8M234.7 559.8h.8M218.3 559.6h.8M209.5 560.0h.8M224.8 562.1h.8M215.9 565.6h.8M214.0 565.5h.8M202.1 548.8h.8M206.2 554.9h.8M189.6 565.1h.8M192.7 568.3h.8M196.3 553.6h.8M216.1 564.7h.8M220.0 562.4h.8M207.0 544.5h.8M212.9 559.4h.8M208.5 563.1h.8M222.5 557.0h.8M207.3 558.0h.8M192.8 564.0h.8M206.1 548.7h.8M211.4 560.2h.8M210.9 551.9h.8M197.4 558.5h.8M216.1 554.9h.8M209.3 558.1h.8M211.4 565.1h.8M215.1 568.2h.8M226.1 558.9h.8M220.4 559.6h.8M207.7 556.7h.8M214.1 551.4h.8M197.5 553.9h.8M198.4 547.6h.8M209.8 557.9h.8M200.3 561.6h.8M222.9 555.2h.8M218.5 556.1h.8M219.0 566.6h.8M199.5 570.5h.8M200.6 549.6h.8M202.6 560.8h.8M202.9 552.7h.8M217.9 564.6h.8M204.9 571.2h.8M194.3 554.1h.8M199.2 556.3h.8M209.3 564.4h.8M204.0 562.0h.8M205.2 569.8h.8M196.6 556.5h.8M214.8 567.2h.8" stroke="#d82030" stroke-width=".8" stroke-opacity=".72"/>
<path d="M209.8 531.4h.8M217.8 530.7h.8M208.2 525.3h.8M213.4 530.5h.8M197.1 518.6h.8M193.4 529.4h.8M209.1 536.4h.8M203.2 513.0h.8M208.2 527.8h.8M205.1 532.4h.8M199.6 527.9h.8M205.8 531.4h.8M216.3 523.4h.8M209.5 529.9h.8M208.2 538.2h.8M216.7 526.5h.8M210.6 529.6h.8M202.0 533.0h.8M209.5 536.2h.8M208.8 527.1h.8M204.8 528.8h.8M212.0 527.5h.8M208.6 533.0h.8M220.8 533.5h.8M213.8 529.1h.8M204.7 534.4h.8M202.4 524.5h.8M213.5 528.4h.8M208.6 523.6h.8M205.4 525.7h.8M202.8 532.1h.8M203.9 523.9h.8M203.8 527.0h.8M216.7 525.4h.8M206.1 533.9h.8M198.3 527.8h.8M208.7 533.4h.8M206.9 527.9h.8M207.3 524.9h.8M201.6 537.0h.8M205.4 522.6h.8M211.8 522.3h.8M200.9 524.2h.8M216.1 530.9h.8M214.9 530.7h.8M207.1 525.7h.8M207.5 535.0h.8M211.0 526.7h.8M204.7 533.0h.8M204.8 527.8h.8M198.7 523.9h.8M211.0 533.3h.8M208.7 534.5h.8M199.6 527.4h.8M203.9 528.5h.8M221.1 534.6h.8M197.1 528.9h.8M214.8 541.8h.8M211.9 533.5h.8M203.2 523.3h.8M207.3 530.6h.8M217.1 541.7h.8M213.7 526.8h.8M204.4 525.2h.8M209.1 525.4h.8M198.2 523.0h.8M205.3 534.8h.8M212.6 528.7h.8M199.7 520.2h.8M214.9 529.4h.8M210.7 529.1h.8M205.3 533.2h.8M206.3 532.5h.8M195.7 530.6h.8M224.2 530.9h.8M206.6 522.6h.8M209.8 523.0h.8M202.7 525.2h.8M198.4 530.6h.8M196.0 532.5h.8M198.3 523.6h.8M208.1 524.3h.8M218.8 531.0h.8M211.5 531.1h.8M213.2 527.0h.8M209.9 532.9h.8M216.4 535.2h.8M199.2 522.1h.8M214.7 539.3h.8M215.1 540.9h.8M213.6 537.6h.8M213.1 528.9h.8M200.4 530.6h.8M206.8 525.4h.8M204.2 527.1h.8M207.7 529.1h.8M210.9 527.7h.8M221.1 539.0h.8M206.1 531.8h.8M204.4 532.1h.8M224.9 531.4h.8M204.0 530.9h.8M211.5 538.0h.8M202.7 525.0h.8M209.8 525.8h.8M227.7 516.7h.8M205.4 526.7h.8M202.1 532.9h.8M206.4 528.9h.8M215.1 533.0h.8M207.6 525.2h.8M214.6 524.2h.8M215.1 526.8h.8M222.0 532.8h.8M208.6 529.0h.8M207.7 535.2h.8M204.3 526.0h.8M200.4 532.5h.8M201.4 523.3h.8M216.5 517.8h.8M194.7 526.3h.8M207.9 536.1h.8M209.7 529.8h.8M212.8 521.1h.8M199.9 528.9h.8M221.7 528.4h.8M206.7 526.3h.8M200.9 517.9h.8M210.8 531.4h.8M204.1 529.3h.8M210.4 525.9h.8M202.4 519.2h.8M203.6 535.9h.8M201.7 526.6h.8M210.7 531.3h.8M210.2 533.4h.8M211.8 530.1h.8M208.1 540.2h.8M207.0 533.3h.8M202.7 534.2h.8M214.1 531.3h.8M209.5 526.1h.8M203.9 530.5h.8M217.0 527.0h.8M218.4 535.5h.8M208.0 524.7h.8M217.6 533.3h.8M210.7 538.3h.8M206.8 521.3h.8M214.5 520.4h.8M200.6 526.4h.8M212.0 527.5h.8M216.9 524.2h.8M215.4 536.0h.8M204.8 523.8h.8M203.9 523.6h.8M216.6 528.0h.8M202.2 532.0h.8M202.4 517.9h.8M208.1 525.9h.8M214.4 540.5h.8M209.4 528.2h.8M213.0 531.2h.8M196.9 526.6h.8M201.5 528.3h.8M196.8 540.4h.8M205.8 529.9h.8M203.8 535.4h.8M205.6 523.8h.8M196.2 536.2h.8M200.1 536.8h.8M218.7 528.1h.8M201.8 538.4h.8M203.1 531.4h.8M189.9 519.8h.8M210.0 537.4h.8M203.6 536.6h.8M215.2 531.7h.8M214.5 523.7h.8M209.3 540.8h.8M197.8 532.4h.8M209.5 525.1h.8M198.1 519.9h.8M200.3 524.5h.8M205.6 530.6h.8M214.1 530.8h.8M205.4 518.3h.8M205.9 519.5h.8M207.1 527.9h.8M211.2 524.3h.8M203.7 529.4h.8M205.9 528.7h.8M213.8 529.4h.8M214.5 524.5h.8M208.3 522.4h.8M211.3 537.6h.8M211.7 549.9h.8M214.2 539.3h.8M210.6 534.4h.8M211.9 522.2h.8M211.2 522.1h.8M204.6 544.3h.8M205.5 533.6h.8M205.0 538.7h.8M200.2 536.8h.8M215.1 532.7h.8M208.5 538.2h.8M208.8 534.2h.8M200.3 532.2h.8M201.5 542.0h.8M207.6 526.9h.8M215.7 523.3h.8M204.2 552.5h.8M200.2 521.8h.8M205.8 531.8h.8M198.8 550.6h.8M215.3 536.9h.8M199.2 528.2h.8M221.1 541.2h.8M209.8 526.6h.8M211.2 545.0h.8M205.6 528.1h.8M209.7 522.5h.8M203.6 549.0h.8M212.1 539.7h.8M211.5 526.0h.8M212.6 550.9h.8M218.6 536.3h.8M208.7 530.9h.8M212.4 545.2h.8M212.2 532.9h.8M204.6 553.3h.8M210.3 545.5h.8M205.9 524.6h.8M210.2 542.4h.8M199.9 526.0h.8M206.5 541.2h.8M206.4 532.8h.8M199.7 525.9h.8M207.2 534.9h.8M205.3 531.4h.8M206.9 523.5h.8M214.0 546.3h.8M204.0 528.1h.8M204.1 536.9h.8M201.1 536.1h.8M207.8 538.5h.8M212.1 534.3h.8M202.5 551.1h.8M211.6 534.2h.8M188.3 544.8h.8M180.6 556.6h.8M186.4 559.8h.8M188.8 555.3h.8M169.9 557.7h.8M188.4 551.2h.8M185.3 568.2h.8M186.5 561.4h.8M172.8 564.3h.8M179.1 569.7h.8M176.4 550.9h.8M179.9 562.4h.8M194.8 565.4h.8M189.0 562.1h.8M185.1 554.1h.8M183.8 567.0h.8M197.2 559.2h.8M190.2 554.3h.8M185.1 559.3h.8M188.7 565.9h.8M190.8 565.3h.8M180.4 549.6h.8M181.3 563.8h.8M191.0 565.8h.8M193.9 570.7h.8M187.4 557.9h.8M196.3 576.7h.8M193.2 550.4h.8M183.9 552.0h.8M186.0 546.5h.8M193.0 563.4h.8M184.7 569.9h.8M187.6 561.8h.8M188.8 556.8h.8M179.3 562.9h.8M186.1 544.1h.8M183.2 556.2h.8M190.4 560.7h.8M191.8 563.6h.8M185.5 547.8h.8" stroke="#cc3040" stroke-width=".8" stroke-opacity=".6"/>
<path d="M224.0 557.2h.7M211.7 554.4h.7M178.4 569.8h.7M256.2 532.6h.7M234.1 524.2h.7M189.8 526.2h.7M183.4 528.7h.7M229.8 505.9h.7M207.8 499.3h.7M261.6 499.4h.7M223.0 501.3h.7M257.7 497.3h.7M181.6 528.8h.7M200.3 525.2h.7M198.3 559.5h.7M240.8 510.1h.7M258.0 515.1h.7M244.6 512.7h.7M244.8 517.7h.7M211.6 503.1h.7M188.4 530.5h.7M256.1 524.7h.7M238.3 520.5h.7M173.1 571.8h.7M178.6 531.2h.7M206.6 557.4h.7M250.5 519.3h.7M187.8 526.9h.7M230.0 531.3h.7M260.1 554.8h.7M261.3 545.6h.7M190.3 497.3h.7M250.4 568.6h.7M225.2 506.7h.7M228.2 572.4h.7M216.4 543.4h.7M216.3 533.1h.7M174.6 554.3h.7M230.4 562.5h.7M177.5 558.6h.7" stroke="#e08080" stroke-width=".7" stroke-opacity=".45"/>
</g>
<rect x="170.2" y="495.8" width="92.90000000000003" height="78.80000000000001" fill="none" stroke="#6a6a6a" stroke-width="0.9"/>
<line x1="194.8" y1="495.8" x2="194.8" y2="574.6" stroke="#5a5a5a" stroke-width="0.8"/>
<line x1="170.2" y1="549.6" x2="263.1" y2="549.6" stroke="#5a5a5a" stroke-width="0.8"/>
<path d="M170.2 572.6h-2.6M170.2 567.7h-1.5M170.2 564.8h-1.5M170.2 562.8h-1.5M170.2 561.2h-1.5M170.2 559.9h-1.5M170.2 558.9h-1.5M170.2 557.9h-1.5M170.2 557.1h-1.5M170.2 556.3h-2.6M170.2 551.4h-1.5M170.2 548.6h-1.5M170.2 546.5h-1.5M170.2 545.0h-1.5M170.2 543.7h-1.5M170.2 542.6h-1.5M170.2 541.7h-1.5M170.2 540.8h-1.5M170.2 540.1h-2.6M170.2 535.2h-1.5M170.2 532.3h-1.5M170.2 530.3h-1.5M170.2 528.7h-1.5M170.2 527.4h-1.5M170.2 526.3h-1.5M170.2 525.4h-1.5M170.2 524.6h-1.5M170.2 523.8h-2.6M170.2 518.9h-1.5M170.2 516.1h-1.5M170.2 514.0h-1.5M170.2 512.5h-1.5M170.2 511.2h-1.5M170.2 510.1h-1.5M170.2 509.1h-1.5M170.2 508.3h-1.5M170.2 507.6h-2.6M170.2 502.7h-1.5M170.2 499.8h-1.5M172.2 574.6v2.6M178.0 574.6v1.5M181.4 574.6v1.5M183.8 574.6v1.5M185.7 574.6v1.5M187.2 574.6v1.5M188.5 574.6v1.5M189.7 574.6v1.5M190.6 574.6v1.5M191.5 574.6v2.6M197.3 574.6v1.5M200.7 574.6v1.5M203.2 574.6v1.5M205.0 574.6v1.5M206.6 574.6v1.5M207.9 574.6v1.5M209.0 574.6v1.5M210.0 574.6v1.5M210.9 574.6v2.6M216.7 574.6v1.5M220.1 574.6v1.5M222.5 574.6v1.5M224.4 574.6v1.5M225.9 574.6v1.5M227.2 574.6v1.5M228.3 574.6v1.5M229.3 574.6v1.5M230.2 574.6v2.6M236.0 574.6v1.5M239.4 574.6v1.5M241.8 574.6v1.5M243.7 574.6v1.5M245.2 574.6v1.5M246.5 574.6v1.5M247.6 574.6v1.5M248.6 574.6v1.5M249.5 574.6v2.6M255.3 574.6v1.5M258.7 574.6v1.5" stroke="#3a3a3a" stroke-width=".65"/>
<text x="173.7" y="503.8" font-size="8.2" font-weight="bold" text-anchor="start" fill="#000">0.6</text>
<text x="262.20000000000005" y="503.8" font-size="8.2" font-weight="bold" text-anchor="end" fill="#000">7.8</text>
<text x="173.7" y="571.7" font-size="8.2" font-weight="bold" text-anchor="start" fill="#000">1.6</text>
<text x="262.20000000000005" y="571.7" font-size="8.2" font-weight="bold" text-anchor="end" fill="#000">90.0</text>
<defs><clipPath id="s32"><rect x="69.5" y="583.4" width="92.30000000000001" height="77.60000000000002"/></clipPath></defs>
<g clip-path="url(#s32)">
<ellipse cx="105.4" cy="653.0" rx="11" ry="9" fill="url(#rg)" opacity="0.95"/>
<ellipse cx="105.4" cy="653.0" rx="6" ry="5" fill="url(#rg)" opacity="0.75"/>
<path d="M108.6 654.8h.8M105.3 653.9h.8M103.1 646.2h.8M111.3 654.4h.8M98.2 647.6h.8M103.2 652.6h.8M110.0 653.7h.8M103.9 653.1h.8M104.6 652.4h.8M103.1 648.1h.8M109.9 651.8h.8M105.8 650.3h.8M103.5 650.6h.8M107.7 656.0h.8M107.3 650.7h.8M115.2 656.1h.8M108.7 651.0h.8M104.5 653.6h.8M99.3 648.7h.8M106.8 659.4h.8M106.9 649.2h.8M101.1 654.1h.8M102.6 650.5h.8M112.3 653.4h.8M104.2 649.5h.8M110.0 656.7h.8M103.0 647.4h.8M105.0 656.0h.8M107.0 648.7h.8M106.6 654.5h.8M105.3 652.5h.8M105.4 650.5h.8M103.1 647.6h.8M101.2 646.2h.8M106.9 653.7h.8M105.6 653.3h.8M105.5 649.7h.8M106.0 651.1h.8M104.6 645.6h.8M103.4 652.8h.8M104.0 649.1h.8M99.6 648.9h.8M110.2 650.9h.8M108.9 651.1h.8M109.0 650.9h.8M106.6 654.0h.8M107.4 649.5h.8M104.1 649.2h.8M104.9 650.9h.8M104.5 653.6h.8M101.7 649.0h.8M103.3 650.9h.8M102.6 653.0h.8M101.6 656.5h.8M105.6 655.5h.8M101.6 650.4h.8M105.9 657.3h.8M105.8 656.5h.8M103.0 656.1h.8M103.1 646.5h.8M98.6 651.5h.8M104.7 652.7h.8M105.2 653.5h.8M111.2 652.5h.8M106.5 651.1h.8M99.5 650.3h.8M110.8 650.6h.8M113.6 655.2h.8M107.2 655.2h.8M105.7 652.4h.8M110.3 650.9h.8M105.1 648.7h.8M106.0 661.3h.8M109.8 650.2h.8M99.5 652.8h.8M108.1 650.9h.8M110.4 654.3h.8M108.2 655.0h.8M109.6 651.7h.8M103.3 655.9h.8M105.2 648.7h.8M107.0 651.2h.8M106.9 661.9h.8M112.0 652.1h.8M101.5 651.6h.8M102.4 652.5h.8M106.8 654.5h.8M105.8 648.3h.8M105.3 652.5h.8M106.6 656.1h.8M102.2 651.3h.8M103.7 649.5h.8M108.0 650.9h.8M112.5 646.1h.8M110.9 652.5h.8M101.4 652.0h.8M106.1 655.2h.8M110.0 650.7h.8M105.6 653.2h.8M106.3 651.3h.8M110.4 653.9h.8M101.0 652.2h.8M104.7 651.2h.8M108.5 654.6h.8M106.6 653.6h.8M108.7 650.9h.8M105.9 656.0h.8M103.5 650.5h.8M103.4 654.9h.8M103.9 655.0h.8M104.1 652.5h.8M106.6 650.8h.8M102.0 654.3h.8M104.1 653.4h.8M107.8 648.2h.8M109.8 653.2h.8M104.4 650.8h.8M103.8 652.5h.8M112.8 653.0h.8M101.6 650.7h.8M112.8 653.6h.8M112.3 651.1h.8M102.8 648.3h.8M102.2 651.3h.8M105.9 647.0h.8M101.8 649.0h.8M104.0 655.7h.8M110.6 654.1h.8M107.9 649.9h.8M106.4 646.8h.8M104.9 652.5h.8M108.0 651.8h.8M104.6 648.6h.8M97.1 648.3h.8M98.2 649.1h.8M103.8 647.1h.8M98.4 649.8h.8M102.7 652.3h.8M107.9 656.7h.8M108.2 649.3h.8M104.6 657.6h.8M101.8 649.9h.8M109.5 654.1h.8M102.8 652.2h.8M102.8 653.8h.8M104.6 651.7h.8M105.7 645.9h.8M104.5 652.7h.8M105.3 650.1h.8M104.8 656.0h.8M107.5 650.3h.8M108.9 653.3h.8M103.4 646.2h.8M107.2 648.8h.8M106.4 655.3h.8M107.6 648.7h.8M102.0 653.2h.8M109.1 652.5h.8M104.8 657.2h.8M111.2 653.7h.8M104.1 653.7h.8M101.1 651.9h.8M106.3 655.8h.8M107.4 647.0h.8M112.0 654.9h.8M98.4 646.3h.8M107.9 648.6h.8M108.3 649.4h.8M99.9 655.8h.8M111.6 652.3h.8M111.2 654.1h.8M107.3 651.9h.8M108.0 657.0h.8M110.9 659.4h.8M112.3 655.5h.8M104.2 654.8h.8M108.3 651.8h.8M102.0 649.5h.8M100.6 649.1h.8M106.7 656.5h.8M106.5 651.1h.8M104.4 651.9h.8M110.4 653.7h.8M99.7 651.5h.8M99.8 649.4h.8M106.2 649.9h.8M105.4 655.8h.8M102.9 655.0h.8M108.9 654.9h.8M102.7 655.1h.8M107.1 654.8h.8M105.9 656.2h.8M101.1 652.8h.8M108.6 661.0h.8M100.4 648.0h.8M105.0 653.0h.8M102.9 654.0h.8M104.9 652.4h.8M100.9 652.6h.8M105.9 656.6h.8M108.3 657.0h.8M106.7 650.1h.8M108.0 648.1h.8M100.6 649.4h.8M108.3 655.6h.8M99.3 649.9h.8M109.5 651.4h.8M99.6 651.0h.8M110.0 650.9h.8M103.3 657.6h.8M107.8 649.1h.8M108.4 656.2h.8M104.4 652.5h.8M108.5 653.6h.8M111.0 657.1h.8M109.0 657.5h.8M104.7 649.8h.8M101.0 649.9h.8M101.9 651.0h.8M109.2 657.5h.8M108.4 654.7h.8M107.0 654.4h.8M104.3 650.5h.8M101.8 651.0h.8M107.2 652.4h.8M106.6 658.3h.8M107.5 654.6h.8M106.1 654.2h.8M102.4 653.6h.8M108.3 655.6h.8M100.6 650.8h.8M110.4 655.3h.8M100.8 648.9h.8M101.6 652.7h.8M108.6 651.9h.8M99.6 651.5h.8M98.4 653.7h.8M102.0 648.4h.8M101.3 651.0h.8M105.4 653.0h.8M104.7 651.4h.8M108.8 656.4h.8M106.2 653.8h.8M108.2 652.0h.8M103.4 647.8h.8M103.8 656.5h.8M103.1 648.0h.8M104.8 652.7h.8M106.9 649.8h.8M107.0 651.0h.8M104.2 651.3h.8M102.4 650.0h.8M107.9 649.5h.8M104.3 653.4h.8M106.3 653.0h.8M101.5 647.7h.8M104.7 650.2h.8M99.4 650.8h.8M106.8 656.5h.8M105.1 651.4h.8M102.8 652.3h.8M104.4 657.7h.8M103.0 655.4h.8M104.9 648.7h.8M107.0 653.4h.8M110.9 655.3h.8M105.9 651.1h.8M103.4 651.6h.8M106.5 650.1h.8M103.1 652.8h.8M102.6 651.4h.8M104.7 650.0h.8M110.2 655.9h.8M105.7 648.7h.8M106.5 652.0h.8M105.4 652.3h.8M103.8 658.5h.8M107.8 652.1h.8M106.8 651.3h.8M103.1 649.3h.8M107.0 655.9h.8M110.6 654.0h.8M106.9 647.8h.8M99.2 650.1h.8M108.8 656.6h.8M105.0 648.7h.8M104.7 651.9h.8M102.3 650.9h.8M108.6 651.0h.8M105.2 657.4h.8M107.2 653.8h.8M103.9 654.4h.8M100.4 655.1h.8M105.5 649.6h.8M103.2 651.1h.8M97.4 649.5h.8M104.9 647.5h.8M105.8 654.6h.8M99.4 648.1h.8M106.7 657.7h.8M103.3 651.9h.8M102.8 651.7h.8M107.1 650.6h.8M107.6 661.8h.8M111.0 652.8h.8M106.1 648.0h.8M104.4 650.2h.8M101.9 645.3h.8M110.2 653.8h.8M100.8 652.9h.8M107.4 648.2h.8M109.3 645.6h.8M107.8 649.0h.8M106.2 646.3h.8M105.4 654.8h.8M109.2 652.6h.8M105.6 649.3h.8M103.3 651.2h.8M100.3 651.6h.8M103.7 652.4h.8M107.6 651.3h.8M101.4 652.1h.8M102.8 651.0h.8M105.2 648.3h.8M107.3 648.6h.8M104.9 654.1h.8M107.2 653.3h.8M111.6 653.2h.8M106.7 655.6h.8M100.2 650.5h.8M108.9 654.5h.8M103.9 653.7h.8M108.0 653.0h.8M109.9 649.7h.8M108.1 652.4h.8M104.9 646.8h.8M113.5 646.1h.8M105.9 651.5h.8M111.7 651.4h.8M104.7 652.4h.8M108.0 655.7h.8M107.7 646.2h.8M103.3 653.7h.8M107.8 655.7h.8M103.4 651.3h.8M106.1 654.9h.8M109.9 653.1h.8M110.3 653.7h.8M107.9 648.6h.8M102.1 655.5h.8M103.9 656.5h.8M109.7 649.0h.8M105.0 652.6h.8M104.1 645.4h.8M106.3 651.5h.8M100.3 649.9h.8M103.4 657.5h.8M106.5 649.4h.8M104.8 646.1h.8M107.4 651.9h.8M109.4 652.4h.8M110.3 657.1h.8M101.3 650.4h.8M105.8 651.8h.8M102.5 651.0h.8M105.0 654.4h.8M104.7 652.5h.8M109.9 654.5h.8M103.8 648.7h.8M105.9 649.3h.8M107.3 651.3h.8M99.6 652.8h.8M102.1 652.8h.8M105.8 653.2h.8M98.8 649.0h.8M104.5 659.1h.8M108.5 653.8h.8M110.2 652.8h.8M105.4 650.0h.8M106.5 645.6h.8M99.2 654.0h.8M108.9 653.3h.8M104.1 656.4h.8M108.8 649.4h.8M106.5 654.7h.8M104.1 646.4h.8M104.5 653.2h.8M107.8 650.8h.8M106.6 652.2h.8M107.6 648.9h.8M102.9 653.3h.8M109.0 652.9h.8M107.8 653.5h.8M103.0 656.4h.8M102.7 648.7h.8M106.0 654.5h.8M106.6 650.0h.8M100.8 652.6h.8M106.1 649.5h.8M103.4 655.4h.8M110.6 640.0h.8M101.4 656.5h.8M102.0 640.1h.8M98.4 654.9h.8M99.6 653.2h.8M98.1 654.0h.8M103.2 651.7h.8M105.3 648.3h.8M88.7 652.4h.8M110.4 654.5h.8M110.9 648.3h.8M108.2 643.3h.8M95.1 649.2h.8M92.4 651.7h.8M103.6 650.5h.8M100.0 651.0h.8M109.1 644.7h.8M99.7 652.0h.8M96.8 651.8h.8M98.6 647.1h.8M108.0 653.9h.8M97.8 657.4h.8M102.2 646.4h.8M109.2 651.8h.8M116.3 649.2h.8M94.1 637.1h.8M101.1 650.3h.8M108.2 654.3h.8M112.0 650.6h.8M100.8 664.8h.8M120.3 651.4h.8M106.7 649.9h.8M117.1 659.3h.8M92.8 649.4h.8M101.9 652.0h.8M102.0 651.2h.8M100.4 655.2h.8M102.7 656.0h.8M97.6 652.4h.8M109.3 653.0h.8M103.9 645.5h.8M102.3 645.2h.8M110.7 653.7h.8M109.3 656.1h.8M98.8 647.0h.8M102.2 646.4h.8M99.6 644.1h.8M102.5 660.8h.8M107.7 653.1h.8M107.0 645.0h.8M106.8 649.6h.8M105.3 647.5h.8M116.0 644.3h.8M102.4 646.2h.8M101.7 656.4h.8M113.9 654.0h.8M97.7 653.4h.8M103.9 640.2h.8M107.5 649.1h.8M103.9 653.6h.8M112.9 645.4h.8M105.9 652.1h.8M105.9 650.0h.8M113.3 647.8h.8M103.4 659.3h.8M105.2 655.0h.8M116.7 649.3h.8M95.4 635.1h.8M104.2 650.3h.8M101.6 653.3h.8M113.7 654.3h.8M101.8 642.2h.8M104.5 651.6h.8M112.3 645.8h.8M98.4 637.6h.8M100.6 654.1h.8M111.9 651.0h.8M97.8 651.0h.8M98.7 645.4h.8M120.1 648.2h.8M104.7 649.2h.8M109.1 646.5h.8M102.1 655.4h.8M100.0 645.3h.8M99.4 641.1h.8M91.8 650.1h.8M96.7 644.8h.8M110.2 652.7h.8M97.3 652.3h.8M104.5 646.6h.8M116.6 649.9h.8M102.7 651.5h.8M106.0 651.5h.8M102.9 648.7h.8M107.3 648.7h.8M103.9 654.4h.8M109.6 650.2h.8M101.4 657.8h.8M95.7 650.6h.8M107.0 643.5h.8M97.2 657.0h.8M108.7 649.6h.8M104.5 652.3h.8M96.7 654.2h.8M92.7 649.1h.8M100.5 645.7h.8M107.5 647.6h.8M112.9 658.5h.8M114.6 655.6h.8M100.4 653.2h.8M94.3 659.6h.8M110.3 653.8h.8M91.9 654.2h.8M104.0 650.3h.8M99.2 635.2h.8M102.3 652.4h.8M101.6 654.4h.8M112.5 650.7h.8M111.1 648.1h.8M101.2 646.3h.8M103.1 656.3h.8M103.4 646.8h.8M106.4 643.5h.8M98.6 654.4h.8M113.7 659.6h.8M99.8 650.5h.8M106.0 656.4h.8M109.5 649.0h.8M95.8 649.4h.8M98.7 659.1h.8M108.2 662.3h.8M111.9 649.9h.8M101.6 639.1h.8M108.5 662.0h.8M102.7 650.2h.8M100.2 647.0h.8M110.4 658.2h.8M100.4 651.1h.8M90.3 644.5h.8M104.0 657.1h.8M104.4 660.7h.8M104.9 650.1h.8M104.4 650.3h.8M95.2 648.5h.8M107.3 657.7h.8M109.3 649.9h.8M112.2 643.2h.8M103.4 654.1h.8M105.8 651.6h.8M99.3 642.4h.8M105.3 656.4h.8M102.6 651.6h.8M110.4 645.5h.8M110.5 651.4h.8M99.4 651.9h.8M107.6 646.7h.8M106.5 646.7h.8M108.5 647.4h.8M101.3 648.7h.8M97.4 650.5h.8M101.8 657.1h.8M105.8 649.8h.8M100.7 648.2h.8M104.6 645.2h.8M105.8 654.8h.8M100.2 652.0h.8M107.1 649.4h.8M95.4 647.6h.8M101.9 645.1h.8M98.6 656.8h.8M102.8 648.8h.8M99.6 651.3h.8M107.1 649.1h.8M105.5 643.9h.8M106.9 651.8h.8M108.0 649.6h.8M103.5 652.6h.8M105.8 643.9h.8M104.1 661.7h.8M106.3 653.4h.8M107.3 652.3h.8M106.1 648.8h.8M108.2 650.9h.8M105.1 655.7h.8M102.3 647.6h.8M100.7 641.0h.8M109.5 651.0h.8M96.8 653.3h.8M104.5 646.6h.8M109.4 646.0h.8M108.2 650.2h.8M109.0 651.2h.8M104.9 648.9h.8M106.7 653.6h.8M103.3 647.7h.8M110.6 646.4h.8M96.1 646.5h.8M102.5 661.3h.8M106.5 656.7h.8M114.8 657.3h.8M114.9 649.0h.8M104.7 657.4h.8M107.4 655.8h.8M93.1 643.0h.8M98.3 649.8h.8M101.1 655.0h.8M112.8 661.9h.8M93.8 641.0h.8M102.8 652.1h.8M109.4 654.3h.8M102.7 653.4h.8M102.3 657.8h.8M100.4 657.7h.8M100.8 650.4h.8M101.3 647.2h.8M106.5 649.2h.8M109.9 657.7h.8M106.2 645.3h.8M103.7 649.4h.8M108.5 635.7h.8M107.4 648.5h.8M104.6 656.6h.8M111.6 647.8h.8M104.0 652.1h.8M108.3 653.2h.8M118.3 660.2h.8M118.1 648.7h.8M111.4 662.0h.8M96.4 651.2h.8M104.4 649.7h.8M106.0 644.4h.8M103.0 645.6h.8M108.1 655.4h.8M113.3 645.7h.8M104.9 651.4h.8M100.5 654.1h.8M105.9 648.2h.8M111.1 652.8h.8M117.7 648.0h.8M104.6 650.4h.8M111.0 645.9h.8M113.5 641.9h.8M104.9 652.2h.8M112.4 649.6h.8M111.8 646.7h.8M106.6 649.0h.8M106.4 642.3h.8M106.2 650.9h.8M100.0 653.5h.8M94.3 653.2h.8M106.0 657.6h.8M113.3 647.7h.8M104.4 645.4h.8M88.8 650.2h.8M111.0 648.7h.8M111.4 647.1h.8M104.3 643.4h.8M96.3 641.0h.8M102.1 649.4h.8M92.1 648.3h.8M99.3 646.0h.8M95.9 637.8h.8M107.6 647.7h.8M102.4 651.0h.8M104.8 651.3h.8M109.8 657.2h.8M106.1 653.5h.8M116.0 649.8h.8M111.9 643.4h.8M104.4 642.3h.8M99.5 649.0h.8M106.6 648.9h.8M109.1 652.9h.8M110.9 641.7h.8M113.1 651.0h.8M98.3 650.6h.8M113.5 652.7h.8M97.0 661.3h.8M106.2 657.4h.8M104.0 651.4h.8M109.9 660.7h.8M103.8 651.8h.8M103.8 645.3h.8M118.6 658.1h.8M102.3 644.6h.8M93.1 650.1h.8M103.2 651.5h.8M113.5 657.7h.8M103.1 643.0h.8M98.4 650.6h.8M99.5 645.5h.8M113.7 658.4h.8M104.2 653.3h.8M112.7 651.9h.8M110.6 651.1h.8M110.5 644.5h.8M100.9 658.5h.8M112.8 644.0h.8M111.4 653.1h.8M108.2 650.7h.8M118.4 649.1h.8M109.8 657.0h.8M97.3 650.2h.8M112.9 646.7h.8M102.8 651.8h.8M113.6 655.9h.8M97.3 645.5h.8M97.9 658.2h.8M101.0 648.8h.8M108.8 654.7h.8M108.8 659.0h.8M109.9 648.8h.8M106.7 656.1h.8M107.6 654.0h.8M109.2 647.8h.8M106.9 642.4h.8M106.0 655.5h.8M95.0 646.3h.8M97.6 649.2h.8M115.3 653.5h.8M103.4 652.1h.8M104.0 653.9h.8M107.2 644.3h.8M98.3 643.0h.8M108.4 645.2h.8M110.1 651.1h.8M93.2 649.8h.8M111.1 653.0h.8M97.6 650.0h.8M117.6 666.4h.8M100.8 649.8h.8M104.8 655.6h.8M115.0 653.0h.8M106.5 647.3h.8M97.7 652.2h.8M95.3 644.4h.8M103.5 652.0h.8M93.4 648.9h.8M104.6 651.0h.8M103.0 653.0h.8M112.5 648.5h.8M98.9 647.4h.8M96.8 645.5h.8M108.0 653.4h.8M101.9 642.8h.8M109.1 653.5h.8M108.3 655.1h.8M114.7 657.3h.8M99.7 635.2h.8M106.4 653.5h.8M103.2 650.1h.8M109.5 651.0h.8M104.9 655.1h.8M107.5 649.8h.8M110.1 652.9h.8M108.0 650.7h.8M106.3 642.4h.8M104.0 658.7h.8M119.7 662.1h.8M102.3 642.0h.8M109.4 656.6h.8M116.0 658.7h.8M105.9 657.3h.8M106.3 652.3h.8M97.3 651.9h.8M113.2 647.8h.8M106.7 643.0h.8M111.0 652.3h.8M102.2 654.7h.8M107.8 648.4h.8M109.9 649.3h.8M114.0 656.6h.8M100.5 645.4h.8M99.7 646.1h.8M101.5 658.3h.8M106.2 642.8h.8M107.9 653.2h.8M114.2 653.0h.8M100.0 652.2h.8M109.1 645.0h.8M103.4 645.5h.8M104.8 648.7h.8M107.4 645.2h.8M96.0 642.1h.8M104.9 662.7h.8M111.1 655.2h.8M102.4 649.1h.8M103.6 657.8h.8M118.4 661.5h.8M108.6 647.9h.8M99.9 650.6h.8M107.6 653.4h.8M102.7 651.5h.8M89.9 651.8h.8M117.8 655.7h.8M114.6 656.9h.8M99.9 637.7h.8M106.2 652.7h.8M101.3 646.7h.8M111.3 654.2h.8M96.0 636.9h.8M112.6 651.3h.8M110.5 651.6h.8M99.5 650.0h.8M103.1 645.5h.8M100.1 645.0h.8M111.5 652.8h.8M107.0 646.7h.8M106.1 653.0h.8M113.8 653.9h.8M108.9 650.3h.8M109.8 645.7h.8M94.8 643.8h.8M105.0 656.1h.8M110.2 645.8h.8M106.7 648.3h.8M98.0 646.8h.8M96.7 650.3h.8M102.8 645.8h.8M102.5 649.0h.8M101.8 647.5h.8M100.7 653.4h.8M98.2 642.4h.8M106.7 659.3h.8M116.7 661.7h.8M99.0 648.7h.8M107.6 653.1h.8M100.6 647.1h.8M112.2 654.7h.8M103.4 653.7h.8M113.7 650.3h.8M117.3 649.5h.8M102.0 654.1h.8M113.2 644.2h.8M104.6 657.5h.8M113.2 654.1h.8M102.4 652.6h.8M103.2 658.1h.8M111.9 648.4h.8M110.5 650.4h.8M108.0 660.7h.8M104.4 641.3h.8M105.1 659.5h.8M111.8 650.7h.8M115.9 650.9h.8M98.0 659.3h.8M103.6 649.0h.8M97.4 647.8h.8M108.2 660.9h.8M112.5 658.5h.8M112.8 648.7h.8M107.8 649.4h.8M101.6 647.4h.8M107.9 655.4h.8M105.6 654.2h.8M114.0 657.8h.8M97.4 656.5h.8M107.3 650.0h.8M106.7 649.1h.8M89.8 646.5h.8M108.3 650.4h.8M104.1 648.8h.8M106.7 645.7h.8M103.5 649.6h.8M108.5 648.7h.8M108.3 651.3h.8M117.3 657.5h.8M107.8 646.0h.8M116.7 650.3h.8M104.9 649.2h.8M103.3 649.1h.8M96.6 643.2h.8M98.7 643.1h.8M100.6 645.2h.8M105.3 656.4h.8M112.2 654.2h.8M100.0 648.5h.8M106.6 648.8h.8M112.6 656.6h.8M106.6 646.4h.8M95.8 647.9h.8M109.2 645.9h.8M102.2 645.6h.8M113.7 654.1h.8M99.2 652.0h.8M106.7 655.1h.8M98.3 657.5h.8M103.1 660.2h.8M102.3 652.9h.8M102.2 645.0h.8M113.0 656.2h.8M116.4 652.8h.8M99.1 651.0h.8M111.4 656.4h.8M98.9 651.3h.8M106.9 652.8h.8M110.1 646.3h.8M96.0 647.4h.8M106.1 638.6h.8M100.7 654.7h.8M105.5 653.1h.8M108.6 652.2h.8M106.4 653.2h.8M98.7 654.4h.8M96.1 649.8h.8M108.7 656.3h.8M97.5 659.9h.8M107.5 652.5h.8M108.2 653.7h.8M107.2 656.1h.8M103.6 654.0h.8M106.2 654.8h.8M107.6 646.3h.8M109.7 647.7h.8M101.7 646.5h.8M106.1 652.3h.8M97.8 646.2h.8M102.3 655.8h.8M109.8 642.5h.8M106.4 664.2h.8M106.8 648.7h.8M109.1 659.8h.8M106.4 652.9h.8M115.0 647.1h.8M111.3 654.7h.8M109.8 644.9h.8M108.5 644.8h.8M97.2 642.7h.8M94.8 639.0h.8M111.1 647.9h.8M102.4 645.5h.8M102.3 646.8h.8M105.2 659.6h.8M105.3 641.4h.8M108.2 659.0h.8M95.4 653.5h.8M94.7 646.4h.8M99.1 645.8h.8M97.8 650.9h.8M105.7 646.2h.8M107.6 655.3h.8M108.6 647.8h.8M104.2 642.5h.8M102.6 649.1h.8M105.9 654.8h.8M103.3 651.2h.8M100.0 654.1h.8M99.6 656.1h.8M106.0 646.5h.8M101.1 645.6h.8M116.6 652.8h.8M123.5 656.7h.8M97.8 652.9h.8M103.2 642.0h.8M110.1 661.1h.8M116.7 648.3h.8M115.1 649.1h.8M102.0 654.9h.8M111.5 649.8h.8M117.1 651.3h.8M119.2 657.2h.8M105.5 647.0h.8M110.1 640.1h.8M112.1 641.0h.8M103.7 651.4h.8M106.3 649.0h.8M79.3 638.1h.8M115.7 654.7h.8M101.4 656.0h.8M116.6 659.7h.8M93.9 647.3h.8M110.2 647.5h.8M106.1 656.4h.8M102.1 650.5h.8M95.2 649.9h.8M99.9 659.9h.8M99.6 642.4h.8M110.5 657.9h.8M106.3 660.3h.8M113.1 628.8h.8M117.2 640.5h.8M107.8 645.9h.8M112.2 651.1h.8M104.6 649.8h.8M112.7 653.4h.8M101.2 659.2h.8M94.5 646.0h.8M84.0 639.4h.8M108.1 652.7h.8M100.2 639.9h.8M132.2 657.1h.8M105.6 645.6h.8M114.2 660.0h.8M112.9 656.5h.8M95.5 653.1h.8M114.2 645.4h.8M107.7 641.3h.8M88.6 642.6h.8M86.6 651.2h.8M111.5 654.8h.8M101.3 640.7h.8M107.5 656.7h.8M113.7 655.3h.8M101.4 646.1h.8M101.5 647.2h.8M107.9 657.0h.8M105.4 652.0h.8M114.4 652.4h.8M96.1 641.8h.8M112.6 648.3h.8M109.2 658.1h.8M116.1 652.5h.8M112.6 670.9h.8M99.2 640.7h.8M115.8 640.5h.8M99.4 648.7h.8M101.9 636.0h.8M113.6 648.8h.8M102.3 650.4h.8M94.8 652.0h.8M96.4 635.1h.8M101.6 648.8h.8M115.4 645.7h.8M107.2 653.5h.8M106.7 654.5h.8M109.5 658.4h.8M109.9 660.0h.8M108.1 646.6h.8M109.3 641.4h.8M104.8 646.1h.8M93.3 644.7h.8M90.8 643.1h.8M111.2 649.7h.8M113.7 647.4h.8M100.4 635.8h.8M108.7 651.3h.8M102.9 649.2h.8M105.2 659.2h.8M107.8 656.9h.8M112.1 653.7h.8M99.5 628.3h.8M88.8 648.7h.8M105.8 647.3h.8M104.9 655.1h.8M105.1 642.4h.8M111.8 641.1h.8M115.6 653.2h.8M102.7 643.1h.8M105.3 640.1h.8M113.1 638.3h.8M99.3 648.7h.8M97.1 648.9h.8M119.4 640.6h.8M93.1 641.6h.8M103.6 652.7h.8M96.5 643.2h.8M101.5 646.3h.8M115.1 644.3h.8M111.1 649.3h.8M105.6 648.7h.8M99.9 657.4h.8M102.6 641.0h.8M111.1 649.6h.8M103.3 635.4h.8M102.6 645.1h.8M91.9 642.6h.8M99.5 648.4h.8M87.9 635.8h.8M97.4 652.9h.8M107.5 651.7h.8M114.1 661.8h.8M114.1 656.7h.8M92.3 649.4h.8M112.8 638.0h.8M99.5 654.6h.8M118.9 660.4h.8M113.0 656.2h.8M99.7 650.4h.8M97.2 637.4h.8M120.0 638.8h.8M97.9 653.0h.8M99.2 644.5h.8M116.4 660.8h.8M111.1 646.7h.8M107.7 650.9h.8M110.9 644.6h.8M91.2 647.0h.8M95.9 644.7h.8M116.1 642.1h.8M112.5 642.0h.8M101.2 643.8h.8M114.8 645.3h.8M100.6 648.4h.8M102.6 656.3h.8M111.5 650.5h.8M105.7 642.8h.8M127.7 654.0h.8M106.6 634.1h.8M101.9 658.8h.8M92.8 654.0h.8M107.8 648.2h.8M110.0 652.3h.8M122.0 643.5h.8M98.3 643.3h.8M98.5 655.5h.8M113.1 657.7h.8M115.0 651.3h.8M97.6 642.9h.8M104.1 651.1h.8M104.7 650.3h.8M100.7 659.6h.8M101.4 661.0h.8M100.1 648.6h.8M118.8 639.3h.8M115.9 659.4h.8M96.5 656.7h.8M107.2 654.8h.8M111.0 649.0h.8M99.5 651.7h.8M92.0 646.0h.8M113.5 654.5h.8M106.8 659.9h.8M113.7 648.3h.8M100.0 632.2h.8M102.4 656.6h.8M99.0 649.9h.8M105.8 644.4h.8M115.0 652.9h.8M124.7 646.9h.8M97.2 644.3h.8M120.7 640.5h.8M115.4 652.2h.8M104.8 646.4h.8M114.8 641.4h.8M104.0 650.3h.8M110.9 648.4h.8M113.8 662.7h.8M110.7 651.8h.8M106.3 653.4h.8M111.2 647.1h.8M98.3 658.0h.8M99.4 642.4h.8M109.2 636.7h.8M118.3 652.3h.8M103.4 645.7h.8M114.5 652.4h.8M111.3 659.4h.8M108.6 647.4h.8M108.5 635.5h.8M95.8 652.1h.8M107.1 646.2h.8M110.5 639.3h.8M119.2 658.3h.8M99.8 659.4h.8M106.7 641.2h.8M98.7 647.8h.8M112.9 651.3h.8M111.8 649.1h.8M98.2 656.7h.8M114.3 641.7h.8M109.6 643.9h.8M108.4 645.5h.8M113.5 648.5h.8M99.1 643.4h.8M106.7 644.4h.8M100.6 656.1h.8M112.9 639.6h.8M102.1 642.4h.8M89.5 651.1h.8M91.2 639.5h.8M98.5 658.3h.8M121.7 650.2h.8M99.2 648.9h.8M119.7 643.0h.8M115.6 653.2h.8M93.1 655.9h.8M116.0 653.0h.8M107.3 648.4h.8M100.9 632.9h.8M103.6 639.1h.8M103.7 643.3h.8M108.5 643.3h.8M114.4 648.6h.8M105.5 649.8h.8M108.1 647.3h.8M113.1 659.9h.8M95.9 652.7h.8M108.3 652.7h.8M102.6 642.6h.8M105.3 653.3h.8M109.0 647.1h.8M110.4 660.2h.8M116.9 637.2h.8M116.9 644.2h.8M106.1 655.8h.8M116.8 654.6h.8M111.2 654.1h.8M99.9 643.2h.8M98.7 644.7h.8M113.3 653.9h.8M113.2 613.8h.8M104.9 617.2h.8M109.0 616.2h.8M115.8 618.0h.8M115.5 612.2h.8M112.7 623.7h.8M122.9 613.8h.8M120.3 613.2h.8M110.2 621.1h.8M101.7 615.4h.8M112.7 614.3h.8M112.0 621.5h.8M106.9 612.8h.8M114.2 617.0h.8M108.0 614.2h.8M108.5 613.0h.8M106.8 617.7h.8M109.8 619.3h.8M113.6 614.8h.8M111.3 615.8h.8M105.1 620.2h.8M108.5 611.1h.8M111.5 611.1h.8M110.4 620.0h.8M122.6 617.2h.8M108.9 612.5h.8M110.7 611.5h.8M119.0 613.4h.8M110.0 610.5h.8M110.0 617.2h.8M110.5 622.0h.8M121.1 612.4h.8M107.1 610.4h.8M107.7 625.3h.8M109.7 615.5h.8M112.7 613.2h.8M97.1 616.8h.8M107.0 623.4h.8M106.8 608.1h.8M102.9 612.4h.8M110.2 622.8h.8M112.9 610.1h.8M113.2 612.8h.8M112.1 608.7h.8M102.9 617.3h.8M105.7 617.0h.8M117.8 609.3h.8M117.7 614.7h.8M116.2 618.5h.8M110.4 619.3h.8M103.6 615.3h.8M110.1 614.6h.8M109.3 619.9h.8M107.6 615.1h.8M115.5 615.7h.8M110.1 616.7h.8M108.4 616.9h.8M104.4 612.8h.8M111.8 614.1h.8M113.2 611.2h.8M108.0 610.1h.8M109.1 612.9h.8M108.7 612.1h.8M103.8 613.8h.8M108.6 609.4h.8M113.3 611.7h.8M113.1 609.1h.8M121.1 616.1h.8M109.2 618.7h.8M108.6 614.6h.8M106.0 618.0h.8M109.8 615.3h.8M112.0 616.7h.8M114.8 604.4h.8M105.4 620.2h.8M116.4 612.4h.8M112.2 619.2h.8M112.1 619.2h.8M112.3 620.9h.8M116.0 608.8h.8M109.3 613.7h.8M116.5 609.5h.8M103.0 610.0h.8M114.6 620.4h.8M110.3 614.0h.8M111.2 612.4h.8M115.2 619.4h.8M104.5 614.6h.8M108.4 609.3h.8M112.2 614.5h.8M109.5 610.2h.8M107.4 613.0h.8M114.3 618.5h.8M107.6 615.4h.8M118.1 608.0h.8M109.3 612.7h.8M108.7 617.4h.8M110.3 615.8h.8M111.2 618.9h.8M115.7 623.6h.8M111.7 617.1h.8M108.0 613.2h.8M116.1 619.0h.8M115.7 613.9h.8M111.9 614.1h.8M110.4 616.1h.8M107.8 616.1h.8M109.2 609.4h.8M113.8 612.0h.8M113.6 612.0h.8M107.1 611.5h.8M106.9 614.5h.8M109.5 613.0h.8M106.7 616.1h.8M113.2 617.0h.8M108.9 611.5h.8M112.0 614.5h.8M114.2 616.0h.8M110.3 610.9h.8M109.2 611.5h.8M120.6 617.8h.8M118.6 615.0h.8M113.0 611.5h.8M112.5 612.0h.8M116.0 611.2h.8M113.7 617.8h.8M113.8 621.1h.8M107.3 613.2h.8M103.9 609.2h.8M105.0 610.5h.8M113.5 616.3h.8M104.0 609.3h.8M117.4 614.8h.8M113.0 609.1h.8M111.3 623.9h.8M109.7 614.5h.8M110.2 615.8h.8M109.1 609.0h.8M116.1 617.7h.8M105.9 617.7h.8M116.0 618.2h.8M115.5 623.1h.8M107.6 610.3h.8M109.4 617.0h.8M114.8 614.1h.8M115.9 610.6h.8M112.4 613.0h.8M106.1 608.4h.8M114.1 614.2h.8M112.9 614.8h.8M120.1 619.8h.8M108.9 621.3h.8M111.2 613.8h.8M115.2 616.9h.8M112.2 610.3h.8M115.1 614.2h.8M105.0 611.0h.8M100.5 612.6h.8M111.8 613.9h.8M109.8 609.3h.8M116.7 621.8h.8M111.4 616.1h.8M113.3 624.4h.8M116.2 614.6h.8M116.6 616.5h.8M107.5 615.6h.8M105.7 620.3h.8M107.2 623.5h.8M110.7 613.4h.8M112.2 608.3h.8M114.3 628.1h.8M108.0 613.5h.8M104.4 630.6h.8M101.6 632.5h.8M103.4 621.4h.8M106.1 627.6h.8M104.0 626.0h.8M112.4 621.6h.8M113.1 612.8h.8M106.8 635.6h.8M104.8 627.6h.8M108.0 636.7h.8M114.0 630.9h.8M104.2 644.2h.8M109.4 629.6h.8M107.0 631.8h.8M107.8 630.5h.8M109.9 642.3h.8M107.3 613.3h.8M104.1 629.5h.8M107.8 630.4h.8M115.2 642.6h.8M108.4 625.3h.8M113.0 627.2h.8M108.8 649.5h.8M104.3 630.9h.8M111.1 628.8h.8M109.5 622.3h.8M109.8 628.1h.8M106.0 627.0h.8M109.5 626.8h.8M106.2 637.3h.8M111.5 628.2h.8M109.7 637.7h.8M105.3 627.4h.8M109.7 618.4h.8M109.4 620.1h.8M110.0 618.6h.8M113.8 622.4h.8M109.2 629.5h.8M114.9 632.7h.8M103.6 615.3h.8M105.6 615.7h.8M109.8 626.0h.8M113.9 622.5h.8M108.1 637.1h.8M109.6 625.4h.8M114.1 621.6h.8M109.0 631.2h.8M111.9 643.4h.8M109.4 628.9h.8M108.1 637.3h.8M109.0 625.2h.8M111.7 634.1h.8M108.4 635.5h.8M107.0 622.6h.8M108.8 619.9h.8M105.6 648.1h.8M112.3 645.0h.8M103.8 630.0h.8M107.0 634.5h.8M110.0 629.6h.8M110.7 629.8h.8M105.8 626.7h.8M108.8 636.3h.8M115.6 636.1h.8M110.4 641.0h.8M105.1 628.0h.8M108.4 620.7h.8M111.4 632.1h.8M110.8 621.9h.8M107.9 629.2h.8M104.4 634.1h.8M111.6 633.5h.8M108.0 623.0h.8M110.0 632.8h.8M106.2 628.7h.8M110.2 628.3h.8M105.4 609.5h.8M102.6 626.3h.8M109.1 625.0h.8M111.8 617.7h.8M108.7 624.8h.8M108.7 622.7h.8M106.7 638.0h.8M108.0 638.4h.8M103.5 627.6h.8M102.1 617.8h.8M103.4 612.7h.8M105.3 628.9h.8M109.6 636.4h.8M105.8 634.0h.8M114.0 636.3h.8M107.7 627.1h.8M109.2 623.0h.8M108.1 631.1h.8M108.8 635.5h.8M113.4 620.4h.8M107.5 637.3h.8M105.3 626.5h.8M101.9 610.1h.8M106.6 631.8h.8M113.4 619.7h.8M112.7 639.9h.8M107.1 630.8h.8M102.7 630.8h.8M106.4 622.0h.8M103.7 636.7h.8M103.6 630.6h.8M107.6 629.8h.8M98.5 644.8h.8M76.2 646.7h.8M81.7 654.1h.8M92.8 642.1h.8M97.7 624.4h.8M80.1 645.3h.8M85.9 645.7h.8M83.3 642.6h.8M81.5 646.2h.8M83.2 643.8h.8M81.3 640.7h.8M79.0 654.1h.8M79.5 653.1h.8M94.4 642.0h.8M88.8 657.4h.8M84.7 640.1h.8M92.4 644.2h.8M80.6 642.8h.8M84.5 674.3h.8M84.4 650.9h.8M84.1 648.4h.8M80.0 653.1h.8M85.5 653.1h.8M103.3 634.2h.8M89.6 643.2h.8M79.5 642.2h.8M86.8 643.7h.8M86.6 650.1h.8M87.8 645.1h.8M84.6 638.6h.8M88.0 647.0h.8M87.0 638.7h.8M88.2 648.9h.8M91.9 646.8h.8M88.6 630.3h.8M87.6 653.0h.8M83.3 644.1h.8M89.9 631.3h.8M89.7 642.9h.8M82.8 629.3h.8" stroke="#d82030" stroke-width=".8" stroke-opacity=".72"/>
<path d="M104.1 651.2h.7M78.8 645.9h.7M139.2 647.3h.7M147.1 652.1h.7M141.4 640.7h.7M128.5 625.8h.7M108.9 646.0h.7M138.1 633.2h.7M125.2 593.2h.7M77.0 637.3h.7M157.7 653.2h.7M124.5 591.1h.7M129.5 653.3h.7M81.2 618.2h.7M122.1 656.9h.7M92.3 641.6h.7M155.2 594.4h.7M101.5 616.1h.7M116.0 631.3h.7M102.3 629.0h.7M158.1 618.3h.7M70.7 629.7h.7M109.0 628.1h.7M72.8 611.7h.7M156.5 587.7h.7M99.8 610.7h.7M86.5 620.1h.7M86.6 648.4h.7M112.4 626.9h.7M154.0 653.7h.7M107.3 606.7h.7M131.5 618.1h.7M129.7 659.5h.7M100.0 626.6h.7M148.0 608.3h.7M124.3 642.7h.7M145.1 636.6h.7M97.8 637.3h.7M105.4 612.2h.7M115.3 633.1h.7" stroke="#e08080" stroke-width=".7" stroke-opacity=".45"/>
</g>
<rect x="69.5" y="583.4" width="92.30000000000001" height="77.60000000000002" fill="none" stroke="#6a6a6a" stroke-width="0.9"/>
<line x1="93.5" y1="583.4" x2="93.5" y2="661" stroke="#5a5a5a" stroke-width="0.8"/>
<line x1="69.5" y1="635.7" x2="161.8" y2="635.7" stroke="#5a5a5a" stroke-width="0.8"/>
<path d="M69.5 659.0h-2.6M69.5 654.2h-1.5M69.5 651.4h-1.5M69.5 649.4h-1.5M69.5 647.8h-1.5M69.5 646.5h-1.5M69.5 645.5h-1.5M69.5 644.6h-1.5M69.5 643.7h-1.5M69.5 643.0h-2.6M69.5 638.2h-1.5M69.5 635.4h-1.5M69.5 633.4h-1.5M69.5 631.8h-1.5M69.5 630.5h-1.5M69.5 629.5h-1.5M69.5 628.6h-1.5M69.5 627.7h-1.5M69.5 627.0h-2.6M69.5 622.2h-1.5M69.5 619.4h-1.5M69.5 617.4h-1.5M69.5 615.8h-1.5M69.5 614.5h-1.5M69.5 613.5h-1.5M69.5 612.6h-1.5M69.5 611.7h-1.5M69.5 611.0h-2.6M69.5 606.2h-1.5M69.5 603.4h-1.5M69.5 601.4h-1.5M69.5 599.8h-1.5M69.5 598.5h-1.5M69.5 597.5h-1.5M69.5 596.6h-1.5M69.5 595.7h-1.5M69.5 595.0h-2.6M69.5 590.2h-1.5M69.5 587.4h-1.5M71.5 661.0v2.6M77.3 661.0v1.5M80.7 661.0v1.5M83.1 661.0v1.5M84.9 661.0v1.5M86.4 661.0v1.5M87.7 661.0v1.5M88.8 661.0v1.5M89.8 661.0v1.5M90.7 661.0v2.6M96.5 661.0v1.5M99.9 661.0v1.5M102.3 661.0v1.5M104.1 661.0v1.5M105.6 661.0v1.5M106.9 661.0v1.5M108.0 661.0v1.5M109.0 661.0v1.5M109.9 661.0v2.6M115.7 661.0v1.5M119.0 661.0v1.5M121.4 661.0v1.5M123.3 661.0v1.5M124.8 661.0v1.5M126.1 661.0v1.5M127.2 661.0v1.5M128.2 661.0v1.5M129.1 661.0v2.6M134.9 661.0v1.5M138.2 661.0v1.5M140.6 661.0v1.5M142.5 661.0v1.5M144.0 661.0v1.5M145.3 661.0v1.5M146.4 661.0v1.5M147.4 661.0v1.5M148.3 661.0v2.6M154.1 661.0v1.5M157.4 661.0v1.5" stroke="#3a3a3a" stroke-width=".65"/>
<text x="70.8" y="591.8" font-size="8.2" font-weight="bold" text-anchor="start" fill="#000">0.2</text>
<text x="160.20000000000002" y="591.8" font-size="8.2" font-weight="bold" text-anchor="end" fill="#000">6.0</text>
<text x="70.8" y="659.2" font-size="8.2" font-weight="bold" text-anchor="start" fill="#000">2.0</text>
<text x="159.70000000000002" y="659.2" font-size="8.2" font-weight="bold" text-anchor="end" fill="#000">91.8</text>
<defs><clipPath id="s33"><rect x="169.8" y="583.4" width="91.80000000000001" height="77.60000000000002"/></clipPath></defs>
<g clip-path="url(#s33)">
<ellipse cx="205.4" cy="653.0" rx="11" ry="9" fill="url(#rg)" opacity="0.95"/>
<ellipse cx="205.4" cy="653.0" rx="6" ry="5" fill="url(#rg)" opacity="0.75"/>
<path d="M206.8 650.6h.8M207.5 652.5h.8M199.9 654.0h.8M205.1 653.8h.8M211.8 653.9h.8M201.6 649.4h.8M209.0 648.3h.8M206.3 653.3h.8M201.4 651.8h.8M207.3 650.1h.8M203.7 653.3h.8M200.9 648.6h.8M208.7 652.8h.8M200.4 651.2h.8M212.2 648.7h.8M208.3 654.7h.8M204.8 653.7h.8M203.0 656.1h.8M211.4 650.4h.8M204.7 652.3h.8M203.2 652.7h.8M201.8 653.1h.8M204.3 651.7h.8M207.0 655.0h.8M202.0 653.7h.8M208.5 652.2h.8M210.8 650.7h.8M203.5 652.8h.8M203.0 655.7h.8M206.1 657.2h.8M201.7 648.6h.8M210.1 649.7h.8M209.2 650.3h.8M206.3 655.6h.8M205.2 648.6h.8M203.7 655.1h.8M206.1 654.2h.8M205.7 652.9h.8M204.7 648.9h.8M207.3 652.9h.8M198.5 650.8h.8M208.8 658.3h.8M200.7 651.5h.8M207.4 654.6h.8M203.0 653.1h.8M204.0 651.6h.8M203.5 652.6h.8M204.1 652.7h.8M205.1 654.7h.8M211.3 652.8h.8M202.8 650.9h.8M203.5 646.8h.8M205.5 650.6h.8M208.6 652.2h.8M208.7 654.8h.8M203.7 650.7h.8M203.6 650.4h.8M208.3 651.0h.8M203.9 649.4h.8M210.3 651.8h.8M204.8 649.3h.8M206.2 649.8h.8M203.0 645.6h.8M199.6 651.5h.8M208.0 647.5h.8M205.9 652.6h.8M216.0 650.8h.8M203.0 648.4h.8M208.2 655.5h.8M204.4 656.2h.8M212.7 651.8h.8M207.3 651.7h.8M203.1 650.2h.8M204.5 648.0h.8M205.0 654.2h.8M202.1 649.9h.8M202.2 652.5h.8M205.0 654.6h.8M204.3 647.5h.8M207.3 651.4h.8M209.4 654.8h.8M196.2 644.6h.8M205.5 649.8h.8M197.5 649.1h.8M209.9 654.6h.8M202.3 652.3h.8M208.9 652.0h.8M211.6 650.9h.8M212.7 657.7h.8M207.2 652.9h.8M205.5 649.2h.8M208.8 656.3h.8M208.1 653.3h.8M205.8 649.3h.8M203.1 647.3h.8M207.1 649.6h.8M208.3 650.5h.8M210.4 657.4h.8M210.7 656.3h.8M204.3 650.9h.8M202.8 652.5h.8M211.2 649.8h.8M213.9 651.8h.8M201.3 652.3h.8M209.1 651.6h.8M201.8 656.5h.8M201.5 654.2h.8M205.9 651.0h.8M205.5 648.8h.8M201.5 652.2h.8M201.7 649.1h.8M210.5 658.1h.8M209.3 655.3h.8M204.5 652.1h.8M202.8 643.3h.8M206.1 652.8h.8M208.8 649.1h.8M209.4 651.1h.8M201.0 650.5h.8M208.6 652.5h.8M206.9 649.6h.8M207.0 655.1h.8M202.3 652.7h.8M200.6 651.8h.8M200.1 652.2h.8M205.3 648.7h.8M206.6 649.3h.8M205.7 649.3h.8M207.2 650.6h.8M210.4 654.2h.8M207.2 648.4h.8M198.1 648.4h.8M211.7 650.3h.8M209.7 656.4h.8M203.3 651.0h.8M210.0 652.0h.8M204.0 650.1h.8M205.6 651.7h.8M209.7 653.4h.8M209.5 652.4h.8M214.2 653.2h.8M204.9 649.6h.8M199.5 648.4h.8M206.1 649.2h.8M208.3 647.7h.8M199.6 651.9h.8M206.7 648.9h.8M209.2 656.7h.8M206.7 648.5h.8M209.8 651.9h.8M204.8 653.3h.8M203.0 656.0h.8M203.3 654.8h.8M208.1 657.7h.8M207.2 654.9h.8M204.1 651.1h.8M203.4 653.9h.8M203.2 656.1h.8M205.1 648.6h.8M203.2 655.1h.8M203.8 653.6h.8M200.0 652.5h.8M208.2 654.1h.8M208.3 649.8h.8M199.8 647.4h.8M208.5 653.9h.8M208.4 651.1h.8M208.4 648.2h.8M207.1 649.5h.8M204.2 653.9h.8M208.7 652.4h.8M204.5 656.0h.8M209.3 651.0h.8M206.7 651.9h.8M209.1 654.3h.8M207.3 652.9h.8M203.9 655.3h.8M207.2 645.9h.8M204.5 653.0h.8M203.2 649.3h.8M203.6 653.0h.8M202.5 652.9h.8M210.5 656.0h.8M209.2 652.4h.8M209.9 653.2h.8M208.9 649.6h.8M210.1 651.4h.8M205.9 655.5h.8M205.8 651.0h.8M205.2 655.5h.8M209.6 655.0h.8M203.6 650.8h.8M208.0 654.9h.8M203.2 649.9h.8M208.1 655.9h.8M206.0 648.9h.8M211.2 653.4h.8M207.3 646.3h.8M203.2 651.3h.8M206.7 649.8h.8M200.2 646.4h.8M204.2 652.7h.8M206.4 647.2h.8M203.0 651.3h.8M208.9 654.2h.8M206.3 647.3h.8M209.2 652.4h.8M206.1 650.2h.8M204.7 650.9h.8M204.0 649.2h.8M207.7 655.0h.8M203.5 649.2h.8M202.5 650.6h.8M210.3 652.4h.8M211.7 649.4h.8M201.6 649.0h.8M202.4 652.4h.8M211.4 650.9h.8M206.5 656.0h.8M213.7 654.0h.8M208.8 656.4h.8M205.7 653.7h.8M204.2 649.2h.8M203.4 655.0h.8M210.1 653.6h.8M201.2 654.9h.8M205.5 656.4h.8M205.8 648.8h.8M204.5 650.0h.8M211.0 646.4h.8M203.4 650.8h.8M198.4 652.1h.8M207.6 654.9h.8M208.4 652.3h.8M208.7 651.4h.8M205.6 652.8h.8M205.7 653.6h.8M203.2 651.4h.8M203.5 651.9h.8M206.6 650.1h.8M210.5 658.6h.8M207.4 652.7h.8M203.4 651.3h.8M204.8 654.0h.8M205.5 654.2h.8M207.5 651.1h.8M201.0 648.0h.8M201.9 651.5h.8M209.6 650.2h.8M207.8 652.0h.8M209.9 659.4h.8M209.3 653.8h.8M207.3 656.3h.8M204.6 649.8h.8M206.2 657.0h.8M203.2 655.1h.8M208.7 652.1h.8M202.9 647.0h.8M201.6 652.0h.8M208.1 650.8h.8M203.6 649.6h.8M214.0 649.6h.8M200.4 654.3h.8M201.7 654.4h.8M202.6 654.6h.8M210.3 651.6h.8M205.4 649.2h.8M208.5 651.7h.8M202.2 652.8h.8M206.7 652.1h.8M203.9 654.6h.8M203.1 649.1h.8M204.6 653.4h.8M204.1 649.9h.8M201.8 649.0h.8M203.1 657.4h.8M199.2 649.6h.8M205.6 649.4h.8M201.2 652.9h.8M210.2 656.0h.8M205.4 650.7h.8M207.7 647.5h.8M202.4 655.7h.8M206.9 652.7h.8M204.7 650.7h.8M202.4 653.2h.8M207.1 653.8h.8M196.9 654.3h.8M208.4 657.1h.8M203.4 645.3h.8M200.8 648.6h.8M212.4 651.0h.8M203.8 654.6h.8M208.5 655.4h.8M203.8 657.2h.8M206.8 649.8h.8M206.8 648.1h.8M201.0 649.2h.8M201.2 649.8h.8M203.1 650.2h.8M202.3 654.8h.8M201.9 649.8h.8M202.2 649.7h.8M200.9 657.4h.8M204.4 654.2h.8M204.1 648.0h.8M203.6 649.7h.8M201.1 651.6h.8M211.1 653.5h.8M209.1 656.4h.8M198.7 656.5h.8M200.8 656.6h.8M206.2 654.0h.8M213.2 656.5h.8M199.9 645.8h.8M201.3 654.3h.8M206.6 654.9h.8M207.0 655.9h.8M201.8 646.0h.8M203.1 654.0h.8M201.9 644.5h.8M203.5 653.7h.8M206.9 651.2h.8M203.6 645.5h.8M205.2 657.5h.8M203.5 656.4h.8M200.9 649.9h.8M203.5 651.4h.8M198.8 654.1h.8M203.9 645.1h.8M207.2 652.4h.8M200.5 650.5h.8M207.8 654.1h.8M206.2 649.9h.8M206.1 655.7h.8M212.8 655.0h.8M208.1 655.3h.8M204.4 646.7h.8M203.3 651.0h.8M206.0 651.8h.8M202.4 649.3h.8M203.8 648.4h.8M201.5 645.3h.8M202.9 650.8h.8M201.7 649.3h.8M204.2 647.2h.8M201.5 647.3h.8M205.3 647.3h.8M203.9 644.4h.8M209.9 653.1h.8M201.1 649.9h.8M210.7 652.1h.8M199.0 649.8h.8M202.6 652.2h.8M205.1 646.5h.8M205.5 654.3h.8M209.7 653.3h.8M211.4 656.9h.8M207.7 656.7h.8M196.3 653.9h.8M210.2 652.3h.8M208.0 650.3h.8M204.6 651.1h.8M201.5 650.5h.8M199.0 650.3h.8M211.1 658.3h.8M205.1 656.9h.8M206.6 648.3h.8M203.0 651.2h.8M205.1 653.7h.8M202.7 650.2h.8M208.9 652.9h.8M206.7 651.9h.8M207.8 654.5h.8M202.6 654.8h.8M203.1 652.6h.8M204.3 653.7h.8M206.4 653.8h.8M205.9 651.7h.8M206.1 652.1h.8M202.5 646.9h.8M207.2 656.1h.8M202.0 652.9h.8M203.3 652.2h.8M208.5 653.6h.8M204.6 646.1h.8M204.6 651.8h.8M209.7 650.6h.8M205.0 652.4h.8M209.7 649.2h.8M208.2 652.1h.8M203.0 647.5h.8M202.0 653.8h.8M203.5 648.8h.8M203.9 655.6h.8M208.8 654.9h.8M208.7 654.8h.8M203.9 648.5h.8M209.6 652.3h.8M205.8 650.7h.8M208.3 658.0h.8M202.9 651.3h.8M205.7 654.3h.8M205.3 651.2h.8M201.8 650.6h.8M201.1 653.9h.8M204.6 658.9h.8M201.4 645.4h.8M210.9 655.0h.8M197.3 662.3h.8M204.4 656.3h.8M203.1 654.0h.8M212.0 649.8h.8M207.6 655.7h.8M217.7 657.9h.8M213.9 655.4h.8M209.8 654.7h.8M204.4 642.1h.8M195.6 651.2h.8M208.5 652.0h.8M202.1 648.1h.8M197.9 655.5h.8M195.5 657.3h.8M202.8 662.9h.8M208.3 649.9h.8M206.1 648.7h.8M214.4 652.3h.8M206.7 646.8h.8M208.7 644.2h.8M201.2 656.2h.8M192.8 650.2h.8M212.2 652.5h.8M213.9 658.3h.8M208.1 643.5h.8M202.3 648.7h.8M211.1 651.2h.8M203.3 644.0h.8M203.7 651.4h.8M190.3 647.7h.8M207.0 649.4h.8M203.8 647.4h.8M210.0 648.5h.8M211.7 653.2h.8M193.3 646.9h.8M206.3 654.6h.8M205.3 649.7h.8M209.5 658.8h.8M193.9 645.4h.8M214.7 653.3h.8M198.9 657.6h.8M216.4 651.2h.8M209.2 651.2h.8M206.9 655.5h.8M203.2 649.8h.8M202.9 641.7h.8M207.5 654.8h.8M205.7 650.7h.8M209.5 647.7h.8M198.4 651.5h.8M205.6 658.9h.8M196.2 648.7h.8M197.4 659.4h.8M202.3 653.7h.8M191.5 643.5h.8M209.3 649.1h.8M201.1 653.1h.8M205.5 651.1h.8M206.4 648.3h.8M213.9 656.9h.8M204.0 648.6h.8M193.9 643.2h.8M212.7 646.0h.8M202.4 658.2h.8M211.2 653.2h.8M207.3 649.4h.8M206.0 650.9h.8M212.8 655.6h.8M200.6 656.7h.8M210.1 656.9h.8M212.6 655.8h.8M206.5 657.4h.8M212.2 650.9h.8M204.4 652.1h.8M208.5 651.3h.8M197.2 655.4h.8M201.5 644.8h.8M200.4 650.4h.8M204.0 639.5h.8M196.1 641.6h.8M200.6 650.6h.8M201.2 659.5h.8M210.2 658.6h.8M209.4 645.5h.8M208.1 644.3h.8M199.4 651.0h.8M205.6 654.0h.8M203.9 656.0h.8M210.3 653.6h.8M201.3 647.7h.8M211.9 666.2h.8M203.0 651.7h.8M200.6 638.7h.8M209.4 652.7h.8M209.8 649.0h.8M200.8 657.7h.8M200.2 653.7h.8M211.3 652.2h.8M202.3 651.8h.8M195.2 648.1h.8M203.4 644.0h.8M203.9 655.1h.8M219.2 648.1h.8M208.2 653.7h.8M203.9 648.2h.8M208.6 655.2h.8M197.2 657.1h.8M204.8 651.6h.8M202.3 656.6h.8M197.8 647.6h.8M206.4 646.9h.8M204.1 653.4h.8M212.5 651.4h.8M202.8 652.9h.8M206.2 646.3h.8M210.6 650.6h.8M200.3 654.9h.8M208.9 647.9h.8M209.5 648.4h.8M202.2 645.8h.8M210.5 651.2h.8M208.9 645.3h.8M202.9 642.4h.8M201.5 648.3h.8M204.1 643.2h.8M211.3 643.9h.8M212.1 651.3h.8M211.3 646.8h.8M205.8 653.6h.8M218.0 655.0h.8M215.7 654.4h.8M213.9 652.6h.8M206.3 656.1h.8M198.6 642.6h.8M207.2 662.2h.8M214.8 653.7h.8M210.0 653.6h.8M208.7 659.2h.8M199.7 645.2h.8M195.0 645.9h.8M212.5 652.7h.8M198.7 647.6h.8M203.6 656.4h.8M209.2 654.4h.8M213.7 655.8h.8M213.0 649.4h.8M200.9 649.4h.8M218.5 648.6h.8M207.6 654.8h.8M200.8 645.1h.8M218.5 653.3h.8M204.2 653.3h.8M206.9 645.0h.8M195.9 649.0h.8M201.4 650.6h.8M199.0 662.8h.8M208.7 661.8h.8M203.2 650.8h.8M203.4 651.8h.8M209.0 650.0h.8M200.2 647.6h.8M205.1 655.6h.8M196.9 646.4h.8M208.3 658.4h.8M203.2 652.4h.8M204.5 649.9h.8M206.5 648.7h.8M204.1 649.4h.8M214.7 652.5h.8M215.2 652.1h.8M206.3 647.2h.8M206.5 657.9h.8M214.8 647.4h.8M219.9 654.9h.8M208.4 656.2h.8M205.7 646.9h.8M205.7 649.3h.8M216.7 653.1h.8M192.1 655.2h.8M208.9 651.3h.8M194.3 664.8h.8M203.3 648.9h.8M201.9 651.1h.8M204.8 652.4h.8M208.2 651.5h.8M211.9 647.0h.8M210.9 653.7h.8M205.5 654.5h.8M206.9 652.3h.8M202.7 646.5h.8M196.7 643.5h.8M201.6 654.2h.8M204.0 651.3h.8M199.0 642.5h.8M205.7 662.1h.8M198.6 656.0h.8M198.3 643.8h.8M199.6 645.6h.8M209.8 652.2h.8M205.3 648.0h.8M210.2 660.0h.8M206.6 649.0h.8M198.8 648.0h.8M197.6 655.8h.8M200.6 655.5h.8M198.0 653.7h.8M208.7 655.1h.8M207.1 646.2h.8M221.3 646.9h.8M211.9 651.2h.8M198.9 653.7h.8M213.8 657.2h.8M197.5 646.0h.8M208.6 653.3h.8M210.7 650.7h.8M194.7 643.0h.8M206.5 645.7h.8M196.6 651.9h.8M212.8 648.5h.8M203.6 649.6h.8M210.1 650.0h.8M203.2 649.8h.8M197.5 655.4h.8M213.8 652.2h.8M205.6 651.6h.8M205.0 646.9h.8M208.8 654.6h.8M210.9 646.7h.8M205.9 644.3h.8M215.6 644.9h.8M204.0 657.7h.8M194.6 649.3h.8M194.9 653.1h.8M202.6 647.2h.8M199.2 652.0h.8M205.5 653.9h.8M209.7 648.5h.8M206.5 657.1h.8M208.1 653.2h.8M205.9 648.8h.8M205.4 650.7h.8M219.9 652.1h.8M199.6 651.9h.8M204.1 647.8h.8M210.2 651.0h.8M200.7 653.0h.8M217.0 659.3h.8M207.0 652.8h.8M205.3 654.5h.8M204.3 652.6h.8M204.5 651.9h.8M193.7 649.0h.8M202.1 648.9h.8M207.6 645.3h.8M200.2 650.9h.8M205.7 655.4h.8M207.3 643.5h.8M207.7 650.6h.8M206.1 655.9h.8M205.9 650.1h.8M195.9 647.2h.8M210.1 654.2h.8M198.1 643.1h.8M203.0 652.7h.8M200.9 656.7h.8M217.8 647.6h.8M217.2 662.2h.8M193.3 640.9h.8M204.3 650.6h.8M200.1 649.9h.8M209.7 647.2h.8M191.8 646.9h.8M209.7 658.6h.8M211.4 638.4h.8M198.0 648.9h.8M200.0 652.5h.8M207.7 655.4h.8M213.6 649.6h.8M215.7 645.8h.8M199.0 644.6h.8M200.1 653.3h.8M215.3 645.5h.8M209.8 657.6h.8M207.2 641.6h.8M208.2 656.0h.8M195.0 647.1h.8M212.0 654.0h.8M212.5 658.7h.8M198.3 644.3h.8M211.2 650.7h.8M210.9 655.0h.8M200.9 655.0h.8M208.3 648.6h.8M202.5 647.8h.8M207.1 655.8h.8M208.4 650.5h.8M196.9 649.8h.8M204.4 647.3h.8M199.6 657.2h.8M213.9 645.1h.8M210.6 653.2h.8M215.4 648.1h.8M210.5 648.5h.8M203.2 651.0h.8M210.2 651.7h.8M195.2 652.6h.8M204.4 648.9h.8M194.2 646.2h.8M211.3 657.2h.8M207.2 646.2h.8M209.0 646.6h.8M209.1 648.2h.8M195.3 650.6h.8M205.6 651.2h.8M199.1 644.1h.8M211.1 650.9h.8M214.1 659.6h.8M198.0 647.2h.8M187.1 646.7h.8M200.4 650.4h.8M202.2 647.0h.8M199.4 645.3h.8M211.5 654.3h.8M217.1 656.0h.8M202.0 647.3h.8M214.0 642.5h.8M205.0 649.3h.8M192.0 653.3h.8M204.7 649.1h.8M199.4 649.1h.8M203.8 655.0h.8M202.6 661.7h.8M201.1 650.4h.8M200.9 653.8h.8M202.2 657.0h.8M210.9 653.5h.8M194.9 648.7h.8M204.3 653.4h.8M196.4 652.1h.8M208.8 650.7h.8M206.5 648.2h.8M210.4 645.5h.8M200.6 662.1h.8M204.3 650.1h.8M199.2 648.2h.8M206.4 645.0h.8M196.2 647.0h.8M214.4 650.7h.8M220.5 659.2h.8M208.9 649.1h.8M208.2 665.7h.8M197.2 651.4h.8M215.3 657.3h.8M206.0 648.8h.8M210.8 643.2h.8M216.0 648.5h.8M193.2 647.2h.8M204.1 648.7h.8M195.1 645.2h.8M209.4 653.0h.8M211.8 652.5h.8M198.4 648.0h.8M205.4 651.8h.8M206.9 652.3h.8M209.2 655.0h.8M200.3 655.6h.8M209.1 649.7h.8M206.3 649.9h.8M206.4 641.8h.8M193.7 652.9h.8M202.9 657.0h.8M214.1 653.9h.8M216.6 648.3h.8M206.7 645.1h.8M206.7 656.9h.8M206.7 652.9h.8M199.7 651.5h.8M201.0 651.0h.8M201.3 655.0h.8M209.3 653.8h.8M210.6 658.3h.8M205.8 647.9h.8M202.0 658.7h.8M207.9 646.2h.8M199.3 656.0h.8M204.1 659.3h.8M214.6 651.4h.8M203.7 646.2h.8M209.9 644.9h.8M207.8 649.3h.8M214.1 650.4h.8M200.3 652.6h.8M198.7 652.7h.8M202.9 647.1h.8M202.7 648.7h.8M197.1 651.8h.8M204.1 647.1h.8M212.4 652.7h.8M214.5 643.3h.8M212.9 652.5h.8M215.0 652.8h.8M202.2 647.2h.8M207.5 643.5h.8M202.9 645.4h.8M219.0 655.5h.8M203.4 635.9h.8M204.2 647.3h.8M204.3 650.3h.8M200.2 643.1h.8M202.7 649.2h.8M204.1 649.9h.8M207.0 646.5h.8M209.8 649.1h.8M205.6 648.2h.8M206.2 658.3h.8M207.6 651.6h.8M205.5 647.7h.8M197.4 638.9h.8M205.3 652.8h.8M208.7 641.6h.8M199.6 651.3h.8M201.9 653.1h.8M210.0 644.8h.8M209.6 650.5h.8M201.5 651.2h.8M200.6 641.5h.8M209.7 653.8h.8M207.9 651.7h.8M196.3 648.8h.8M214.5 653.9h.8M205.0 651.7h.8M203.5 650.4h.8M204.8 647.1h.8M203.5 649.8h.8M204.8 662.2h.8M202.4 643.7h.8M203.6 641.4h.8M215.2 648.9h.8M203.4 650.9h.8M209.9 648.3h.8M206.7 649.5h.8M204.4 653.1h.8M200.7 656.8h.8M204.0 654.6h.8M201.4 649.7h.8M200.1 653.3h.8M204.7 647.1h.8M198.4 660.1h.8M207.8 654.6h.8M212.6 654.6h.8M213.3 651.9h.8M207.4 660.0h.8M198.6 651.0h.8M202.0 658.3h.8M203.8 651.8h.8M206.2 647.0h.8M203.4 647.5h.8M211.0 648.7h.8M212.3 653.9h.8M210.5 658.6h.8M211.2 654.4h.8M201.8 649.9h.8M206.4 655.3h.8M205.9 650.3h.8M217.1 655.6h.8M209.1 648.6h.8M202.6 648.5h.8M199.8 650.2h.8M207.1 647.8h.8M202.4 655.4h.8M195.9 648.6h.8M214.3 656.7h.8M209.6 660.3h.8M213.9 656.3h.8M201.9 644.3h.8M200.6 656.4h.8M201.5 647.9h.8M211.8 650.5h.8M207.5 644.5h.8M201.7 647.1h.8M200.8 642.1h.8M200.0 653.9h.8M205.8 654.6h.8M200.7 658.9h.8M201.4 648.3h.8M207.7 648.9h.8M206.3 658.5h.8M208.5 649.5h.8M212.9 649.6h.8M203.1 652.3h.8M207.9 641.5h.8M207.8 649.1h.8M197.9 643.6h.8M198.2 641.6h.8M210.1 657.9h.8M204.1 650.3h.8M205.0 656.3h.8M207.6 659.7h.8M208.3 658.5h.8M196.2 644.7h.8M206.2 650.0h.8M200.3 644.6h.8M196.3 649.4h.8M203.0 654.2h.8M201.9 650.6h.8M208.7 655.5h.8M202.4 650.6h.8M216.3 641.7h.8M207.6 653.1h.8M203.9 642.1h.8M205.2 647.6h.8M202.5 646.5h.8M198.7 649.6h.8M197.3 653.4h.8M206.0 648.7h.8M205.8 655.3h.8M203.6 655.1h.8M221.4 655.0h.8M208.9 649.5h.8M206.3 648.1h.8M215.3 649.5h.8M209.3 648.6h.8M206.0 646.5h.8M199.0 656.3h.8M211.4 652.9h.8M203.0 649.6h.8M198.2 650.3h.8M213.4 648.0h.8M219.2 654.2h.8M214.4 654.9h.8M198.3 643.1h.8M213.7 657.9h.8M199.3 659.9h.8M204.0 666.8h.8M202.3 654.9h.8M205.3 646.6h.8M208.9 646.6h.8M198.0 648.1h.8M194.9 641.1h.8M201.8 650.4h.8M209.6 657.4h.8M203.9 659.3h.8M208.3 647.4h.8M214.5 658.9h.8M205.7 645.1h.8M209.1 648.4h.8M193.8 645.9h.8M204.9 648.9h.8M209.0 657.5h.8M197.9 648.0h.8M212.5 632.7h.8M216.8 651.7h.8M230.0 658.3h.8M198.4 648.2h.8M203.6 651.4h.8M193.2 648.3h.8M203.5 646.3h.8M210.1 650.4h.8M223.3 653.8h.8M212.6 645.5h.8M200.4 658.6h.8M201.3 639.5h.8M195.5 640.8h.8M196.3 641.4h.8M216.7 648.8h.8M210.6 663.9h.8M200.2 643.3h.8M191.2 653.8h.8M208.9 636.4h.8M216.9 657.2h.8M182.2 635.9h.8M212.5 641.8h.8M202.8 651.7h.8M207.9 644.4h.8M211.2 658.5h.8M202.9 667.1h.8M212.0 652.9h.8M195.8 640.4h.8M198.9 654.2h.8M197.5 656.6h.8M214.9 646.1h.8M205.7 659.8h.8M199.4 632.5h.8M200.7 649.6h.8M215.3 654.6h.8M229.2 661.1h.8M210.5 659.1h.8M218.5 653.7h.8M214.9 656.0h.8M209.6 650.5h.8M198.0 647.5h.8M199.2 653.5h.8M207.9 641.6h.8M205.6 646.9h.8M194.2 642.5h.8M207.6 659.8h.8M206.5 652.9h.8M218.5 659.1h.8M208.1 654.0h.8M204.8 646.3h.8M206.3 650.0h.8M214.9 655.0h.8M214.4 638.9h.8M202.8 647.4h.8M195.4 630.5h.8M209.6 663.8h.8M197.0 648.0h.8M221.8 650.2h.8M204.0 640.3h.8M204.8 654.4h.8M214.6 648.2h.8M214.4 641.4h.8M201.4 649.6h.8M208.3 656.0h.8M204.0 633.5h.8M216.1 664.2h.8M210.2 647.4h.8M201.5 648.2h.8M193.3 646.9h.8M202.0 636.5h.8M206.0 651.2h.8M220.4 650.4h.8M219.0 646.1h.8M201.7 649.9h.8M198.7 647.8h.8M198.1 640.7h.8M200.8 651.7h.8M204.8 644.1h.8M218.7 649.5h.8M211.7 651.5h.8M212.8 649.3h.8M200.4 650.0h.8M209.7 653.8h.8M210.7 652.8h.8M198.1 654.7h.8M215.2 650.2h.8M209.5 651.2h.8M219.6 641.8h.8M205.6 654.5h.8M194.8 644.3h.8M222.8 644.4h.8M207.9 645.0h.8M207.2 645.4h.8M209.5 641.1h.8M222.5 655.9h.8M211.5 648.7h.8M210.5 650.1h.8M213.4 649.7h.8M205.8 660.2h.8M217.9 664.2h.8M217.0 641.4h.8M213.3 658.1h.8M211.6 659.3h.8M218.2 655.5h.8M213.9 652.8h.8M221.2 645.3h.8M197.9 656.8h.8M195.8 652.8h.8M210.3 660.8h.8M201.7 644.2h.8M208.5 650.8h.8M202.7 644.5h.8M209.2 656.9h.8M191.4 654.9h.8M213.2 649.1h.8M200.5 645.5h.8M191.8 648.7h.8M208.2 650.4h.8M210.8 642.8h.8M215.4 650.7h.8M208.6 652.5h.8M210.3 656.2h.8M209.9 652.3h.8M201.0 645.9h.8M195.2 649.6h.8M205.1 649.2h.8M212.5 648.4h.8M218.8 643.9h.8M219.3 659.3h.8M204.6 652.1h.8M215.3 647.5h.8M209.5 656.7h.8M211.4 648.2h.8M195.0 652.4h.8M213.6 661.8h.8M214.2 642.5h.8M198.4 638.2h.8M211.8 648.5h.8M207.4 645.3h.8M192.2 647.7h.8M191.3 632.1h.8M196.9 649.2h.8M216.2 652.1h.8M206.8 651.7h.8M213.1 657.9h.8M198.8 643.1h.8M231.2 643.7h.8M187.1 641.2h.8M201.2 642.0h.8M219.9 658.1h.8M198.7 664.4h.8M203.1 649.9h.8M199.9 642.0h.8M210.9 660.4h.8M212.3 650.9h.8M205.2 658.7h.8M195.1 646.0h.8M199.3 646.8h.8M204.5 644.0h.8M197.4 650.4h.8M225.2 655.2h.8M206.1 644.3h.8M212.6 653.8h.8M224.5 651.0h.8M221.0 646.8h.8M211.8 656.3h.8M203.6 637.7h.8M209.4 653.1h.8M218.4 659.8h.8M223.2 646.8h.8M221.7 656.0h.8M214.9 638.2h.8M211.9 651.7h.8M209.0 668.6h.8M202.3 646.8h.8M209.9 652.9h.8M198.3 640.6h.8M207.2 641.7h.8M212.4 647.2h.8M195.1 652.4h.8M211.5 654.7h.8M208.3 653.9h.8M204.3 637.6h.8M204.3 647.4h.8M203.4 650.9h.8M221.4 657.7h.8M211.3 654.9h.8M199.2 662.1h.8M208.9 659.2h.8M216.5 658.9h.8M222.4 652.8h.8M215.9 650.6h.8M207.7 636.0h.8M208.5 649.7h.8M210.2 644.4h.8M197.9 650.4h.8M205.5 652.9h.8M198.6 637.9h.8M211.0 652.3h.8M209.0 652.8h.8M208.9 649.1h.8M199.6 649.7h.8M206.2 646.9h.8M194.9 644.3h.8M211.1 654.7h.8M194.8 653.7h.8M201.7 655.4h.8M205.4 642.4h.8M215.3 641.1h.8M209.9 649.8h.8M210.8 654.3h.8M209.8 658.2h.8M193.9 652.8h.8M218.1 641.8h.8M195.2 643.7h.8M197.9 654.5h.8M211.9 645.9h.8M202.9 660.4h.8M202.6 644.2h.8M223.4 661.0h.8M204.2 653.8h.8M193.8 654.3h.8M231.9 651.2h.8M213.4 650.3h.8M199.9 648.0h.8M203.3 640.4h.8M207.8 652.4h.8M212.3 653.7h.8M210.5 651.5h.8M204.7 640.3h.8M207.7 647.2h.8M195.7 647.7h.8M212.7 660.9h.8M200.1 657.2h.8M201.5 650.4h.8M218.1 651.7h.8M204.4 642.5h.8M216.3 645.5h.8M208.7 649.4h.8M210.7 659.9h.8M211.5 664.5h.8M217.0 614.2h.8M204.5 612.5h.8M208.3 619.0h.8M209.6 616.1h.8M203.4 615.4h.8M216.3 614.8h.8M206.0 612.8h.8M210.3 614.3h.8M209.8 615.1h.8M206.2 612.7h.8M208.1 612.5h.8M202.0 613.4h.8M210.9 609.0h.8M215.7 613.1h.8M208.6 615.2h.8M209.3 616.9h.8M213.4 605.6h.8M208.9 616.7h.8M211.4 616.6h.8M209.9 612.3h.8M204.1 619.5h.8M210.6 614.5h.8M210.6 613.5h.8M210.0 618.0h.8M211.2 609.2h.8M209.1 612.1h.8M209.3 613.0h.8M215.1 609.6h.8M211.8 615.7h.8M206.9 607.7h.8M209.1 607.7h.8M214.2 616.3h.8M199.4 612.9h.8M207.3 610.1h.8M205.4 618.7h.8M205.2 610.1h.8M213.3 613.3h.8M202.1 623.2h.8M210.5 610.2h.8M220.3 616.1h.8M210.4 612.3h.8M212.4 615.5h.8M210.3 618.5h.8M208.9 610.4h.8M204.6 616.0h.8M210.8 612.1h.8M213.8 616.5h.8M206.7 608.1h.8M207.0 609.1h.8M208.6 614.5h.8M211.2 605.4h.8M206.9 614.6h.8M211.1 614.3h.8M207.3 613.4h.8M213.3 612.7h.8M206.2 615.5h.8M212.3 609.6h.8M206.5 608.0h.8M208.6 614.8h.8M208.2 609.9h.8M205.1 613.2h.8M212.8 614.5h.8M209.5 618.6h.8M208.3 612.4h.8M205.3 618.1h.8M213.5 613.8h.8M210.3 609.7h.8M206.3 613.8h.8M211.8 604.8h.8M215.1 616.8h.8M204.5 614.0h.8M207.2 610.8h.8M206.9 611.2h.8M209.5 614.2h.8M213.1 613.1h.8M206.0 613.8h.8M211.2 614.0h.8M214.3 612.9h.8M203.8 615.2h.8M211.8 613.7h.8M209.5 609.6h.8M208.4 614.1h.8M208.4 608.3h.8M209.5 610.3h.8M210.4 614.0h.8M211.7 610.4h.8M209.8 614.8h.8M209.8 617.6h.8M204.9 615.9h.8M213.2 613.9h.8M205.0 612.7h.8M209.3 613.9h.8M213.4 616.0h.8M203.0 616.4h.8M201.9 610.1h.8M202.0 614.1h.8M206.9 617.0h.8M206.0 613.6h.8M215.1 612.8h.8M213.9 615.0h.8M209.5 608.5h.8M209.1 619.8h.8M208.9 615.1h.8M214.9 611.7h.8M209.5 613.9h.8M206.7 615.3h.8M214.4 616.0h.8M209.1 614.2h.8M202.5 614.4h.8M205.1 616.8h.8M205.9 616.7h.8M206.8 611.3h.8M202.4 614.0h.8M210.3 617.2h.8M205.6 607.0h.8M212.4 604.0h.8M204.5 615.9h.8M208.2 608.2h.8M207.7 617.9h.8M208.1 611.7h.8M213.4 611.4h.8M209.5 617.9h.8M202.2 609.8h.8M211.9 613.1h.8M216.1 613.5h.8M209.3 608.0h.8M204.5 618.3h.8M205.9 613.7h.8M207.6 621.6h.8M202.1 614.5h.8M208.8 609.3h.8M207.5 615.2h.8M220.4 619.1h.8M211.5 614.3h.8M203.2 607.7h.8M211.2 608.0h.8M213.7 615.9h.8M215.0 615.3h.8M205.6 617.7h.8M205.2 613.4h.8M208.6 610.6h.8M208.8 613.9h.8M205.8 618.8h.8M207.3 612.0h.8M211.4 612.6h.8M208.9 614.1h.8M202.2 619.7h.8M205.0 606.7h.8M210.6 615.0h.8M209.9 610.3h.8M205.3 613.2h.8M208.7 617.0h.8M208.9 615.3h.8M208.8 606.7h.8M205.3 618.5h.8M210.2 618.1h.8M209.2 613.4h.8M207.2 617.5h.8M215.7 610.9h.8M210.5 611.1h.8M210.0 608.3h.8M203.7 615.2h.8M210.3 613.5h.8M215.3 611.5h.8M208.7 618.2h.8M209.3 611.6h.8M213.3 613.4h.8M207.8 608.9h.8M203.0 606.9h.8M205.1 611.9h.8M207.4 616.0h.8M207.0 637.9h.8M211.7 623.1h.8M216.7 633.5h.8M210.4 641.0h.8M202.4 624.3h.8M206.4 630.4h.8M202.1 634.7h.8M204.1 630.3h.8M209.0 622.7h.8M211.9 621.2h.8M198.1 636.4h.8M206.0 614.9h.8M205.0 630.3h.8M205.7 632.8h.8M202.7 627.6h.8M204.5 624.5h.8M207.4 635.6h.8M205.2 624.0h.8M208.9 629.0h.8M197.2 625.8h.8M203.9 618.9h.8M203.3 621.1h.8M213.3 622.0h.8M204.1 611.2h.8M204.6 632.1h.8M203.1 630.0h.8M206.6 625.7h.8M216.5 619.9h.8M206.6 615.9h.8M209.1 620.8h.8M203.3 631.8h.8M202.9 632.8h.8M198.3 632.4h.8M202.5 609.9h.8M209.6 639.5h.8M207.2 639.4h.8M209.1 620.3h.8M212.1 625.5h.8M210.0 629.5h.8M202.7 623.6h.8M201.4 630.4h.8M200.5 642.0h.8M206.2 614.2h.8M206.5 617.7h.8M211.1 629.8h.8M201.6 637.0h.8M209.6 630.4h.8M201.1 618.7h.8M215.1 612.9h.8M207.0 628.2h.8M200.9 615.0h.8M199.2 634.6h.8M202.0 633.7h.8M208.1 626.8h.8M204.3 622.3h.8M206.6 621.9h.8M200.5 623.9h.8M212.7 637.4h.8M203.7 613.5h.8M201.0 619.5h.8M206.6 625.9h.8M209.8 640.1h.8M205.2 634.8h.8M207.4 620.3h.8M203.9 619.3h.8M198.2 633.6h.8M209.9 631.5h.8M204.9 628.1h.8M207.4 628.1h.8M204.3 626.1h.8M205.8 633.9h.8M210.1 617.8h.8M216.1 631.1h.8M203.2 614.9h.8M207.6 635.2h.8M202.7 624.0h.8M212.6 634.5h.8M208.8 631.9h.8M214.1 623.2h.8M207.3 623.0h.8M201.6 614.7h.8M203.5 620.7h.8M203.6 631.5h.8M204.0 620.0h.8M204.2 622.2h.8M204.8 636.3h.8M204.2 627.6h.8M205.1 622.0h.8M207.3 630.2h.8M205.9 633.0h.8M206.4 634.7h.8M203.8 632.9h.8M208.1 625.3h.8M203.8 621.0h.8M201.9 622.6h.8M204.0 624.1h.8M213.8 625.5h.8M202.1 637.5h.8M209.7 621.8h.8M208.9 629.4h.8M209.5 623.5h.8M206.6 625.5h.8M203.7 626.9h.8M211.5 624.8h.8M203.5 621.9h.8M208.3 625.6h.8M201.0 617.2h.8M204.4 632.6h.8M211.4 635.0h.8M183.6 646.2h.8M190.6 639.3h.8M165.5 655.5h.8M191.3 647.1h.8M192.1 649.4h.8M180.9 633.7h.8M183.1 635.4h.8M181.8 649.2h.8M176.6 642.2h.8M196.3 643.4h.8M176.4 645.1h.8M183.0 651.4h.8M181.5 654.9h.8M191.2 658.0h.8M187.2 655.4h.8M172.4 633.0h.8M185.8 642.2h.8M180.9 645.6h.8M186.3 647.5h.8M174.4 649.2h.8M187.4 640.1h.8M179.6 647.4h.8M183.2 640.7h.8M189.2 655.0h.8M183.6 638.1h.8M184.2 639.0h.8M175.4 647.9h.8M185.8 634.3h.8M181.5 640.4h.8M178.1 650.0h.8M185.8 633.1h.8M173.4 657.2h.8M170.9 649.8h.8M187.0 648.0h.8M178.1 641.1h.8M182.4 656.1h.8M185.7 631.2h.8M187.2 650.6h.8M190.7 640.7h.8M185.0 637.6h.8" stroke="#d82030" stroke-width=".8" stroke-opacity=".72"/>
<path d="M230.6 633.7h.7M208.5 649.3h.7M243.8 651.9h.7M177.8 619.0h.7M194.5 617.2h.7M196.4 605.4h.7M252.4 634.5h.7M203.7 655.9h.7M201.8 605.6h.7M189.7 588.8h.7M202.6 655.2h.7M249.6 627.4h.7M228.5 657.7h.7M197.1 656.5h.7M242.4 630.7h.7M193.1 630.4h.7M258.0 630.8h.7M250.3 653.1h.7M214.9 652.0h.7M188.9 624.2h.7M258.6 625.5h.7M226.5 625.8h.7M199.7 630.0h.7M231.5 642.9h.7M191.8 637.8h.7M224.2 640.9h.7M250.1 613.7h.7M251.6 641.2h.7M207.6 631.2h.7M201.6 625.2h.7M244.2 627.3h.7M224.6 610.4h.7M247.5 594.5h.7M215.3 594.9h.7M233.3 626.5h.7M226.2 642.7h.7M224.1 603.6h.7M195.4 605.7h.7M217.1 621.2h.7M256.4 646.9h.7" stroke="#e08080" stroke-width=".7" stroke-opacity=".45"/>
</g>
<rect x="169.8" y="583.4" width="91.80000000000001" height="77.60000000000002" fill="none" stroke="#6a6a6a" stroke-width="0.9"/>
<line x1="192.9" y1="583.4" x2="192.9" y2="661" stroke="#5a5a5a" stroke-width="0.8"/>
<line x1="169.8" y1="635.7" x2="261.6" y2="635.7" stroke="#5a5a5a" stroke-width="0.8"/>
<path d="M169.8 659.0h-2.6M169.8 654.2h-1.5M169.8 651.4h-1.5M169.8 649.4h-1.5M169.8 647.8h-1.5M169.8 646.5h-1.5M169.8 645.5h-1.5M169.8 644.6h-1.5M169.8 643.7h-1.5M169.8 643.0h-2.6M169.8 638.2h-1.5M169.8 635.4h-1.5M169.8 633.4h-1.5M169.8 631.8h-1.5M169.8 630.5h-1.5M169.8 629.5h-1.5M169.8 628.6h-1.5M169.8 627.7h-1.5M169.8 627.0h-2.6M169.8 622.2h-1.5M169.8 619.4h-1.5M169.8 617.4h-1.5M169.8 615.8h-1.5M169.8 614.5h-1.5M169.8 613.5h-1.5M169.8 612.6h-1.5M169.8 611.7h-1.5M169.8 611.0h-2.6M169.8 606.2h-1.5M169.8 603.4h-1.5M169.8 601.4h-1.5M169.8 599.8h-1.5M169.8 598.5h-1.5M169.8 597.5h-1.5M169.8 596.6h-1.5M169.8 595.7h-1.5M169.8 595.0h-2.6M169.8 590.2h-1.5M169.8 587.4h-1.5M171.8 661.0v2.6M177.5 661.0v1.5M180.9 661.0v1.5M183.3 661.0v1.5M185.1 661.0v1.5M186.7 661.0v1.5M187.9 661.0v1.5M189.0 661.0v1.5M190.0 661.0v1.5M190.9 661.0v2.6M196.6 661.0v1.5M200.0 661.0v1.5M202.4 661.0v1.5M204.2 661.0v1.5M205.7 661.0v1.5M207.0 661.0v1.5M208.1 661.0v1.5M209.1 661.0v1.5M210.0 661.0v2.6M215.7 661.0v1.5M219.1 661.0v1.5M221.5 661.0v1.5M223.3 661.0v1.5M224.8 661.0v1.5M226.1 661.0v1.5M227.2 661.0v1.5M228.2 661.0v1.5M229.1 661.0v2.6M234.8 661.0v1.5M238.2 661.0v1.5M240.6 661.0v1.5M242.4 661.0v1.5M243.9 661.0v1.5M245.2 661.0v1.5M246.3 661.0v1.5M247.3 661.0v1.5M248.1 661.0v2.6M253.9 661.0v1.5M257.3 661.0v1.5" stroke="#3a3a3a" stroke-width=".65"/>
<text x="171.8" y="591.8" font-size="8.2" font-weight="bold" text-anchor="start" fill="#000">0.2</text>
<text x="260.6" y="591.8" font-size="8.2" font-weight="bold" text-anchor="end" fill="#000">6.2</text>
<text x="171.8" y="658.8" font-size="8.2" font-weight="bold" text-anchor="start" fill="#000">2.1</text>
<text x="260.20000000000005" y="658.8" font-size="8.2" font-weight="bold" text-anchor="end" fill="#000">91.5</text>
<text x="28" y="530" font-size="9.5" font-weight="bold" font-style="italic" text-anchor="start" fill="#000" textLength="27.5" lengthAdjust="spacingAndGlyphs">Fanca</text>
<text x="28" y="642.5" font-size="9.4" font-weight="bold" font-style="italic" text-anchor="start" fill="#000" textLength="33" lengthAdjust="spacingAndGlyphs">Fancd2</text>
<line x1="63.5" y1="554.5" x2="63.5" y2="660" stroke="#000" stroke-width="1.4"/>
<text transform="translate(60.3,595) rotate(-90)" font-size="8.2" text-anchor="middle" fill="#000" textLength="22.8" lengthAdjust="spacingAndGlyphs">Foxp3</text>
<line x1="70.6" y1="668.8" x2="196.3" y2="668.8" stroke="#000" stroke-width="1.4"/>
<text x="111.1" y="676.6" font-size="7.6" font-weight="bold" text-anchor="start" fill="#000" textLength="16.4" lengthAdjust="spacingAndGlyphs">CD4</text>
<line x1="325.75" y1="520.25" x2="325.75" y2="619.9" stroke="#000" stroke-width="1.0"/>
<line x1="325.25" y1="619.3" x2="479.5" y2="619.3" stroke="#000" stroke-width="1.0"/>
<line x1="323.25" y1="619.3" x2="325.75" y2="619.3" stroke="#000" stroke-width="0.8"/>
<text x="321.45" y="621.8199999999999" font-size="7" text-anchor="end" fill="#000">0</text>
<line x1="323.25" y1="599.5899999999999" x2="325.75" y2="599.5899999999999" stroke="#000" stroke-width="0.8"/>
<text x="321.45" y="602.1099999999999" font-size="7" text-anchor="end" fill="#000">2</text>
<line x1="323.25" y1="579.88" x2="325.75" y2="579.88" stroke="#000" stroke-width="0.8"/>
<text x="321.45" y="582.4" font-size="7" text-anchor="end" fill="#000">4</text>
<line x1="323.25" y1="560.17" x2="325.75" y2="560.17" stroke="#000" stroke-width="0.8"/>
<text x="321.45" y="562.6899999999999" font-size="7" text-anchor="end" fill="#000">6</text>
<line x1="323.25" y1="540.46" x2="325.75" y2="540.46" stroke="#000" stroke-width="0.8"/>
<text x="321.45" y="542.98" font-size="7" text-anchor="end" fill="#000">8</text>
<line x1="323.25" y1="520.75" x2="325.75" y2="520.75" stroke="#000" stroke-width="0.8"/>
<text x="321.45" y="523.27" font-size="7" text-anchor="end" fill="#000">10</text>
<rect x="331.25" y="548.75" width="27.0" height="70.54999999999995" fill="#000" stroke="none" stroke-width="1"/>
<line x1="344.75" y1="548.75" x2="344.75" y2="530.5" stroke="#111" stroke-width="1.5"/>
<line x1="339.25" y1="530.5" x2="350.25" y2="530.5" stroke="#111" stroke-width="1.5"/>
<line x1="344.75" y1="619.3" x2="344.75" y2="621.0999999999999" stroke="#000" stroke-width="0.8"/>
<rect x="369.5" y="553.75" width="27.25" height="65.54999999999995" fill="#9a9a9e" stroke="none" stroke-width="1"/>
<line x1="383.125" y1="553.75" x2="383.125" y2="536.25" stroke="#111" stroke-width="1.5"/>
<line x1="377.625" y1="536.25" x2="388.625" y2="536.25" stroke="#111" stroke-width="1.5"/>
<line x1="383.125" y1="619.3" x2="383.125" y2="621.0999999999999" stroke="#000" stroke-width="0.8"/>
<rect x="408" y="549.25" width="27" height="70.04999999999995" fill="#7b7b7b" stroke="none" stroke-width="1"/>
<line x1="421.5" y1="549.25" x2="421.5" y2="536.75" stroke="#111" stroke-width="1.5"/>
<line x1="416.0" y1="536.75" x2="427.0" y2="536.75" stroke="#111" stroke-width="1.5"/>
<line x1="421.5" y1="619.3" x2="421.5" y2="621.0999999999999" stroke="#000" stroke-width="0.8"/>
<rect x="447" y="554.5" width="26.25" height="64.79999999999995" fill="#d5d5d5" stroke="none" stroke-width="1"/>
<line x1="460.125" y1="554.5" x2="460.125" y2="530.75" stroke="#111" stroke-width="1.5"/>
<line x1="454.625" y1="530.75" x2="465.625" y2="530.75" stroke="#111" stroke-width="1.5"/>
<line x1="460.125" y1="619.3" x2="460.125" y2="621.0999999999999" stroke="#000" stroke-width="0.8"/>
<text transform="translate(307.8,569.2) rotate(-90)" font-size="6.6" font-weight="bold" text-anchor="middle" textLength="124" lengthAdjust="spacingAndGlyphs">Donor-derived CD4<tspan dy="-2" font-size="4.5">+</tspan><tspan dy="2">Foxp3</tspan><tspan dy="-2" font-size="4.5">+</tspan><tspan dy="2"> cells(%)</tspan></text>
<text transform="translate(346.25,628) rotate(-45)" font-size="8.4" font-weight="bold" text-anchor="end">Fanca<tspan dy="-3.2" font-size="5.4">+/+</tspan></text>
<text transform="translate(384.5,628) rotate(-45)" font-size="8.4" font-weight="bold" text-anchor="end">Fanca<tspan dy="-3.2" font-size="5.4">-/-</tspan></text>
<text transform="translate(423.0,628) rotate(-45)" font-size="8.4" font-weight="bold" text-anchor="end">Fancd2<tspan dy="-3.2" font-size="5.4">+/+</tspan></text>
<text transform="translate(461.5,628) rotate(-45)" font-size="8.4" font-weight="bold" text-anchor="end">Fancd2<tspan dy="-3.2" font-size="5.4">-/-</tspan></text>
</svg></body></html>
